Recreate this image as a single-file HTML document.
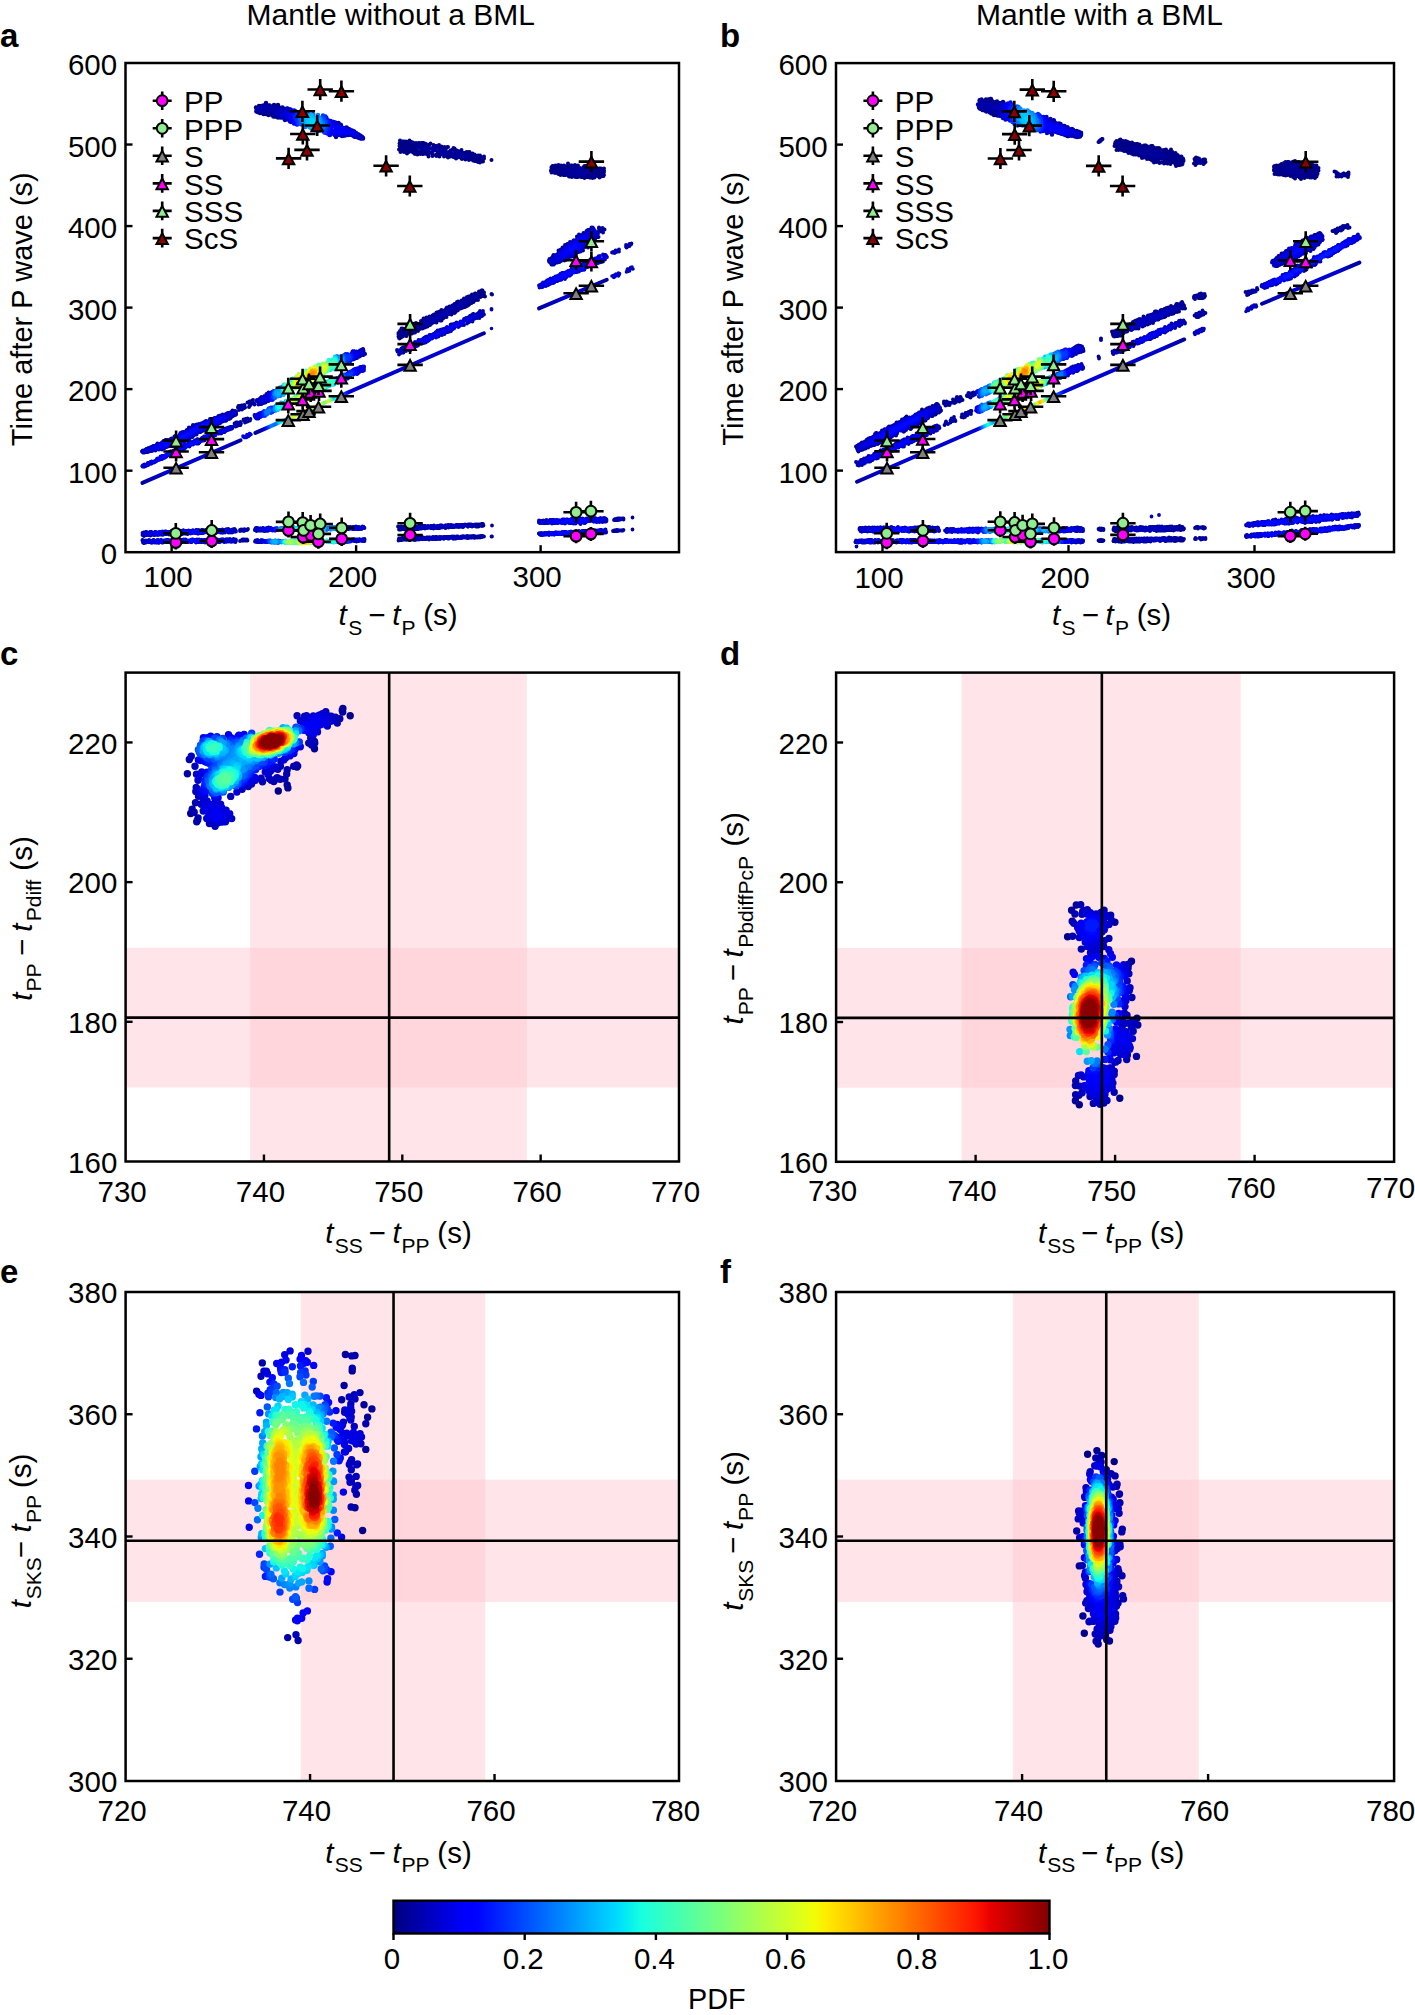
<!DOCTYPE html><html><head><meta charset="utf-8"><style>html,body{margin:0;padding:0;background:#fff;overflow:hidden;width:1415px;height:2015px;}svg{display:block;}text{font-family:"Liberation Sans",sans-serif;fill:#000;}</style></head><body>
<svg width="1415" height="2015" viewBox="0 0 1415 2015">
<rect width="1415" height="2015" fill="#fff"/>
<defs>
<clipPath id="clipa"><rect x="125.5" y="63.0" width="553.5" height="489.20000000000005"/></clipPath>
<clipPath id="clipb"><rect x="836.0" y="63.1" width="558.0" height="489.0"/></clipPath>
<clipPath id="clipc"><rect x="125.6" y="672.6" width="553.4" height="488.9"/></clipPath>
<clipPath id="clipd"><rect x="836.1" y="672.6" width="557.9999999999999" height="489.19999999999993"/></clipPath>
<clipPath id="clipe"><rect x="125.6" y="1292.0" width="553.4" height="489.0"/></clipPath>
<clipPath id="clipf"><rect x="836.1" y="1292.0" width="557.9999999999999" height="489.0"/></clipPath>
<linearGradient id="cbar" x1="0" x2="1" y1="0" y2="0"><stop offset="0.0000" stop-color="#000080"/><stop offset="0.0157" stop-color="#000092"/><stop offset="0.0314" stop-color="#0000a4"/><stop offset="0.0471" stop-color="#0000b6"/><stop offset="0.0627" stop-color="#0000c8"/><stop offset="0.0784" stop-color="#0000da"/><stop offset="0.0941" stop-color="#0000ed"/><stop offset="0.1098" stop-color="#0000ff"/><stop offset="0.1255" stop-color="#0000ff"/><stop offset="0.1412" stop-color="#0010ff"/><stop offset="0.1569" stop-color="#0020ff"/><stop offset="0.1725" stop-color="#0030ff"/><stop offset="0.1882" stop-color="#0040ff"/><stop offset="0.2039" stop-color="#0050ff"/><stop offset="0.2196" stop-color="#0060ff"/><stop offset="0.2353" stop-color="#0070ff"/><stop offset="0.2510" stop-color="#0080ff"/><stop offset="0.2667" stop-color="#0090ff"/><stop offset="0.2824" stop-color="#00a0ff"/><stop offset="0.2980" stop-color="#00b0ff"/><stop offset="0.3137" stop-color="#00c0ff"/><stop offset="0.3294" stop-color="#00d0ff"/><stop offset="0.3451" stop-color="#00e0fb"/><stop offset="0.3608" stop-color="#09f0ee"/><stop offset="0.3765" stop-color="#16ffe1"/><stop offset="0.3922" stop-color="#23ffd4"/><stop offset="0.4078" stop-color="#30ffc7"/><stop offset="0.4235" stop-color="#3cffba"/><stop offset="0.4392" stop-color="#49ffad"/><stop offset="0.4549" stop-color="#56ffa0"/><stop offset="0.4706" stop-color="#63ff94"/><stop offset="0.4863" stop-color="#70ff87"/><stop offset="0.5020" stop-color="#7dff7a"/><stop offset="0.5176" stop-color="#8aff6d"/><stop offset="0.5333" stop-color="#97ff60"/><stop offset="0.5490" stop-color="#a4ff53"/><stop offset="0.5647" stop-color="#b1ff46"/><stop offset="0.5804" stop-color="#beff39"/><stop offset="0.5961" stop-color="#caff2c"/><stop offset="0.6118" stop-color="#d7ff1f"/><stop offset="0.6275" stop-color="#e4ff13"/><stop offset="0.6431" stop-color="#f1fc06"/><stop offset="0.6588" stop-color="#feed00"/><stop offset="0.6745" stop-color="#ffde00"/><stop offset="0.6902" stop-color="#ffd000"/><stop offset="0.7059" stop-color="#ffc100"/><stop offset="0.7216" stop-color="#ffb200"/><stop offset="0.7373" stop-color="#ffa300"/><stop offset="0.7529" stop-color="#ff9400"/><stop offset="0.7686" stop-color="#ff8600"/><stop offset="0.7843" stop-color="#ff7700"/><stop offset="0.8000" stop-color="#ff6800"/><stop offset="0.8157" stop-color="#ff5900"/><stop offset="0.8314" stop-color="#ff4a00"/><stop offset="0.8471" stop-color="#ff3b00"/><stop offset="0.8627" stop-color="#ff2d00"/><stop offset="0.8784" stop-color="#ff1e00"/><stop offset="0.8941" stop-color="#fa0f00"/><stop offset="0.9098" stop-color="#e80000"/><stop offset="0.9255" stop-color="#d60000"/><stop offset="0.9412" stop-color="#c40000"/><stop offset="0.9569" stop-color="#b10000"/><stop offset="0.9725" stop-color="#9f0000"/><stop offset="0.9882" stop-color="#8d0000"/><stop offset="1" stop-color="#800000"/></linearGradient>
<filter id="blur1" x="-20%" y="-20%" width="140%" height="140%"><feGaussianBlur stdDeviation="1.2"/></filter>
<filter id="blur2" x="-30%" y="-30%" width="160%" height="160%"><feGaussianBlur stdDeviation="2.5"/></filter>
<filter id="blur3" x="-30%" y="-30%" width="160%" height="160%"><feGaussianBlur stdDeviation="4"/></filter>
</defs>
<text x="390.8" y="24.5" font-size="30" text-anchor="middle">Mantle without a BML</text>
<text x="1099.5" y="24.5" font-size="30" text-anchor="middle">Mantle with a BML</text>
<text x="0" y="47" font-size="33" font-weight="bold">a</text>
<text x="720" y="47" font-size="33" font-weight="bold">b</text>
<text x="0" y="665" font-size="33" font-weight="bold">c</text>
<text x="720" y="665" font-size="33" font-weight="bold">d</text>
<text x="0" y="1283" font-size="33" font-weight="bold">e</text>
<text x="720" y="1283" font-size="33" font-weight="bold">f</text>
<g clip-path="url(#clipc)" fill="#ffc0cb" fill-opacity="0.42">
<rect x="250.12" y="672.6" width="276.70" height="488.9"/>
<rect x="125.6" y="947.78" width="553.4" height="139.69"/>
</g>
<g clip-path="url(#clipd)" fill="#ffc0cb" fill-opacity="0.42">
<rect x="961.65" y="672.6" width="279.00" height="489.19999999999993"/>
<rect x="836.1" y="947.95" width="557.9999999999999" height="139.77"/>
</g>
<g clip-path="url(#clipe)" fill="#ffc0cb" fill-opacity="0.42">
<rect x="300.84" y="1292.0" width="184.47" height="489.0"/>
<rect x="125.6" y="1479.65" width="553.4" height="122.25"/>
</g>
<g clip-path="url(#clipf)" fill="#ffc0cb" fill-opacity="0.42">
<rect x="1012.80" y="1292.0" width="186.00" height="489.0"/>
<rect x="836.1" y="1479.65" width="557.9999999999999" height="122.25"/>
</g>
<g clip-path="url(#clipc)" fill="none" stroke-linecap="round" stroke-width="7.40">
<path stroke="#000089" d="M350.2 715.8h0M278.3 791.0h0"/>
<path stroke="#00009b" d="M287.9 787.9h0M287.2 784.9h0M342.9 708.5h0M314.5 748.7h0M190.7 813.5h0M342.2 710.4h0M297.7 766.1h0M297.0 767.1h0M342.7 712.1h0"/>
<path stroke="#0000ad" d="M192.2 809.3h0M286.7 773.9h0M187.4 773.7h0M296.6 764.9h0M285.0 778.9h0M297.1 715.8h0M196.7 821.8h0M287.2 769.8h0M293.7 766.2h0M197.4 820.2h0M194.2 812.2h0M339.8 718.7h0M197.7 820.1h0M189.3 759.5h0M195.5 802.7h0M262.5 781.8h0M280.2 779.2h0M273.8 781.6h0M311.6 745.0h0M337.3 723.0h0M314.8 743.1h0M198.1 818.0h0M271.2 780.3h0M308.7 743.1h0M276.3 778.8h0M314.5 741.5h0"/>
<path stroke="#0000bf" d="M277.2 777.6h0M311.7 742.5h0M269.2 778.4h0M231.7 818.6h0M280.4 766.2h0M261.1 778.3h0M195.8 791.5h0M335.4 717.3h0M215.1 826.2h0M325.8 711.7h0M230.7 796.4h0M196.2 787.5h0M209.4 823.6h0M277.8 769.3h0M196.6 788.1h0M198.5 796.2h0M197.1 789.8h0M195.0 766.2h0M268.2 774.8h0M242.1 789.2h0M304.6 716.3h0M333.3 720.6h0M248.3 786.5h0M306.5 715.6h0M191.3 756.2h0M331.2 716.2h0M248.1 786.3h0M332.8 720.1h0M310.7 737.9h0M255.4 780.3h0M251.6 784.0h0M201.2 804.2h0"/>
<path stroke="#0000d1" d="M196.5 774.2h0M269.5 772.1h0M229.1 818.1h0M327.4 726.1h0M236.9 792.1h0M229.7 813.8h0M203.3 800.4h0M293.9 753.5h0M225.5 821.7h0M275.4 767.0h0M255.6 778.6h0M322.4 713.6h0M329.0 716.2h0M271.1 770.4h0M331.0 720.7h0M200.8 793.5h0M220.6 804.1h0M272.9 768.8h0M268.1 771.4h0M330.7 721.3h0M300.4 720.9h0M206.7 818.5h0M253.3 780.5h0M200.5 792.4h0M313.2 734.9h0M203.2 811.0h0M289.8 755.9h0M198.0 780.2h0M317.5 731.9h0M303.9 719.3h0M207.1 801.0h0M283.8 760.0h0M222.1 822.1h0M204.6 804.3h0M328.4 721.9h0M218.2 822.8h0M325.9 716.6h0M226.1 810.2h0M323.0 715.5h0M319.0 715.1h0M265.3 771.9h0M313.3 716.0h0M198.6 779.2h0M306.9 718.4h0M227.3 815.6h0M214.5 803.3h0M252.5 779.1h0M272.8 766.9h0M280.9 761.3h0M221.6 807.5h0M226.8 813.3h0M271.2 767.9h0"/>
<path stroke="#0000e3" d="M204.9 808.8h0M290.6 754.6h0M228.5 734.7h0M205.3 807.5h0M226.4 813.2h0M285.7 757.8h0M205.2 809.8h0M325.5 722.9h0M225.3 811.6h0M319.0 716.5h0M316.3 716.8h0M313.1 732.4h0M202.6 793.3h0M206.4 807.1h0M206.3 807.5h0M210.7 804.5h0M208.9 805.0h0M324.5 719.1h0M209.4 816.7h0M324.2 723.2h0M254.5 777.1h0M220.1 808.1h0M300.3 746.8h0M324.0 723.1h0M223.2 818.8h0M225.2 815.7h0M225.2 813.8h0M308.9 732.7h0M224.9 816.0h0M211.1 805.6h0M322.8 724.0h0M213.8 819.5h0M205.0 795.1h0M214.9 819.8h0M293.0 752.2h0M223.8 812.4h0M323.0 721.7h0M216.0 819.8h0M210.8 816.5h0M215.5 807.4h0M208.7 813.3h0M309.8 731.9h0M221.9 810.8h0M321.5 719.5h0M221.9 818.2h0M210.7 807.3h0M218.1 797.7h0M320.5 724.8h0M314.8 718.9h0M214.7 797.8h0M316.9 718.8h0M220.6 810.4h0M214.0 818.3h0M317.3 727.5h0M209.2 810.0h0M209.3 811.9h0M209.5 809.5h0M303.2 725.7h0M201.8 771.9h0M321.2 721.3h0M310.6 720.5h0M320.9 721.2h0M220.1 818.3h0M220.2 810.9h0M248.9 780.3h0M217.2 818.7h0M304.8 724.4h0M203.9 793.3h0M210.8 809.3h0M251.0 778.6h0M315.9 727.9h0M211.6 815.0h0M318.4 725.5h0M213.2 808.9h0M201.8 773.7h0M211.1 809.9h0M306.6 730.1h0M211.5 814.4h0M217.3 818.2h0M311.2 721.0h0"/>
<path stroke="#0000f5" d="M304.3 726.6h0M314.3 720.7h0M310.5 729.8h0M238.9 735.3h0M317.0 720.9h0M218.4 817.3h0M305.3 728.0h0M306.4 730.3h0M202.5 790.8h0M291.2 752.8h0M307.1 724.1h0M316.5 725.6h0M306.0 728.2h0M216.7 816.8h0M216.6 816.7h0M198.4 759.9h0M218.6 816.3h0M312.6 728.2h0M316.1 721.9h0M216.2 811.7h0M216.6 811.8h0M305.6 729.1h0M315.6 725.7h0M218.0 816.0h0M307.9 724.5h0M217.2 812.6h0M310.8 728.3h0M215.4 814.1h0M315.5 723.2h0M315.3 724.5h0M308.9 727.6h0M308.7 726.7h0M313.5 724.0h0M246.4 781.6h0M312.4 724.4h0M310.4 725.3h0M312.3 725.2h0M304.2 728.0h0M203.4 737.7h0M295.1 749.3h0"/>
<path stroke="#0000ff" d="M237.9 736.7h0M200.9 760.5h0M302.8 727.5h0M270.0 764.1h0M244.1 734.4h0M231.0 737.8h0M242.0 784.4h0M210.7 736.2h0"/>
<path stroke="#0008ff" d="M266.7 764.9h0M215.9 795.8h0M203.9 787.8h0M267.7 764.2h0M303.9 730.3h0M244.0 781.6h0M205.0 761.5h0M206.3 762.2h0M205.9 790.9h0M207.1 772.1h0M272.0 761.0h0M205.6 761.2h0M263.1 765.8h0M207.3 737.7h0M250.8 774.1h0M241.5 783.3h0M288.7 751.9h0"/>
<path stroke="#0018ff" d="M208.9 763.3h0M270.0 761.5h0M205.0 780.8h0M255.7 769.6h0M241.7 782.7h0M204.8 784.2h0M230.4 739.7h0M300.8 728.5h0M206.1 778.1h0M274.2 758.9h0M217.0 736.8h0"/>
<path stroke="#0028ff" d="M248.5 774.6h0M259.0 766.4h0M292.0 749.0h0M244.2 779.3h0M301.0 729.2h0M246.2 776.9h0M212.4 793.5h0M273.1 758.9h0M289.6 750.5h0M237.0 740.4h0M243.1 780.1h0M230.5 740.7h0M258.2 766.1h0M205.9 782.9h0M264.1 762.9h0M211.8 768.8h0M208.2 775.7h0M213.4 764.9h0M251.0 770.7h0M207.2 778.7h0M204.4 740.2h0"/>
<path stroke="#0038ff" d="M299.3 742.0h0M222.8 738.5h0M202.9 741.1h0M208.1 776.8h0M212.5 768.5h0M298.2 728.0h0M238.2 784.3h0M246.7 774.7h0M264.2 762.0h0M256.2 766.0h0M208.2 777.3h0M251.7 733.2h0M232.7 742.4h0M243.2 778.5h0M296.1 727.3h0M288.3 750.4h0M209.1 759.2h0M211.3 771.9h0M284.7 752.4h0M215.6 793.1h0M250.4 769.6h0M264.5 761.2h0M235.4 786.1h0"/>
<path stroke="#0048ff" d="M252.8 767.4h0M198.4 749.7h0M200.1 753.5h0M214.5 767.8h0M214.4 792.6h0M199.2 751.9h0M216.2 765.0h0M256.0 764.7h0M235.3 743.0h0M206.4 757.6h0M222.9 739.5h0M261.7 761.8h0M214.7 738.3h0M208.3 780.3h0M247.9 770.9h0M223.2 791.9h0M253.0 765.9h0"/>
<path stroke="#0058ff" d="M244.8 774.7h0M208.3 781.0h0M216.7 792.4h0M237.8 742.7h0M235.7 785.1h0M200.5 745.3h0M296.0 728.2h0M237.8 782.9h0M214.2 759.0h0M221.6 791.9h0M200.0 751.3h0M295.9 728.2h0M203.1 754.9h0M200.1 751.4h0M215.7 759.0h0"/>
<path stroke="#0068ff" d="M298.9 730.7h0M220.8 760.2h0M221.2 761.4h0M249.5 766.4h0M227.4 743.1h0M242.6 776.1h0M200.1 749.5h0M215.7 769.9h0M221.2 762.9h0M229.9 745.1h0M212.7 790.1h0M211.3 776.5h0M246.2 738.1h0M250.8 764.7h0M209.5 785.3h0M243.2 740.3h0M212.7 789.8h0M222.1 763.0h0M230.5 746.0h0M213.2 773.8h0M207.3 740.9h0"/>
<path stroke="#0078ff" d="M219.7 740.0h0M295.8 743.0h0M247.4 766.8h0M225.0 758.9h0M210.5 786.8h0M217.1 757.3h0M223.3 790.5h0M220.7 766.0h0M222.6 764.0h0M221.7 757.1h0M226.1 757.0h0M226.5 760.3h0M230.3 748.2h0M225.1 756.2h0M230.8 748.6h0"/>
<path stroke="#0087ff" d="M225.9 755.7h0M226.9 760.6h0M231.1 749.5h0M247.5 764.7h0M244.4 768.9h0M252.3 761.8h0M229.2 755.2h0M229.2 757.9h0M235.7 748.1h0M215.8 772.1h0M255.7 760.6h0M229.1 753.8h0M205.2 754.2h0M230.0 757.2h0M244.5 768.2h0M238.8 745.5h0M217.2 756.4h0M229.7 751.6h0M231.2 753.3h0M231.3 755.6h0M278.8 753.2h0M226.5 745.0h0M220.2 755.9h0M226.6 762.5h0M228.0 761.3h0M235.4 782.8h0M232.6 755.7h0M242.0 743.0h0"/>
<path stroke="#0097ff" d="M230.8 759.8h0M225.7 764.0h0M217.1 755.8h0M203.1 751.6h0M234.3 754.0h0M225.8 764.2h0M229.7 761.6h0M223.5 743.1h0M231.1 760.7h0M285.1 749.8h0M235.5 752.1h0M242.4 769.8h0M228.6 787.4h0M235.1 754.9h0M239.0 747.0h0M209.3 741.5h0M222.8 789.5h0M237.3 749.7h0M251.5 760.3h0M220.8 741.9h0M213.7 776.9h0M222.1 753.7h0M212.4 779.9h0"/>
<path stroke="#00a7ff" d="M225.6 750.2h0M222.9 752.9h0M230.9 762.8h0M246.8 761.0h0M235.8 759.8h0M210.2 754.8h0M228.7 764.0h0M238.6 748.7h0M293.3 743.9h0M216.4 789.0h0M226.4 765.4h0M231.7 785.0h0M208.8 742.0h0M238.5 777.3h0M249.1 760.2h0M222.4 768.2h0M235.3 761.2h0M221.8 742.9h0M242.1 762.6h0M215.7 774.6h0M237.9 752.2h0M263.4 757.2h0M229.6 764.2h0M257.7 758.4h0M239.4 748.4h0M238.9 758.7h0M222.8 768.3h0M239.4 761.8h0M243.1 760.5h0M241.6 760.6h0M203.7 750.3h0M238.9 757.5h0M295.5 730.9h0M238.8 763.1h0M212.5 782.6h0"/>
<path stroke="#00b7ff" d="M224.0 750.6h0M270.6 755.1h0M223.3 751.0h0M213.1 784.7h0M233.2 764.0h0M250.0 759.0h0M216.0 788.1h0M238.5 764.9h0M203.9 747.1h0M235.6 780.4h0M216.9 774.1h0M238.7 774.9h0M250.1 737.7h0M239.6 751.1h0M222.2 751.5h0M242.2 757.9h0M258.9 757.7h0M204.9 745.5h0M251.2 737.1h0M287.2 747.9h0M283.0 727.6h0M233.3 764.8h0M258.0 757.7h0"/>
<path stroke="#00c7ff" d="M237.3 766.2h0M240.3 752.9h0M216.2 753.7h0M236.1 766.0h0M216.4 787.5h0M248.8 758.0h0M240.6 750.5h0M256.4 757.6h0M207.4 752.5h0M236.6 766.8h0M241.2 753.4h0M223.5 769.5h0M257.6 757.3h0M250.1 757.7h0M205.0 747.3h0M222.6 748.1h0M286.7 728.3h0M226.0 786.8h0M246.5 757.0h0"/>
<path stroke="#00d7ff" d="M207.6 744.2h0M236.9 768.8h0M224.9 769.1h0M241.6 749.9h0M235.9 767.9h0M209.6 752.8h0M242.9 754.2h0M220.7 787.7h0M281.6 750.3h0M221.7 787.6h0M210.1 752.7h0M245.8 755.9h0M218.3 774.6h0M237.0 772.7h0M236.3 770.0h0"/>
<path stroke="#01e7f5" d="M207.4 751.1h0M206.6 750.1h0M295.6 733.7h0M284.2 748.7h0M242.8 750.3h0M206.5 746.4h0M274.2 752.9h0M235.3 777.3h0M227.5 769.3h0M211.4 752.3h0M211.1 743.5h0M221.6 772.4h0M215.4 781.4h0M243.3 751.3h0M211.9 752.2h0M269.0 754.4h0M220.3 773.7h0M243.3 749.8h0M234.3 770.1h0M251.5 738.1h0"/>
<path stroke="#0ef7e9" d="M216.3 751.6h0M247.1 742.1h0M235.5 772.9h0M215.9 781.6h0M235.3 774.7h0M229.9 769.7h0M247.1 742.3h0M223.3 772.2h0M287.6 746.3h0M219.1 746.2h0M214.3 751.5h0M223.4 772.2h0M216.7 779.7h0"/>
<path stroke="#1bffdc" d="M234.6 775.4h0M219.0 747.7h0M214.0 744.1h0M269.6 753.8h0M249.3 754.8h0M230.7 781.8h0M216.0 750.6h0M244.5 748.4h0M225.9 784.9h0M222.1 785.8h0M218.0 784.6h0M212.3 744.5h0M221.0 785.8h0M217.1 783.3h0M231.2 781.0h0M233.0 772.1h0M212.4 750.9h0M211.2 744.9h0M232.2 779.6h0M229.4 771.0h0M272.4 752.9h0M246.2 752.4h0M225.0 772.2h0M209.1 746.6h0M212.4 750.6h0M278.5 750.7h0M209.0 746.8h0"/>
<path stroke="#28ffcf" d="M217.4 782.9h0M209.1 747.0h0M269.6 730.5h0M246.2 751.9h0M224.0 773.1h0M216.9 746.3h0M230.3 781.2h0M224.3 784.7h0M209.5 748.6h0M289.3 730.3h0M294.0 738.8h0M223.6 773.7h0M246.0 746.0h0M225.2 784.3h0M220.9 784.8h0M261.7 754.7h0M225.5 784.0h0M218.7 779.0h0"/>
<path stroke="#35ffc2" d="M210.3 748.2h0M215.6 746.5h0M232.1 777.6h0M212.8 749.3h0M213.6 749.3h0M218.5 780.1h0M222.3 784.5h0M267.5 753.7h0M215.3 748.4h0M293.1 740.0h0M213.2 749.0h0M294.1 737.5h0M218.9 779.5h0M212.6 748.3h0M214.2 747.9h0M219.7 778.4h0M249.6 753.1h0M228.6 781.6h0M225.0 783.6h0M246.9 745.5h0M265.8 753.8h0M258.8 754.6h0M246.4 748.2h0M248.0 743.6h0"/>
<path stroke="#42ffb5" d="M219.4 779.8h0M246.5 748.2h0M230.4 774.6h0M230.5 774.8h0M222.3 776.2h0M225.6 782.9h0M224.5 783.3h0M224.8 774.7h0M224.7 774.8h0M221.2 783.0h0M247.4 750.3h0M221.4 778.0h0"/>
<path stroke="#4effa8" d="M220.6 781.5h0M247.4 746.4h0M225.1 782.1h0M221.0 780.2h0M221.7 778.5h0M273.0 751.7h0M287.6 730.6h0M273.4 751.6h0M226.5 780.9h0M286.1 730.3h0"/>
<path stroke="#5bff9c" d="M224.6 776.9h0M254.7 753.4h0M277.9 749.9h0M288.9 743.5h0M278.6 749.6h0M227.5 779.0h0M225.5 779.6h0M252.2 752.4h0"/>
<path stroke="#68ff8f" d="M254.3 738.5h0M250.6 751.1h0M268.8 731.7h0M259.1 735.6h0M284.2 730.4h0M250.6 751.0h0"/>
<path stroke="#75ff82" d="M287.7 731.4h0M265.7 752.7h0M251.9 751.5h0M275.4 750.3h0M281.2 747.8h0"/>
<path stroke="#82ff75" d="M268.5 752.0h0M281.9 730.6h0M259.2 752.7h0M291.6 738.1h0M253.5 751.4h0"/>
<path stroke="#8fff68" d="M288.3 732.3h0M271.5 751.1h0M279.0 730.7h0M256.5 738.0h0M291.2 735.4h0M274.5 731.2h0M289.7 733.5h0M273.7 731.3h0"/>
<path stroke="#9cff5b" d="M263.7 734.3h0M289.4 740.9h0M252.3 749.6h0M253.3 750.3h0"/>
<path stroke="#a8ff4e" d="M267.0 751.6h0M278.2 731.1h0M259.8 751.9h0M289.2 733.7h0M287.4 742.9h0M278.4 731.1h0M254.7 740.1h0M253.8 750.3h0M253.9 740.9h0M286.8 743.2h0"/>
<path stroke="#b5ff42" d="M278.4 731.3h0M254.4 740.8h0M277.3 748.5h0M268.2 733.1h0M254.4 750.0h0M290.1 736.5h0"/>
<path stroke="#c2ff35" d="M265.3 751.4h0M252.4 748.0h0M277.3 731.5h0M289.8 738.6h0M266.7 751.1h0M269.8 750.6h0M266.5 733.8h0M284.8 732.2h0M269.0 733.0h0"/>
<path stroke="#cfff28" d="M288.3 734.1h0M254.4 741.7h0M279.2 747.2h0M275.9 748.6h0"/>
<path stroke="#dcff1b" d="M283.5 732.2h0M265.9 750.9h0M253.7 742.8h0M285.3 743.6h0M272.4 749.6h0M277.1 731.9h0M275.2 732.1h0M278.8 747.3h0M263.3 750.9h0M277.6 732.0h0M277.8 732.0h0M280.5 746.4h0"/>
<path stroke="#e9ff0e" d="M253.5 746.8h0M275.9 732.2h0M284.7 743.7h0M272.3 749.3h0M258.4 750.1h0"/>
<path stroke="#f5f701" d="M280.2 732.2h0M259.0 738.3h0M261.8 736.7h0"/>
<path stroke="#ffe800" d="M256.2 748.7h0M287.1 740.6h0M287.9 738.9h0M256.9 748.9h0M280.9 745.6h0M279.1 732.5h0"/>
<path stroke="#ffda00" d="M270.4 749.3h0M270.6 733.6h0M262.7 750.0h0M258.1 749.2h0M287.7 737.2h0"/>
<path stroke="#ffcb00" d="M255.3 746.5h0M268.6 734.3h0M287.5 737.2h0M276.7 732.9h0M257.9 748.5h0M262.2 749.6h0"/>
<path stroke="#ffbc00" d="M277.3 732.9h0M272.8 748.3h0M257.7 740.6h0M259.9 738.8h0M263.6 736.6h0M284.9 741.8h0"/>
<path stroke="#ffad00" d="M262.8 737.1h0M286.3 739.6h0"/>
<path stroke="#ff9e00" d="M263.7 749.2h0M285.9 739.7h0M277.3 746.4h0M256.9 746.3h0M285.5 735.8h0"/>
<path stroke="#ff9000" d="M281.4 733.8h0M258.2 747.4h0M256.7 745.0h0M276.2 746.6h0M266.6 748.8h0M266.6 735.8h0M260.7 739.1h0M265.7 736.2h0"/>
<path stroke="#ff8100" d="M284.5 741.1h0M262.4 738.0h0M272.4 747.7h0M260.5 748.0h0M284.4 741.0h0"/>
<path stroke="#ff7200" d="M264.0 737.3h0M271.8 734.6h0"/>
<path stroke="#ff6300" d="M267.9 735.9h0M262.1 747.8h0M258.3 744.2h0M264.2 737.6h0"/>
<path stroke="#ff5500" d="M261.1 739.7h0M263.5 747.9h0M282.0 742.6h0M269.8 747.6h0M283.8 736.4h0"/>
<path stroke="#ff4600" d="M283.1 735.9h0M259.0 745.1h0M281.5 735.2h0M258.9 744.4h0M277.7 734.6h0M263.1 738.7h0M278.3 734.7h0"/>
<path stroke="#ff3700" d="M270.1 747.3h0M260.3 741.3h0M283.3 736.8h0M275.2 745.9h0"/>
<path stroke="#ff2800" d="M276.6 745.2h0M271.6 735.5h0M274.7 745.8h0M261.9 746.6h0M259.8 744.4h0M281.9 741.4h0"/>
<path stroke="#ff1a00" d="M281.1 735.8h0M265.1 747.1h0M270.5 746.8h0M262.1 740.2h0M280.1 735.5h0M265.2 747.0h0M277.4 735.2h0M281.5 741.5h0M279.7 735.5h0M280.9 736.0h0M264.4 738.6h0M269.1 746.8h0"/>
<path stroke="#f50b00" d="M280.6 742.2h0M281.5 736.4h0M260.5 743.2h0M268.8 746.8h0M279.4 735.6h0M260.7 744.5h0M280.6 742.2h0M270.2 736.2h0M264.4 738.8h0M280.4 742.3h0M282.5 738.1h0M280.1 736.0h0"/>
<path stroke="#e30000" d="M261.7 745.2h0M280.8 736.6h0M261.7 742.0h0"/>
<path stroke="#d10000" d="M280.1 736.5h0M274.9 744.9h0M264.7 739.2h0M280.8 737.1h0"/>
<path stroke="#bf0000" d="M270.7 736.7h0M266.4 746.1h0M265.2 745.9h0M262.3 744.3h0M263.8 745.4h0M263.1 744.9h0M268.4 746.0h0M280.6 740.7h0M280.0 741.4h0M272.9 745.2h0"/>
<path stroke="#ad0000" d="M269.8 745.9h0M262.5 743.3h0M280.8 739.4h0M280.8 739.1h0M278.1 742.7h0M262.6 743.1h0M274.7 744.4h0M266.8 738.5h0M271.0 745.5h0M279.8 737.4h0"/>
<path stroke="#9b0000" d="M273.3 736.6h0M264.1 740.6h0M275.3 744.1h0M277.0 743.1h0"/>
<path stroke="#890000" d="M280.1 738.4h0M264.3 740.9h0M276.4 743.3h0M274.5 744.2h0M278.1 742.1h0M271.6 737.2h0M274.5 744.0h0M266.6 745.1h0M272.7 738.3h0M266.4 743.9h0M269.4 744.9h0M279.6 738.8h0M265.0 741.3h0M267.1 740.6h0M277.4 737.4h0M270.5 739.3h0M271.6 738.8h0M275.4 740.8h0M279.7 738.9h0M265.8 741.0h0M270.3 742.8h0M271.8 740.5h0M276.3 738.2h0M267.3 742.4h0M271.2 743.3h0M268.5 740.0h0M272.6 739.9h0M274.0 738.7h0M265.4 741.8h0M270.5 740.6h0M270.2 745.0h0M275.6 737.8h0M267.4 740.1h0M274.1 743.9h0M265.1 741.7h0M266.5 744.5h0M267.8 741.7h0M268.5 743.6h0M278.7 740.4h0M276.7 737.6h0M276.3 738.7h0M275.7 742.0h0M270.2 742.2h0M266.8 742.0h0M278.4 740.6h0M272.2 739.3h0M271.0 741.1h0M267.7 738.9h0M274.2 739.3h0M267.2 742.7h0M276.8 737.8h0M269.3 743.1h0M269.6 744.5h0M271.0 744.3h0M275.4 738.5h0M264.2 743.7h0M267.4 739.2h0M276.8 741.5h0M278.8 740.0h0M271.3 740.5h0M274.6 739.3h0M267.4 744.8h0M276.6 738.6h0M272.5 740.6h0M271.2 738.1h0M266.8 743.8h0M268.8 742.5h0M279.7 738.7h0M270.6 744.2h0M276.4 740.7h0M271.9 740.9h0M270.4 743.3h0M275.0 738.0h0M270.3 741.0h0M277.6 741.9h0M272.1 743.0h0M274.2 737.5h0M274.7 739.3h0M264.9 742.5h0M269.3 741.9h0M267.7 739.7h0M278.2 740.5h0M272.0 744.8h0"/>
</g>
<g clip-path="url(#clipd)" fill="none" stroke-linecap="round" stroke-width="7.40">
<path stroke="#000089" d="M1119.8 1098.2h0M1067.6 936.8h0M1079.3 1104.7h0"/>
<path stroke="#00009b" d="M1136.5 1056.4h0M1075.4 1100.7h0M1071.6 910.3h0M1131.5 961.2h0M1076.3 905.0h0M1137.0 1018.2h0M1114.9 922.3h0"/>
<path stroke="#0000ad" d="M1075.6 1094.8h0M1080.7 904.7h0M1137.8 1025.0h0M1072.6 936.3h0M1075.7 1081.0h0M1075.4 1085.6h0M1072.2 921.3h0M1074.9 914.0h0M1081.3 949.1h0M1078.9 1095.3h0M1127.0 1015.2h0M1108.9 938.4h0M1131.9 997.5h0M1093.3 1103.4h0M1128.6 964.3h0M1126.7 1059.5h0M1114.2 1092.3h0M1110.7 915.3h0"/>
<path stroke="#0000bf" d="M1100.1 1104.3h0M1132.5 1021.3h0M1103.9 1103.0h0M1111.3 920.0h0M1107.0 1100.5h0M1073.8 923.2h0M1100.7 1103.6h0M1104.1 910.1h0M1128.1 968.1h0M1128.9 973.8h0M1118.1 1060.5h0M1096.2 1102.0h0M1131.4 1023.7h0M1115.9 1062.1h0M1104.4 940.6h0M1078.5 1075.5h0M1131.6 1025.3h0M1114.8 1062.3h0M1109.0 924.4h0M1133.2 1031.3h0M1082.1 1092.7h0M1127.9 1023.0h0M1083.8 910.4h0M1133.0 1031.0h0M1130.0 987.7h0M1122.3 1019.7h0M1079.7 1086.1h0M1087.3 909.8h0M1082.6 911.8h0M1103.0 945.2h0M1131.5 1026.9h0M1124.3 1012.9h0M1121.2 1023.5h0M1126.6 968.0h0M1103.7 946.5h0M1127.4 1054.9h0M1081.9 914.2h0M1114.3 1071.1h0M1129.3 990.4h0M1114.2 1074.5h0M1090.0 1096.5h0M1102.3 911.9h0M1090.5 952.8h0M1103.4 912.6h0M1122.9 1025.1h0"/>
<path stroke="#0000d1" d="M1132.5 1038.6h0M1107.0 925.1h0M1091.2 951.4h0M1105.6 915.0h0M1112.2 1087.6h0M1097.5 946.9h0M1095.9 948.1h0M1101.1 912.5h0M1085.0 913.2h0M1114.2 1052.7h0M1112.9 1083.1h0M1079.3 937.5h0M1093.1 952.3h0M1101.2 1098.1h0M1112.5 1083.6h0M1123.8 1054.3h0M1125.0 966.8h0M1095.7 1097.4h0M1081.1 1075.0h0M1108.8 949.7h0M1120.6 1054.4h0M1129.7 1049.2h0M1125.0 1006.6h0M1105.1 917.2h0M1099.8 941.3h0M1087.3 946.4h0M1111.4 1068.0h0M1130.2 1047.8h0M1123.8 1053.8h0M1083.8 1076.9h0M1090.4 912.8h0M1123.2 1053.7h0M1114.9 1050.9h0M1086.7 914.1h0M1110.6 1087.5h0M1087.4 945.9h0M1088.7 913.4h0M1127.1 1051.6h0M1092.4 947.0h0M1077.6 927.4h0M1126.8 997.6h0M1104.9 1094.7h0M1110.7 1068.1h0M1123.7 964.8h0M1097.6 951.3h0M1111.9 1080.0h0M1088.4 945.8h0M1125.9 1000.7h0M1111.1 1071.0h0M1116.0 1049.8h0M1104.3 929.8h0M1109.2 1088.0h0M1096.1 913.9h0M1102.2 916.1h0M1127.2 980.9h0M1078.4 928.6h0M1129.5 1045.9h0M1109.5 1068.1h0M1103.7 1094.1h0M1109.4 1068.1h0M1088.0 944.5h0M1079.6 925.1h0M1073.1 972.3h0M1103.9 921.9h0M1121.2 1029.7h0M1120.5 1051.1h0M1085.3 942.3h0M1126.1 1031.6h0M1129.3 1036.7h0M1084.3 1085.6h0M1097.2 1094.8h0M1094.9 914.7h0"/>
<path stroke="#0000e3" d="M1094.6 1094.1h0M1119.6 1050.3h0M1128.6 1046.3h0M1089.6 1091.8h0M1099.5 937.9h0M1079.2 931.1h0M1101.8 1094.1h0M1126.1 997.1h0M1126.8 990.0h0M1106.6 1089.6h0M1105.4 1091.0h0M1086.5 958.6h0M1081.2 923.2h0M1103.3 1092.5h0M1126.3 1048.4h0M1116.0 1046.3h0M1095.4 941.7h0M1110.3 1059.7h0M1088.3 942.9h0M1086.7 1088.3h0M1088.7 1090.2h0M1101.9 920.5h0M1128.5 1038.1h0M1099.9 1093.1h0M1080.5 926.6h0M1091.0 1091.3h0M1123.7 1032.1h0M1091.1 915.2h0M1126.6 1034.8h0M1086.4 1086.9h0M1086.0 1085.8h0M1094.0 1091.8h0M1128.1 1042.6h0M1108.6 1082.3h0M1109.0 1079.9h0M1086.4 1085.9h0M1080.8 930.3h0M1126.2 989.2h0M1108.7 1075.3h0M1110.5 953.6h0M1101.9 932.1h0M1116.3 1031.2h0M1102.5 1089.4h0M1082.0 933.8h0M1115.4 1041.2h0M1091.3 1089.5h0M1102.0 1089.5h0M1122.0 1033.8h0M1092.4 956.4h0M1115.6 1040.9h0M1126.5 1042.5h0M1098.8 918.3h0M1116.1 1041.3h0M1104.4 1068.1h0M1125.0 1044.6h0M1098.5 1090.0h0M1104.0 1087.1h0M1082.1 928.9h0M1126.2 1041.3h0M1119.8 1044.2h0M1107.7 1077.5h0M1120.4 1034.3h0M1112.4 1050.7h0M1124.8 1036.6h0M1124.3 1044.4h0M1107.3 1080.1h0M1090.2 1087.8h0M1083.6 935.5h0M1088.5 1085.9h0M1101.5 922.4h0M1082.2 924.7h0M1125.1 1042.2h0M1097.0 917.5h0M1124.3 999.9h0M1121.4 1043.7h0M1115.7 1032.6h0"/>
<path stroke="#0000f5" d="M1117.2 1037.1h0M1106.6 1073.9h0M1086.3 938.1h0M1104.5 1069.7h0M1122.7 1036.4h0M1124.4 1042.0h0M1087.5 938.9h0M1082.9 929.9h0M1097.3 1088.4h0M1083.9 934.5h0M1106.3 1080.6h0M1115.3 1034.2h0M1120.4 1036.2h0M1122.7 1036.9h0M1124.6 976.1h0M1124.0 1041.6h0M1119.3 1036.9h0M1082.5 924.6h0M1089.0 1077.1h0M1090.2 916.7h0M1120.7 1037.7h0M1096.2 936.0h0M1122.9 1040.4h0M1084.8 935.2h0M1087.4 937.7h0M1123.7 973.3h0M1099.5 1086.3h0M1090.5 1074.9h0M1089.4 1082.3h0M1103.2 1068.2h0M1089.7 1082.9h0M1124.7 994.0h0M1104.8 1079.9h0M1102.5 1070.1h0M1089.9 1077.4h0M1101.2 929.4h0M1093.9 936.3h0M1101.4 928.1h0M1091.3 937.5h0M1102.4 1068.7h0M1090.4 1082.4h0M1090.1 1079.7h0M1101.9 1082.9h0M1097.2 1085.2h0M1091.8 1083.9h0M1090.6 1077.8h0M1092.4 936.5h0M1096.8 918.6h0M1097.6 934.1h0M1092.2 1083.6h0M1086.3 933.5h0M1114.2 1037.0h0M1092.8 935.7h0M1092.7 1073.9h0M1115.6 1028.9h0M1102.8 1079.8h0M1089.7 936.1h0M1112.3 957.2h0M1102.5 1080.1h0M1088.7 1073.6h0M1102.7 1079.3h0M1092.0 1076.1h0M1102.7 1074.1h0M1092.3 1081.7h0M1092.1 1081.4h0M1089.4 935.1h0M1102.4 1074.9h0M1088.6 934.5h0M1099.7 1081.8h0M1110.1 1054.5h0M1093.7 1074.2h0M1098.4 1082.1h0M1074.5 974.4h0M1112.6 1044.4h0M1099.3 1072.1h0M1098.2 1072.1h0M1101.0 1073.9h0"/>
<path stroke="#0000ff" d="M1089.4 960.3h0M1099.6 1080.3h0M1088.3 933.7h0M1099.9 1080.0h0M1095.1 1081.2h0M1089.9 960.1h0M1096.8 1072.9h0M1100.9 1069.1h0M1096.0 934.0h0M1091.5 1073.1h0M1098.4 1073.1h0M1100.1 1078.1h0M1096.1 1074.2h0M1096.1 1074.2h0M1094.5 1078.6h0M1096.6 1079.4h0M1099.9 928.7h0M1095.4 1076.5h0M1097.2 1078.9h0M1097.3 920.4h0M1100.0 925.6h0M1116.6 1022.1h0M1094.3 934.2h0M1099.5 924.0h0M1091.7 934.3h0M1092.9 934.3h0M1098.8 957.3h0M1094.7 919.3h0M1121.5 972.3h0M1097.2 932.2h0M1098.8 929.8h0M1118.6 1013.4h0M1086.8 930.9h0M1097.6 1070.4h0M1119.4 967.8h0M1092.6 933.3h0M1087.2 921.7h0M1123.3 987.6h0M1090.0 961.4h0"/>
<path stroke="#0008ff" d="M1094.6 1071.0h0M1122.8 989.7h0M1112.5 1038.7h0M1104.3 958.4h0M1120.6 1003.4h0M1116.5 964.9h0M1096.2 1070.1h0M1113.4 1033.1h0M1090.3 931.7h0M1088.8 921.7h0M1087.5 929.2h0M1092.8 931.7h0M1090.9 931.4h0M1087.8 923.5h0M1122.3 988.3h0M1099.8 1067.5h0M1122.3 986.1h0M1088.9 1070.7h0M1092.2 921.6h0M1120.5 975.1h0"/>
<path stroke="#0018ff" d="M1086.4 965.2h0M1088.9 924.3h0M1088.7 927.6h0M1090.1 923.2h0M1094.0 923.1h0M1095.4 924.8h0M1094.3 923.9h0M1120.3 976.4h0M1089.4 925.4h0M1111.3 1040.5h0M1121.5 987.7h0M1097.4 1067.9h0M1092.6 928.6h0M1099.9 1066.0h0M1090.7 924.9h0M1093.7 925.1h0M1121.0 991.8h0M1105.0 1059.4h0M1106.9 961.2h0M1092.3 926.1h0"/>
<path stroke="#0028ff" d="M1118.7 1003.9h0M1107.9 1052.1h0M1120.5 991.8h0M1117.9 972.9h0M1119.6 980.2h0M1110.6 1039.3h0M1117.6 973.3h0M1115.4 1015.1h0M1118.2 975.3h0M1119.9 983.7h0"/>
<path stroke="#0038ff" d="M1093.1 1067.8h0M1110.7 1036.7h0M1116.9 973.3h0M1101.8 962.8h0M1072.9 984.8h0M1115.1 970.9h0M1118.9 983.0h0M1094.9 964.5h0M1118.6 981.6h0M1118.9 989.6h0"/>
<path stroke="#0048ff" d="M1109.5 966.2h0M1118.7 987.7h0M1084.1 970.6h0M1118.4 992.8h0M1097.6 1064.0h0M1118.3 989.6h0M1114.5 972.8h0M1117.4 998.5h0M1115.2 974.2h0M1108.0 1044.8h0M1109.8 1035.6h0M1115.0 974.2h0"/>
<path stroke="#0058ff" d="M1106.4 966.2h0M1109.5 967.8h0M1090.6 967.5h0M1112.6 1019.5h0M1108.9 967.7h0M1115.8 977.5h0M1110.0 1032.4h0M1115.4 976.8h0M1093.9 967.0h0M1092.0 967.8h0M1096.6 1063.1h0"/>
<path stroke="#0068ff" d="M1116.8 990.6h0M1112.8 974.2h0M1070.6 996.8h0M1115.4 980.5h0M1108.5 969.9h0M1088.8 970.1h0"/>
<path stroke="#0078ff" d="M1094.7 1063.0h0M1111.1 972.7h0M1094.1 1063.2h0M1111.8 973.8h0M1115.8 994.0h0M1114.5 980.6h0M1115.8 990.8h0M1104.9 1049.2h0M1111.1 1019.9h0M1097.1 1060.9h0M1092.6 969.6h0M1112.1 975.9h0"/>
<path stroke="#0087ff" d="M1075.4 986.2h0M1081.3 977.3h0M1113.9 1004.3h0M1070.3 1035.6h0M1109.1 1028.5h0M1112.2 1012.2h0M1115.0 990.7h0M1111.6 976.7h0M1111.7 1013.9h0"/>
<path stroke="#0097ff" d="M1113.5 981.7h0M1107.5 972.4h0M1074.4 989.6h0M1107.5 1034.9h0M1087.3 1061.2h0M1114.1 994.5h0M1114.0 988.5h0M1083.9 976.1h0M1070.0 1029.5h0"/>
<path stroke="#00a7ff" d="M1104.0 972.1h0M1105.2 972.9h0M1072.5 996.4h0M1091.3 1060.6h0M1108.0 975.5h0"/>
<path stroke="#00b7ff" d="M1113.1 989.0h0M1082.6 978.4h0M1112.1 983.8h0M1104.6 973.7h0M1112.8 997.1h0M1109.6 979.0h0M1111.7 984.1h0M1109.2 978.8h0"/>
<path stroke="#00c7ff" d="M1086.0 976.3h0M1111.5 985.0h0M1097.9 972.7h0M1108.2 1023.5h0M1080.6 981.8h0"/>
<path stroke="#00d7ff" d="M1111.5 991.2h0M1110.2 984.8h0"/>
<path stroke="#01e7f5" d="M1079.7 1051.6h0M1106.4 978.5h0M1080.8 982.9h0M1100.3 974.8h0M1091.8 975.1h0M1104.8 977.6h0M1097.8 974.9h0"/>
<path stroke="#0ef7e9" d="M1102.7 976.6h0M1110.5 993.5h0M1105.4 1030.9h0"/>
<path stroke="#1bffdc" d="M1098.0 975.9h0M1071.7 1021.1h0M1074.3 1036.8h0"/>
<path stroke="#28ffcf" d="M1086.4 979.8h0M1103.7 980.1h0M1072.6 1008.8h0M1106.8 1019.1h0M1082.7 983.4h0"/>
<path stroke="#35ffc2" d="M1109.0 999.8h0M1073.1 1007.0h0M1072.4 1014.4h0M1072.6 1013.9h0"/>
<path stroke="#42ffb5" d="M1103.9 982.1h0M1108.3 999.5h0M1072.9 1020.5h0M1105.2 984.7h0"/>
<path stroke="#4effa8" d="M1108.0 996.3h0M1093.8 978.7h0M1073.4 1010.1h0M1107.9 1000.2h0M1091.3 979.5h0"/>
<path stroke="#5bff9c" d="M1076.3 1037.4h0M1086.3 1051.6h0M1105.2 987.2h0"/>
<path stroke="#68ff8f" d="M1073.6 1019.5h0M1097.0 1047.1h0M1097.3 981.0h0M1093.9 980.6h0M1075.8 1033.4h0M1076.9 997.8h0"/>
<path stroke="#75ff82" d="M1077.1 997.6h0M1096.3 981.1h0M1074.0 1016.6h0M1106.3 1007.5h0M1081.7 988.8h0M1105.3 991.4h0M1075.1 1028.5h0M1103.5 987.1h0M1104.1 1021.9h0"/>
<path stroke="#82ff75" d="M1088.4 982.9h0M1075.2 1005.7h0M1092.3 981.6h0M1079.9 992.2h0M1074.3 1015.5h0M1103.6 1023.8h0M1084.5 986.1h0M1074.4 1018.4h0M1080.6 991.3h0"/>
<path stroke="#8fff68" d="M1074.7 1011.3h0M1104.4 991.0h0M1085.1 985.9h0M1105.8 1002.6h0M1089.7 983.2h0"/>
<path stroke="#9cff5b" d="M1075.7 1006.5h0M1104.6 1013.5h0M1076.1 1004.6h0M1102.2 1027.4h0M1098.1 984.1h0M1078.2 998.0h0M1078.8 996.5h0M1105.1 999.4h0"/>
<path stroke="#a8ff4e" d="M1103.5 1019.3h0M1085.0 1046.5h0M1093.1 1046.9h0M1084.2 988.1h0M1104.6 997.0h0M1099.9 986.3h0M1086.7 986.1h0M1089.5 984.6h0M1083.5 989.3h0"/>
<path stroke="#b5ff42" d="M1100.7 1031.7h0M1081.9 991.8h0M1103.2 1018.5h0M1086.2 987.0h0M1093.8 1045.5h0M1100.8 1030.0h0M1097.9 985.7h0M1085.7 987.6h0"/>
<path stroke="#c2ff35" d="M1099.8 1033.3h0M1086.4 987.3h0M1079.6 997.0h0M1086.7 987.4h0M1104.0 1001.9h0M1076.0 1020.1h0M1098.4 987.0h0"/>
<path stroke="#cfff28" d="M1081.8 993.1h0M1083.3 990.9h0M1100.1 989.0h0M1078.2 1001.4h0M1082.4 992.3h0M1080.6 995.5h0M1078.1 1031.8h0M1078.5 1000.9h0M1090.6 985.8h0M1099.7 988.8h0M1103.6 1008.9h0M1100.0 1030.1h0"/>
<path stroke="#dcff1b" d="M1076.3 1019.5h0M1103.6 1006.8h0M1077.9 1003.4h0M1076.6 1022.2h0M1076.4 1017.5h0M1081.4 994.9h0M1098.7 988.6h0M1091.5 986.4h0M1078.5 1002.2h0"/>
<path stroke="#e9ff0e" d="M1087.6 988.1h0M1097.3 1036.9h0M1101.4 1022.3h0M1091.7 986.6h0M1082.5 993.5h0M1091.1 986.7h0M1103.0 1010.1h0M1103.1 1006.1h0M1098.4 989.1h0M1076.7 1015.3h0M1096.6 987.8h0M1099.8 1028.6h0M1102.5 1013.1h0M1090.8 1043.9h0M1097.0 988.3h0M1090.4 987.3h0"/>
<path stroke="#f5f701" d="M1088.6 988.1h0M1100.1 992.1h0M1084.4 1041.3h0"/>
<path stroke="#ffe800" d="M1090.6 987.9h0M1096.1 988.6h0M1077.4 1011.5h0M1083.1 1039.2h0M1098.2 1032.1h0M1090.8 1042.5h0M1098.9 991.7h0M1098.0 1032.0h0M1099.9 993.5h0"/>
<path stroke="#ffda00" d="M1078.3 1007.3h0M1102.1 1003.6h0M1078.5 1006.5h0M1078.8 1005.3h0M1077.8 1022.0h0M1077.6 1014.1h0M1094.1 988.7h0M1098.0 991.2h0M1077.8 1012.6h0M1077.6 1017.6h0M1087.7 990.1h0M1095.5 989.4h0M1077.8 1012.5h0M1078.0 1022.5h0M1098.2 991.7h0"/>
<path stroke="#ffcb00" d="M1079.8 1030.3h0M1079.2 1004.9h0M1097.7 991.7h0M1084.4 993.8h0"/>
<path stroke="#ffbc00" d="M1101.4 1003.6h0M1088.2 990.7h0M1089.6 990.2h0M1101.2 1003.8h0M1078.2 1016.7h0M1099.8 996.6h0M1084.2 1037.7h0M1081.4 999.8h0M1101.0 1002.5h0M1082.4 997.9h0"/>
<path stroke="#ffad00" d="M1084.5 1037.7h0M1089.6 1040.1h0M1079.4 1007.0h0M1099.6 997.2h0M1078.8 1021.9h0M1082.5 998.2h0M1079.9 1027.5h0M1091.5 1038.9h0M1078.8 1020.2h0"/>
<path stroke="#ff9e00" d="M1099.9 999.5h0M1097.4 993.8h0M1099.0 1022.3h0M1100.3 1014.9h0M1079.5 1007.5h0M1093.9 991.4h0M1098.6 996.3h0M1080.5 1004.3h0"/>
<path stroke="#ff9000" d="M1100.4 1011.0h0M1088.3 992.5h0M1089.9 991.8h0M1081.6 1001.3h0M1082.4 999.8h0M1079.2 1014.0h0M1087.7 993.2h0M1095.2 992.9h0M1082.5 1032.4h0M1083.0 998.9h0M1088.7 992.7h0M1100.1 1010.4h0M1100.0 1004.4h0"/>
<path stroke="#ff8100" d="M1098.8 1020.6h0M1086.8 1037.2h0M1094.5 1033.4h0M1084.1 1034.5h0M1097.7 996.8h0M1081.4 1028.6h0M1080.5 1025.5h0"/>
<path stroke="#ff7200" d="M1099.8 1008.3h0M1092.7 1035.4h0M1099.6 1013.2h0M1098.7 999.6h0M1094.2 993.2h0M1097.5 996.7h0M1081.0 1027.0h0M1085.0 996.6h0M1083.8 998.5h0M1093.8 993.1h0M1079.7 1019.1h0M1082.6 1000.9h0M1097.1 1025.7h0M1081.1 1027.2h0M1079.8 1013.6h0M1080.2 1021.9h0"/>
<path stroke="#ff6300" d="M1092.9 1034.3h0M1092.1 993.3h0M1098.6 1000.9h0M1096.1 995.6h0M1095.7 995.2h0M1085.5 1034.6h0M1081.8 1028.0h0M1082.8 1030.5h0M1097.4 1023.2h0M1097.4 998.4h0M1094.7 1030.6h0M1096.5 996.9h0"/>
<path stroke="#ff5500" d="M1095.7 1027.9h0M1096.8 1024.4h0M1090.0 994.2h0M1084.1 999.5h0M1092.9 994.2h0M1099.0 1007.5h0M1089.0 994.7h0M1096.2 997.0h0M1092.8 994.4h0M1093.9 1031.2h0M1085.1 998.3h0M1080.4 1015.6h0M1086.3 997.0h0M1098.1 1017.8h0M1097.3 999.6h0"/>
<path stroke="#ff4600" d="M1081.8 1006.0h0M1082.5 1003.8h0M1098.2 1015.8h0M1095.9 997.5h0M1088.5 995.6h0M1083.4 1002.0h0M1092.2 1032.6h0M1083.8 1030.3h0M1098.3 1013.4h0M1092.7 995.4h0"/>
<path stroke="#ff3700" d="M1082.1 1025.5h0M1080.9 1018.4h0M1097.3 1019.3h0M1082.4 1026.0h0M1090.4 995.5h0M1095.4 997.7h0M1098.3 1010.2h0M1098.3 1009.2h0M1098.0 1013.5h0M1093.2 996.2h0M1094.9 1027.0h0"/>
<path stroke="#ff2800" d="M1088.3 1033.1h0M1087.6 1032.7h0M1082.9 1005.6h0M1088.6 997.1h0M1082.5 1024.0h0M1097.6 1013.0h0"/>
<path stroke="#ff1a00" d="M1082.0 1010.2h0M1092.5 1029.8h0M1085.1 1001.3h0M1094.2 998.4h0M1097.0 1004.5h0M1083.8 1026.9h0M1082.3 1021.8h0M1094.9 999.3h0M1097.4 1010.8h0M1097.2 1014.0h0M1097.3 1011.4h0M1084.8 1002.1h0M1084.1 1003.6h0"/>
<path stroke="#f50b00" d="M1096.1 1002.0h0M1091.0 1030.7h0M1095.9 1020.7h0M1094.6 1024.9h0M1086.0 1029.9h0M1084.4 1027.5h0M1083.9 1004.4h0M1095.2 1000.5h0M1090.4 1030.6h0M1091.9 1029.4h0M1095.0 1023.3h0M1092.2 1028.9h0M1094.1 1025.5h0M1084.6 1003.3h0M1092.0 998.1h0M1096.2 1018.1h0M1086.9 999.9h0M1090.0 1030.4h0"/>
<path stroke="#e30000" d="M1091.0 1029.7h0M1082.8 1021.5h0M1090.1 998.3h0M1084.5 1004.2h0M1091.7 998.6h0M1090.4 998.5h0M1087.6 1029.7h0M1087.4 1000.2h0M1095.0 1001.9h0M1089.3 999.1h0"/>
<path stroke="#d10000" d="M1093.5 1000.1h0M1094.5 1001.4h0M1096.3 1007.3h0M1089.1 999.5h0M1094.0 1023.5h0M1084.6 1005.4h0M1088.3 1000.2h0M1086.7 1001.7h0M1096.2 1010.2h0M1094.6 1002.4h0M1084.5 1024.7h0M1095.8 1006.4h0"/>
<path stroke="#bf0000" d="M1086.5 1027.6h0M1082.9 1015.0h0M1090.1 1028.3h0M1084.1 1007.4h0M1093.9 1001.6h0M1095.5 1005.7h0M1094.6 1002.9h0M1083.8 1021.3h0M1095.3 1005.8h0M1083.4 1012.2h0M1088.9 1000.8h0"/>
<path stroke="#ad0000" d="M1095.5 1007.8h0M1084.1 1021.7h0M1092.8 1024.3h0M1090.7 1000.6h0M1095.2 1006.8h0M1085.7 1025.2h0M1085.9 1004.4h0M1089.1 1001.2h0M1093.7 1021.4h0M1083.9 1011.3h0M1087.2 1003.1h0M1094.8 1016.7h0"/>
<path stroke="#9b0000" d="M1086.1 1004.9h0M1086.8 1003.8h0M1094.9 1015.1h0M1089.0 1001.8h0M1084.8 1008.1h0M1084.7 1021.3h0M1084.4 1010.0h0M1094.9 1014.5h0M1087.9 1003.0h0M1086.3 1024.4h0M1088.1 1002.9h0M1092.4 1002.8h0M1094.8 1013.8h0M1084.4 1018.7h0"/>
<path stroke="#890000" d="M1084.7 1019.6h0M1093.7 1019.0h0M1087.5 1004.0h0M1094.6 1014.2h0M1086.6 1023.8h0M1092.7 1021.2h0M1093.7 1005.9h0M1084.6 1017.7h0M1084.5 1013.0h0M1094.2 1015.1h0M1094.1 1014.5h0M1094.1 1014.6h0M1085.8 1015.2h0M1089.2 1016.8h0M1088.9 1016.3h0M1092.0 1021.0h0M1090.6 1021.2h0M1087.6 1014.5h0M1085.8 1017.2h0M1093.2 1018.6h0M1086.2 1011.3h0M1087.9 1012.1h0M1090.1 1022.2h0M1090.2 1006.1h0M1085.9 1018.7h0M1092.0 1008.2h0M1087.5 1012.4h0M1090.5 1011.2h0M1085.8 1016.2h0M1089.9 1010.0h0M1091.6 1019.7h0M1086.6 1015.3h0M1088.2 1010.6h0M1092.9 1011.3h0M1092.7 1015.4h0M1090.1 1012.0h0M1085.1 1017.8h0M1086.1 1013.5h0M1091.0 1018.4h0M1089.4 1022.1h0M1089.8 1010.1h0M1090.3 1010.5h0M1087.3 1011.3h0M1086.0 1021.1h0M1089.4 1009.7h0M1089.3 1010.2h0M1089.7 1016.2h0M1089.7 1013.0h0M1090.2 1003.9h0M1093.8 1009.8h0M1089.2 1006.7h0M1093.4 1006.2h0M1089.0 1008.8h0M1089.8 1007.2h0M1086.8 1019.3h0M1092.6 1006.5h0M1093.2 1013.6h0M1086.8 1022.7h0M1088.4 1015.4h0M1090.2 1008.5h0M1092.8 1011.1h0M1088.6 1009.5h0M1089.2 1012.1h0M1088.1 1007.4h0M1087.4 1014.7h0M1085.1 1010.6h0M1087.9 1020.0h0M1088.6 1017.0h0M1089.3 1022.6h0M1092.9 1017.7h0M1089.4 1004.0h0M1090.6 1008.3h0M1086.4 1016.7h0M1089.7 1010.5h0M1089.2 1023.9h0M1092.2 1004.9h0M1091.0 1005.3h0M1092.8 1008.3h0M1091.7 1005.4h0M1085.9 1018.1h0M1091.5 1009.9h0M1089.7 1012.1h0M1085.8 1014.8h0M1089.1 1018.4h0M1093.1 1013.9h0M1087.5 1004.9h0M1092.7 1012.5h0M1091.4 1005.5h0M1091.0 1010.4h0M1089.5 1023.9h0M1089.8 1023.6h0M1086.6 1013.1h0M1091.1 1018.9h0M1089.5 1011.9h0M1091.5 1019.3h0M1092.3 1014.5h0M1090.7 1003.7h0M1088.6 1006.5h0M1089.3 1017.2h0M1088.0 1008.1h0M1084.8 1013.8h0M1092.5 1016.6h0M1092.0 1015.1h0M1088.4 1010.2h0"/>
</g>
<g clip-path="url(#clipe)" fill="none" stroke-linecap="round" stroke-width="7.40">
<path stroke="#000089" d="M362.6 1530.5h0"/>
<path stroke="#00009b" d="M344.1 1385.5h0M371.9 1408.9h0M345.4 1354.5h0M355.0 1507.7h0M352.2 1370.9h0M367.6 1417.2h0M365.8 1449.4h0M364.0 1404.8h0"/>
<path stroke="#0000ad" d="M352.3 1368.3h0M365.8 1423.7h0M355.0 1355.5h0M360.0 1392.6h0M262.3 1362.9h0M351.7 1355.9h0M298.1 1640.5h0M341.7 1399.7h0M351.1 1507.0h0M287.7 1637.6h0M356.4 1494.2h0"/>
<path stroke="#0000bf" d="M354.3 1394.7h0M356.2 1476.4h0M349.2 1397.0h0M357.6 1463.9h0M296.0 1634.8h0M355.0 1398.9h0M356.8 1464.7h0M354.8 1490.2h0M357.7 1485.4h0M351.3 1469.8h0M261.0 1376.2h0M349.0 1477.1h0M350.0 1482.3h0M355.8 1487.1h0M263.9 1371.2h0M351.4 1481.6h0M351.6 1459.6h0M349.3 1464.4h0M350.8 1404.0h0M256.6 1391.1h0M350.3 1462.1h0M354.3 1426.5h0M360.9 1443.7h0"/>
<path stroke="#0000d1" d="M350.7 1407.4h0M344.8 1410.0h0M351.6 1411.3h0M344.6 1412.2h0M350.8 1420.1h0M348.6 1448.5h0M361.5 1436.9h0M360.1 1433.6h0M351.2 1416.9h0M266.4 1371.1h0M345.6 1451.7h0M349.9 1418.2h0M356.1 1444.1h0M348.0 1414.3h0M343.4 1422.1h0M308.0 1351.3h0M359.1 1439.1h0M342.5 1425.0h0"/>
<path stroke="#0000e3" d="M353.4 1432.5h0M357.6 1435.6h0M344.4 1444.4h0M354.6 1441.5h0M258.9 1394.2h0M344.4 1451.9h0M267.5 1373.8h0M344.8 1442.8h0M341.0 1427.3h0M290.1 1350.9h0M351.7 1440.7h0M353.6 1435.4h0M346.7 1433.1h0M349.5 1435.2h0M284.7 1354.8h0M344.2 1438.7h0M343.0 1433.4h0M343.6 1436.0h0M341.6 1537.2h0M249.2 1527.2h0"/>
<path stroke="#0000f5" d="M276.7 1363.5h0M336.0 1410.6h0M297.3 1620.7h0M339.8 1429.3h0M295.6 1620.0h0M260.9 1395.4h0M301.5 1355.5h0M301.7 1618.3h0M278.5 1364.1h0M297.4 1618.3h0M248.6 1500.9h0M313.7 1365.4h0M248.5 1485.5h0M281.5 1362.3h0M343.4 1492.1h0M339.8 1437.3h0"/>
<path stroke="#0000ff" d="M286.0 1360.1h0M337.1 1424.4h0M305.7 1360.8h0M307.3 1362.2h0M331.1 1571.7h0M300.1 1359.3h0M307.4 1610.9h0M327.1 1582.0h0M303.1 1612.9h0M302.6 1361.3h0"/>
<path stroke="#0008ff" d="M327.6 1578.7h0M272.3 1377.8h0M269.9 1382.1h0M280.6 1367.9h0M303.9 1363.3h0M336.2 1427.3h0M340.3 1457.9h0M338.2 1441.2h0M280.7 1369.7h0M328.6 1402.4h0"/>
<path stroke="#0018ff" d="M259.9 1412.7h0M256.5 1428.9h0M326.4 1397.7h0M337.3 1532.9h0M300.5 1365.9h0M337.0 1439.5h0M265.4 1576.4h0M284.8 1369.7h0M281.3 1372.5h0M292.3 1366.7h0M339.1 1460.7h0M333.1 1423.1h0"/>
<path stroke="#0028ff" d="M267.9 1393.3h0M329.7 1412.1h0M305.1 1370.9h0M270.2 1389.8h0M285.1 1372.3h0M273.9 1383.9h0M259.5 1554.3h0M326.4 1569.5h0M334.7 1435.7h0"/>
<path stroke="#0038ff" d="M264.0 1567.2h0M337.0 1454.5h0M313.3 1381.4h0M327.2 1408.8h0M297.5 1602.6h0M268.5 1396.7h0M300.7 1372.5h0M305.9 1375.0h0M325.2 1404.8h0M314.6 1589.4h0M269.5 1577.0h0M271.6 1391.9h0M254.8 1471.2h0M273.5 1388.9h0M280.0 1592.1h0"/>
<path stroke="#0048ff" d="M254.8 1502.6h0M325.0 1406.4h0M332.9 1434.4h0M264.2 1563.9h0M266.5 1569.6h0M292.7 1599.3h0M324.5 1568.4h0M320.1 1396.1h0M269.8 1575.5h0M323.0 1570.7h0M296.5 1598.3h0M277.2 1386.2h0M324.6 1566.0h0M300.0 1376.7h0"/>
<path stroke="#0058ff" d="M324.7 1408.7h0M334.4 1448.0h0M288.3 1378.3h0M330.3 1546.3h0M295.5 1596.7h0M272.2 1577.9h0M312.2 1387.1h0M331.1 1432.2h0M334.8 1519.5h0M273.4 1578.7h0M267.3 1406.9h0"/>
<path stroke="#0068ff" d="M270.9 1574.1h0M257.4 1519.7h0M309.0 1588.3h0M316.6 1395.9h0M321.3 1569.0h0M303.5 1382.4h0M330.9 1538.2h0M322.3 1408.8h0M331.0 1436.9h0M276.4 1392.7h0"/>
<path stroke="#0078ff" d="M326.6 1421.3h0M289.5 1383.6h0M279.9 1582.8h0M257.9 1508.2h0M320.5 1407.1h0M323.2 1413.7h0M314.1 1396.2h0M333.6 1461.2h0"/>
<path stroke="#0087ff" d="M289.8 1588.1h0M331.6 1528.8h0M284.5 1584.6h0M275.7 1397.5h0M262.4 1436.1h0M331.5 1527.0h0M308.9 1580.9h0M295.8 1586.9h0M333.4 1510.3h0"/>
<path stroke="#0097ff" d="M326.2 1547.2h0M261.3 1537.3h0M321.3 1414.1h0M259.1 1486.1h0M333.6 1481.5h0M283.2 1392.5h0M268.6 1413.9h0M319.9 1561.7h0M317.7 1408.0h0M333.4 1480.9h0M322.3 1555.9h0M289.8 1583.4h0M332.9 1471.2h0M330.4 1528.7h0M270.0 1564.1h0"/>
<path stroke="#00a7ff" d="M266.4 1422.3h0M281.8 1578.1h0M333.3 1499.2h0M260.2 1466.4h0M298.8 1583.1h0M301.6 1581.9h0M333.2 1495.2h0M261.8 1448.7h0M320.4 1415.2h0M261.0 1456.8h0M287.3 1392.8h0M262.7 1442.9h0M322.3 1553.4h0M304.9 1395.1h0M264.7 1431.6h0"/>
<path stroke="#00b7ff" d="M261.8 1533.8h0M320.9 1417.7h0M313.1 1405.0h0M282.8 1396.5h0M279.5 1399.0h0M266.4 1425.6h0M307.7 1399.2h0M292.2 1394.1h0M260.7 1484.4h0M291.1 1579.0h0M262.4 1451.0h0M324.2 1545.6h0M328.1 1441.3h0M316.7 1412.1h0"/>
<path stroke="#00c7ff" d="M320.0 1554.9h0M314.0 1565.2h0M265.4 1548.6h0M261.7 1463.7h0M317.9 1415.2h0M261.2 1498.5h0M317.1 1558.9h0M292.3 1397.0h0M295.2 1576.6h0M317.7 1557.1h0M276.3 1567.9h0"/>
<path stroke="#00d7ff" d="M285.8 1573.8h0M261.6 1495.1h0M312.3 1564.5h0M320.4 1421.7h0M306.9 1570.3h0M261.8 1494.0h0M295.6 1575.2h0M311.9 1409.2h0M311.7 1564.5h0M288.4 1399.4h0M274.3 1410.3h0M312.2 1563.5h0M323.0 1544.5h0M302.2 1572.4h0M298.4 1573.5h0M327.8 1446.0h0M318.5 1419.7h0M328.3 1526.4h0M278.0 1406.1h0M301.3 1401.7h0"/>
<path stroke="#01e7f5" d="M317.1 1417.8h0M262.3 1488.1h0M324.8 1434.4h0M284.5 1571.1h0M317.1 1555.3h0M308.1 1566.7h0M306.8 1405.9h0M272.0 1416.0h0M304.7 1404.4h0M274.3 1411.6h0M262.5 1480.8h0M328.4 1524.4h0M322.2 1428.1h0M297.4 1572.0h0M262.8 1469.9h0M263.7 1454.5h0M314.7 1557.6h0M276.2 1409.6h0M302.8 1568.8h0"/>
<path stroke="#0ef7e9" d="M326.1 1441.5h0M321.6 1544.9h0M301.3 1404.7h0M273.6 1561.7h0M302.7 1568.2h0M301.7 1405.5h0M262.7 1515.4h0M309.5 1411.3h0M316.5 1419.9h0M295.4 1404.7h0M263.7 1464.6h0M303.7 1407.9h0M293.2 1568.9h0M263.4 1480.4h0M321.8 1542.9h0M300.2 1567.3h0M263.4 1486.3h0"/>
<path stroke="#1bffdc" d="M328.1 1521.5h0M330.3 1498.1h0M268.3 1431.5h0M310.0 1413.7h0M323.5 1435.1h0M314.4 1418.8h0M326.9 1526.7h0M315.9 1420.8h0M263.6 1498.1h0M311.0 1415.6h0M318.9 1425.5h0M312.6 1417.4h0M310.3 1415.5h0M329.9 1487.8h0M269.9 1553.0h0M281.8 1565.1h0"/>
<path stroke="#28ffcf" d="M312.0 1417.6h0M307.2 1559.7h0M325.7 1444.5h0M322.5 1539.1h0M325.6 1530.0h0M316.9 1549.2h0M290.1 1565.4h0M319.4 1545.1h0M274.0 1559.2h0M290.8 1564.9h0M265.0 1534.6h0M265.7 1538.6h0M275.9 1415.3h0M329.1 1476.9h0M328.9 1474.6h0M321.7 1539.8h0M288.7 1409.3h0M284.9 1409.4h0M309.7 1555.8h0M265.0 1532.8h0"/>
<path stroke="#35ffc2" d="M284.8 1563.9h0M319.0 1428.1h0M279.4 1562.5h0M265.4 1457.7h0M296.5 1411.8h0M264.5 1495.3h0M329.4 1491.9h0M290.1 1411.0h0M310.1 1418.9h0M272.9 1422.2h0M264.8 1480.5h0M286.4 1563.1h0M325.3 1446.2h0M316.3 1424.9h0M265.3 1462.8h0M324.8 1530.0h0M269.4 1549.8h0M306.5 1416.8h0M325.0 1444.8h0M302.4 1558.7h0M293.3 1561.7h0M303.4 1558.1h0M273.6 1421.1h0M317.7 1427.2h0M326.1 1524.9h0M283.3 1562.3h0M279.0 1561.3h0M328.6 1507.6h0"/>
<path stroke="#42ffb5" d="M267.1 1446.0h0M319.3 1430.4h0M328.4 1478.2h0M303.7 1417.6h0M279.2 1415.2h0M328.6 1505.0h0M318.4 1542.6h0M288.6 1413.9h0M272.7 1554.6h0M293.4 1415.5h0M300.1 1417.4h0M310.5 1550.4h0M307.7 1420.5h0M311.0 1550.0h0M296.9 1556.8h0M292.1 1558.5h0M311.8 1549.2h0M277.1 1558.9h0"/>
<path stroke="#4effa8" d="M305.9 1420.2h0M291.4 1415.8h0M265.7 1487.0h0M289.3 1559.0h0M289.6 1415.5h0M326.2 1456.6h0M283.2 1414.7h0M266.0 1466.0h0M306.2 1421.0h0M265.8 1489.7h0M284.0 1560.0h0M266.0 1471.8h0M318.7 1540.7h0M270.5 1433.5h0M270.3 1434.4h0M314.2 1546.0h0M270.0 1435.4h0M298.5 1553.5h0M307.9 1422.5h0M275.6 1421.4h0M297.2 1553.9h0M301.7 1420.9h0M297.3 1419.9h0M321.2 1535.7h0M324.8 1525.9h0M266.1 1477.8h0M300.5 1420.9h0M313.0 1546.6h0M293.8 1555.1h0"/>
<path stroke="#5bff9c" d="M315.8 1428.3h0M269.4 1546.1h0M321.4 1437.9h0M271.6 1431.2h0M283.7 1416.7h0M293.8 1420.3h0M266.3 1475.3h0M280.2 1558.7h0M307.2 1548.4h0M319.7 1434.9h0M266.2 1496.9h0M314.0 1544.5h0M327.4 1509.4h0M327.8 1504.0h0M318.5 1539.2h0M315.2 1428.7h0"/>
<path stroke="#68ff8f" d="M273.0 1552.4h0M293.1 1552.2h0M265.9 1509.6h0M314.2 1428.7h0M327.8 1498.6h0M293.4 1551.2h0M268.0 1451.9h0M268.7 1447.4h0M305.9 1546.2h0M267.2 1465.2h0M266.7 1498.8h0M292.6 1551.0h0M305.6 1426.0h0M295.6 1425.6h0M277.4 1422.3h0M282.6 1419.5h0M266.3 1527.2h0M292.3 1424.3h0M296.4 1547.5h0M277.1 1422.8h0M323.8 1525.9h0M266.9 1496.6h0M310.2 1544.5h0M267.1 1479.5h0"/>
<path stroke="#75ff82" d="M303.5 1426.8h0M320.0 1535.0h0M266.8 1500.2h0M306.3 1545.0h0M281.9 1556.5h0M304.5 1544.8h0M301.8 1427.5h0M275.7 1425.2h0M321.5 1531.7h0M317.7 1538.3h0M309.3 1427.5h0M312.2 1542.8h0M327.1 1484.2h0M281.5 1556.2h0M298.1 1544.2h0M310.2 1428.3h0M317.3 1433.8h0M283.4 1555.5h0M296.7 1429.6h0M283.6 1555.3h0M319.8 1534.1h0"/>
<path stroke="#82ff75" d="M304.6 1542.6h0M283.3 1555.0h0M267.7 1492.3h0M266.8 1526.0h0M307.7 1542.6h0M303.7 1542.0h0M322.4 1446.0h0M326.8 1484.7h0M269.7 1446.6h0M301.4 1540.7h0M291.5 1428.8h0M267.8 1494.0h0M297.6 1432.9h0M320.6 1441.4h0M324.7 1460.1h0M326.0 1475.3h0M282.9 1554.2h0M286.0 1424.7h0M268.6 1458.1h0M325.8 1472.1h0"/>
<path stroke="#8fff68" d="M268.2 1468.7h0M305.3 1430.7h0M281.6 1554.2h0M292.0 1545.2h0M277.6 1553.5h0M315.5 1538.1h0M268.4 1536.1h0M267.4 1529.5h0M325.4 1468.5h0M318.1 1535.1h0M293.8 1541.8h0M312.0 1540.0h0M270.8 1443.6h0M312.1 1539.8h0M267.8 1502.1h0M316.4 1435.0h0M302.3 1538.0h0M310.0 1431.1h0M267.3 1511.4h0M300.2 1536.5h0M280.7 1553.6h0M323.8 1455.9h0M300.3 1536.0h0M270.8 1444.8h0"/>
<path stroke="#9cff5b" d="M320.8 1529.6h0M307.1 1538.9h0M304.4 1537.5h0M270.6 1446.5h0M268.1 1501.5h0M326.2 1485.8h0M323.5 1455.2h0M286.7 1549.6h0M267.3 1522.3h0M315.0 1434.5h0M296.9 1533.6h0M322.1 1525.7h0M287.3 1429.6h0M297.1 1440.2h0M323.7 1520.2h0M304.3 1434.6h0M323.5 1520.9h0M301.2 1437.6h0M309.1 1432.9h0M313.0 1537.5h0"/>
<path stroke="#a8ff4e" d="M307.6 1433.4h0M282.1 1551.9h0M269.0 1471.8h0M295.1 1533.2h0M274.7 1434.1h0M318.7 1532.0h0M309.9 1537.6h0M294.1 1534.3h0M293.7 1441.1h0M285.3 1549.6h0M306.5 1434.5h0M298.2 1442.3h0M269.3 1485.8h0M303.3 1533.9h0M289.7 1435.1h0M321.1 1527.1h0M307.4 1536.6h0M281.4 1551.6h0M269.2 1472.7h0M304.9 1534.9h0M293.3 1442.1h0M299.6 1441.8h0M268.0 1513.6h0M298.8 1443.1h0M290.5 1437.8h0M269.5 1485.8h0M307.0 1535.7h0M269.5 1484.1h0M274.1 1547.6h0M267.9 1518.6h0"/>
<path stroke="#b5ff42" d="M299.3 1443.4h0M325.0 1476.3h0M308.9 1434.6h0M276.7 1432.0h0M306.9 1435.5h0M268.8 1504.2h0M270.1 1458.4h0M269.5 1495.1h0M298.1 1525.8h0M283.4 1429.7h0M307.1 1535.1h0M272.1 1543.8h0M311.0 1435.0h0M285.3 1431.5h0M293.4 1530.9h0M273.8 1438.8h0M307.1 1534.8h0M323.5 1461.8h0M268.1 1516.8h0M322.9 1457.7h0M297.3 1523.2h0M297.6 1448.9h0M269.9 1480.1h0M294.4 1526.1h0M298.3 1523.3h0M297.7 1449.2h0M292.8 1447.0h0M296.4 1450.9h0M289.9 1539.4h0M283.0 1430.7h0M269.9 1477.6h0M322.3 1521.8h0M295.2 1522.2h0"/>
<path stroke="#c2ff35" d="M294.8 1523.3h0M283.4 1431.3h0M281.2 1549.8h0M295.9 1453.3h0M313.7 1436.9h0M324.1 1470.2h0M297.0 1452.5h0M294.1 1452.1h0M295.5 1519.8h0M268.4 1522.4h0M271.9 1448.3h0M310.2 1534.7h0M282.9 1548.8h0M294.8 1454.8h0M289.3 1539.5h0M294.8 1519.0h0M295.4 1456.7h0M305.7 1438.8h0M296.4 1457.3h0M294.7 1517.2h0M296.7 1458.0h0M294.8 1458.9h0M296.2 1513.0h0M270.8 1458.8h0M294.9 1513.9h0M292.8 1453.6h0M325.3 1490.2h0M315.2 1438.9h0M321.0 1450.4h0M270.4 1473.7h0M292.5 1453.7h0M295.7 1462.4h0M302.9 1443.5h0"/>
<path stroke="#cfff28" d="M295.9 1509.8h0M295.5 1508.9h0M314.5 1533.1h0M270.7 1462.4h0M268.7 1516.8h0M324.4 1477.3h0M295.9 1508.0h0M294.4 1463.9h0M284.3 1546.6h0M268.9 1513.7h0M296.9 1462.7h0M296.2 1507.0h0M289.2 1443.5h0M294.4 1496.7h0M319.3 1445.8h0M294.4 1483.3h0M293.1 1518.3h0M291.8 1453.1h0M295.8 1491.0h0M296.1 1470.6h0M304.3 1528.4h0M323.4 1467.3h0M299.0 1455.3h0M296.5 1472.7h0M296.3 1485.7h0M291.6 1453.2h0M293.7 1479.8h0M293.8 1471.1h0M296.5 1487.7h0M293.7 1474.0h0M306.1 1440.1h0M271.2 1458.1h0M293.1 1512.6h0M304.5 1528.2h0M279.8 1548.6h0M293.1 1503.0h0M290.6 1449.4h0M315.0 1439.5h0M293.1 1479.7h0M292.6 1495.7h0M296.9 1494.3h0M290.6 1450.3h0M280.3 1433.6h0M278.1 1434.8h0M297.8 1466.5h0M301.6 1522.2h0M292.4 1460.9h0M307.8 1439.0h0M297.1 1492.8h0M297.4 1502.2h0M281.5 1547.9h0M292.3 1483.6h0M279.3 1434.3h0M292.1 1497.4h0M292.0 1490.1h0M305.8 1529.2h0M270.0 1532.9h0"/>
<path stroke="#dcff1b" d="M292.2 1462.6h0M271.1 1537.5h0M276.7 1547.1h0M301.0 1519.5h0M291.8 1498.1h0M291.7 1490.7h0M288.8 1445.7h0M291.9 1504.7h0M291.7 1460.8h0M291.4 1458.0h0M318.4 1445.0h0M292.1 1468.5h0M299.3 1461.4h0M308.7 1531.4h0M270.0 1505.8h0M312.8 1439.0h0M272.3 1452.5h0M299.6 1460.5h0M319.2 1526.4h0M324.8 1502.1h0M298.2 1498.2h0M291.2 1497.9h0M315.8 1441.3h0M308.6 1439.6h0M291.0 1458.6h0M271.1 1494.5h0M275.9 1546.0h0M301.9 1450.3h0M302.3 1521.6h0M290.9 1495.8h0M291.3 1477.1h0M298.6 1483.2h0M305.3 1443.2h0M269.5 1527.3h0M291.3 1469.2h0M290.6 1491.9h0M290.9 1523.2h0M276.2 1545.9h0M299.1 1504.8h0"/>
<path stroke="#e9ff0e" d="M284.3 1544.2h0M323.0 1469.6h0M271.4 1470.3h0M306.3 1442.5h0M290.8 1468.1h0M280.7 1436.0h0M290.6 1523.2h0M305.0 1525.9h0M300.3 1461.9h0M290.7 1467.3h0M271.7 1483.8h0M313.1 1440.1h0M290.3 1482.1h0M290.4 1502.5h0M299.6 1474.1h0M290.9 1516.5h0M290.0 1494.9h0M277.3 1438.4h0M271.6 1463.8h0M290.1 1498.8h0M300.0 1508.8h0M279.6 1546.8h0M288.6 1450.0h0M305.7 1443.8h0M307.9 1441.4h0M289.1 1453.0h0M315.9 1529.6h0M289.8 1492.6h0M303.0 1449.9h0M276.8 1439.5h0M320.2 1523.2h0M300.6 1461.7h0M306.0 1526.9h0M290.1 1478.2h0M324.4 1489.3h0M313.6 1440.8h0M300.0 1472.8h0M271.9 1482.5h0M322.9 1471.3h0M280.0 1437.2h0M310.8 1530.5h0M300.5 1509.5h0M289.3 1492.4h0M289.8 1462.7h0M290.2 1519.0h0M301.1 1460.7h0M289.8 1464.0h0M307.1 1443.0h0"/>
<path stroke="#f5f701" d="M271.6 1497.5h0M272.1 1480.9h0M300.2 1504.3h0M320.2 1453.1h0M301.6 1458.8h0M289.7 1466.8h0M285.5 1443.0h0M289.9 1513.1h0M302.1 1456.5h0M287.5 1450.2h0M302.5 1455.0h0M288.6 1488.7h0M284.8 1442.6h0M317.4 1446.1h0M270.4 1510.9h0M272.4 1482.9h0M287.9 1532.9h0M288.7 1499.9h0M300.7 1504.7h0M315.6 1443.6h0M300.8 1505.5h0M302.4 1515.2h0M270.2 1514.1h0M323.0 1511.5h0M309.8 1442.1h0M286.7 1448.8h0M319.0 1524.1h0M321.1 1519.1h0M310.1 1442.0h0M273.3 1454.6h0M289.4 1518.2h0M284.4 1443.0h0"/>
<path stroke="#ffe800" d="M322.8 1474.7h0M301.4 1507.8h0M273.5 1454.4h0M300.7 1497.4h0M288.0 1483.6h0M284.1 1443.1h0M271.5 1503.7h0M288.5 1468.2h0M277.2 1442.6h0M287.9 1498.6h0M279.2 1544.7h0M305.2 1522.0h0M316.3 1527.2h0M301.1 1501.8h0M272.6 1495.1h0M288.6 1524.9h0M301.0 1491.2h0M288.0 1478.3h0M278.1 1441.8h0M287.8 1480.4h0M301.8 1473.3h0M287.4 1494.3h0M320.1 1455.6h0M287.7 1480.5h0M305.8 1448.2h0M286.5 1451.4h0M287.3 1494.0h0M273.1 1488.4h0M301.2 1492.3h0M301.4 1504.0h0M301.5 1504.6h0M283.2 1541.8h0M287.2 1487.9h0M305.8 1522.4h0M288.0 1528.1h0M285.0 1447.2h0"/>
<path stroke="#ffda00" d="M303.6 1456.3h0M302.2 1469.7h0M273.3 1460.1h0M270.4 1520.6h0M321.9 1469.0h0M287.5 1502.6h0M303.4 1457.8h0M270.5 1522.5h0M272.3 1535.3h0M286.2 1452.7h0M286.8 1492.6h0M288.3 1515.7h0M286.9 1498.7h0M301.6 1495.6h0M272.4 1501.8h0M285.1 1449.3h0M283.0 1541.2h0M273.4 1478.6h0M286.9 1480.4h0M302.8 1466.3h0M286.4 1490.5h0M307.5 1446.8h0M273.4 1493.8h0M301.9 1488.1h0M316.0 1526.2h0M287.0 1477.3h0M274.9 1451.7h0M273.7 1483.7h0M305.7 1450.6h0M301.8 1493.0h0M274.1 1456.8h0M279.2 1443.4h0M287.0 1474.0h0M286.1 1455.1h0M286.8 1478.4h0M302.6 1474.0h0M284.6 1449.1h0M286.6 1499.6h0M286.1 1491.9h0M286.1 1492.5h0"/>
<path stroke="#ffcb00" d="M302.2 1501.7h0M273.5 1465.9h0M286.1 1496.5h0M302.7 1476.1h0M271.8 1508.9h0M285.8 1491.3h0M303.2 1510.3h0M309.4 1525.4h0M278.2 1445.5h0M302.2 1498.4h0M307.2 1448.8h0M275.9 1540.9h0M285.9 1480.7h0M321.2 1468.3h0M286.1 1477.9h0M316.6 1448.7h0M285.9 1500.0h0M305.8 1452.4h0M280.3 1445.1h0M274.0 1462.3h0M273.9 1464.7h0M274.4 1485.0h0M303.6 1466.3h0M273.9 1472.2h0M302.8 1482.6h0M283.8 1538.1h0M275.3 1454.2h0M285.0 1535.1h0M320.1 1518.2h0M286.1 1465.5h0M272.1 1531.6h0"/>
<path stroke="#ffbc00" d="M303.9 1512.0h0M303.4 1509.2h0M276.7 1449.7h0M274.3 1494.6h0M285.1 1493.0h0M275.2 1454.9h0M274.1 1471.6h0M285.4 1498.8h0M272.2 1508.5h0M285.6 1477.7h0M287.1 1522.2h0M274.4 1462.2h0M279.3 1541.8h0M274.3 1475.3h0M281.0 1446.7h0M279.7 1446.4h0M274.2 1468.2h0M322.5 1507.4h0M322.6 1483.8h0M279.9 1446.5h0M274.8 1487.8h0M302.7 1490.6h0M285.1 1497.0h0M319.3 1457.4h0M304.6 1460.3h0M285.6 1474.2h0M277.7 1448.4h0M311.5 1525.6h0M285.6 1474.5h0M321.5 1512.9h0M315.1 1525.2h0M285.7 1465.3h0M285.9 1505.1h0M303.3 1480.3h0M278.9 1541.5h0M285.5 1472.5h0M286.6 1512.9h0M274.7 1494.0h0M273.2 1503.9h0M274.6 1462.7h0M280.9 1447.7h0M321.6 1512.2h0M313.3 1446.6h0M275.1 1490.5h0M316.0 1524.3h0M282.1 1539.3h0M285.4 1467.9h0M284.9 1478.0h0M286.2 1527.6h0M278.6 1541.0h0M306.6 1453.2h0M273.3 1504.5h0"/>
<path stroke="#ffad00" d="M283.6 1453.7h0M322.9 1498.3h0M305.1 1460.0h0M303.6 1480.1h0M283.7 1454.1h0M275.2 1481.9h0M285.0 1473.8h0M322.9 1495.8h0M283.5 1453.6h0M309.5 1448.3h0M310.3 1524.1h0M321.6 1511.3h0M279.7 1448.7h0M313.8 1525.0h0M284.0 1484.6h0M279.1 1540.7h0M303.8 1480.4h0M305.8 1457.5h0M281.8 1539.0h0M281.4 1539.1h0M307.6 1452.0h0M285.0 1505.3h0M303.7 1485.0h0M283.6 1484.3h0M285.9 1526.5h0M275.2 1496.9h0M316.9 1522.2h0M311.0 1448.1h0M275.9 1459.1h0M286.1 1520.0h0M283.4 1483.4h0M318.5 1457.1h0M278.3 1451.6h0M276.1 1492.0h0M281.7 1452.4h0"/>
<path stroke="#ff9e00" d="M304.6 1472.5h0M276.8 1455.6h0M275.4 1466.7h0M286.0 1518.9h0M306.3 1515.8h0M275.6 1466.9h0M276.3 1481.3h0M276.6 1487.7h0M283.1 1497.3h0M282.4 1490.9h0M311.0 1448.8h0M283.3 1458.7h0M307.3 1518.4h0M274.1 1504.8h0M273.6 1532.8h0M282.8 1481.9h0M303.8 1493.0h0M282.6 1495.7h0M303.9 1491.8h0M280.8 1453.0h0M283.8 1533.5h0M283.7 1502.3h0M308.1 1519.6h0M318.7 1459.5h0M283.5 1462.7h0M276.9 1490.5h0M285.7 1520.7h0M305.9 1462.0h0M282.8 1498.0h0M282.1 1484.6h0M303.9 1498.5h0M282.8 1478.3h0M277.4 1487.0h0M278.3 1454.7h0M282.5 1479.5h0M318.7 1460.2h0M281.9 1494.9h0M272.3 1520.3h0M276.3 1463.4h0M276.4 1463.3h0M308.3 1453.2h0M281.5 1486.0h0M278.7 1454.7h0M277.5 1491.6h0M276.7 1477.6h0"/>
<path stroke="#ff9000" d="M277.8 1487.7h0M284.8 1511.5h0M273.4 1510.0h0M277.4 1482.8h0M277.3 1482.0h0M281.7 1495.0h0M278.3 1455.6h0M317.6 1519.9h0M282.8 1474.6h0M283.1 1467.4h0M282.9 1472.0h0M278.0 1538.4h0M278.2 1487.0h0M282.9 1463.6h0M280.7 1490.2h0M272.5 1521.3h0M278.3 1490.7h0M304.3 1490.2h0M281.4 1457.0h0M281.9 1479.4h0M280.5 1491.6h0M307.6 1517.3h0M279.5 1488.9h0M304.8 1482.3h0M280.2 1492.8h0M315.9 1521.6h0M280.0 1484.8h0M309.2 1452.5h0M282.3 1472.9h0M285.0 1518.6h0M285.0 1523.2h0M281.4 1478.4h0M280.4 1482.0h0M277.0 1470.5h0M279.0 1457.3h0M308.8 1519.3h0M276.1 1501.1h0M317.2 1456.4h0M319.4 1466.8h0M281.6 1475.6h0M309.9 1520.6h0M307.4 1516.3h0M282.1 1465.6h0M284.9 1523.2h0M280.5 1479.6h0M281.1 1459.7h0M278.0 1476.7h0M281.2 1498.8h0M282.0 1469.0h0M274.5 1533.1h0M279.3 1458.4h0M282.0 1467.9h0M283.9 1529.9h0"/>
<path stroke="#ff8100" d="M284.6 1514.9h0M278.9 1478.7h0M305.0 1504.9h0M308.1 1517.5h0M279.2 1496.5h0M279.7 1496.9h0M322.0 1500.1h0M315.4 1453.0h0M319.3 1467.3h0M281.4 1463.6h0M279.1 1477.3h0M279.7 1477.5h0M281.4 1471.7h0M284.2 1527.1h0M281.9 1502.3h0M277.8 1465.2h0M304.8 1490.4h0M281.3 1471.0h0M306.2 1468.2h0M280.1 1498.5h0M283.2 1507.6h0M305.0 1485.6h0M279.8 1461.1h0M279.6 1475.4h0M319.6 1470.7h0M274.3 1531.7h0M280.7 1500.2h0M321.3 1485.4h0M320.3 1476.6h0M279.8 1462.5h0M281.9 1503.7h0M273.1 1518.9h0M311.6 1451.9h0M279.2 1472.6h0M305.0 1502.0h0M284.4 1520.4h0M279.4 1471.7h0M277.8 1500.6h0M280.0 1465.2h0M280.0 1470.3h0M278.7 1499.8h0M277.4 1501.4h0M279.8 1466.8h0M279.5 1468.7h0M319.7 1472.3h0M310.9 1452.7h0M315.5 1520.6h0M277.6 1501.5h0M276.1 1504.6h0M275.5 1533.7h0M273.2 1522.5h0"/>
<path stroke="#ff7200" d="M281.0 1502.9h0M318.1 1462.6h0M305.2 1489.0h0M282.0 1533.2h0M309.4 1518.5h0M311.4 1452.8h0M318.1 1463.0h0M277.3 1503.0h0M305.5 1484.6h0M280.8 1534.7h0M283.6 1514.4h0M321.7 1497.6h0M277.3 1503.3h0M277.2 1503.5h0M306.7 1469.8h0M282.8 1510.3h0M305.2 1497.6h0M283.9 1521.5h0M308.5 1516.1h0M315.9 1456.5h0M305.5 1489.6h0M279.9 1534.7h0M310.7 1454.8h0M282.2 1509.5h0M277.6 1504.8h0"/>
<path stroke="#ff6300" d="M283.0 1527.7h0M276.1 1507.8h0M283.2 1515.8h0M273.9 1525.1h0M282.1 1509.7h0M307.1 1470.1h0M318.5 1468.1h0M281.9 1510.0h0M320.0 1479.5h0M307.9 1464.5h0M283.3 1523.8h0M306.9 1474.6h0M279.6 1505.5h0M307.8 1466.0h0M317.5 1463.0h0M312.6 1454.6h0M311.0 1455.6h0M321.0 1503.0h0M309.1 1459.5h0M310.6 1456.1h0M321.0 1489.4h0M274.7 1528.4h0M310.4 1456.6h0M307.6 1468.7h0M309.2 1459.6h0M282.8 1516.2h0M274.4 1516.9h0M278.4 1533.9h0M282.7 1526.3h0M310.1 1457.8h0M280.1 1507.6h0M313.8 1455.9h0M320.4 1506.7h0M279.6 1533.1h0"/>
<path stroke="#ff5500" d="M320.3 1507.3h0M278.9 1507.2h0M308.1 1467.3h0M312.7 1456.1h0M281.8 1528.6h0M306.5 1484.8h0M318.2 1469.9h0M320.4 1505.2h0M319.5 1479.3h0M315.9 1460.4h0M275.4 1515.0h0M276.6 1511.4h0M307.2 1479.6h0M279.8 1509.8h0M281.3 1513.2h0M315.1 1517.8h0M308.7 1466.8h0"/>
<path stroke="#ff4600" d="M318.3 1472.9h0M275.0 1522.8h0M309.3 1464.2h0M307.3 1507.3h0M316.6 1516.0h0M306.8 1504.0h0M316.2 1516.4h0M307.4 1480.7h0M307.3 1481.3h0M281.5 1525.6h0M281.8 1520.3h0M280.0 1512.3h0M279.2 1530.5h0M309.2 1466.1h0M309.1 1466.5h0M313.9 1459.1h0M278.8 1530.5h0M315.4 1516.9h0M319.7 1483.6h0M309.0 1469.1h0M312.3 1459.4h0M320.2 1489.7h0"/>
<path stroke="#ff3700" d="M278.1 1529.5h0M275.8 1519.9h0M313.9 1516.9h0M320.4 1498.5h0M280.2 1527.0h0M276.9 1527.5h0M311.8 1461.1h0M276.1 1520.1h0M311.9 1461.4h0M280.2 1517.0h0M277.3 1516.1h0M308.1 1507.4h0M314.6 1516.2h0M278.0 1515.5h0M277.5 1516.2h0M277.6 1527.0h0M277.7 1527.0h0M277.8 1516.3h0"/>
<path stroke="#ff2800" d="M277.4 1517.2h0M319.9 1502.0h0M318.8 1481.3h0M315.2 1464.5h0M315.5 1515.2h0M277.6 1517.7h0M320.1 1495.5h0M279.7 1518.9h0M312.3 1515.4h0M307.4 1494.3h0M312.8 1515.5h0M279.4 1522.5h0M279.3 1523.4h0M279.3 1520.0h0M278.9 1522.5h0M278.5 1520.5h0M319.9 1497.7h0M317.0 1474.3h0"/>
<path stroke="#ff1a00" d="M316.5 1512.9h0M317.5 1477.4h0M307.9 1490.1h0M307.9 1500.1h0M314.0 1466.4h0M319.7 1497.9h0M318.2 1508.6h0M313.6 1514.5h0M308.1 1502.0h0M314.7 1514.2h0M312.6 1514.2h0M309.1 1507.8h0M311.7 1468.3h0M309.5 1508.8h0M311.5 1469.1h0M316.2 1473.1h0M317.1 1476.9h0M314.9 1513.7h0M317.1 1510.9h0M315.7 1471.8h0"/>
<path stroke="#f50b00" d="M309.0 1506.3h0M308.6 1503.8h0M316.9 1476.9h0M308.6 1487.5h0M316.5 1475.5h0M315.9 1474.1h0M310.3 1476.7h0M313.0 1469.7h0M312.7 1470.5h0M318.9 1490.4h0M309.3 1484.4h0M309.8 1507.6h0M308.5 1493.1h0M318.8 1490.3h0"/>
<path stroke="#e30000" d="M313.8 1471.5h0M318.8 1501.6h0M308.8 1500.8h0M318.4 1488.2h0M314.6 1473.2h0M312.7 1512.0h0M317.8 1484.5h0M318.4 1489.0h0M310.3 1481.4h0M317.8 1485.8h0M311.1 1478.9h0"/>
<path stroke="#d10000" d="M318.5 1492.4h0M310.3 1506.7h0M310.8 1508.0h0M315.8 1509.9h0M309.1 1498.0h0M310.7 1481.7h0M317.8 1487.1h0M313.7 1475.9h0M318.4 1495.6h0M312.0 1478.8h0M318.3 1499.0h0M313.9 1477.3h0"/>
<path stroke="#bf0000" d="M311.5 1507.9h0M313.1 1478.4h0M310.5 1505.1h0M309.7 1496.3h0M314.1 1479.2h0M311.1 1506.2h0M309.8 1493.8h0M317.8 1499.0h0M310.2 1491.6h0M311.5 1484.3h0"/>
<path stroke="#ad0000" d="M314.3 1480.9h0M313.4 1481.0h0M314.2 1481.0h0M315.3 1483.2h0M314.3 1481.8h0M313.4 1481.9h0M312.4 1483.3h0M317.4 1495.8h0M312.1 1485.3h0M317.3 1497.7h0"/>
<path stroke="#9b0000" d="M315.7 1505.5h0M316.3 1503.4h0M314.2 1485.0h0M312.5 1504.5h0M314.4 1505.3h0M311.2 1494.5h0"/>
<path stroke="#890000" d="M311.4 1498.6h0M312.7 1487.9h0M311.5 1497.0h0M312.7 1502.9h0M311.8 1494.1h0M316.3 1496.0h0M315.9 1492.5h0M311.8 1496.2h0M314.7 1489.5h0M311.9 1495.2h0M315.7 1499.9h0M313.4 1502.5h0M312.5 1496.3h0M312.6 1499.2h0M313.1 1500.0h0M315.2 1491.9h0"/>
</g>
<g clip-path="url(#clipf)" fill="none" stroke-linecap="round" stroke-width="7.40">
<path stroke="#000089" d="M1114.2 1461.6h0M1084.3 1633.2h0M1087.6 1454.2h0"/>
<path stroke="#00009b" d="M1096.9 1450.6h0M1082.9 1616.0h0M1109.5 1641.0h0M1079.3 1565.9h0M1098.2 1644.0h0M1101.7 1455.4h0"/>
<path stroke="#0000ad" d="M1122.3 1529.3h0M1123.5 1598.9h0M1115.1 1475.9h0M1076.7 1531.0h0M1122.0 1575.8h0M1096.1 1641.3h0M1121.8 1531.9h0M1122.7 1595.7h0M1117.1 1484.2h0M1106.7 1639.8h0M1119.5 1494.0h0M1119.3 1494.2h0M1095.8 1457.9h0M1082.3 1565.6h0M1111.1 1473.8h0M1116.5 1486.4h0M1097.7 1639.2h0M1097.4 1458.1h0M1118.8 1572.0h0M1105.6 1637.1h0M1119.9 1502.8h0"/>
<path stroke="#0000bf" d="M1089.0 1621.8h0M1095.2 1633.9h0M1120.2 1546.8h0M1078.2 1518.9h0M1118.0 1568.7h0M1120.0 1544.5h0M1119.1 1513.2h0M1089.6 1621.1h0M1110.0 1630.2h0M1105.5 1634.7h0M1119.7 1544.4h0M1078.6 1511.0h0M1085.7 1603.1h0M1098.4 1634.8h0M1100.2 1635.7h0M1118.1 1603.0h0M1116.6 1573.7h0M1114.9 1621.3h0M1106.3 1469.6h0M1099.7 1634.3h0M1079.6 1537.7h0M1118.6 1586.8h0M1086.0 1487.7h0M1079.2 1512.9h0M1112.9 1487.0h0M1101.1 1461.9h0M1116.9 1581.2h0M1110.9 1626.4h0M1090.2 1471.6h0M1118.3 1508.4h0M1115.7 1618.1h0M1097.1 1629.5h0M1097.2 1629.0h0M1086.9 1600.6h0M1087.0 1591.8h0M1116.6 1559.5h0M1092.8 1621.4h0M1117.3 1548.5h0M1116.5 1606.1h0M1084.6 1575.5h0"/>
<path stroke="#0000d1" d="M1088.4 1608.6h0M1092.9 1621.2h0M1089.7 1474.1h0M1116.2 1559.6h0M1117.4 1508.8h0M1114.0 1577.3h0M1115.9 1597.2h0M1115.6 1614.0h0M1086.0 1584.4h0M1105.0 1628.6h0M1099.1 1627.5h0M1115.2 1583.0h0M1108.0 1626.0h0M1084.6 1496.7h0M1115.9 1585.5h0M1106.0 1471.4h0M1102.4 1628.2h0M1116.5 1505.2h0M1107.1 1625.9h0M1105.1 1626.9h0M1085.4 1578.3h0M1084.9 1497.4h0M1081.3 1511.2h0M1115.3 1593.6h0M1111.4 1620.3h0M1113.8 1615.9h0M1102.3 1626.5h0M1113.8 1601.5h0M1094.7 1465.8h0M1094.3 1619.3h0M1089.4 1598.8h0M1081.5 1516.7h0M1115.0 1590.6h0M1114.9 1590.5h0M1114.9 1550.7h0M1099.0 1623.4h0M1113.0 1615.8h0M1113.8 1613.0h0M1114.1 1609.4h0M1088.1 1591.4h0M1114.4 1588.5h0M1082.0 1512.0h0M1088.0 1590.5h0M1113.3 1605.8h0M1106.3 1623.2h0M1082.1 1519.0h0M1097.2 1464.6h0M1100.3 1623.2h0M1086.4 1491.2h0M1090.6 1603.6h0M1095.5 1465.8h0M1113.2 1499.2h0M1113.5 1587.2h0M1096.2 1619.1h0M1108.5 1620.7h0M1112.6 1614.0h0"/>
<path stroke="#0000e3" d="M1115.1 1520.6h0M1112.0 1603.6h0M1093.4 1613.7h0M1106.4 1621.3h0M1111.5 1497.3h0M1087.7 1587.6h0M1082.8 1536.6h0M1101.5 1621.5h0M1112.5 1499.7h0M1111.6 1585.8h0M1107.6 1479.1h0M1091.5 1599.6h0M1085.4 1572.3h0M1105.9 1620.0h0M1111.5 1608.5h0M1111.4 1593.0h0M1111.2 1497.2h0M1109.9 1598.6h0M1089.7 1594.4h0M1083.2 1523.1h0M1110.3 1596.1h0M1111.6 1589.1h0M1093.5 1609.7h0M1093.9 1611.5h0M1110.4 1605.3h0M1097.4 1466.1h0M1093.0 1604.5h0M1108.6 1483.9h0M1093.3 1603.9h0M1100.7 1466.9h0M1098.4 1617.4h0M1084.4 1557.7h0M1095.8 1614.2h0M1109.8 1606.3h0M1109.8 1592.4h0M1095.1 1611.1h0M1107.8 1615.8h0M1094.3 1604.9h0M1094.3 1605.2h0M1095.4 1612.0h0M1109.3 1607.0h0M1094.5 1604.8h0M1107.3 1600.9h0M1109.3 1611.0h0M1108.9 1612.6h0M1095.2 1609.4h0M1096.9 1613.6h0M1102.9 1617.4h0M1108.6 1608.1h0M1095.3 1606.0h0M1104.8 1616.5h0M1106.6 1603.5h0M1113.3 1559.8h0"/>
<path stroke="#0000f5" d="M1105.1 1615.9h0M1092.1 1598.7h0M1113.7 1524.9h0M1100.3 1615.5h0M1113.1 1562.9h0M1106.7 1613.7h0M1112.2 1504.9h0M1107.6 1609.0h0M1097.3 1611.4h0M1104.8 1615.0h0M1112.4 1571.9h0M1107.2 1597.2h0M1105.9 1605.6h0M1113.1 1561.1h0M1104.6 1604.2h0M1113.7 1542.2h0M1113.4 1523.9h0M1106.6 1610.8h0M1106.4 1611.4h0M1109.4 1589.9h0M1099.6 1612.9h0M1104.5 1613.0h0M1098.3 1609.5h0M1100.4 1612.8h0M1103.5 1606.0h0M1100.9 1612.8h0M1102.2 1613.1h0M1103.3 1471.4h0M1100.4 1612.1h0M1102.2 1613.0h0M1099.1 1608.1h0M1085.5 1505.6h0M1112.3 1509.1h0M1103.1 1611.7h0M1102.4 1610.2h0M1101.1 1604.4h0M1111.3 1503.2h0M1098.7 1604.6h0M1090.4 1479.6h0M1084.4 1544.8h0M1113.4 1536.3h0M1100.7 1603.8h0M1108.2 1592.0h0M1111.9 1570.5h0M1084.5 1542.6h0M1109.0 1588.5h0M1099.0 1603.5h0"/>
<path stroke="#0000ff" d="M1106.5 1480.7h0M1107.3 1593.0h0M1101.4 1601.7h0M1093.2 1596.5h0M1101.3 1601.7h0M1104.6 1598.1h0M1103.0 1600.0h0M1100.9 1601.4h0M1111.8 1515.3h0M1096.7 1600.4h0M1105.9 1594.8h0"/>
<path stroke="#0008ff" d="M1109.6 1581.8h0M1103.9 1476.0h0M1107.3 1485.4h0M1106.6 1592.4h0M1089.5 1583.6h0M1108.2 1586.3h0M1102.2 1598.8h0M1094.8 1596.8h0M1093.5 1594.7h0M1105.6 1480.7h0M1108.6 1584.2h0M1097.4 1598.9h0M1104.6 1594.8h0M1091.5 1481.3h0M1088.0 1495.6h0"/>
<path stroke="#0018ff" d="M1107.1 1588.4h0M1092.1 1590.0h0M1105.2 1480.8h0M1110.7 1568.2h0M1109.6 1576.6h0M1111.6 1553.5h0M1105.0 1481.3h0M1085.6 1540.8h0M1098.2 1597.1h0M1108.8 1496.3h0M1106.0 1484.3h0M1111.1 1560.3h0"/>
<path stroke="#0028ff" d="M1109.4 1500.7h0M1085.7 1540.8h0M1094.8 1593.2h0M1102.8 1594.4h0M1100.6 1596.0h0M1085.8 1539.8h0M1097.0 1594.7h0M1110.8 1560.0h0M1086.9 1509.8h0M1107.1 1490.2h0M1087.1 1559.5h0M1090.0 1490.1h0M1105.7 1587.5h0"/>
<path stroke="#0038ff" d="M1110.3 1512.0h0M1088.7 1496.5h0M1111.0 1552.4h0M1091.8 1584.5h0M1107.7 1493.5h0M1104.7 1589.2h0M1111.0 1550.6h0M1095.9 1477.0h0M1106.3 1488.1h0M1110.9 1522.6h0M1103.5 1590.8h0M1103.1 1591.1h0M1111.0 1547.0h0M1093.9 1588.7h0M1107.8 1578.2h0M1095.5 1591.2h0M1089.0 1571.5h0M1107.8 1578.0h0M1109.6 1507.9h0"/>
<path stroke="#0048ff" d="M1086.8 1550.6h0M1096.6 1591.7h0M1086.9 1551.3h0M1100.4 1477.9h0M1098.6 1592.3h0M1099.3 1592.1h0M1109.0 1504.3h0M1093.8 1481.9h0M1110.7 1545.6h0M1089.1 1498.2h0"/>
<path stroke="#0058ff" d="M1110.7 1539.1h0M1099.0 1478.1h0M1087.8 1507.5h0M1110.6 1542.3h0M1110.6 1541.4h0M1110.6 1531.4h0M1108.8 1568.1h0M1089.8 1495.5h0M1089.6 1571.0h0M1094.8 1587.2h0M1103.2 1587.7h0M1097.2 1589.9h0M1103.5 1586.9h0M1105.3 1488.3h0M1087.3 1515.8h0M1110.0 1553.8h0M1109.9 1516.3h0M1099.1 1590.2h0M1087.3 1550.4h0M1110.5 1539.5h0M1087.9 1508.7h0M1110.3 1525.2h0M1109.0 1507.3h0M1105.0 1582.9h0"/>
<path stroke="#0068ff" d="M1103.2 1586.6h0M1110.2 1547.9h0M1106.1 1491.8h0M1109.6 1514.8h0M1108.0 1501.4h0M1108.7 1565.2h0M1110.3 1531.6h0M1099.9 1588.6h0M1087.0 1530.3h0M1109.4 1557.6h0M1103.2 1484.5h0M1110.2 1534.2h0M1110.2 1539.1h0M1087.1 1527.2h0"/>
<path stroke="#0078ff" d="M1108.0 1568.8h0M1089.7 1498.9h0M1107.8 1569.6h0M1108.5 1506.6h0M1088.6 1507.7h0M1108.3 1564.2h0M1101.4 1482.8h0M1109.9 1538.8h0M1087.3 1535.9h0"/>
<path stroke="#0087ff" d="M1108.5 1508.5h0M1109.2 1515.8h0M1102.7 1583.9h0M1090.6 1570.0h0M1104.2 1580.9h0M1096.4 1482.6h0M1088.9 1506.7h0M1099.2 1585.8h0M1094.8 1485.1h0M1109.7 1537.6h0M1109.7 1536.9h0"/>
<path stroke="#0097ff" d="M1089.4 1560.5h0M1109.1 1518.7h0M1090.4 1566.7h0M1087.8 1539.4h0M1109.4 1526.9h0"/>
<path stroke="#00a7ff" d="M1089.0 1509.2h0M1097.8 1483.6h0M1097.7 1583.6h0M1092.6 1491.4h0M1088.9 1510.8h0M1089.1 1555.2h0M1107.9 1508.8h0M1104.9 1575.6h0M1108.1 1558.1h0M1103.3 1579.4h0M1107.1 1503.5h0M1089.4 1507.4h0M1103.3 1489.1h0"/>
<path stroke="#00b7ff" d="M1090.5 1501.2h0M1105.1 1495.2h0M1109.1 1529.9h0M1095.8 1486.3h0M1104.3 1492.6h0M1109.0 1532.9h0M1089.7 1506.9h0M1096.1 1486.3h0M1097.7 1581.6h0M1094.3 1577.0h0M1102.4 1579.2h0"/>
<path stroke="#00c7ff" d="M1107.7 1558.0h0M1108.9 1538.0h0M1106.2 1501.5h0M1090.0 1506.4h0M1108.8 1537.2h0M1095.6 1578.3h0M1108.8 1533.4h0M1088.4 1532.1h0M1106.8 1563.0h0M1108.6 1543.3h0"/>
<path stroke="#00d7ff" d="M1089.7 1509.3h0M1100.9 1579.7h0M1095.1 1488.9h0M1105.2 1570.3h0M1099.8 1486.8h0M1097.0 1487.0h0M1093.4 1492.8h0M1096.0 1488.2h0M1105.1 1498.2h0M1102.7 1576.2h0"/>
<path stroke="#01e7f5" d="M1091.4 1564.3h0M1098.1 1487.1h0M1107.1 1509.2h0M1092.3 1497.0h0M1095.3 1489.6h0M1088.8 1525.4h0M1089.0 1521.6h0M1107.0 1509.5h0M1099.2 1578.8h0M1096.0 1489.2h0M1092.9 1569.1h0"/>
<path stroke="#0ef7e9" d="M1089.4 1547.5h0M1108.2 1525.7h0M1098.0 1578.0h0M1102.4 1491.7h0M1108.1 1525.0h0M1100.1 1577.6h0M1105.8 1503.0h0M1089.2 1541.1h0M1106.3 1506.1h0M1089.4 1545.7h0M1106.4 1507.0h0M1094.2 1572.0h0M1108.1 1540.9h0M1100.2 1489.3h0M1108.1 1531.4h0"/>
<path stroke="#1bffdc" d="M1104.0 1570.5h0M1106.0 1562.1h0M1089.1 1529.6h0M1108.0 1528.8h0M1090.4 1509.5h0M1090.5 1509.0h0M1089.7 1547.1h0M1094.7 1492.9h0M1097.2 1575.8h0M1103.2 1571.7h0M1093.0 1497.4h0M1105.0 1501.1h0M1106.2 1559.3h0M1107.7 1544.5h0M1089.9 1515.6h0"/>
<path stroke="#28ffcf" d="M1099.2 1576.1h0M1098.9 1576.1h0M1089.4 1524.4h0M1099.7 1575.8h0M1090.7 1508.6h0M1107.8 1540.2h0M1090.4 1551.8h0M1096.9 1574.6h0M1095.8 1491.9h0"/>
<path stroke="#35ffc2" d="M1092.2 1501.8h0M1089.6 1540.7h0M1093.8 1568.2h0M1107.7 1529.8h0M1094.2 1495.4h0M1098.4 1574.6h0M1096.5 1491.7h0M1105.4 1504.9h0M1089.5 1532.3h0M1090.5 1550.0h0M1096.4 1572.7h0M1089.6 1535.9h0"/>
<path stroke="#42ffb5" d="M1093.6 1497.6h0M1096.3 1492.5h0M1096.9 1491.9h0M1093.6 1498.0h0M1091.5 1507.3h0M1106.4 1513.2h0M1090.0 1520.9h0M1089.9 1523.1h0M1089.8 1534.7h0"/>
<path stroke="#4effa8" d="M1090.5 1515.8h0M1105.6 1507.8h0M1093.2 1500.1h0M1103.5 1566.6h0M1106.3 1513.2h0M1106.7 1517.9h0M1106.7 1519.0h0M1090.1 1539.1h0M1105.0 1505.5h0"/>
<path stroke="#5bff9c" d="M1106.5 1516.4h0M1102.1 1569.1h0M1090.0 1528.6h0M1097.4 1571.3h0M1101.5 1495.3h0M1101.7 1569.6h0M1103.1 1566.4h0M1090.9 1548.2h0M1106.4 1517.8h0M1090.1 1532.1h0"/>
<path stroke="#68ff8f" d="M1106.9 1538.8h0M1099.9 1493.9h0M1092.1 1556.2h0M1103.5 1564.4h0M1101.9 1496.7h0M1090.2 1527.1h0M1091.5 1510.9h0M1106.4 1518.9h0M1106.2 1516.5h0M1101.1 1569.3h0M1095.1 1497.1h0M1095.6 1567.8h0"/>
<path stroke="#75ff82" d="M1100.5 1495.2h0M1106.8 1533.1h0M1090.8 1519.2h0M1106.3 1519.6h0M1105.4 1510.9h0M1105.3 1510.7h0M1104.1 1504.4h0M1098.2 1569.9h0M1090.6 1522.7h0M1106.4 1543.8h0M1103.0 1500.6h0M1096.0 1496.4h0M1106.5 1525.2h0M1106.5 1541.4h0"/>
<path stroke="#82ff75" d="M1104.9 1556.2h0M1091.1 1545.5h0M1098.0 1495.0h0M1090.7 1522.3h0M1106.6 1530.7h0M1094.2 1500.8h0M1106.6 1535.6h0M1106.5 1527.6h0M1105.1 1511.0h0M1099.1 1569.0h0M1103.6 1561.4h0M1091.1 1519.0h0M1101.4 1566.8h0M1092.1 1552.8h0M1098.1 1495.6h0M1101.6 1566.3h0"/>
<path stroke="#8fff68" d="M1106.1 1520.5h0M1091.5 1515.2h0M1102.2 1564.8h0M1106.3 1539.7h0M1100.2 1496.7h0M1106.4 1530.0h0M1097.0 1567.3h0M1092.9 1556.3h0M1105.3 1513.5h0M1090.8 1526.7h0M1105.2 1551.5h0M1091.4 1517.7h0"/>
<path stroke="#9cff5b" d="M1103.1 1561.6h0M1103.8 1559.0h0M1093.6 1558.4h0M1090.9 1527.7h0M1091.1 1540.5h0M1093.0 1506.9h0M1098.9 1496.7h0M1091.9 1548.3h0M1104.8 1553.0h0M1093.1 1556.1h0M1097.3 1566.5h0M1102.2 1563.2h0M1096.3 1498.5h0"/>
<path stroke="#a8ff4e" d="M1098.8 1497.1h0M1103.2 1559.9h0M1097.5 1566.3h0M1091.9 1547.7h0M1105.6 1544.8h0M1105.3 1548.1h0M1098.9 1497.2h0M1100.8 1498.8h0M1103.2 1559.8h0M1106.0 1538.4h0M1091.2 1524.7h0M1091.4 1541.9h0M1093.6 1505.5h0M1091.2 1536.2h0M1091.5 1541.5h0M1104.1 1555.6h0"/>
<path stroke="#b5ff42" d="M1091.8 1516.5h0M1105.6 1542.6h0M1091.4 1522.7h0M1105.7 1522.6h0M1102.6 1560.7h0M1105.6 1522.3h0M1103.9 1508.5h0M1102.4 1561.0h0M1104.6 1551.5h0M1103.6 1556.5h0M1093.9 1556.8h0M1092.5 1512.6h0"/>
<path stroke="#c2ff35" d="M1095.3 1501.7h0M1094.1 1557.5h0M1102.3 1503.5h0M1104.2 1511.6h0M1096.9 1563.5h0M1105.6 1527.5h0M1105.7 1534.2h0"/>
<path stroke="#cfff28" d="M1105.7 1533.0h0M1100.4 1500.3h0M1099.4 1564.1h0M1091.5 1533.7h0M1105.4 1538.4h0M1092.6 1514.6h0M1101.9 1503.7h0"/>
<path stroke="#dcff1b" d="M1102.3 1504.7h0M1104.1 1512.3h0M1103.9 1511.1h0M1101.0 1502.0h0M1093.8 1508.4h0M1094.6 1557.1h0M1105.3 1525.5h0M1098.8 1500.1h0M1091.8 1535.2h0M1093.7 1509.4h0M1105.3 1526.1h0"/>
<path stroke="#e9ff0e" d="M1104.4 1516.2h0M1104.1 1514.1h0M1092.1 1522.4h0M1095.6 1558.9h0M1105.0 1522.3h0M1103.2 1509.3h0M1093.1 1513.1h0M1094.6 1555.8h0M1105.0 1540.0h0M1105.2 1531.9h0M1091.9 1532.5h0M1092.6 1517.2h0M1096.0 1559.4h0M1097.9 1501.2h0M1104.9 1540.5h0M1102.1 1557.9h0M1092.2 1521.7h0M1105.2 1533.1h0"/>
<path stroke="#f5f701" d="M1103.0 1554.1h0M1093.3 1549.0h0M1092.1 1527.4h0M1092.1 1529.3h0M1096.7 1559.6h0"/>
<path stroke="#ffe800" d="M1098.7 1501.9h0M1093.3 1547.8h0M1097.5 1560.4h0M1100.6 1559.5h0M1104.7 1523.8h0M1103.8 1514.7h0M1094.3 1552.9h0M1104.7 1540.1h0M1093.2 1514.9h0M1093.1 1516.4h0M1100.9 1558.9h0M1104.8 1525.3h0M1092.9 1518.2h0M1094.0 1511.0h0M1092.4 1536.2h0"/>
<path stroke="#ffda00" d="M1102.0 1555.9h0M1093.2 1515.9h0M1101.4 1557.3h0M1104.2 1543.6h0M1095.9 1556.8h0M1104.7 1529.2h0M1104.6 1537.3h0M1092.6 1537.6h0M1104.7 1534.7h0M1092.5 1534.6h0"/>
<path stroke="#ffcb00" d="M1104.1 1519.9h0M1102.8 1551.8h0M1102.9 1551.1h0M1092.5 1527.8h0M1094.6 1551.7h0M1096.9 1504.7h0M1096.4 1556.7h0M1104.1 1521.1h0M1094.8 1552.2h0M1101.3 1556.1h0M1098.7 1504.0h0"/>
<path stroke="#ffbc00" d="M1094.2 1549.6h0M1092.6 1533.2h0M1101.7 1554.8h0M1104.5 1529.8h0M1104.0 1542.0h0M1100.7 1556.6h0M1092.7 1526.6h0M1100.6 1556.7h0M1102.8 1512.7h0M1092.8 1535.9h0M1094.2 1548.7h0M1103.7 1518.9h0M1103.4 1516.2h0M1094.5 1549.7h0M1097.8 1557.6h0"/>
<path stroke="#ffad00" d="M1098.3 1504.8h0M1092.8 1534.8h0M1099.8 1557.2h0M1104.2 1535.8h0M1099.0 1505.0h0M1095.0 1510.3h0M1103.9 1541.4h0M1103.9 1540.8h0M1103.4 1517.1h0M1102.8 1513.9h0M1093.6 1517.6h0M1092.9 1528.6h0M1102.0 1510.6h0M1100.5 1506.9h0"/>
<path stroke="#ff9e00" d="M1093.7 1543.4h0M1101.8 1552.5h0M1102.9 1514.9h0M1103.3 1517.2h0M1102.7 1548.9h0M1097.5 1506.1h0M1093.8 1517.4h0M1103.5 1542.9h0M1096.3 1554.3h0M1099.4 1506.2h0M1100.0 1506.8h0M1098.0 1506.0h0"/>
<path stroke="#ff9000" d="M1093.3 1537.5h0M1102.1 1550.3h0M1095.7 1552.1h0M1097.2 1507.1h0M1104.0 1533.1h0M1093.3 1525.7h0M1093.5 1539.4h0M1099.6 1507.1h0M1097.1 1507.6h0M1093.9 1543.0h0M1097.6 1507.1h0M1103.5 1540.1h0M1102.8 1516.3h0M1094.5 1515.3h0"/>
<path stroke="#ff8100" d="M1103.5 1539.9h0M1097.7 1554.9h0M1103.3 1541.6h0M1103.3 1520.8h0M1101.4 1510.9h0M1103.2 1520.2h0M1103.5 1538.8h0M1095.1 1548.6h0M1099.9 1508.1h0M1100.4 1553.5h0M1101.1 1552.2h0M1093.5 1535.5h0M1103.3 1540.9h0M1103.7 1530.6h0M1103.7 1534.0h0M1103.7 1533.6h0M1101.1 1551.8h0M1093.7 1523.2h0"/>
<path stroke="#ff7200" d="M1101.9 1513.2h0M1093.6 1536.1h0M1093.6 1536.5h0M1097.5 1553.6h0M1097.2 1508.7h0M1100.3 1509.4h0M1093.7 1524.1h0M1103.6 1531.1h0M1093.9 1539.2h0"/>
<path stroke="#ff6300" d="M1103.4 1535.1h0M1100.5 1551.9h0M1097.8 1508.8h0M1103.1 1540.1h0M1102.3 1516.5h0M1103.3 1525.4h0M1094.0 1522.6h0M1102.6 1543.7h0M1098.6 1508.8h0M1101.1 1550.0h0M1103.3 1526.3h0M1093.8 1527.4h0"/>
<path stroke="#ff5500" d="M1095.2 1515.3h0M1099.7 1509.9h0M1094.0 1523.5h0M1099.4 1552.4h0M1095.6 1514.0h0M1095.1 1516.0h0M1094.6 1519.3h0M1093.9 1534.7h0M1098.2 1552.3h0M1099.6 1510.4h0M1095.2 1516.3h0M1099.8 1551.4h0"/>
<path stroke="#ff4600" d="M1101.8 1516.1h0M1098.9 1510.0h0M1103.2 1529.4h0M1102.4 1519.3h0M1096.6 1549.7h0M1097.3 1551.0h0M1096.6 1549.7h0M1099.3 1551.6h0M1102.5 1541.7h0M1102.8 1523.8h0M1099.2 1510.4h0M1097.3 1550.8h0M1094.4 1538.7h0M1097.3 1550.7h0M1102.7 1539.0h0M1095.9 1547.2h0M1097.8 1551.2h0M1094.2 1535.4h0M1094.6 1540.2h0M1096.1 1513.6h0M1100.6 1513.1h0M1095.4 1516.4h0"/>
<path stroke="#ff3700" d="M1094.1 1528.7h0M1099.8 1550.3h0M1096.3 1513.6h0M1096.3 1547.6h0M1098.3 1511.0h0M1101.4 1546.0h0M1101.8 1517.9h0M1101.1 1515.0h0M1101.5 1516.5h0M1102.4 1522.4h0M1102.8 1531.6h0M1096.5 1513.5h0M1102.0 1542.9h0M1094.5 1524.4h0M1095.1 1541.9h0"/>
<path stroke="#ff2800" d="M1102.2 1521.0h0M1102.0 1520.1h0M1096.9 1513.3h0M1102.5 1537.6h0M1096.4 1514.5h0M1095.8 1516.5h0M1102.6 1527.3h0M1097.5 1512.6h0M1094.5 1533.7h0M1095.2 1541.0h0M1096.7 1547.2h0"/>
<path stroke="#ff1a00" d="M1100.5 1514.6h0M1097.1 1513.5h0M1096.1 1515.9h0M1098.4 1512.5h0M1102.4 1525.1h0M1097.2 1547.9h0M1102.0 1521.7h0M1094.8 1536.9h0M1102.2 1524.2h0M1097.8 1548.5h0M1102.4 1528.2h0M1100.6 1515.6h0M1099.2 1548.5h0M1095.8 1518.0h0M1094.7 1526.3h0M1102.4 1535.3h0M1101.0 1544.7h0M1095.0 1522.7h0M1094.9 1524.2h0M1102.4 1533.9h0"/>
<path stroke="#f50b00" d="M1096.3 1516.6h0M1097.0 1514.7h0M1096.5 1545.4h0M1101.1 1543.9h0M1100.6 1516.2h0M1095.2 1538.6h0M1100.9 1517.1h0M1101.7 1521.3h0M1095.1 1524.2h0M1095.4 1521.8h0M1094.8 1529.5h0"/>
<path stroke="#e30000" d="M1098.6 1547.5h0M1097.9 1547.1h0M1096.1 1518.5h0M1101.6 1521.9h0M1099.5 1546.5h0M1100.2 1545.1h0M1102.0 1528.2h0M1095.5 1538.0h0"/>
<path stroke="#d10000" d="M1097.0 1544.7h0M1095.8 1540.0h0M1095.8 1521.2h0M1099.6 1545.6h0M1097.2 1544.7h0M1096.0 1540.4h0M1098.4 1515.4h0M1095.9 1540.0h0M1097.1 1544.1h0M1101.9 1530.8h0M1101.5 1537.4h0M1101.7 1535.0h0M1100.5 1518.9h0M1095.4 1534.9h0M1100.9 1541.0h0M1095.4 1533.1h0"/>
<path stroke="#bf0000" d="M1097.3 1544.2h0M1101.4 1524.2h0M1101.2 1522.1h0M1101.4 1537.3h0M1101.5 1535.9h0M1097.3 1517.6h0M1098.3 1516.6h0M1101.5 1527.5h0"/>
<path stroke="#ad0000" d="M1096.9 1519.2h0M1099.4 1543.6h0M1097.5 1518.0h0M1096.7 1520.0h0M1100.6 1521.2h0M1100.6 1521.3h0M1095.7 1533.1h0M1095.7 1532.5h0M1098.2 1517.7h0M1095.7 1531.2h0M1096.1 1524.0h0M1097.6 1542.9h0M1100.9 1523.1h0M1101.4 1530.1h0M1101.3 1528.0h0M1095.7 1531.0h0M1095.9 1525.4h0M1097.4 1518.9h0M1095.9 1526.6h0M1095.8 1527.3h0"/>
<path stroke="#9b0000" d="M1098.2 1543.0h0M1099.6 1542.2h0M1099.1 1542.7h0M1096.8 1539.8h0M1100.3 1539.9h0M1101.2 1528.8h0M1099.2 1519.0h0M1100.9 1525.0h0M1101.2 1531.8h0M1099.4 1519.4h0M1096.8 1539.3h0M1096.0 1528.6h0M1096.0 1530.4h0M1099.6 1541.3h0M1101.0 1533.8h0M1096.0 1530.8h0M1099.1 1541.8h0M1096.0 1531.6h0M1100.0 1540.2h0M1101.0 1528.0h0"/>
<path stroke="#890000" d="M1096.5 1524.1h0M1098.4 1519.4h0M1099.8 1539.8h0M1096.5 1524.8h0M1100.4 1537.4h0M1096.2 1530.6h0M1100.8 1528.7h0M1096.3 1527.5h0M1096.6 1535.4h0M1096.6 1535.6h0M1096.3 1531.6h0M1098.0 1531.4h0M1098.6 1535.2h0M1099.9 1527.6h0M1098.1 1536.4h0M1098.0 1536.8h0M1098.7 1527.6h0M1097.5 1523.9h0M1099.2 1522.5h0M1097.8 1529.1h0M1100.6 1533.9h0M1096.5 1529.1h0M1099.5 1526.5h0M1099.7 1536.8h0M1098.5 1530.4h0M1098.9 1539.6h0M1098.7 1527.0h0M1100.1 1536.6h0M1098.7 1535.7h0M1097.1 1529.3h0M1097.4 1523.5h0M1097.7 1539.7h0M1099.1 1536.2h0M1098.1 1523.8h0M1098.0 1525.7h0M1099.9 1531.3h0M1099.6 1530.0h0M1099.8 1533.8h0M1097.0 1525.4h0M1100.3 1533.8h0M1099.8 1526.7h0M1098.7 1533.4h0M1097.3 1532.2h0M1099.6 1526.5h0M1099.1 1531.2h0M1099.3 1537.0h0M1100.3 1527.6h0M1099.7 1522.7h0M1099.8 1533.6h0M1098.0 1531.9h0M1099.0 1537.9h0M1099.1 1522.0h0M1097.3 1527.4h0M1100.3 1526.7h0M1098.7 1525.9h0M1100.4 1535.1h0M1099.0 1537.9h0M1098.9 1531.4h0M1097.9 1525.4h0M1099.4 1523.0h0M1099.9 1530.2h0"/>
</g>
<line x1="389.16" y1="672.6" x2="389.16" y2="1161.5" stroke="#000" stroke-width="2.6"/>
<line x1="125.6" y1="1017.62" x2="679.0" y2="1017.62" stroke="#000" stroke-width="2.6"/>
<line x1="1101.85" y1="672.6" x2="1101.85" y2="1161.8" stroke="#000" stroke-width="2.6"/>
<line x1="836.1" y1="1017.84" x2="1394.1" y2="1017.84" stroke="#000" stroke-width="2.6"/>
<line x1="393.54" y1="1292.0" x2="393.54" y2="1781.0" stroke="#000" stroke-width="2.6"/>
<line x1="125.6" y1="1540.78" x2="679.0" y2="1540.78" stroke="#000" stroke-width="2.6"/>
<line x1="1106.26" y1="1292.0" x2="1106.26" y2="1781.0" stroke="#000" stroke-width="2.6"/>
<line x1="836.1" y1="1540.78" x2="1394.1" y2="1540.78" stroke="#000" stroke-width="2.6"/>
<linearGradient id="ga1" gradientUnits="userSpaceOnUse" x1="142.4" y1="482.9" x2="240.6" y2="440.3"><stop offset="0.000" stop-color="#00009b"/><stop offset="0.008" stop-color="#0000ad"/><stop offset="0.100" stop-color="#0000ad"/><stop offset="0.108" stop-color="#0000bf"/><stop offset="0.200" stop-color="#0000bf"/><stop offset="0.208" stop-color="#0000d1"/><stop offset="0.792" stop-color="#0000d1"/><stop offset="0.800" stop-color="#0000bf"/><stop offset="0.892" stop-color="#0000bf"/><stop offset="0.900" stop-color="#0000ad"/><stop offset="0.992" stop-color="#0000ad"/><stop offset="1.000" stop-color="#00009b"/></linearGradient>
<path d="M142.4 482.9L240.6 440.3" fill="none" stroke="url(#ga1)" stroke-width="3.9" stroke-linecap="round" clip-path="url(#clipa)"/>
<linearGradient id="ga2" gradientUnits="userSpaceOnUse" x1="255.4" y1="432.9" x2="483.9" y2="333.3"><stop offset="0.000" stop-color="#00009b"/><stop offset="0.008" stop-color="#0000ad"/><stop offset="0.025" stop-color="#0000ad"/><stop offset="0.033" stop-color="#0000bf"/><stop offset="0.042" stop-color="#0000e3"/><stop offset="0.050" stop-color="#0018ff"/><stop offset="0.058" stop-color="#0048ff"/><stop offset="0.067" stop-color="#0078ff"/><stop offset="0.075" stop-color="#0078ff"/><stop offset="0.083" stop-color="#0068ff"/><stop offset="0.092" stop-color="#0078ff"/><stop offset="0.100" stop-color="#00c7ff"/><stop offset="0.108" stop-color="#0ef7e9"/><stop offset="0.117" stop-color="#0ef7e9"/><stop offset="0.125" stop-color="#00c7ff"/><stop offset="0.133" stop-color="#00b7ff"/><stop offset="0.142" stop-color="#42ffb5"/><stop offset="0.150" stop-color="#9cff5b"/><stop offset="0.158" stop-color="#cfff28"/><stop offset="0.167" stop-color="#dcff1b"/><stop offset="0.175" stop-color="#b5ff42"/><stop offset="0.183" stop-color="#68ff8f"/><stop offset="0.192" stop-color="#82ff75"/><stop offset="0.200" stop-color="#dcff1b"/><stop offset="0.208" stop-color="#ffcb00"/><stop offset="0.217" stop-color="#ffad00"/><stop offset="0.225" stop-color="#ffcb00"/><stop offset="0.233" stop-color="#e9ff0e"/><stop offset="0.242" stop-color="#8fff68"/><stop offset="0.250" stop-color="#68ff8f"/><stop offset="0.258" stop-color="#cfff28"/><stop offset="0.267" stop-color="#ffcb00"/><stop offset="0.275" stop-color="#ffad00"/><stop offset="0.283" stop-color="#ffda00"/><stop offset="0.292" stop-color="#b5ff42"/><stop offset="0.300" stop-color="#4effa8"/><stop offset="0.308" stop-color="#a8ff4e"/><stop offset="0.317" stop-color="#cfff28"/><stop offset="0.325" stop-color="#b5ff42"/><stop offset="0.333" stop-color="#5bff9c"/><stop offset="0.342" stop-color="#00d7ff"/><stop offset="0.350" stop-color="#1bffdc"/><stop offset="0.358" stop-color="#0ef7e9"/><stop offset="0.367" stop-color="#00b7ff"/><stop offset="0.375" stop-color="#0068ff"/><stop offset="0.383" stop-color="#0048ff"/><stop offset="0.392" stop-color="#0038ff"/><stop offset="0.400" stop-color="#0018ff"/><stop offset="0.408" stop-color="#0000f5"/><stop offset="0.417" stop-color="#0000d1"/><stop offset="0.908" stop-color="#0000d1"/><stop offset="0.917" stop-color="#0000bf"/><stop offset="0.950" stop-color="#0000bf"/><stop offset="0.958" stop-color="#0000ad"/><stop offset="0.992" stop-color="#0000ad"/><stop offset="1.000" stop-color="#00009b"/></linearGradient>
<path d="M255.4 432.9L483.9 333.3" fill="none" stroke="url(#ga2)" stroke-width="3.9" stroke-linecap="round" clip-path="url(#clipa)"/>
<linearGradient id="ga3" gradientUnits="userSpaceOnUse" x1="539.0" y1="308.4" x2="606.8" y2="279.8"><stop offset="0.000" stop-color="#00009b"/><stop offset="0.008" stop-color="#00009b"/><stop offset="0.017" stop-color="#0000ad"/><stop offset="0.150" stop-color="#0000ad"/><stop offset="0.158" stop-color="#0000bf"/><stop offset="0.292" stop-color="#0000bf"/><stop offset="0.300" stop-color="#0000d1"/><stop offset="0.700" stop-color="#0000d1"/><stop offset="0.708" stop-color="#0000bf"/><stop offset="0.842" stop-color="#0000bf"/><stop offset="0.850" stop-color="#0000ad"/><stop offset="0.983" stop-color="#0000ad"/><stop offset="0.992" stop-color="#00009b"/><stop offset="1.000" stop-color="#00009b"/></linearGradient>
<path d="M539.0 308.4L606.8 279.8" fill="none" stroke="url(#ga3)" stroke-width="3.9" stroke-linecap="round" clip-path="url(#clipa)"/>
<g clip-path="url(#clipa)"><g transform="scale(0.5)" fill="none" stroke-linecap="round">
<path stroke="#000089" stroke-width="7.6" d="M796 1053h0M798 1059h0M798 1059h0M798 1054h0M798 1059h0M798 1054h0M799 1054h0M800 1054h0M800 1054h0M801 1059h0M801 1054h0M802 1059h0M802 1053h0M807 1054h0M810 1059h0M811 1059h0M812 1059h0M818 1053h0M821 1058h0M821 1058h0M825 1053h0M826 1053h0M829 1058h0M832 1058h0M836 1057h0M837 1058h0M837 1052h0M839 1057h0M840 1051h0M842 1052h0M843 1057h0M844 1052h0M845 1052h0M856 1052h0M862 1056h0M862 1052h0M867 1057h0M868 1051h0M874 1056h0M878 1056h0M880 1051h0M884 1051h0M891 1051h0M891 1056h0M897 1055h0M897 1050h0M908 1054h0M914 1050h0M914 1050h0M918 1054h0M922 1053h0M924 1053h0M926 1054h0M926 1050h0M930 1049h0M936 1053h0M936 1049h0M938 1049h0M943 1049h0M952 1053h0M953 1049h0M955 1049h0M955 1052h0M957 1053h0M957 1052h0M957 1052h0M957 1049h0M957 1049h0M959 1049h0M959 1049h0M961 1049h0M963 1048h0M964 1052h0M966 1048h0M797 1081h0M798 1077h0M800 1080h0M800 1077h0M804 1077h0M804 1080h0M804 1076h0M805 1076h0M809 1079h0M813 1076h0M813 1079h0M817 1075h0M819 1080h0M819 1080h0M826 1075h0M827 1079h0M829 1076h0M830 1080h0M834 1079h0M835 1075h0M836 1075h0M845 1075h0M847 1075h0M851 1078h0M853 1075h0M854 1075h0M858 1079h0M860 1075h0M864 1078h0M864 1078h0M865 1075h0M866 1074h0M870 1078h0M872 1074h0M875 1078h0M876 1075h0M893 1074h0M896 1077h0M898 1077h0M899 1074h0M900 1074h0M904 1073h0M907 1077h0M908 1073h0M909 1076h0M912 1077h0M913 1073h0M915 1076h0M916 1073h0M920 1076h0M926 1073h0M927 1073h0M931 1075h0M935 1072h0M935 1076h0M935 1072h0M936 1073h0M937 1075h0M939 1073h0M944 1075h0M947 1072h0M948 1075h0M948 1075h0M949 1073h0M950 1075h0M951 1075h0M951 1073h0M951 1075h0M954 1075h0M955 1075h0M959 1073h0M960 1075h0M961 1074h0M962 1074h0M962 1072h0M964 1074h0M965 1072h0"/>
<path stroke="#000089" stroke-width="8.0" d="M798 299h0M799 287h0M800 281h0M800 282h0M799 292h0M800 287h0M800 292h0M800 296h0M801 288h0M802 285h0M801 304h0M804 285h0M804 288h0M805 283h0M804 295h0M805 288h0M804 298h0M805 291h0M805 300h0M806 289h0M805 299h0M808 283h0M808 290h0M808 289h0M808 291h0M808 286h0M808 289h0M808 304h0M811 284h0M810 293h0M809 302h0M811 292h0M811 292h0M811 294h0M812 283h0M813 287h0M812 299h0M812 295h0M814 286h0M815 293h0M814 304h0M816 287h0M815 302h0M814 307h0M815 295h0M816 286h0M816 293h0M816 301h0M816 298h0M816 302h0M817 294h0M819 281h0M819 283h0M818 301h0M819 295h0M818 303h0M818 304h0M819 297h0M820 297h0M819 301h0M821 287h0M821 291h0M821 298h0M821 295h0M822 286h0M822 290h0M823 284h0M822 302h0M823 287h0M823 297h0M824 288h0M825 286h0M826 285h0M826 292h0M826 303h0M826 305h0M829 296h0M828 303h0M829 299h0M829 305h0M831 289h0M831 290h0M831 289h0M830 303h0M829 307h0M830 301h0M830 308h0M832 286h0M832 288h0M833 287h0M833 290h0M833 292h0M834 293h0M835 288h0M834 300h0M835 304h0M837 286h0M835 309h0M837 290h0M837 306h0M839 286h0M839 293h0M840 288h0M841 287h0M841 289h0M843 286h0M843 288h0M841 305h0M843 292h0M841 308h0M842 301h0M843 293h0M842 305h0M846 286h0M845 293h0M843 307h0M847 289h0M847 286h0M845 308h0M846 306h0M848 291h0M849 291h0M847 306h0M847 304h0M847 308h0M848 304h0M850 287h0M849 304h0M849 303h0M851 293h0M852 288h0M850 304h0M854 293h0M855 291h0M853 308h0M856 303h0M856 309h0M857 307h0M859 289h0M861 287h0M857 313h0M860 305h0M863 306h0M864 304h0M866 295h0M864 305h0M867 290h0M867 290h0M865 310h0M865 312h0M868 294h0M869 292h0M866 310h0M869 296h0M871 292h0M871 292h0M871 296h0M873 292h0M871 310h0M874 293h0M871 310h0M873 296h0M873 312h0M877 294h0M875 306h0M878 290h0M877 311h0M881 293h0M879 306h0M878 312h0M879 308h0M880 308h0M880 308h0M882 295h0M879 313h0M883 293h0M881 309h0M882 307h0M884 298h0M884 299h0M887 295h0M887 299h0M886 307h0M889 294h0M891 295h0M888 313h0M889 311h0M893 296h0M895 294h0M893 308h0M893 312h0M896 294h0M894 310h0M896 294h0M895 309h0M896 315h0M897 310h0M898 311h0M901 301h0M899 312h0M900 311h0M902 301h0M900 313h0M901 313h0M905 299h0M907 296h0M909 297h0M907 314h0M910 303h0M910 311h0M912 300h0M913 302h0M911 312h0M912 317h0M912 316h0M914 315h0M916 302h0M914 315h0M917 305h0M918 303h0M917 305h0M916 313h0M915 315h0M922 306h0M923 300h0M923 306h0M921 315h0M923 317h0M925 308h0M924 318h0M925 314h0M925 314h0M927 306h0M925 317h0M929 306h0M927 314h0M927 316h0M928 315h0M929 314h0M930 308h0M929 314h0M931 306h0M930 314h0M930 315h0M933 304h0M933 307h0M932 313h0M931 319h0M934 306h0M932 316h0M933 314h0M935 306h0M934 310h0M933 317h0M935 307h0M935 308h0M935 311h0M937 306h0M937 304h0M937 314h0M939 304h0M939 309h0M939 310h0M940 309h0M938 320h0M940 309h0M940 315h0M941 309h0M940 318h0M941 317h0M944 309h0M943 315h0M943 315h0M945 307h0M943 318h0M945 311h0M944 317h0M946 308h0M946 314h0M947 312h0M946 318h0M947 312h0M947 310h0M948 311h0M949 309h0M946 321h0M948 313h0M947 320h0M949 315h0M947 321h0M949 315h0M950 311h0M950 311h0M950 314h0M951 311h0M949 317h0M951 311h0M951 315h0M951 316h0M949 322h0M951 315h0M950 320h0M952 316h0M951 317h0M951 320h0M952 316h0M951 322h0M953 321h0M954 314h0M953 320h0M956 311h0M956 313h0M954 321h0M956 313h0M955 322h0M957 312h0M957 316h0M957 313h0M956 320h0M956 319h0M958 314h0M958 314h0M956 324h0M958 319h0M958 318h0M958 319h0M960 311h0M960 313h0M958 322h0M959 315h0M959 321h0M959 323h0M960 325h0M961 324h0M961 323h0M963 315h0M962 321h0M963 321h0M965 317h0M964 323h0M965 318h0M967 315h0M966 320h0M967 314h0M966 323h0M968 313h0M968 316h0M968 317h0M983 320h0M983 320h0M1102 342h0M1102 341h0M1103 334h0M1103 335h0M1103 338h0M1104 336h0M1104 337h0M1104 336h0M1103 345h0M1104 335h0M1104 339h0M1105 337h0M1105 333h0M1104 340h0M1105 332h0M1104 343h0M1105 336h0M1105 341h0M1106 332h0M1107 336h0M1107 343h0M1108 333h0M1107 342h0M1107 338h0M1107 343h0M1109 334h0M1108 345h0M1109 337h0M1110 335h0M1109 345h0M1110 341h0M1110 337h0M1109 345h0M1111 331h0M1110 339h0M1110 342h0M1110 341h0M1110 346h0M1112 334h0M1111 342h0M1112 333h0M1113 335h0M1112 345h0M1114 335h0M1114 334h0M1115 331h0M1114 339h0M1114 346h0M1115 333h0M1116 331h0M1116 336h0M1117 334h0M1117 330h0M1117 330h0M1117 339h0M1117 338h0M1118 334h0M1117 344h0M1117 346h0M1118 341h0M1119 332h0M1117 348h0M1118 344h0M1119 337h0M1118 344h0M1119 335h0M1120 333h0M1118 347h0M1119 346h0M1120 336h0M1119 343h0M1121 332h0M1121 337h0M1121 345h0M1122 334h0M1122 331h0M1121 342h0M1121 347h0M1122 343h0M1121 350h0M1123 333h0M1123 336h0M1122 344h0M1124 338h0M1123 346h0M1124 336h0M1123 348h0M1125 336h0M1125 339h0M1125 347h0M1126 345h0M1126 338h0M1126 345h0M1128 331h0M1126 344h0M1126 349h0M1126 346h0M1127 346h0M1128 333h0M1128 337h0M1127 350h0M1129 332h0M1128 335h0M1128 346h0M1128 349h0M1128 347h0M1128 347h0M1129 347h0M1129 350h0M1129 347h0M1130 348h0M1131 350h0M1132 347h0M1135 332h0M1134 334h0M1133 348h0M1136 327h0M1134 350h0M1135 347h0M1135 350h0M1135 350h0M1138 331h0M1137 347h0M1137 346h0M1139 335h0M1138 350h0M1139 338h0M1138 353h0M1141 331h0M1141 331h0M1141 332h0M1140 353h0M1141 347h0M1141 335h0M1142 353h0M1144 331h0M1144 331h0M1144 333h0M1144 353h0M1145 334h0M1144 354h0M1145 350h0M1145 349h0M1146 335h0M1147 351h0M1149 334h0M1148 352h0M1150 330h0M1150 335h0M1150 348h0M1150 351h0M1150 352h0M1151 335h0M1151 354h0M1152 336h0M1153 348h0M1154 334h0M1153 352h0M1155 333h0M1154 352h0M1155 334h0M1156 331h0M1156 336h0M1156 354h0M1156 349h0M1157 352h0M1157 352h0M1157 352h0M1158 337h0M1160 353h0M1160 351h0M1161 352h0M1161 349h0M1162 349h0M1162 352h0M1162 350h0M1162 354h0M1162 352h0M1163 351h0M1163 352h0M1163 354h0M1166 336h0M1167 334h0M1167 334h0M1166 352h0M1167 353h0M1169 332h0M1168 354h0M1169 338h0M1169 349h0M1169 356h0M1169 356h0M1170 349h0M1170 334h0M1170 351h0M1171 332h0M1171 351h0M1171 352h0M1171 354h0M1172 351h0M1172 354h0M1173 349h0M1173 354h0M1174 354h0M1174 349h0M1174 351h0M1175 338h0M1175 334h0M1175 352h0M1176 331h0M1178 335h0M1178 333h0M1177 349h0M1177 354h0M1178 350h0M1179 339h0M1178 354h0M1178 347h0M1179 340h0M1180 337h0M1179 355h0M1179 352h0M1180 338h0M1180 339h0M1180 353h0M1181 331h0M1180 348h0M1181 348h0M1182 348h0M1182 342h0M1182 355h0M1183 335h0M1182 355h0M1182 348h0M1183 338h0M1183 336h0M1183 341h0M1182 354h0M1183 335h0M1183 352h0M1183 353h0M1183 352h0M1184 340h0M1184 337h0M1185 341h0M1185 353h0M1185 354h0M1185 340h0M1185 356h0M1185 340h0M1185 341h0M1186 333h0M1185 346h0M1185 347h0M1186 337h0M1186 338h0M1186 334h0M1187 333h0M1187 348h0M1187 346h0M1187 352h0M1188 337h0M1188 336h0M1188 352h0M1189 340h0M1189 347h0M1189 343h0M1189 352h0M1189 355h0M1190 335h0M1190 338h0M1190 348h0M1190 340h0M1191 341h0M1191 339h0M1191 342h0M1192 337h0M1192 337h0M1192 343h0M1192 351h0M1193 338h0M1193 347h0M1193 348h0M1194 349h0M1194 339h0M1194 338h0M1194 350h0M1195 340h0M1195 337h0M1195 350h0M1195 344h0M1195 352h0M1197 338h0M1197 341h0M1197 352h0M1197 347h0M1198 341h0M1198 351h0M1199 337h0M1199 342h0M1199 348h0M1199 342h0M1199 342h0M1199 349h0M1199 355h0M1200 348h0M1200 345h0M1200 341h0M1200 339h0M1200 345h0M1201 342h0M1201 340h0M1201 347h0M1202 337h0M1202 339h0M1202 347h0M1203 338h0M1202 353h0M1203 342h0M1205 344h0M1205 338h0M1205 349h0M1205 349h0M1206 344h0M1205 350h0M1206 352h0M1207 343h0M1207 347h0M1208 337h0M1207 352h0M1208 350h0M1208 341h0M1208 344h0M285 902h0M293 898h0M315 887h0M334 880h0M348 892h0M352 890h0M356 892h0M351 872h0M370 882h0M377 879h0M379 878h0M385 874h0M378 855h0M386 853h0M401 864h0M402 863h0M409 861h0M416 857h0M425 856h0M424 838h0M433 851h0M434 849h0M452 841h0M450 829h0M454 827h0M459 837h0M455 827h0M462 835h0M461 825h0M465 832h0M465 821h0M467 823h0M472 829h0M477 812h0M484 819h0M498 814h0M495 805h0M495 805h0M498 805h0M499 803h0M505 801h0M505 801h0M506 800h0M798 676h0M799 677h0M797 673h0M798 675h0M798 671h0M797 669h0M799 673h0M797 666h0M800 674h0M801 675h0M802 675h0M799 669h0M798 667h0M802 674h0M800 667h0M799 664h0M803 670h0M802 669h0M803 669h0M805 673h0M800 662h0M804 669h0M805 670h0M806 671h0M802 660h0M802 660h0M808 671h0M805 665h0M805 662h0M803 657h0M805 660h0M807 662h0M812 672h0M811 669h0M805 657h0M811 668h0M808 662h0M808 661h0M813 672h0M810 661h0M810 661h0M810 659h0M810 658h0M815 668h0M812 657h0M814 657h0M813 656h0M814 658h0M819 667h0M815 659h0M815 657h0M814 656h0M814 656h0M815 658h0M814 654h0M815 655h0M815 656h0M816 656h0M815 652h0M822 667h0M824 667h0M819 656h0M824 665h0M823 664h0M824 663h0M824 663h0M819 653h0M825 662h0M822 653h0M828 665h0M828 664h0M830 665h0M829 661h0M826 648h0M832 661h0M833 660h0M834 661h0M829 650h0M828 648h0M828 648h0M834 660h0M835 661h0M834 658h0M836 662h0M830 647h0M832 648h0M832 646h0M833 648h0M838 659h0M838 657h0M842 657h0M843 656h0M845 657h0M848 655h0M842 642h0M849 653h0M850 655h0M850 653h0M850 653h0M847 637h0M855 653h0M848 637h0M850 639h0M853 636h0M853 635h0M860 650h0M862 648h0M859 633h0M870 644h0M873 645h0M868 629h0M870 629h0M880 641h0M873 625h0M882 641h0M881 639h0M876 627h0M883 641h0M878 628h0M883 637h0M884 637h0M878 625h0M877 624h0M879 626h0M886 637h0M886 637h0M881 623h0M881 622h0M881 622h0M888 635h0M883 624h0M883 620h0M884 621h0M893 634h0M890 620h0M892 618h0M899 628h0M893 616h0M894 615h0M903 629h0M902 628h0M896 616h0M897 615h0M898 615h0M899 615h0M899 613h0M905 626h0M906 626h0M899 613h0M900 615h0M901 614h0M907 624h0M903 614h0M909 626h0M902 613h0M908 623h0M911 624h0M911 624h0M905 611h0M912 622h0M913 621h0M908 610h0M908 609h0M915 621h0M909 608h0M916 620h0M912 608h0M914 607h0M914 606h0M914 606h0M915 606h0M914 604h0M921 617h0M914 605h0M915 606h0M916 603h0M916 604h0M917 604h0M924 616h0M929 614h0M928 613h0M923 601h0M930 614h0M931 613h0M931 613h0M926 601h0M932 610h0M932 611h0M927 601h0M934 612h0M934 611h0M928 597h0M935 611h0M929 599h0M937 610h0M937 608h0M939 608h0M933 598h0M933 596h0M938 606h0M934 597h0M940 606h0M934 594h0M940 605h0M943 606h0M937 593h0M944 605h0M940 594h0M940 593h0M947 604h0M941 592h0M942 592h0M947 601h0M943 592h0M944 592h0M945 591h0M945 593h0M944 589h0M946 592h0M949 599h0M950 599h0M946 591h0M947 592h0M952 600h0M948 590h0M953 598h0M954 596h0M956 600h0M955 596h0M950 587h0M952 588h0M952 588h0M951 587h0M954 590h0M954 588h0M956 589h0M957 589h0M957 588h0M961 594h0M960 593h0M959 585h0M958 583h0M963 591h0M960 584h0M962 586h0M965 592h0M961 584h0M966 592h0M965 588h0M962 582h0M964 586h0M963 581h0M966 588h0M968 589h0M970 593h0M966 586h0M968 589h0M967 585h0M966 584h0M965 581h0M968 585h0"/>
<path stroke="#000089" stroke-width="8.8" d="M512 215h0M513 223h0M513 217h0M515 224h0M518 225h0M518 224h0M518 212h0M518 214h0M520 225h0M520 226h0M521 213h0M522 214h0M524 226h0M523 212h0M523 212h0M527 228h0M527 211h0M530 225h0M530 211h0M530 211h0M530 210h0M531 209h0M534 225h0M532 206h0M534 224h0M535 226h0M533 210h0M536 226h0M533 209h0M532 228h0M539 211h0M535 223h0M540 213h0M537 226h0M537 230h0M539 229h0M548 210h0M548 213h0M551 211h0M550 214h0M545 231h0M552 213h0M552 215h0M547 233h0M554 213h0M550 228h0M556 210h0M549 232h0M556 216h0M552 233h0M561 216h0M562 216h0M698 269h0M708 263h0M709 273h0M713 274h0M720 271h0"/>
<path stroke="#00009b" stroke-width="7.6" d="M311 923h0M379 893h0M442 867h0M449 864h0M449 858h0M469 852h0M471 853h0M469 847h0M473 851h0M474 852h0M472 846h0M472 845h0M473 846h0M474 847h0M475 845h0M478 850h0M478 848h0M481 850h0M481 845h0M481 844h0M482 847h0M488 841h0M487 839h0M490 845h0M489 840h0M492 844h0M491 840h0M491 838h0M492 838h0M492 839h0M495 842h0M495 843h0M496 842h0M495 837h0M495 838h0M497 841h0M499 840h0M500 841h0M500 840h0M501 838h0M794 700h0M807 705h0M806 695h0M818 700h0M821 700h0M820 689h0M820 688h0M826 696h0M827 696h0M827 696h0M837 680h0M851 685h0M848 676h0M854 673h0M872 675h0M871 665h0M875 661h0M880 660h0M889 668h0M895 664h0M902 662h0M902 650h0M902 649h0M905 649h0M910 647h0M913 645h0M928 650h0M932 636h0M937 644h0M942 642h0M944 642h0M945 643h0M940 632h0M940 632h0M945 640h0M945 640h0M942 631h0M944 630h0M946 628h0M947 628h0M955 636h0M955 636h0M959 636h0M964 632h0M960 622h0M1253 495h0M288 1072h0M291 1070h0M292 1064h0M293 1064h0M293 1065h0M297 1070h0M301 1070h0M301 1071h0M301 1071h0M308 1070h0M310 1064h0M330 1063h0M343 1062h0M343 1069h0M347 1068h0M350 1069h0M353 1068h0M356 1068h0M357 1062h0M364 1068h0M364 1067h0M367 1061h0M375 1068h0M385 1061h0M386 1061h0M392 1061h0M395 1067h0M404 1060h0M421 1066h0M420 1060h0M423 1059h0M441 1065h0M443 1065h0M445 1059h0M445 1065h0M450 1065h0M453 1059h0M454 1059h0M456 1058h0M457 1065h0M460 1065h0M464 1065h0M480 1060h0M480 1062h0M481 1060h0M481 1061h0M481 1060h0M482 1059h0M484 1061h0M486 1059h0M488 1059h0M488 1062h0M488 1059h0M489 1059h0M492 1060h0M494 1060h0M495 1059h0M495 1059h0M496 1058h0M511 1057h0M512 1056h0M513 1062h0M514 1057h0M515 1056h0M515 1056h0M515 1061h0M519 1061h0M521 1061h0M525 1057h0M525 1057h0M526 1056h0M529 1062h0M532 1061h0M535 1061h0M537 1055h0M538 1056h0M541 1056h0M707 1058h0M708 1054h0M709 1054h0M712 1054h0M712 1053h0M716 1058h0M723 1058h0M725 1053h0M727 1054h0M799 1056h0M803 1058h0M803 1055h0M804 1056h0M804 1056h0M805 1057h0M806 1058h0M806 1057h0M806 1054h0M807 1057h0M807 1056h0M809 1058h0M810 1054h0M810 1057h0M810 1057h0M811 1055h0M812 1057h0M813 1054h0M814 1054h0M814 1058h0M817 1057h0M818 1054h0M818 1054h0M819 1057h0M821 1057h0M821 1057h0M822 1053h0M826 1057h0M827 1058h0M827 1057h0M830 1057h0M831 1053h0M833 1057h0M849 1053h0M849 1052h0M850 1057h0M863 1056h0M864 1056h0M867 1055h0M873 1056h0M875 1055h0M876 1052h0M878 1056h0M880 1055h0M884 1055h0M888 1054h0M890 1055h0M891 1051h0M894 1051h0M895 1054h0M897 1051h0M902 1050h0M903 1054h0M905 1054h0M906 1054h0M913 1050h0M915 1053h0M916 1051h0M920 1050h0M923 1050h0M923 1053h0M926 1053h0M927 1050h0M927 1050h0M928 1050h0M933 1050h0M933 1050h0M934 1050h0M935 1050h0M936 1053h0M937 1050h0M938 1050h0M940 1050h0M940 1049h0M944 1052h0M944 1053h0M947 1052h0M948 1050h0M949 1051h0M950 1049h0M953 1052h0M954 1051h0M955 1050h0M956 1051h0M956 1050h0M956 1050h0M957 1050h0M958 1050h0M958 1050h0M959 1051h0M960 1050h0M961 1051h0M961 1050h0M961 1050h0M962 1050h0M962 1050h0M964 1049h0M965 1049h0M966 1050h0M967 1051h0M984 1051h0M984 1051h0M1158 1037h0M1161 1048h0M1169 1046h0M1169 1046h0M1211 1037h0M1228 1040h0M1229 1039h0M1232 1039h0M1232 1038h0M1233 1040h0M1234 1039h0M1234 1039h0M1235 1037h0M1235 1039h0M1236 1040h0M1237 1037h0M1240 1037h0M1241 1039h0M1244 1038h0M1244 1037h0M1247 1039h0M1247 1037h0M1265 1035h0M1265 1035h0M285 1080h0M285 1080h0M286 1085h0M287 1086h0M287 1081h0M288 1086h0M289 1085h0M292 1081h0M292 1085h0M298 1080h0M299 1081h0M300 1081h0M300 1081h0M303 1085h0M307 1080h0M312 1085h0M316 1080h0M318 1085h0M322 1080h0M324 1085h0M345 1079h0M367 1079h0M371 1079h0M387 1080h0M392 1085h0M394 1079h0M398 1084h0M403 1084h0M438 1084h0M439 1084h0M446 1079h0M455 1079h0M460 1078h0M463 1083h0M467 1078h0M469 1083h0M471 1084h0M471 1079h0M480 1082h0M482 1081h0M483 1081h0M484 1080h0M485 1081h0M485 1079h0M487 1079h0M490 1079h0M491 1081h0M492 1081h0M493 1081h0M493 1081h0M493 1080h0M494 1079h0M495 1081h0M514 1083h0M515 1084h0M515 1080h0M515 1084h0M518 1084h0M521 1084h0M522 1081h0M523 1081h0M713 1083h0M719 1079h0M725 1079h0M726 1082h0M729 1078h0M798 1079h0M799 1079h0M799 1079h0M800 1078h0M801 1079h0M801 1078h0M802 1079h0M802 1079h0M805 1078h0M805 1077h0M806 1077h0M807 1078h0M807 1077h0M808 1077h0M809 1078h0M810 1078h0M811 1078h0M811 1077h0M813 1079h0M815 1076h0M817 1079h0M822 1077h0M823 1077h0M826 1079h0M827 1079h0M827 1079h0M829 1076h0M836 1076h0M837 1076h0M837 1078h0M838 1079h0M843 1078h0M844 1075h0M848 1078h0M853 1078h0M856 1075h0M866 1078h0M872 1078h0M872 1074h0M879 1074h0M880 1075h0M880 1078h0M882 1075h0M883 1075h0M888 1077h0M888 1074h0M889 1074h0M889 1074h0M894 1074h0M897 1074h0M900 1074h0M903 1074h0M906 1077h0M910 1076h0M910 1077h0M911 1076h0M913 1074h0M913 1074h0M914 1076h0M922 1076h0M922 1075h0M923 1073h0M926 1073h0M926 1073h0M930 1073h0M931 1073h0M933 1073h0M937 1074h0M938 1075h0M940 1073h0M942 1075h0M942 1073h0M943 1073h0M944 1073h0M946 1073h0M947 1073h0M948 1075h0M949 1073h0M949 1073h0M949 1075h0M952 1074h0M955 1073h0M955 1073h0M957 1074h0M958 1073h0M959 1074h0M960 1073h0M960 1074h0M960 1073h0M962 1073h0M963 1073h0M963 1073h0M968 1073h0M983 1073h0M984 1073h0M1082 1070h0M1114 1068h0M1158 1062h0M1168 1062h0M1179 1066h0M1201 1060h0M1226 1062h0M1228 1061h0M1229 1061h0M1231 1062h0M1231 1061h0M1233 1062h0M1233 1060h0M1233 1061h0M1234 1061h0M1235 1062h0M1235 1060h0M1237 1061h0M1244 1061h0M1245 1061h0M1246 1061h0M1247 1060h0M1265 1059h0M1265 1059h0"/>
<path stroke="#00009b" stroke-width="8.0" d="M835 296h0M837 293h0M839 294h0M841 296h0M842 296h0M845 297h0M847 295h0M847 299h0M848 297h0M849 301h0M851 300h0M852 298h0M854 296h0M856 303h0M857 301h0M860 296h0M864 297h0M867 300h0M868 297h0M868 298h0M869 299h0M870 298h0M869 301h0M876 303h0M877 303h0M878 302h0M879 299h0M878 302h0M882 302h0M883 303h0M885 300h0M887 302h0M887 303h0M891 303h0M890 307h0M890 308h0M891 302h0M896 305h0M897 304h0M898 305h0M899 304h0M901 307h0M903 308h0M904 307h0M906 310h0M908 309h0M908 310h0M910 309h0M912 309h0M914 307h0M915 306h0M915 304h0M914 311h0M915 311h0M916 308h0M917 306h0M917 306h0M916 311h0M919 307h0M920 307h0M920 310h0M920 312h0M922 311h0M926 307h0M926 312h0M928 310h0M929 309h0M930 311h0M931 312h0M931 313h0M933 312h0M935 312h0M1125 340h0M1128 339h0M1129 339h0M1132 338h0M1133 343h0M1134 345h0M1135 339h0M1136 339h0M1136 342h0M1137 342h0M1138 339h0M1138 338h0M1139 344h0M1139 346h0M1139 344h0M1140 340h0M1141 338h0M1142 342h0M1141 344h0M1143 347h0M1144 341h0M1144 337h0M1144 343h0M1145 347h0M1146 343h0M1146 339h0M1146 344h0M1147 344h0M1148 339h0M1148 341h0M1148 348h0M1149 337h0M1150 343h0M1151 339h0M1150 349h0M1151 337h0M1151 339h0M1152 336h0M1151 341h0M1151 348h0M1153 339h0M1153 348h0M1154 337h0M1156 346h0M1156 340h0M1156 345h0M1157 339h0M1157 347h0M1158 342h0M1157 349h0M1158 344h0M1159 343h0M1160 336h0M1160 347h0M1161 344h0M1161 347h0M1161 343h0M1161 347h0M1161 343h0M1162 346h0M1162 347h0M1163 340h0M1163 343h0M1164 348h0M1165 347h0M1166 338h0M1167 339h0M1167 341h0M1168 341h0M1168 345h0M1169 340h0M1168 347h0M1169 342h0M1169 342h0M1170 347h0M1171 346h0M1172 344h0M1172 343h0M1173 342h0M1173 342h0M1174 342h0M1174 340h0M1176 342h0M1177 341h0M1182 343h0M1183 345h0M1183 344h0M291 904h0M292 899h0M294 904h0M295 903h0M296 904h0M294 898h0M295 898h0M295 898h0M296 898h0M297 896h0M299 896h0M301 902h0M302 894h0M305 893h0M311 901h0M313 899h0M314 890h0M314 889h0M317 889h0M324 899h0M324 887h0M325 884h0M328 885h0M327 882h0M331 880h0M335 881h0M343 892h0M343 877h0M352 891h0M358 890h0M349 873h0M361 887h0M359 871h0M360 869h0M361 866h0M363 865h0M373 880h0M376 878h0M380 874h0M374 860h0M376 859h0M378 856h0M388 870h0M393 869h0M385 853h0M386 850h0M388 851h0M390 851h0M397 863h0M391 850h0M400 864h0M400 864h0M394 849h0M410 861h0M413 858h0M412 843h0M417 856h0M426 851h0M420 838h0M421 838h0M421 839h0M425 838h0M434 850h0M435 848h0M438 847h0M437 832h0M437 833h0M441 831h0M445 829h0M445 829h0M452 841h0M455 837h0M460 837h0M456 826h0M458 826h0M465 832h0M466 832h0M468 830h0M465 824h0M470 830h0M470 829h0M471 828h0M478 820h0M476 815h0M478 817h0M479 812h0M482 817h0M483 817h0M482 814h0M483 813h0M485 814h0M483 811h0M484 811h0M486 813h0M486 811h0M488 815h0M487 812h0M489 816h0M488 815h0M487 811h0M490 815h0M490 815h0M489 811h0M489 810h0M500 811h0M499 806h0M499 806h0M500 808h0M501 807h0M502 808h0M501 803h0M502 805h0M503 807h0M503 805h0M504 806h0M505 805h0M506 807h0M508 806h0M508 806h0M509 809h0M517 809h0M514 800h0M520 808h0M523 808h0M519 798h0M522 795h0M522 796h0M522 795h0M523 794h0M531 805h0M529 792h0M532 791h0M533 789h0M533 788h0M535 789h0M714 716h0M719 713h0M720 701h0M722 700h0M727 710h0M724 701h0M726 698h0M730 708h0M726 698h0M805 666h0M805 666h0M808 665h0M814 660h0M815 662h0M816 663h0M816 660h0M817 661h0M818 660h0M821 662h0M822 662h0M821 658h0M822 658h0M824 661h0M825 662h0M825 661h0M826 662h0M827 660h0M825 655h0M828 658h0M830 660h0M829 651h0M831 655h0M831 651h0M832 652h0M831 651h0M833 654h0M833 654h0M833 652h0M837 655h0M838 655h0M836 650h0M838 653h0M839 656h0M836 649h0M838 650h0M837 648h0M843 655h0M841 647h0M845 653h0M844 644h0M849 650h0M846 641h0M848 644h0M851 649h0M852 649h0M852 648h0M849 643h0M851 640h0M856 649h0M854 641h0M853 639h0M859 647h0M860 647h0M860 646h0M858 638h0M859 638h0M863 646h0M863 646h0M863 645h0M861 636h0M862 636h0M867 645h0M867 643h0M868 642h0M864 634h0M865 636h0M866 636h0M869 640h0M865 631h0M871 642h0M871 642h0M868 633h0M869 632h0M874 640h0M871 633h0M874 638h0M872 631h0M875 636h0M875 637h0M875 637h0M877 640h0M874 631h0M877 631h0M877 628h0M878 629h0M881 634h0M879 626h0M880 627h0M885 634h0M882 625h0M887 632h0M888 632h0M885 625h0M889 632h0M886 626h0M890 631h0M887 623h0M892 630h0M892 629h0M890 623h0M890 622h0M896 627h0M896 626h0M894 621h0M898 628h0M896 619h0M900 625h0M901 626h0M897 618h0M900 618h0M904 625h0M904 622h0M901 616h0M903 618h0M904 617h0M907 623h0M907 621h0M907 621h0M904 613h0M907 615h0M908 615h0M907 613h0M906 612h0M908 612h0M909 612h0M911 610h0M912 609h0M917 616h0M917 615h0M916 611h0M916 610h0M919 614h0M917 610h0M917 608h0M921 613h0M922 613h0M920 608h0M922 607h0M924 612h0M921 605h0M921 605h0M922 607h0M926 612h0M926 613h0M926 611h0M925 605h0M927 608h0M925 603h0M928 605h0M928 605h0M928 603h0M931 607h0M929 602h0M930 605h0M932 606h0M930 601h0M931 603h0M933 605h0M932 603h0M933 603h0M935 606h0M932 600h0M932 599h0M935 605h0M936 605h0M933 599h0M936 606h0M937 605h0M936 601h0M937 601h0M936 599h0M937 598h0M940 601h0M938 597h0M942 604h0M940 600h0M943 600h0M944 596h0M946 599h0M944 595h0M945 594h0M947 594h0M948 594h0M949 596h0M949 595h0M949 595h0M949 595h0M950 594h0M950 594h0M953 593h0M952 592h0M953 593h0M953 591h0M955 594h0M955 593h0M954 591h0M956 592h0M956 590h0M956 590h0M983 588h0M984 589h0M1103 529h0M1099 518h0M1100 519h0M1101 519h0M1108 529h0M1108 528h0M1102 517h0M1109 527h0M1105 515h0M1106 512h0M1107 514h0M1115 525h0M1107 510h0M1121 522h0M1122 522h0M1117 501h0M1129 521h0M1131 520h0M1131 517h0M1122 499h0M1125 495h0M1127 495h0M1143 513h0M1144 510h0M1148 513h0M1147 510h0M1134 489h0M1151 511h0M1135 489h0M1135 489h0M1135 488h0M1150 508h0M1166 501h0M1166 495h0M1170 494h0M1154 473h0M1158 469h0M1176 487h0M1167 466h0M1173 466h0M1185 480h0M1173 462h0M1188 479h0M1175 462h0M1175 461h0M1176 460h0M1190 479h0M1182 459h0M1193 473h0M1182 459h0M1194 473h0M1182 458h0M1183 458h0M1195 474h0M1194 471h0M1183 455h0M1197 474h0M1185 455h0M1186 456h0M1198 455h0M1198 457h0M1198 461h0M1200 462h0M1201 462h0M1203 458h0M1205 456h0M1202 463h0M1204 462h0M1204 461h0M1206 460h0M1205 464h0M1206 465h0M1209 459h0"/>
<path stroke="#00009b" stroke-width="8.8" d="M513 222h0M515 218h0M516 216h0M519 222h0M519 217h0M519 216h0M521 216h0M521 222h0M521 216h0M521 222h0M521 217h0M523 216h0M524 216h0M524 216h0M524 213h0M525 223h0M526 222h0M525 215h0M526 223h0M526 222h0M526 216h0M528 213h0M528 216h0M528 212h0M529 212h0M530 224h0M530 212h0M531 220h0M532 222h0M532 213h0M533 214h0M534 213h0M534 215h0M535 223h0M535 222h0M534 211h0M538 214h0M536 223h0M540 212h0M538 222h0M541 216h0M540 222h0M540 225h0M542 222h0M544 223h0M545 223h0M549 216h0M552 214h0M548 228h0M550 226h0M550 228h0M551 227h0M551 226h0M551 226h0M552 227h0M553 226h0M556 218h0M552 231h0M554 226h0M559 219h0M557 229h0M556 230h0M561 218h0M560 222h0M554 231h0M556 235h0M556 235h0M558 234h0M563 218h0M565 215h0M565 218h0M560 235h0M567 217h0M567 218h0M567 218h0M569 218h0M569 221h0M570 220h0M570 239h0M570 240h0M682 250h0M683 271h0M684 272h0M685 270h0M693 255h0M690 271h0M694 269h0M697 258h0M696 270h0M704 261h0M704 262h0M703 270h0M705 269h0M708 264h0M706 271h0M710 265h0M708 272h0M712 266h0M709 273h0M716 270h0M717 269h0M716 274h0M716 274h0M718 275h0M718 276h0M718 275h0M720 276h0M723 273h0M723 273h0M723 274h0M722 277h0M722 277h0M722 277h0M726 276h0"/>
<path stroke="#0000ad" stroke-width="7.6" d="M285 932h0M285 932h0M286 931h0M287 931h0M287 930h0M289 933h0M289 929h0M292 932h0M292 931h0M293 931h0M293 931h0M296 930h0M296 926h0M297 926h0M303 927h0M307 925h0M308 925h0M309 924h0M311 923h0M311 923h0M326 917h0M325 912h0M329 915h0M339 911h0M339 904h0M341 903h0M352 898h0M362 893h0M368 898h0M377 886h0M382 884h0M393 887h0M397 887h0M394 879h0M397 885h0M399 885h0M409 880h0M408 873h0M411 873h0M412 873h0M414 872h0M421 875h0M423 874h0M426 873h0M431 870h0M443 866h0M442 861h0M448 864h0M449 863h0M449 858h0M453 861h0M455 856h0M457 855h0M459 859h0M461 857h0M462 854h0M461 854h0M463 857h0M464 857h0M464 857h0M471 849h0M475 847h0M476 848h0M478 847h0M496 839h0M798 709h0M795 703h0M797 703h0M800 707h0M799 706h0M798 701h0M805 705h0M802 699h0M803 699h0M803 697h0M807 703h0M806 696h0M807 697h0M811 701h0M808 695h0M812 702h0M812 701h0M810 694h0M812 693h0M813 693h0M813 694h0M815 692h0M820 698h0M818 691h0M822 697h0M820 691h0M820 691h0M825 696h0M822 688h0M830 684h0M836 691h0M847 685h0M847 678h0M854 683h0M850 675h0M851 674h0M855 682h0M851 674h0M856 681h0M854 674h0M859 670h0M874 673h0M876 672h0M878 662h0M884 670h0M883 659h0M887 658h0M891 665h0M897 663h0M894 654h0M899 663h0M901 650h0M906 649h0M917 654h0M918 653h0M924 650h0M928 639h0M928 638h0M934 647h0M938 644h0M940 633h0M945 641h0M941 632h0M945 631h0M947 631h0M950 637h0M959 634h0M957 626h0M962 631h0M960 626h0M959 625h0M960 624h0M964 631h0M966 629h0M964 624h0M968 629h0M965 623h0M966 622h0M983 619h0M983 618h0M1224 505h0M1225 505h0M1226 504h0M1229 506h0M1231 504h0M1232 504h0M1231 501h0M1231 501h0M1234 502h0M1235 503h0M1235 501h0M1235 501h0M1238 503h0M1238 499h0M1252 493h0M1254 494h0M1252 490h0M1254 494h0M1253 491h0M1254 491h0M1257 490h0M1258 492h0M1259 492h0M1259 491h0M1260 489h0M1259 488h0M1261 488h0M1262 489h0M1263 487h0M285 1070h0M286 1070h0M287 1069h0M287 1065h0M289 1070h0M289 1065h0M291 1065h0M293 1070h0M298 1069h0M300 1070h0M300 1064h0M302 1064h0M303 1069h0M303 1064h0M306 1069h0M311 1069h0M311 1069h0M316 1070h0M321 1069h0M322 1064h0M325 1069h0M327 1069h0M332 1063h0M338 1069h0M349 1068h0M351 1068h0M352 1068h0M353 1068h0M354 1062h0M363 1067h0M363 1062h0M364 1068h0M364 1068h0M366 1061h0M367 1061h0M370 1067h0M376 1067h0M377 1061h0M381 1062h0M384 1066h0M393 1060h0M394 1061h0M397 1067h0M397 1060h0M405 1060h0M411 1060h0M414 1060h0M419 1066h0M424 1060h0M426 1065h0M427 1065h0M432 1065h0M434 1059h0M446 1065h0M461 1064h0M461 1063h0M464 1064h0M465 1059h0M466 1059h0M467 1059h0M467 1059h0M469 1058h0M470 1059h0M470 1063h0M487 1060h0M489 1060h0M490 1059h0M510 1060h0M512 1060h0M512 1057h0M512 1057h0M512 1057h0M513 1060h0M513 1057h0M521 1057h0M523 1061h0M525 1061h0M525 1057h0M529 1061h0M530 1061h0M533 1061h0M534 1056h0M534 1061h0M537 1061h0M539 1060h0M541 1057h0M694 1054h0M701 1054h0M707 1054h0M707 1058h0M709 1058h0M709 1057h0M710 1054h0M718 1054h0M719 1057h0M719 1058h0M727 1054h0M811 1056h0M814 1056h0M815 1056h0M815 1055h0M817 1056h0M818 1055h0M818 1056h0M822 1056h0M824 1055h0M825 1056h0M825 1056h0M826 1054h0M827 1056h0M827 1055h0M827 1055h0M828 1056h0M828 1056h0M831 1057h0M832 1054h0M832 1054h0M832 1054h0M834 1054h0M837 1056h0M840 1056h0M840 1056h0M841 1056h0M843 1056h0M843 1056h0M845 1056h0M845 1053h0M846 1053h0M846 1056h0M848 1052h0M848 1056h0M849 1056h0M849 1053h0M850 1052h0M853 1053h0M854 1056h0M857 1055h0M861 1053h0M862 1052h0M868 1052h0M871 1055h0M875 1052h0M876 1055h0M877 1052h0M879 1052h0M881 1055h0M881 1052h0M882 1051h0M884 1054h0M884 1052h0M887 1054h0M895 1054h0M897 1054h0M899 1054h0M902 1051h0M902 1052h0M904 1051h0M907 1051h0M911 1051h0M911 1053h0M913 1053h0M916 1053h0M917 1051h0M918 1051h0M923 1051h0M925 1052h0M926 1052h0M927 1052h0M927 1052h0M928 1051h0M929 1051h0M930 1051h0M934 1051h0M936 1051h0M939 1051h0M941 1050h0M941 1052h0M944 1051h0M944 1051h0M945 1050h0M945 1051h0M946 1050h0M946 1050h0M949 1050h0M952 1051h0M1078 1041h0M1079 1042h0M1080 1046h0M1080 1042h0M1080 1042h0M1080 1045h0M1084 1042h0M1086 1045h0M1086 1046h0M1087 1041h0M1091 1046h0M1091 1046h0M1093 1040h0M1096 1046h0M1100 1040h0M1104 1047h0M1105 1040h0M1106 1040h0M1107 1046h0M1107 1041h0M1109 1046h0M1109 1040h0M1110 1046h0M1114 1040h0M1116 1046h0M1119 1045h0M1130 1047h0M1147 1047h0M1165 1037h0M1165 1045h0M1171 1045h0M1173 1037h0M1180 1037h0M1190 1037h0M1191 1037h0M1192 1037h0M1193 1044h0M1199 1044h0M1205 1042h0M1205 1044h0M1206 1043h0M1208 1036h0M1209 1043h0M1209 1042h0M1211 1043h0M1212 1042h0M1212 1043h0M1213 1042h0M1230 1039h0M1237 1038h0M1238 1039h0M1238 1039h0M1242 1038h0M285 1081h0M288 1082h0M289 1085h0M298 1081h0M308 1081h0M309 1085h0M313 1084h0M318 1085h0M326 1085h0M333 1080h0M336 1080h0M347 1080h0M353 1085h0M358 1084h0M361 1085h0M362 1085h0M363 1080h0M370 1080h0M383 1080h0M384 1079h0M395 1080h0M398 1079h0M398 1080h0M406 1084h0M410 1085h0M415 1084h0M420 1084h0M420 1084h0M424 1084h0M425 1084h0M425 1083h0M427 1084h0M429 1079h0M431 1084h0M437 1084h0M439 1080h0M440 1083h0M442 1083h0M446 1079h0M449 1084h0M451 1079h0M453 1083h0M458 1080h0M462 1083h0M463 1083h0M466 1083h0M467 1080h0M470 1083h0M487 1081h0M488 1081h0M490 1080h0M510 1083h0M511 1081h0M512 1083h0M516 1084h0M518 1083h0M522 1081h0M524 1084h0M525 1081h0M708 1079h0M708 1082h0M709 1079h0M710 1079h0M712 1082h0M713 1079h0M715 1079h0M717 1082h0M719 1079h0M725 1079h0M725 1081h0M726 1079h0M726 1079h0M726 1079h0M727 1079h0M727 1081h0M728 1079h0M729 1082h0M729 1079h0M813 1078h0M817 1078h0M818 1078h0M818 1078h0M819 1077h0M827 1078h0M831 1076h0M835 1078h0M839 1076h0M841 1076h0M842 1076h0M843 1078h0M843 1078h0M844 1078h0M849 1076h0M853 1076h0M857 1077h0M858 1077h0M859 1075h0M868 1075h0M873 1075h0M874 1075h0M880 1077h0M882 1075h0M883 1075h0M886 1077h0M888 1075h0M888 1077h0M891 1076h0M891 1076h0M895 1076h0M907 1074h0M907 1076h0M908 1074h0M908 1074h0M909 1076h0M909 1074h0M909 1076h0M910 1074h0M913 1076h0M914 1076h0M924 1074h0M924 1075h0M925 1074h0M925 1074h0M925 1074h0M927 1074h0M928 1075h0M929 1074h0M933 1074h0M933 1074h0M934 1074h0M934 1075h0M937 1075h0M937 1075h0M939 1074h0M939 1075h0M942 1073h0M943 1074h0M944 1074h0M949 1074h0M950 1074h0M1078 1067h0M1083 1067h0M1085 1070h0M1088 1069h0M1097 1066h0M1098 1070h0M1098 1065h0M1100 1066h0M1109 1069h0M1114 1065h0M1122 1068h0M1124 1064h0M1128 1064h0M1145 1064h0M1149 1067h0M1153 1068h0M1154 1063h0M1156 1067h0M1159 1067h0M1165 1067h0M1167 1067h0M1171 1062h0M1172 1067h0M1174 1067h0M1180 1060h0M1181 1066h0M1182 1066h0M1184 1066h0M1186 1061h0M1187 1066h0M1187 1062h0M1188 1066h0M1188 1065h0M1190 1061h0M1192 1066h0M1194 1061h0M1196 1066h0M1198 1061h0M1199 1065h0M1201 1065h0M1203 1061h0M1203 1060h0M1205 1066h0M1207 1061h0M1209 1065h0M1209 1065h0M1209 1061h0M1211 1065h0M1211 1060h0M1211 1060h0M1211 1059h0M1212 1065h0M1233 1061h0M1234 1061h0M1239 1061h0M1242 1061h0"/>
<path stroke="#0000ad" stroke-width="8.0" d="M284 903h0M285 903h0M286 905h0M286 901h0M289 905h0M289 905h0M290 904h0M291 904h0M293 904h0M293 903h0M293 899h0M295 903h0M295 903h0M294 899h0M304 902h0M303 901h0M305 901h0M306 894h0M307 892h0M309 893h0M312 899h0M312 891h0M315 898h0M318 899h0M319 897h0M320 898h0M320 897h0M321 897h0M321 896h0M322 897h0M325 897h0M329 896h0M326 886h0M331 882h0M332 883h0M334 881h0M342 892h0M340 879h0M346 892h0M342 879h0M351 890h0M353 873h0M367 884h0M368 882h0M360 869h0M371 881h0M365 867h0M366 864h0M368 864h0M368 865h0M378 876h0M373 861h0M381 874h0M385 871h0M379 859h0M388 869h0M381 857h0M385 854h0M389 852h0M392 852h0M394 851h0M398 848h0M403 859h0M408 860h0M410 859h0M412 857h0M407 845h0M410 843h0M416 856h0M412 842h0M413 843h0M421 853h0M422 839h0M424 838h0M429 836h0M435 847h0M434 835h0M440 846h0M441 845h0M445 843h0M446 842h0M446 841h0M446 842h0M446 842h0M442 832h0M448 842h0M448 842h0M446 832h0M450 841h0M452 839h0M449 830h0M454 839h0M455 837h0M453 829h0M457 836h0M458 837h0M460 836h0M460 833h0M462 833h0M462 825h0M462 825h0M465 831h0M464 825h0M467 830h0M468 829h0M467 824h0M469 828h0M469 828h0M470 828h0M468 822h0M469 823h0M472 827h0M470 822h0M470 822h0M514 802h0M515 802h0M518 808h0M516 801h0M517 800h0M521 808h0M522 807h0M519 799h0M519 799h0M519 799h0M525 806h0M521 798h0M527 806h0M523 796h0M523 796h0M524 796h0M528 805h0M537 802h0M534 791h0M535 790h0M537 789h0M537 785h0M712 716h0M713 703h0M720 712h0M720 712h0M719 703h0M724 710h0M722 701h0M723 701h0M725 709h0M725 699h0M726 700h0M729 707h0M835 653h0M843 650h0M845 647h0M848 649h0M848 648h0M848 645h0M848 646h0M851 644h0M855 644h0M860 642h0M861 641h0M862 642h0M867 640h0M866 637h0M869 640h0M869 639h0M869 637h0M871 637h0M872 635h0M874 635h0M876 634h0M878 635h0M880 633h0M880 633h0M881 632h0M881 631h0M883 632h0M883 630h0M885 631h0M885 631h0M885 630h0M886 630h0M887 627h0M889 628h0M889 625h0M890 626h0M892 624h0M896 622h0M901 619h0M904 619h0M903 618h0M904 619h0M905 618h0M905 617h0M906 618h0M911 616h0M913 617h0M912 615h0M913 613h0M914 612h0M917 612h0M918 612h0M918 610h0M920 610h0M921 610h0M921 610h0M922 610h0M923 609h0M929 607h0M1098 522h0M1098 521h0M1100 522h0M1103 527h0M1105 528h0M1107 526h0M1103 517h0M1103 517h0M1104 516h0M1104 516h0M1104 516h0M1110 525h0M1111 525h0M1112 525h0M1109 514h0M1109 512h0M1110 512h0M1111 512h0M1119 524h0M1119 523h0M1112 510h0M1122 520h0M1116 508h0M1129 519h0M1119 502h0M1121 505h0M1121 500h0M1131 517h0M1121 500h0M1124 501h0M1124 501h0M1135 518h0M1138 514h0M1138 513h0M1139 511h0M1142 512h0M1143 510h0M1130 490h0M1145 509h0M1134 489h0M1149 508h0M1153 506h0M1140 484h0M1156 503h0M1161 503h0M1161 501h0M1147 481h0M1162 499h0M1164 496h0M1167 495h0M1155 476h0M1155 474h0M1175 494h0M1176 495h0M1174 491h0M1160 471h0M1174 487h0M1176 489h0M1178 487h0M1178 486h0M1169 470h0M1169 469h0M1180 483h0M1181 480h0M1184 480h0M1173 465h0M1186 480h0M1185 477h0M1187 477h0M1178 463h0M1179 463h0M1179 463h0M1177 460h0M1189 476h0M1180 463h0M1188 474h0M1179 461h0M1188 473h0M1190 470h0M1191 471h0M1193 470h0M1193 469h0M1185 459h0M1187 458h0M1195 468h0M1195 467h0M1196 467h0"/>
<path stroke="#0000ad" stroke-width="8.8" d="M515 221h0M515 219h0M516 218h0M517 218h0M518 219h0M519 219h0M519 219h0M521 220h0M521 218h0M524 220h0M524 219h0M526 217h0M527 218h0M527 218h0M528 219h0M529 218h0M530 219h0M531 218h0M533 218h0M533 215h0M535 219h0M537 217h0M537 219h0M540 219h0M543 217h0M544 218h0M544 218h0M545 219h0M547 221h0M550 220h0M551 221h0M551 221h0M550 223h0M551 222h0M552 224h0M553 223h0M554 223h0M555 222h0M556 224h0M556 224h0M557 227h0M557 226h0M558 225h0M559 223h0M556 227h0M556 230h0M557 230h0M561 219h0M557 232h0M557 232h0M561 220h0M562 220h0M559 231h0M562 220h0M560 230h0M563 222h0M560 231h0M564 218h0M560 233h0M562 231h0M567 219h0M567 222h0M564 235h0M570 219h0M570 219h0M573 218h0M568 236h0M574 217h0M569 234h0M575 217h0M569 238h0M673 246h0M677 246h0M677 248h0M679 250h0M680 249h0M672 274h0M687 271h0M689 269h0M691 256h0M692 257h0M694 257h0M695 258h0M703 269h0M706 264h0M706 265h0M707 264h0M710 266h0M711 266h0M711 267h0M710 271h0M714 268h0M712 272h0M717 271h0M717 274h0M717 274h0M718 274h0M720 276h0M721 276h0M722 274h0M721 276h0M723 275h0M724 274h0M723 276h0M724 275h0M725 276h0M726 277h0"/>
<path stroke="#0000bf" stroke-width="7.2" d="M983 657h0M983 657h0M1228 555h0M1228 555h0M1229 554h0M1232 548h0M1253 544h0M1254 541h0M1255 542h0M1256 543h0M1255 538h0M1256 539h0M1257 541h0M1257 540h0M1256 538h0M1258 542h0M1259 542h0M1261 535h0M1262 537h0M1263 536h0M1265 538h0M1264 534h0M1266 538h0M1264 534h0"/>
<path stroke="#0000bf" stroke-width="7.6" d="M285 932h0M287 933h0M288 933h0M289 930h0M290 930h0M296 930h0M295 927h0M297 929h0M297 929h0M298 928h0M302 927h0M301 924h0M308 923h0M314 918h0M321 913h0M323 918h0M324 913h0M326 912h0M333 913h0M333 913h0M340 910h0M338 906h0M339 905h0M343 909h0M342 903h0M346 902h0M347 901h0M348 901h0M352 904h0M351 899h0M358 901h0M362 900h0M362 900h0M361 894h0M364 899h0M366 898h0M369 891h0M377 887h0M379 885h0M380 884h0M386 889h0M389 882h0M390 881h0M392 881h0M395 885h0M397 885h0M395 879h0M396 879h0M399 884h0M405 876h0M408 880h0M411 874h0M416 877h0M415 872h0M430 870h0M430 866h0M437 864h0M439 863h0M440 862h0M442 862h0M445 861h0M447 863h0M446 860h0M449 862h0M451 862h0M450 858h0M451 859h0M452 861h0M452 858h0M452 857h0M455 860h0M456 859h0M457 856h0M459 858h0M460 855h0M462 856h0M462 855h0M463 857h0M464 854h0M714 748h0M725 742h0M800 702h0M801 704h0M800 701h0M801 702h0M802 703h0M805 703h0M805 702h0M810 700h0M809 697h0M814 698h0M815 699h0M814 695h0M815 694h0M817 692h0M821 696h0M821 691h0M821 691h0M821 690h0M830 693h0M833 692h0M842 687h0M844 686h0M844 679h0M847 686h0M848 677h0M854 682h0M857 681h0M860 678h0M863 670h0M867 668h0M868 668h0M877 673h0M873 664h0M874 664h0M875 663h0M880 670h0M881 669h0M881 669h0M883 668h0M888 659h0M892 656h0M896 662h0M895 656h0M901 660h0M904 659h0M906 658h0M909 656h0M911 648h0M913 646h0M919 651h0M921 643h0M935 644h0M934 637h0M934 638h0M936 637h0M936 635h0M942 640h0M942 639h0M948 636h0M950 636h0M953 635h0M953 635h0M950 630h0M951 631h0M955 632h0M953 629h0M954 628h0M956 633h0M958 629h0M959 629h0M961 630h0M961 627h0M961 626h0M964 627h0M966 626h0M1079 571h0M1084 568h0M1086 565h0M1092 572h0M1093 571h0M1093 570h0M1091 564h0M1096 570h0M1094 562h0M1094 561h0M1098 559h0M1101 557h0M1105 565h0M1105 565h0M1106 566h0M1109 564h0M1115 562h0M1118 560h0M1122 559h0M1121 548h0M1129 557h0M1130 558h0M1126 546h0M1132 555h0M1140 551h0M1143 538h0M1143 537h0M1147 535h0M1153 544h0M1154 544h0M1151 534h0M1153 534h0M1164 540h0M1169 539h0M1169 526h0M1170 525h0M1170 525h0M1182 533h0M1182 532h0M1178 521h0M1179 522h0M1179 521h0M1187 530h0M1188 519h0M1195 526h0M1199 525h0M1201 524h0M1197 513h0M1203 524h0M1203 523h0M1205 522h0M1206 523h0M1206 510h0M1206 509h0M1209 510h0M1230 504h0M1233 503h0M285 1066h0M287 1069h0M288 1067h0M289 1068h0M291 1068h0M292 1066h0M294 1069h0M294 1069h0M295 1069h0M299 1066h0M300 1066h0M300 1065h0M301 1070h0M302 1065h0M308 1068h0M309 1069h0M310 1069h0M311 1064h0M313 1069h0M313 1069h0M325 1063h0M325 1069h0M327 1068h0M333 1068h0M338 1064h0M355 1068h0M357 1063h0M358 1068h0M361 1068h0M363 1062h0M371 1067h0M372 1062h0M391 1061h0M391 1061h0M392 1061h0M392 1061h0M402 1061h0M405 1066h0M406 1065h0M420 1066h0M427 1060h0M431 1059h0M431 1060h0M433 1065h0M435 1064h0M437 1060h0M439 1060h0M449 1060h0M452 1059h0M457 1063h0M458 1059h0M459 1063h0M459 1060h0M460 1063h0M464 1063h0M465 1060h0M466 1063h0M467 1062h0M468 1063h0M468 1061h0M469 1060h0M469 1062h0M472 1062h0M472 1063h0M510 1060h0M512 1060h0M513 1059h0M514 1058h0M515 1058h0M516 1060h0M520 1057h0M522 1060h0M522 1060h0M522 1058h0M526 1060h0M527 1060h0M527 1057h0M528 1060h0M532 1057h0M540 1057h0M543 1057h0M544 1060h0M545 1061h0M686 1059h0M687 1053h0M687 1058h0M689 1054h0M696 1058h0M696 1055h0M697 1058h0M702 1057h0M706 1058h0M711 1054h0M712 1057h0M714 1058h0M716 1055h0M716 1055h0M719 1057h0M727 1055h0M728 1055h0M729 1056h0M729 1056h0M831 1055h0M832 1055h0M833 1055h0M834 1055h0M835 1054h0M835 1055h0M835 1055h0M835 1055h0M839 1055h0M840 1055h0M841 1056h0M841 1055h0M842 1054h0M842 1055h0M843 1054h0M846 1054h0M846 1054h0M847 1053h0M850 1055h0M854 1055h0M857 1055h0M859 1055h0M861 1054h0M863 1054h0M864 1054h0M864 1054h0M864 1053h0M868 1055h0M869 1053h0M872 1054h0M873 1053h0M874 1054h0M874 1054h0M877 1053h0M878 1053h0M879 1054h0M882 1054h0M884 1053h0M885 1054h0M885 1054h0M892 1053h0M895 1052h0M897 1052h0M898 1052h0M898 1052h0M900 1053h0M902 1053h0M902 1053h0M904 1053h0M906 1052h0M907 1052h0M908 1052h0M909 1053h0M910 1052h0M910 1052h0M913 1053h0M914 1052h0M915 1052h0M916 1051h0M919 1052h0M920 1052h0M921 1052h0M922 1051h0M923 1052h0M925 1051h0M926 1052h0M927 1052h0M928 1052h0M1078 1045h0M1082 1042h0M1082 1046h0M1083 1042h0M1084 1042h0M1084 1045h0M1084 1045h0M1085 1042h0M1086 1045h0M1086 1045h0M1087 1042h0M1089 1046h0M1089 1045h0M1091 1042h0M1101 1040h0M1102 1040h0M1104 1045h0M1105 1045h0M1114 1046h0M1125 1039h0M1126 1039h0M1127 1046h0M1129 1039h0M1135 1039h0M1138 1046h0M1141 1039h0M1142 1046h0M1142 1045h0M1144 1037h0M1151 1047h0M1151 1047h0M1158 1037h0M1159 1038h0M1160 1045h0M1160 1037h0M1168 1045h0M1170 1045h0M1172 1044h0M1175 1038h0M1175 1038h0M1176 1038h0M1182 1038h0M1183 1038h0M1185 1037h0M1188 1043h0M1191 1037h0M1195 1043h0M1199 1037h0M1201 1037h0M1201 1042h0M1202 1037h0M1202 1037h0M1205 1038h0M1205 1037h0M1209 1038h0M1211 1042h0M1211 1042h0M1211 1038h0M287 1084h0M287 1083h0M293 1082h0M296 1082h0M297 1084h0M300 1084h0M302 1085h0M305 1085h0M306 1081h0M306 1081h0M313 1081h0M314 1085h0M317 1085h0M317 1084h0M318 1084h0M323 1084h0M341 1084h0M345 1084h0M348 1084h0M349 1080h0M355 1084h0M356 1084h0M361 1084h0M363 1084h0M373 1084h0M386 1079h0M387 1080h0M392 1080h0M393 1080h0M393 1080h0M395 1084h0M397 1084h0M400 1080h0M404 1084h0M408 1084h0M416 1084h0M425 1083h0M429 1079h0M430 1080h0M431 1080h0M431 1080h0M435 1080h0M435 1079h0M435 1080h0M442 1079h0M442 1080h0M443 1079h0M447 1083h0M447 1080h0M452 1083h0M453 1079h0M454 1083h0M456 1079h0M457 1082h0M457 1083h0M459 1080h0M460 1083h0M462 1082h0M464 1080h0M466 1080h0M466 1080h0M467 1081h0M470 1080h0M470 1082h0M470 1080h0M471 1082h0M472 1081h0M472 1080h0M511 1083h0M513 1083h0M513 1083h0M515 1083h0M515 1083h0M516 1082h0M516 1082h0M517 1083h0M518 1083h0M518 1083h0M519 1084h0M521 1084h0M522 1081h0M526 1081h0M527 1083h0M528 1082h0M704 1079h0M705 1079h0M707 1080h0M710 1080h0M719 1079h0M720 1081h0M722 1081h0M723 1081h0M725 1081h0M726 1081h0M726 1081h0M727 1080h0M727 1080h0M727 1080h0M728 1080h0M728 1081h0M834 1077h0M836 1077h0M837 1077h0M839 1077h0M846 1077h0M847 1077h0M847 1077h0M850 1076h0M851 1077h0M859 1077h0M860 1077h0M863 1076h0M865 1076h0M865 1075h0M866 1076h0M867 1076h0M868 1077h0M868 1077h0M869 1076h0M870 1076h0M873 1077h0M875 1076h0M877 1076h0M878 1076h0M881 1075h0M881 1076h0M883 1076h0M884 1075h0M887 1075h0M887 1075h0M888 1075h0M888 1075h0M889 1075h0M890 1075h0M891 1075h0M891 1075h0M892 1076h0M892 1076h0M893 1075h0M893 1075h0M893 1075h0M894 1075h0M895 1076h0M898 1076h0M900 1076h0M902 1075h0M902 1075h0M903 1075h0M904 1075h0M904 1075h0M905 1075h0M905 1075h0M907 1075h0M907 1075h0M911 1075h0M911 1075h0M911 1075h0M911 1075h0M914 1075h0M914 1075h0M917 1075h0M920 1075h0M922 1074h0M923 1075h0M925 1075h0M925 1075h0M930 1074h0M931 1074h0M1078 1067h0M1078 1067h0M1079 1067h0M1080 1067h0M1080 1069h0M1081 1067h0M1082 1067h0M1083 1066h0M1087 1069h0M1089 1066h0M1094 1066h0M1097 1066h0M1104 1069h0M1104 1068h0M1108 1068h0M1111 1065h0M1118 1065h0M1129 1064h0M1131 1064h0M1140 1068h0M1141 1064h0M1142 1067h0M1142 1063h0M1143 1067h0M1144 1067h0M1147 1068h0M1149 1063h0M1152 1063h0M1165 1062h0M1165 1062h0M1172 1062h0M1175 1066h0M1176 1062h0M1177 1066h0M1181 1062h0M1183 1066h0M1185 1062h0M1188 1066h0M1190 1061h0M1197 1062h0M1198 1061h0M1203 1065h0M1206 1062h0M1209 1061h0M1210 1061h0M1211 1061h0M1212 1064h0"/>
<path stroke="#0000bf" stroke-width="8.0" d="M286 903h0M287 903h0M288 903h0M289 902h0M289 901h0M290 901h0M290 903h0M290 902h0M290 902h0M292 903h0M291 901h0M291 901h0M292 901h0M292 901h0M294 903h0M293 900h0M294 903h0M295 902h0M294 899h0M296 899h0M298 901h0M297 898h0M299 901h0M300 897h0M301 897h0M302 900h0M301 896h0M303 901h0M304 900h0M305 895h0M308 894h0M309 893h0M310 892h0M311 893h0M314 898h0M314 898h0M314 891h0M319 888h0M325 896h0M323 886h0M327 894h0M328 884h0M333 893h0M332 884h0M331 883h0M334 883h0M336 882h0M340 880h0M349 875h0M355 873h0M367 883h0M367 881h0M361 870h0M367 881h0M367 881h0M369 879h0M371 878h0M373 879h0M366 867h0M373 877h0M367 866h0M376 875h0M372 863h0M378 859h0M385 870h0M378 858h0M387 854h0M392 852h0M394 851h0M395 851h0M401 860h0M402 860h0M398 850h0M404 862h0M404 848h0M406 846h0M409 845h0M414 856h0M410 845h0M411 844h0M416 843h0M421 841h0M427 838h0M429 838h0M429 837h0M434 848h0M432 836h0M441 845h0M441 844h0M445 841h0M443 834h0M446 841h0M443 832h0M444 833h0M445 833h0M449 840h0M448 831h0M452 837h0M452 837h0M450 831h0M456 836h0M457 834h0M457 829h0M456 828h0M457 828h0M461 832h0M459 828h0M463 831h0M463 830h0M462 826h0M464 829h0M463 826h0M464 826h0M467 829h0M465 825h0M466 825h0M467 827h0M467 825h0M468 825h0M469 827h0M469 825h0M470 826h0M469 825h0M469 824h0M470 825h0M471 825h0M471 825h0M472 823h0M516 804h0M516 804h0M518 807h0M517 804h0M518 805h0M518 805h0M517 802h0M518 802h0M520 806h0M517 801h0M518 801h0M523 805h0M521 800h0M522 799h0M525 804h0M525 804h0M530 803h0M531 803h0M531 801h0M529 794h0M533 800h0M535 802h0M535 801h0M536 801h0M534 792h0M536 790h0M537 791h0M538 789h0M538 788h0M710 717h0M711 716h0M711 716h0M712 715h0M710 705h0M711 704h0M715 713h0M717 713h0M717 713h0M714 704h0M717 711h0M720 705h0M719 703h0M723 707h0M722 704h0M722 703h0M723 704h0M724 707h0M723 703h0M726 702h0M727 706h0M727 704h0M727 701h0M1099 524h0M1102 526h0M1101 524h0M1104 524h0M1102 520h0M1102 520h0M1103 520h0M1103 521h0M1106 524h0M1104 519h0M1105 519h0M1105 519h0M1108 523h0M1109 524h0M1106 518h0M1107 517h0M1112 523h0M1112 522h0M1114 522h0M1115 523h0M1114 522h0M1115 521h0M1116 523h0M1112 513h0M1115 512h0M1121 520h0M1116 508h0M1116 508h0M1126 519h0M1128 517h0M1122 505h0M1129 518h0M1123 501h0M1133 515h0M1126 501h0M1137 515h0M1138 514h0M1128 498h0M1128 497h0M1139 512h0M1129 497h0M1139 510h0M1140 511h0M1142 513h0M1142 511h0M1131 494h0M1142 508h0M1144 510h0M1144 509h0M1146 508h0M1146 506h0M1150 507h0M1150 506h0M1142 487h0M1141 485h0M1157 504h0M1158 499h0M1159 499h0M1147 483h0M1148 481h0M1152 480h0M1164 495h0M1172 492h0M1171 487h0M1162 473h0M1161 471h0M1162 471h0M1174 486h0M1165 472h0M1175 485h0M1164 470h0M1178 485h0M1177 484h0M1180 484h0M1170 471h0M1169 468h0M1180 482h0M1179 480h0M1180 479h0M1172 469h0M1180 478h0M1174 469h0M1183 478h0M1175 467h0M1184 475h0M1179 465h0M1185 473h0M1180 465h0M1187 473h0M1180 463h0M1181 465h0M1188 473h0M1181 463h0M1189 467h0M1191 470h0M1190 467h0M1186 462h0M1187 463h0M1190 466h0M1187 460h0M1189 463h0M1188 462h0M1192 465h0M1188 460h0M1190 462h0M1193 466h0M1194 466h0M1194 466h0"/>
<path stroke="#0000bf" stroke-width="8.8" d="M556 226h0M558 222h0M558 225h0M558 227h0M560 223h0M561 224h0M561 226h0M562 223h0M560 229h0M562 227h0M562 227h0M563 228h0M565 223h0M563 228h0M564 224h0M564 230h0M567 225h0M566 233h0M570 222h0M567 234h0M571 223h0M571 225h0M573 226h0M576 223h0M579 219h0M576 239h0M669 246h0M670 245h0M670 248h0M670 270h0M677 249h0M671 270h0M678 249h0M672 269h0M680 252h0M680 252h0M681 268h0M690 268h0M691 270h0M695 258h0M699 259h0M700 260h0M703 262h0M701 268h0M706 264h0M707 263h0M705 269h0M708 266h0M707 271h0M708 270h0M710 267h0M710 267h0M711 267h0M712 268h0M712 271h0M713 273h0M714 272h0M716 271h0M716 271h0M717 272h0M719 273h0M720 273h0M720 273h0M720 274h0M721 274h0M722 275h0M723 275h0M724 276h0M724 276h0"/>
<path stroke="#0000d1" stroke-width="7.2" d="M1224 552h0M1227 554h0M1227 551h0M1230 553h0M1229 550h0M1232 551h0M1232 550h0M1232 550h0M1233 550h0M1233 551h0M1234 550h0M1237 552h0M1238 550h0M1237 546h0M1239 548h0M1239 547h0"/>
<path stroke="#0000d1" stroke-width="7.6" d="M285 933h0M285 933h0M287 932h0M287 932h0M288 932h0M289 931h0M292 930h0M292 930h0M293 930h0M294 929h0M295 929h0M295 928h0M296 928h0M296 927h0M297 928h0M297 927h0M297 927h0M298 927h0M299 926h0M301 925h0M302 924h0M302 924h0M303 925h0M303 923h0M307 924h0M313 922h0M315 917h0M317 920h0M317 917h0M320 919h0M323 918h0M322 914h0M327 915h0M330 915h0M335 908h0M339 910h0M339 906h0M354 903h0M357 896h0M358 896h0M368 891h0M370 890h0M387 883h0M392 886h0M391 881h0M395 879h0M405 881h0M406 881h0M404 876h0M404 876h0M406 881h0M408 881h0M408 875h0M412 873h0M415 872h0M418 875h0M418 876h0M416 871h0M419 875h0M423 873h0M427 867h0M429 871h0M429 867h0M436 864h0M437 867h0M438 867h0M438 867h0M445 864h0M445 861h0M449 862h0M449 862h0M449 862h0M455 859h0M456 858h0M460 857h0M460 857h0M460 856h0M460 856h0M463 856h0M465 855h0M510 832h0M509 831h0M509 830h0M513 837h0M510 830h0M511 831h0M515 837h0M515 836h0M517 837h0M517 836h0M515 829h0M518 828h0M518 827h0M519 827h0M520 827h0M715 747h0M712 739h0M716 745h0M716 746h0M713 738h0M713 738h0M713 737h0M717 745h0M717 746h0M718 745h0M718 744h0M715 737h0M716 737h0M717 737h0M717 736h0M717 737h0M720 736h0M721 737h0M720 734h0M724 741h0M726 741h0M723 734h0M728 741h0M728 739h0M726 733h0M726 733h0M728 733h0M813 697h0M815 695h0M821 695h0M821 692h0M822 693h0M823 694h0M826 689h0M827 688h0M828 687h0M830 691h0M830 687h0M834 689h0M836 689h0M836 683h0M840 681h0M844 680h0M850 677h0M850 677h0M854 681h0M858 680h0M861 672h0M860 672h0M860 671h0M863 676h0M864 677h0M861 671h0M865 676h0M868 669h0M871 673h0M874 671h0M883 667h0M886 666h0M886 661h0M890 664h0M894 663h0M906 651h0M921 649h0M922 649h0M926 642h0M927 642h0M930 640h0M931 640h0M936 641h0M938 642h0M936 638h0M938 640h0M938 637h0M941 639h0M943 637h0M944 635h0M949 634h0M950 633h0M1079 575h0M1078 571h0M1081 574h0M1082 574h0M1082 574h0M1080 570h0M1081 570h0M1082 569h0M1085 574h0M1084 569h0M1086 572h0M1086 568h0M1088 572h0M1087 568h0M1087 566h0M1091 571h0M1094 569h0M1096 568h0M1093 563h0M1097 569h0M1096 561h0M1100 568h0M1100 567h0M1100 567h0M1103 566h0M1100 560h0M1108 565h0M1107 556h0M1108 556h0M1113 562h0M1113 562h0M1110 554h0M1111 553h0M1119 560h0M1122 559h0M1123 559h0M1121 548h0M1122 549h0M1126 546h0M1135 552h0M1139 551h0M1148 537h0M1158 543h0M1157 542h0M1162 530h0M1168 539h0M1164 530h0M1171 525h0M1177 525h0M1181 533h0M1182 531h0M1185 530h0M1182 522h0M1182 522h0M1182 520h0M1187 529h0M1188 529h0M1189 529h0M1189 528h0M1190 528h0M1190 517h0M1195 526h0M1196 525h0M1194 516h0M1198 523h0M1196 516h0M1198 516h0M1203 522h0M1200 512h0M1205 522h0M1210 519h0M1210 516h0M1210 511h0M1211 510h0M1212 511h0M1214 514h0M291 1068h0M294 1067h0M295 1068h0M295 1066h0M295 1066h0M295 1067h0M297 1068h0M298 1069h0M298 1068h0M298 1066h0M299 1069h0M300 1068h0M301 1066h0M301 1065h0M301 1066h0M302 1066h0M302 1066h0M305 1068h0M308 1068h0M314 1065h0M318 1064h0M319 1064h0M319 1065h0M320 1065h0M321 1068h0M324 1064h0M332 1068h0M353 1068h0M353 1063h0M355 1063h0M358 1063h0M359 1067h0M365 1063h0M373 1062h0M373 1062h0M374 1062h0M377 1062h0M379 1062h0M381 1067h0M384 1066h0M386 1061h0M389 1062h0M391 1066h0M392 1066h0M394 1061h0M401 1066h0M406 1061h0M421 1065h0M421 1061h0M431 1060h0M432 1060h0M433 1064h0M433 1060h0M439 1060h0M442 1060h0M444 1060h0M448 1060h0M449 1063h0M451 1063h0M452 1061h0M452 1061h0M453 1060h0M454 1060h0M454 1061h0M455 1061h0M460 1062h0M460 1062h0M461 1061h0M461 1062h0M462 1061h0M517 1059h0M518 1059h0M520 1058h0M521 1058h0M522 1058h0M524 1060h0M532 1058h0M537 1059h0M543 1057h0M546 1060h0M547 1060h0M685 1059h0M685 1058h0M686 1055h0M697 1055h0M698 1055h0M701 1055h0M705 1055h0M705 1055h0M705 1057h0M708 1057h0M710 1057h0M714 1057h0M715 1055h0M716 1055h0M722 1055h0M722 1056h0M722 1055h0M722 1056h0M724 1056h0M726 1056h0M726 1056h0M1078 1044h0M1078 1044h0M1080 1044h0M1082 1043h0M1083 1043h0M1085 1044h0M1090 1044h0M1093 1044h0M1095 1042h0M1095 1045h0M1099 1045h0M1102 1041h0M1102 1041h0M1102 1044h0M1104 1045h0M1108 1044h0M1109 1045h0M1111 1045h0M1113 1041h0M1117 1041h0M1123 1046h0M1133 1039h0M1133 1045h0M1142 1046h0M1142 1039h0M1147 1039h0M1150 1039h0M1158 1045h0M1159 1045h0M1171 1038h0M1172 1038h0M1173 1038h0M1185 1038h0M1188 1038h0M1190 1037h0M1197 1038h0M1197 1042h0M1197 1042h0M1201 1038h0M1202 1039h0M1202 1041h0M1202 1041h0M1204 1039h0M1205 1041h0M1209 1039h0M1210 1039h0M1211 1038h0M1212 1040h0M1213 1039h0M291 1083h0M294 1083h0M296 1083h0M297 1084h0M298 1082h0M298 1082h0M299 1084h0M299 1082h0M300 1082h0M300 1084h0M302 1082h0M302 1083h0M305 1084h0M308 1081h0M308 1084h0M309 1084h0M314 1081h0M314 1084h0M316 1081h0M323 1081h0M330 1081h0M336 1081h0M337 1084h0M340 1084h0M347 1084h0M351 1084h0M353 1084h0M362 1080h0M370 1084h0M371 1084h0M374 1084h0M383 1080h0M383 1084h0M387 1080h0M391 1080h0M401 1083h0M402 1084h0M403 1080h0M403 1083h0M403 1083h0M410 1084h0M414 1080h0M415 1083h0M424 1083h0M425 1080h0M426 1083h0M429 1083h0M437 1083h0M437 1080h0M438 1080h0M447 1080h0M448 1083h0M450 1080h0M450 1082h0M450 1080h0M452 1080h0M453 1080h0M453 1081h0M458 1080h0M460 1081h0M460 1082h0M462 1081h0M463 1082h0M466 1081h0M516 1082h0M517 1082h0M518 1083h0M520 1082h0M520 1083h0M521 1082h0M524 1082h0M525 1083h0M527 1083h0M528 1083h0M528 1082h0M530 1084h0M703 1080h0M709 1081h0M711 1082h0M715 1080h0M716 1081h0M716 1080h0M717 1081h0M717 1080h0M719 1080h0M722 1080h0M723 1080h0M723 1081h0M1079 1068h0M1080 1068h0M1086 1068h0M1086 1068h0M1088 1067h0M1088 1067h0M1089 1067h0M1089 1069h0M1090 1067h0M1091 1069h0M1092 1068h0M1092 1067h0M1093 1069h0M1094 1067h0M1095 1068h0M1097 1068h0M1098 1068h0M1099 1066h0M1100 1066h0M1100 1068h0M1101 1068h0M1102 1066h0M1102 1068h0M1103 1066h0M1106 1066h0M1107 1066h0M1108 1069h0M1108 1068h0M1111 1065h0M1116 1068h0M1118 1068h0M1123 1068h0M1130 1064h0M1133 1068h0M1146 1064h0M1158 1064h0M1159 1067h0M1166 1062h0M1170 1066h0M1174 1062h0M1177 1066h0M1177 1062h0M1178 1066h0M1178 1066h0M1182 1062h0M1184 1066h0M1189 1062h0M1191 1062h0M1192 1065h0M1195 1062h0M1195 1065h0M1200 1064h0M1202 1065h0M1203 1062h0M1205 1064h0M1207 1063h0M1210 1061h0"/>
<path stroke="#0000d1" stroke-width="8.0" d="M293 901h0M294 901h0M295 900h0M296 900h0M299 899h0M300 900h0M301 898h0M304 899h0M304 899h0M303 897h0M306 899h0M306 899h0M307 899h0M306 895h0M308 899h0M309 898h0M311 897h0M312 892h0M314 897h0M315 897h0M316 897h0M319 897h0M319 896h0M318 890h0M321 889h0M324 895h0M322 888h0M328 896h0M328 894h0M328 886h0M333 894h0M332 884h0M332 884h0M335 892h0M335 893h0M336 893h0M336 893h0M340 892h0M337 882h0M341 891h0M340 881h0M342 880h0M347 890h0M347 878h0M358 885h0M359 885h0M359 885h0M356 874h0M357 874h0M366 881h0M363 869h0M362 867h0M371 878h0M367 869h0M366 868h0M393 866h0M395 865h0M394 864h0M395 865h0M391 853h0M398 861h0M403 859h0M407 859h0M402 847h0M403 848h0M416 855h0M417 853h0M413 845h0M417 843h0M424 850h0M424 841h0M430 848h0M427 839h0M433 846h0M431 838h0M435 846h0M431 838h0M433 838h0M438 836h0M441 842h0M443 841h0M441 835h0M446 840h0M445 832h0M450 839h0M450 832h0M453 836h0M454 836h0M454 835h0M454 835h0M455 835h0M455 833h0M455 830h0M457 830h0M458 832h0M459 832h0M460 831h0M461 831h0M463 829h0M464 828h0M464 829h0M464 827h0M464 828h0M465 828h0M521 803h0M521 801h0M521 801h0M522 802h0M522 801h0M524 804h0M522 800h0M523 801h0M523 801h0M523 800h0M525 800h0M526 801h0M526 801h0M525 799h0M526 799h0M527 801h0M528 803h0M526 799h0M526 797h0M528 800h0M528 797h0M530 801h0M529 796h0M532 794h0M533 794h0M536 799h0M534 793h0M534 793h0M534 793h0M538 798h0M539 800h0M539 797h0M538 791h0M539 790h0M540 788h0M540 788h0M540 788h0M708 718h0M709 714h0M710 707h0M708 703h0M709 703h0M712 712h0M711 708h0M712 708h0M713 711h0M713 707h0M714 708h0M715 708h0M718 708h0M719 709h0M718 707h0M719 708h0M719 707h0M720 709h0M719 706h0M720 708h0M720 708h0M721 705h0M723 707h0M723 707h0M725 706h0M725 705h0M1103 524h0M1103 523h0M1105 523h0M1106 522h0M1105 520h0M1106 521h0M1107 521h0M1107 519h0M1109 519h0M1111 521h0M1111 519h0M1112 521h0M1113 520h0M1111 516h0M1111 516h0M1111 515h0M1114 520h0M1113 518h0M1114 520h0M1114 519h0M1114 513h0M1118 518h0M1115 513h0M1116 511h0M1116 512h0M1118 510h0M1118 509h0M1121 506h0M1127 517h0M1121 504h0M1122 506h0M1124 504h0M1132 516h0M1132 514h0M1126 502h0M1135 512h0M1129 500h0M1144 510h0M1146 508h0M1139 491h0M1152 505h0M1151 504h0M1151 503h0M1143 489h0M1144 489h0M1155 501h0M1156 501h0M1156 498h0M1156 498h0M1157 499h0M1158 500h0M1148 484h0M1149 483h0M1160 497h0M1151 484h0M1153 481h0M1165 495h0M1155 480h0M1168 492h0M1169 490h0M1160 476h0M1162 478h0M1161 474h0M1163 475h0M1164 476h0M1174 485h0M1168 475h0M1175 482h0M1169 472h0M1176 480h0M1170 472h0M1178 480h0M1179 480h0M1179 478h0M1173 469h0M1178 476h0M1174 469h0M1182 476h0M1177 469h0M1180 473h0M1182 475h0M1179 469h0M1182 472h0M1183 473h0M1184 472h0M1185 471h0M1186 470h0M1186 469h0M1186 469h0M1186 468h0M1186 465h0M1185 465h0M1187 466h0M1187 464h0M1188 465h0M1189 464h0"/>
<path stroke="#0000d1" stroke-width="8.8" d="M565 229h0M566 229h0M568 226h0M569 225h0M570 227h0M570 227h0M570 230h0M571 230h0M571 230h0M572 230h0M572 230h0M573 231h0M573 233h0M574 233h0M577 226h0M575 233h0M578 224h0M576 234h0M580 222h0M579 226h0M581 219h0M580 223h0M580 224h0M582 220h0M581 224h0M580 235h0M580 243h0M582 242h0M582 244h0M666 244h0M667 244h0M667 264h0M668 266h0M668 267h0M669 269h0M680 254h0M678 270h0M683 255h0M682 268h0M683 268h0M686 269h0M689 268h0M692 259h0M693 266h0M695 259h0M696 260h0M699 266h0M702 262h0M702 263h0M701 267h0M705 268h0M705 268h0M706 268h0M709 267h0M711 268h0M710 270h0M710 269h0M712 269h0M711 271h0M712 271h0M713 270h0M713 270h0M714 270h0M715 271h0M714 272h0M716 272h0M717 272h0"/>
<path stroke="#0000e3" stroke-width="7.2" d="M487 874h0M486 873h0M486 872h0M488 875h0M490 875h0M489 873h0M492 875h0M492 873h0M493 875h0M493 873h0M494 873h0M493 872h0M494 869h0M496 873h0M497 873h0M499 871h0M499 869h0M499 867h0M500 867h0M502 869h0"/>
<path stroke="#0000e3" stroke-width="7.6" d="M295 928h0M299 927h0M299 927h0M300 926h0M304 925h0M309 923h0M311 922h0M315 920h0M317 919h0M320 918h0M324 913h0M324 913h0M326 912h0M331 913h0M337 910h0M342 909h0M343 907h0M347 906h0M354 899h0M355 899h0M360 900h0M360 901h0M358 896h0M367 892h0M371 895h0M372 890h0M374 889h0M381 890h0M389 887h0M399 883h0M411 877h0M427 868h0M431 867h0M435 865h0M437 865h0M438 864h0M442 863h0M443 862h0M445 863h0M445 862h0M447 862h0M447 861h0M448 862h0M449 861h0M453 859h0M455 859h0M455 858h0M456 858h0M511 835h0M510 833h0M511 833h0M512 834h0M514 834h0M513 832h0M514 833h0M514 834h0M515 835h0M515 834h0M514 832h0M515 833h0M515 832h0M517 832h0M516 829h0M520 833h0M521 834h0M519 831h0M520 831h0M520 829h0M521 829h0M522 832h0M520 827h0M522 828h0M522 826h0M711 747h0M711 747h0M711 745h0M710 739h0M710 738h0M711 741h0M711 740h0M712 741h0M712 741h0M715 745h0M717 744h0M718 739h0M720 741h0M718 738h0M720 742h0M719 739h0M721 742h0M720 738h0M721 739h0M720 737h0M722 742h0M720 737h0M721 739h0M721 738h0M722 741h0M721 738h0M722 739h0M722 739h0M721 737h0M723 737h0M724 736h0M726 738h0M726 735h0M728 735h0M728 734h0M832 689h0M832 689h0M833 689h0M834 688h0M834 685h0M838 687h0M837 684h0M838 684h0M839 683h0M841 683h0M843 682h0M843 681h0M846 683h0M847 683h0M848 683h0M851 678h0M858 674h0M859 673h0M861 676h0M866 671h0M868 670h0M869 673h0M870 672h0M870 668h0M873 671h0M872 668h0M872 667h0M875 671h0M882 664h0M884 662h0M890 663h0M891 659h0M892 658h0M894 658h0M895 656h0M896 656h0M900 658h0M905 657h0M906 656h0M906 656h0M911 649h0M913 652h0M914 652h0M915 651h0M915 647h0M916 647h0M919 649h0M920 645h0M922 648h0M939 637h0M1081 573h0M1081 572h0M1082 573h0M1083 572h0M1083 572h0M1083 571h0M1084 571h0M1085 569h0M1087 570h0M1089 567h0M1092 569h0M1092 568h0M1092 567h0M1093 567h0M1092 566h0M1093 565h0M1095 568h0M1094 564h0M1097 566h0M1098 561h0M1098 561h0M1100 562h0M1100 561h0M1102 560h0M1107 556h0M1110 561h0M1112 560h0M1110 555h0M1111 555h0M1111 555h0M1113 554h0M1115 552h0M1120 559h0M1117 551h0M1120 557h0M1119 551h0M1120 550h0M1124 547h0M1128 556h0M1125 548h0M1124 546h0M1132 554h0M1128 546h0M1131 545h0M1132 545h0M1136 542h0M1137 543h0M1143 548h0M1140 541h0M1148 538h0M1157 533h0M1161 539h0M1162 540h0M1162 531h0M1171 535h0M1175 534h0M1173 527h0M1187 528h0M1188 527h0M1189 526h0M1192 520h0M1194 524h0M1193 518h0M1197 522h0M1197 521h0M1198 522h0M1199 520h0M1200 520h0M1200 517h0M1201 519h0M1202 520h0M1202 519h0M1202 519h0M1208 515h0M1209 514h0M1212 514h0M302 1067h0M303 1067h0M303 1066h0M307 1066h0M308 1066h0M310 1067h0M311 1066h0M312 1067h0M312 1068h0M315 1067h0M316 1068h0M325 1064h0M326 1065h0M327 1067h0M329 1064h0M332 1065h0M336 1064h0M343 1064h0M344 1064h0M345 1067h0M346 1063h0M351 1063h0M357 1064h0M360 1062h0M365 1063h0M370 1063h0M372 1066h0M376 1066h0M388 1062h0M395 1062h0M396 1065h0M398 1062h0M401 1065h0M401 1062h0M401 1066h0M404 1065h0M406 1066h0M409 1065h0M413 1061h0M419 1061h0M423 1065h0M425 1061h0M427 1061h0M428 1065h0M429 1061h0M430 1061h0M431 1061h0M438 1061h0M439 1063h0M439 1064h0M440 1063h0M441 1063h0M442 1061h0M443 1063h0M445 1063h0M446 1063h0M446 1063h0M448 1061h0M449 1061h0M449 1061h0M452 1062h0M453 1062h0M453 1062h0M457 1062h0M527 1058h0M528 1058h0M529 1059h0M530 1059h0M530 1059h0M531 1058h0M532 1058h0M532 1059h0M532 1059h0M533 1058h0M533 1059h0M535 1058h0M536 1059h0M538 1059h0M539 1058h0M544 1059h0M545 1058h0M547 1059h0M548 1060h0M549 1061h0M686 1058h0M697 1055h0M697 1057h0M699 1057h0M700 1057h0M701 1056h0M701 1057h0M705 1055h0M705 1055h0M707 1056h0M708 1056h0M710 1056h0M1097 1042h0M1098 1043h0M1099 1044h0M1101 1042h0M1101 1042h0M1102 1044h0M1102 1042h0M1102 1042h0M1103 1044h0M1103 1042h0M1104 1044h0M1105 1042h0M1105 1044h0M1105 1044h0M1106 1042h0M1106 1042h0M1107 1041h0M1109 1044h0M1113 1041h0M1118 1044h0M1120 1041h0M1126 1045h0M1126 1040h0M1127 1040h0M1127 1045h0M1130 1040h0M1131 1040h0M1131 1041h0M1133 1041h0M1135 1040h0M1143 1040h0M1147 1039h0M1152 1039h0M1153 1039h0M1156 1039h0M1160 1039h0M1162 1044h0M1169 1044h0M1171 1043h0M1180 1039h0M1181 1040h0M1183 1039h0M1185 1039h0M1187 1043h0M1187 1040h0M1189 1039h0M1189 1042h0M1189 1039h0M1191 1041h0M1193 1040h0M1193 1039h0M1195 1041h0M1195 1040h0M1198 1041h0M1198 1041h0M1202 1040h0M304 1083h0M307 1083h0M310 1083h0M312 1083h0M316 1083h0M318 1082h0M318 1082h0M320 1084h0M321 1082h0M322 1081h0M324 1084h0M328 1081h0M333 1084h0M337 1084h0M340 1081h0M345 1081h0M347 1080h0M353 1081h0M355 1081h0M373 1084h0M377 1083h0M379 1083h0M382 1084h0M382 1083h0M390 1083h0M391 1080h0M395 1081h0M406 1080h0M408 1080h0M408 1080h0M409 1080h0M412 1080h0M419 1083h0M421 1083h0M424 1080h0M424 1080h0M427 1083h0M429 1080h0M429 1083h0M437 1080h0M444 1080h0M446 1080h0M448 1080h0M449 1082h0M451 1081h0M524 1082h0M531 1083h0M701 1083h0M702 1082h0M702 1082h0M703 1081h0M703 1080h0M704 1080h0M705 1081h0M705 1080h0M1086 1068h0M1087 1068h0M1088 1068h0M1088 1068h0M1090 1068h0M1091 1067h0M1093 1068h0M1094 1068h0M1094 1067h0M1100 1066h0M1102 1067h0M1104 1068h0M1105 1068h0M1109 1068h0M1112 1068h0M1112 1068h0M1126 1068h0M1133 1065h0M1137 1067h0M1141 1064h0M1147 1067h0M1157 1067h0M1160 1066h0M1164 1063h0M1176 1062h0M1177 1063h0M1183 1065h0M1193 1063h0M1193 1063h0M1194 1062h0M1196 1063h0M1198 1063h0M1201 1063h0M1203 1063h0"/>
<path stroke="#0000e3" stroke-width="8.0" d="M302 898h0M305 899h0M305 898h0M307 896h0M308 897h0M308 897h0M308 896h0M308 895h0M311 894h0M316 896h0M317 896h0M317 895h0M320 895h0M321 895h0M319 890h0M320 890h0M322 895h0M323 889h0M324 888h0M324 887h0M325 888h0M328 893h0M332 893h0M335 891h0M335 892h0M340 891h0M340 882h0M346 880h0M347 880h0M349 879h0M352 887h0M354 886h0M357 887h0M351 877h0M359 882h0M360 882h0M362 883h0M359 873h0M364 881h0M362 871h0M373 877h0M368 868h0M375 864h0M383 870h0M380 862h0M380 861h0M393 864h0M394 864h0M397 862h0M398 862h0M400 859h0M401 859h0M404 858h0M405 857h0M407 857h0M406 847h0M417 853h0M416 852h0M418 851h0M417 844h0M420 850h0M422 852h0M420 842h0M426 849h0M430 847h0M431 847h0M435 844h0M432 837h0M437 843h0M437 843h0M439 836h0M441 842h0M441 842h0M440 837h0M440 836h0M444 840h0M446 839h0M447 838h0M447 835h0M448 838h0M449 837h0M448 834h0M449 835h0M450 836h0M451 833h0M529 799h0M529 799h0M530 797h0M531 797h0M532 798h0M532 797h0M533 797h0M533 795h0M535 794h0M537 797h0M536 793h0M539 797h0M539 792h0M541 796h0M541 795h0M540 790h0M541 791h0M540 790h0M541 786h0M706 719h0M709 713h0M705 703h0M707 708h0M709 713h0M706 703h0M708 709h0M708 708h0M708 708h0M710 712h0M713 710h0M713 709h0M716 708h0M1114 517h0M1117 516h0M1117 516h0M1116 513h0M1118 512h0M1121 516h0M1119 513h0M1119 512h0M1124 515h0M1122 510h0M1125 514h0M1126 514h0M1126 514h0M1128 516h0M1125 508h0M1124 506h0M1127 504h0M1134 511h0M1129 504h0M1129 502h0M1130 501h0M1131 500h0M1132 498h0M1133 499h0M1135 496h0M1143 506h0M1143 506h0M1137 496h0M1136 494h0M1145 504h0M1147 506h0M1139 493h0M1150 504h0M1151 502h0M1142 490h0M1144 490h0M1144 488h0M1154 499h0M1155 497h0M1157 497h0M1158 499h0M1151 484h0M1159 495h0M1155 483h0M1156 479h0M1158 481h0M1159 480h0M1159 480h0M1167 488h0M1162 478h0M1167 484h0M1164 478h0M1169 484h0M1164 477h0M1171 485h0M1171 482h0M1167 476h0M1167 476h0M1171 481h0M1172 481h0M1167 474h0M1173 482h0M1173 480h0M1169 474h0M1174 478h0M1174 478h0M1171 474h0M1176 478h0M1174 474h0M1177 475h0M1179 473h0M1178 472h0M1180 472h0"/>
<path stroke="#0000e3" stroke-width="8.8" d="M574 231h0M575 230h0M575 231h0M576 230h0M576 229h0M576 232h0M577 233h0M578 229h0M579 230h0M578 233h0M582 225h0M579 233h0M581 228h0M581 228h0M581 231h0M580 234h0M580 234h0M583 227h0M584 224h0M583 226h0M583 228h0M581 234h0M583 230h0M585 222h0M582 235h0M585 223h0M582 236h0M582 235h0M582 236h0M582 240h0M664 244h0M662 268h0M668 251h0M668 252h0M671 253h0M667 265h0M669 264h0M674 254h0M675 254h0M676 253h0M673 266h0M679 254h0M679 255h0M675 266h0M679 255h0M678 267h0M680 255h0M682 267h0M683 267h0M683 267h0M685 266h0M687 256h0M686 266h0M687 257h0M690 265h0M693 265h0M694 261h0M694 260h0M695 261h0M701 263h0M702 263h0M702 264h0M702 264h0M703 267h0M704 267h0M705 267h0M706 267h0M708 267h0M708 269h0M709 268h0"/>
<path stroke="#0000f5" stroke-width="7.6" d="M312 921h0M314 919h0M315 919h0M321 917h0M323 916h0M326 913h0M332 912h0M332 910h0M333 912h0M334 911h0M337 910h0M340 909h0M342 908h0M346 903h0M350 904h0M354 902h0M354 902h0M358 901h0M358 897h0M359 897h0M360 899h0M362 899h0M362 895h0M364 894h0M367 897h0M368 892h0M369 895h0M371 895h0M374 890h0M374 890h0M375 892h0M378 892h0M385 885h0M402 882h0M402 881h0M406 879h0M405 877h0M408 879h0M408 879h0M411 877h0M417 875h0M418 872h0M421 873h0M426 869h0M428 870h0M430 867h0M431 869h0M437 866h0M440 864h0M443 863h0M522 832h0M523 831h0M524 825h0M711 746h0M711 746h0M708 739h0M710 744h0M710 740h0M711 743h0M712 743h0M713 743h0M714 743h0M714 743h0M715 743h0M715 742h0M716 741h0M716 740h0M718 741h0M840 684h0M842 683h0M843 682h0M845 683h0M849 681h0M850 681h0M853 679h0M858 677h0M858 677h0M861 675h0M863 674h0M872 670h0M880 666h0M888 662h0M900 657h0M901 657h0M901 655h0M907 653h0M908 653h0M910 653h0M911 652h0M911 651h0M915 649h0M915 650h0M920 648h0M920 647h0M922 647h0M922 645h0M923 646h0M926 645h0M1093 567h0M1094 566h0M1095 565h0M1096 566h0M1098 564h0M1098 564h0M1102 565h0M1101 562h0M1105 563h0M1107 561h0M1107 559h0M1109 558h0M1110 560h0M1110 557h0M1116 558h0M1117 558h0M1115 554h0M1118 552h0M1121 556h0M1126 548h0M1129 553h0M1131 553h0M1130 546h0M1133 552h0M1134 551h0M1132 545h0M1138 549h0M1140 548h0M1137 543h0M1141 548h0M1142 548h0M1148 545h0M1152 544h0M1151 537h0M1153 536h0M1155 535h0M1157 534h0M1159 534h0M1160 533h0M1161 533h0M1161 532h0M1164 537h0M1164 537h0M1163 532h0M1166 537h0M1166 529h0M1168 531h0M1171 534h0M1170 529h0M1171 527h0M1174 532h0M1174 528h0M1178 526h0M1182 530h0M1183 528h0M1183 524h0M1185 526h0M1186 525h0M1186 526h0M1186 525h0M1187 524h0M1192 524h0M1194 521h0M1196 521h0M313 1066h0M314 1066h0M317 1066h0M317 1066h0M318 1066h0M318 1067h0M322 1066h0M326 1065h0M328 1065h0M332 1068h0M332 1067h0M332 1067h0M339 1064h0M339 1067h0M341 1067h0M343 1067h0M354 1066h0M355 1064h0M355 1064h0M356 1064h0M356 1067h0M359 1066h0M360 1064h0M361 1063h0M361 1063h0M362 1066h0M364 1066h0M367 1063h0M369 1063h0M378 1066h0M384 1065h0M387 1063h0M388 1065h0M395 1065h0M398 1065h0M401 1062h0M403 1065h0M420 1064h0M423 1064h0M432 1061h0M432 1062h0M436 1063h0M436 1062h0M438 1063h0M439 1062h0M440 1062h0M440 1062h0M539 1058h0M542 1059h0M543 1058h0M547 1059h0M547 1059h0M547 1058h0M548 1059h0M548 1059h0M548 1059h0M549 1059h0M682 1058h0M682 1054h0M683 1058h0M683 1058h0M684 1055h0M685 1055h0M686 1055h0M687 1056h0M687 1057h0M689 1057h0M690 1057h0M691 1056h0M691 1056h0M691 1055h0M693 1056h0M696 1056h0M1107 1043h0M1109 1043h0M1110 1042h0M1112 1044h0M1112 1043h0M1112 1044h0M1113 1044h0M1114 1043h0M1115 1044h0M1117 1044h0M1117 1044h0M1118 1041h0M1123 1044h0M1123 1041h0M1124 1041h0M1126 1041h0M1127 1044h0M1128 1044h0M1131 1041h0M1134 1040h0M1141 1044h0M1143 1044h0M1143 1040h0M1143 1041h0M1144 1040h0M1147 1040h0M1149 1044h0M1149 1044h0M1151 1044h0M1152 1040h0M1153 1045h0M1153 1045h0M1154 1044h0M1156 1039h0M1157 1044h0M1158 1040h0M1159 1044h0M1159 1039h0M1162 1040h0M1168 1043h0M1174 1040h0M1174 1042h0M1175 1040h0M1175 1040h0M1176 1040h0M1177 1042h0M1179 1042h0M1179 1042h0M1179 1041h0M1181 1040h0M1181 1042h0M1182 1040h0M1182 1040h0M1182 1040h0M1184 1041h0M1185 1040h0M1187 1041h0M1187 1040h0M1187 1040h0M315 1083h0M318 1082h0M319 1083h0M320 1083h0M321 1082h0M328 1082h0M332 1082h0M334 1083h0M338 1083h0M338 1081h0M339 1083h0M342 1081h0M347 1083h0M347 1083h0M353 1083h0M357 1081h0M360 1081h0M363 1083h0M368 1081h0M372 1083h0M374 1081h0M375 1083h0M376 1081h0M380 1083h0M380 1081h0M381 1081h0M384 1083h0M393 1083h0M398 1083h0M412 1081h0M413 1083h0M413 1081h0M414 1080h0M416 1081h0M427 1082h0M428 1083h0M431 1082h0M433 1081h0M434 1081h0M437 1081h0M438 1082h0M443 1081h0M533 1082h0M533 1083h0M700 1080h0M700 1080h0M701 1082h0M701 1081h0M701 1082h0M702 1081h0M703 1081h0M1101 1068h0M1103 1067h0M1105 1067h0M1105 1067h0M1105 1067h0M1106 1068h0M1109 1066h0M1111 1068h0M1111 1066h0M1113 1067h0M1115 1066h0M1115 1066h0M1116 1068h0M1136 1065h0M1137 1065h0M1137 1065h0M1140 1064h0M1142 1067h0M1142 1064h0M1144 1065h0M1145 1064h0M1147 1067h0M1152 1066h0M1157 1064h0M1163 1066h0M1163 1064h0M1165 1063h0M1167 1066h0M1172 1063h0M1175 1065h0M1176 1063h0M1177 1065h0M1180 1064h0M1182 1065h0M1182 1063h0M1182 1063h0M1187 1064h0M1189 1063h0M1191 1063h0M1191 1064h0M1191 1064h0M1193 1063h0M1193 1064h0"/>
<path stroke="#0000f5" stroke-width="8.0" d="M312 895h0M315 895h0M316 895h0M317 895h0M317 893h0M319 894h0M318 893h0M318 893h0M319 894h0M321 893h0M321 891h0M322 893h0M323 890h0M324 889h0M326 892h0M330 892h0M331 892h0M331 891h0M330 887h0M333 892h0M338 884h0M340 889h0M342 888h0M343 889h0M341 883h0M345 888h0M345 881h0M349 880h0M352 887h0M352 886h0M351 880h0M353 885h0M356 885h0M353 878h0M359 882h0M362 881h0M362 880h0M359 875h0M364 879h0M364 871h0M369 876h0M366 870h0M368 869h0M369 869h0M374 874h0M371 868h0M375 872h0M372 867h0M379 863h0M383 868h0M380 862h0M384 867h0M385 866h0M389 865h0M391 865h0M387 859h0M388 858h0M392 863h0M390 856h0M394 854h0M400 859h0M401 858h0M402 857h0M403 858h0M402 850h0M405 855h0M407 855h0M408 855h0M410 847h0M411 846h0M412 847h0M416 851h0M416 845h0M417 845h0M420 851h0M421 849h0M422 849h0M421 843h0M425 848h0M426 848h0M428 848h0M427 841h0M428 841h0M431 845h0M429 840h0M435 842h0M435 838h0M439 840h0M440 841h0M439 839h0M440 839h0M439 838h0M440 839h0M441 840h0M441 840h0M440 837h0M441 839h0M442 837h0M443 838h0M444 837h0M446 837h0M542 797h0M542 798h0M542 795h0M542 787h0M543 786h0M544 784h0M705 718h0M706 715h0M706 714h0M706 712h0M707 713h0M705 707h0M706 708h0M1125 509h0M1126 508h0M1128 511h0M1128 508h0M1129 506h0M1131 509h0M1130 508h0M1132 509h0M1131 507h0M1134 507h0M1132 504h0M1133 503h0M1136 507h0M1135 500h0M1143 506h0M1137 498h0M1143 505h0M1144 504h0M1145 504h0M1141 495h0M1147 502h0M1148 502h0M1147 501h0M1143 492h0M1144 491h0M1151 500h0M1151 498h0M1153 502h0M1147 488h0M1154 496h0M1155 495h0M1156 495h0M1159 492h0M1159 491h0M1160 492h0M1162 491h0M1159 483h0M1163 488h0M1159 482h0M1163 487h0M1163 486h0M1164 486h0M1162 480h0M1163 481h0M1164 482h0M1164 481h0M1167 483h0M1165 481h0M1166 479h0M1167 479h0M1169 480h0M1169 480h0M1170 477h0"/>
<path stroke="#0000f5" stroke-width="8.8" d="M584 227h0M583 233h0M585 225h0M584 230h0M587 222h0M584 231h0M583 235h0M585 230h0M587 225h0M584 234h0M588 221h0M585 234h0M585 234h0M585 240h0M586 238h0M588 247h0M661 242h0M662 243h0M662 243h0M662 246h0M662 262h0M659 270h0M662 262h0M661 268h0M660 270h0M663 263h0M662 266h0M667 261h0M669 263h0M670 261h0M672 262h0M676 255h0M676 256h0M673 264h0M676 257h0M679 256h0M678 265h0M680 266h0M680 265h0M683 258h0M684 258h0M685 259h0M686 265h0M693 265h0M694 264h0M695 262h0M695 264h0M696 263h0M696 264h0M697 264h0M700 264h0M701 264h0"/>
<path stroke="#0000ff" stroke-width="7.6" d="M324 915h0M325 914h0M326 913h0M327 913h0M327 913h0M329 913h0M329 913h0M330 912h0M332 912h0M332 910h0M333 911h0M337 908h0M338 909h0M338 909h0M338 908h0M342 907h0M342 907h0M342 906h0M345 906h0M346 904h0M349 902h0M351 901h0M353 902h0M356 901h0M356 901h0M355 899h0M356 901h0M358 900h0M361 898h0M361 896h0M363 896h0M368 893h0M370 894h0M370 894h0M370 892h0M373 893h0M378 890h0M382 888h0M385 886h0M391 884h0M396 883h0M398 882h0M399 881h0M399 881h0M403 880h0M403 878h0M404 879h0M405 879h0M405 878h0M407 879h0M407 877h0M408 878h0M409 877h0M410 875h0M414 876h0M415 875h0M415 874h0M421 872h0M423 871h0M424 871h0M425 870h0M427 870h0M431 868h0M431 868h0M524 827h0M707 749h0M709 747h0M707 740h0M709 745h0M1109 559h0M1110 559h0M1111 558h0M1112 558h0M1114 559h0M1114 557h0M1114 558h0M1114 555h0M1118 556h0M1118 554h0M1122 552h0M1125 550h0M1126 553h0M1127 552h0M1126 549h0M1131 551h0M1132 550h0M1132 550h0M1133 551h0M1138 549h0M1136 545h0M1139 547h0M1144 542h0M1150 542h0M1152 538h0M1154 537h0M1161 538h0M1161 538h0M1161 537h0M1163 534h0M1166 536h0M1165 533h0M1166 533h0M1171 533h0M1171 533h0M1174 531h0M1174 532h0M1174 529h0M1175 529h0M1176 531h0M1176 528h0M1176 528h0M330 1066h0M332 1065h0M333 1065h0M341 1066h0M342 1065h0M342 1066h0M344 1065h0M345 1066h0M346 1065h0M346 1067h0M349 1066h0M349 1066h0M355 1064h0M359 1066h0M362 1065h0M363 1066h0M364 1064h0M365 1065h0M365 1065h0M367 1066h0M368 1064h0M370 1065h0M376 1065h0M382 1065h0M382 1063h0M383 1063h0M384 1063h0M386 1065h0M388 1065h0M389 1063h0M390 1063h0M391 1065h0M394 1063h0M401 1062h0M405 1064h0M411 1064h0M413 1064h0M416 1062h0M420 1064h0M423 1061h0M425 1062h0M425 1062h0M428 1062h0M430 1063h0M431 1063h0M433 1062h0M548 1058h0M548 1058h0M550 1057h0M550 1057h0M551 1061h0M683 1055h0M683 1056h0M686 1057h0M687 1056h0M687 1056h0M692 1056h0M1119 1043h0M1120 1043h0M1120 1043h0M1121 1042h0M1121 1043h0M1123 1043h0M1124 1042h0M1124 1043h0M1125 1042h0M1128 1044h0M1130 1043h0M1133 1043h0M1133 1044h0M1133 1041h0M1136 1041h0M1138 1044h0M1144 1043h0M1144 1044h0M1145 1041h0M1146 1043h0M1146 1043h0M1149 1040h0M1149 1043h0M1150 1043h0M1153 1041h0M1153 1041h0M1154 1043h0M1154 1041h0M1156 1043h0M1157 1044h0M1157 1040h0M1159 1043h0M1159 1043h0M1163 1041h0M1163 1041h0M1163 1040h0M1164 1043h0M1167 1040h0M1167 1040h0M1169 1041h0M1170 1041h0M1173 1041h0M1173 1042h0M1174 1041h0M1178 1041h0M328 1083h0M329 1082h0M330 1083h0M330 1082h0M330 1083h0M331 1082h0M331 1082h0M332 1083h0M332 1083h0M333 1083h0M335 1082h0M336 1082h0M336 1082h0M338 1083h0M338 1083h0M339 1082h0M345 1083h0M353 1083h0M359 1082h0M361 1081h0M363 1083h0M365 1082h0M367 1083h0M367 1083h0M369 1081h0M371 1083h0M372 1083h0M379 1082h0M380 1081h0M381 1081h0M382 1082h0M383 1082h0M385 1081h0M391 1082h0M399 1082h0M399 1083h0M399 1081h0M402 1082h0M402 1081h0M405 1083h0M411 1081h0M414 1082h0M416 1081h0M417 1081h0M417 1081h0M418 1081h0M422 1081h0M427 1081h0M534 1084h0M535 1084h0M697 1083h0M698 1079h0M698 1083h0M1109 1067h0M1111 1067h0M1114 1067h0M1115 1067h0M1117 1066h0M1119 1067h0M1119 1066h0M1122 1066h0M1122 1067h0M1123 1067h0M1124 1066h0M1125 1067h0M1131 1067h0M1132 1067h0M1132 1065h0M1134 1067h0M1136 1065h0M1137 1065h0M1140 1065h0M1143 1065h0M1144 1066h0M1149 1065h0M1156 1066h0M1159 1064h0M1162 1065h0M1168 1065h0M1168 1064h0M1168 1064h0M1168 1064h0M1172 1064h0M1178 1064h0M1180 1064h0M1180 1064h0M1180 1064h0M1180 1064h0"/>
<path stroke="#0000ff" stroke-width="8.0" d="M321 892h0M321 893h0M325 890h0M326 891h0M327 890h0M327 889h0M328 891h0M327 889h0M328 891h0M329 890h0M330 888h0M334 891h0M335 889h0M336 890h0M335 886h0M337 889h0M337 889h0M338 888h0M339 887h0M340 888h0M340 887h0M343 887h0M345 883h0M346 883h0M348 882h0M348 881h0M349 882h0M348 881h0M351 885h0M352 884h0M353 885h0M353 884h0M356 883h0M357 882h0M357 882h0M360 881h0M361 880h0M363 879h0M360 874h0M365 873h0M365 871h0M367 872h0M371 868h0M372 869h0M373 869h0M373 869h0M378 869h0M378 865h0M380 867h0M381 867h0M384 862h0M385 860h0M386 861h0M389 863h0M387 859h0M390 862h0M392 862h0M393 860h0M392 858h0M395 860h0M393 857h0M396 859h0M396 855h0M396 855h0M397 855h0M400 858h0M400 857h0M399 853h0M400 852h0M403 852h0M403 851h0M406 851h0M408 855h0M409 854h0M409 852h0M410 852h0M411 853h0M412 849h0M413 851h0M414 851h0M417 850h0M415 846h0M417 847h0M420 849h0M421 849h0M420 848h0M421 844h0M423 847h0M424 847h0M423 843h0M425 842h0M426 843h0M425 842h0M428 845h0M429 843h0M429 843h0M432 843h0M434 842h0M435 840h0M436 840h0M544 800h0M543 798h0M542 794h0M543 791h0M543 786h0M701 722h0M702 720h0M702 719h0M705 713h0M703 707h0M1136 506h0M1135 501h0M1135 502h0M1136 502h0M1137 503h0M1136 499h0M1139 500h0M1139 498h0M1141 501h0M1139 497h0M1142 501h0M1143 496h0M1146 500h0M1144 495h0M1145 495h0M1145 494h0M1148 498h0M1145 494h0M1149 499h0M1145 493h0M1151 498h0M1147 491h0M1152 495h0M1149 490h0M1151 490h0M1154 493h0M1151 488h0M1155 491h0M1153 487h0M1153 486h0M1155 489h0M1159 488h0M1160 488h0M1161 487h0M1163 485h0"/>
<path stroke="#0000ff" stroke-width="8.8" d="M586 230h0M590 222h0M588 229h0M588 231h0M591 223h0M587 237h0M590 244h0M590 245h0M590 245h0M592 245h0M593 248h0M657 241h0M660 242h0M660 244h0M660 249h0M661 252h0M661 254h0M662 252h0M662 253h0M659 262h0M661 258h0M660 260h0M661 259h0M664 253h0M659 268h0M662 260h0M661 263h0M662 259h0M672 256h0M672 261h0M672 261h0M676 260h0M677 262h0M678 264h0M679 264h0M681 263h0M683 261h0M683 261h0M684 261h0M685 260h0M685 262h0M686 260h0M691 262h0M691 263h0M693 263h0M694 263h0"/>
<path stroke="#0008ff" stroke-width="7.6" d="M327 913h0M332 911h0M337 909h0M340 907h0M340 907h0M345 905h0M349 902h0M354 901h0M355 900h0M360 898h0M360 898h0M361 897h0M364 897h0M366 896h0M380 888h0M382 887h0M383 887h0M383 887h0M385 887h0M391 885h0M393 883h0M394 883h0M398 881h0M399 881h0M404 879h0M405 879h0M406 878h0M406 878h0M406 878h0M409 877h0M415 874h0M417 873h0M417 873h0M421 872h0M526 831h0M545 824h0M545 815h0M691 758h0M691 757h0M694 755h0M693 753h0M692 753h0M696 757h0M695 755h0M697 755h0M695 747h0M697 745h0M699 744h0M701 743h0M705 741h0M706 743h0M707 744h0M1123 554h0M1124 553h0M1126 551h0M1128 551h0M1129 550h0M1129 549h0M1136 546h0M1138 546h0M1144 543h0M1146 542h0M1150 541h0M1151 540h0M1157 537h0M1159 537h0M1159 537h0M1164 535h0M1168 532h0M348 1065h0M348 1065h0M350 1065h0M352 1066h0M358 1065h0M358 1065h0M367 1064h0M374 1065h0M387 1064h0M389 1064h0M391 1064h0M393 1063h0M394 1063h0M399 1063h0M403 1064h0M405 1064h0M409 1063h0M414 1063h0M415 1063h0M417 1063h0M420 1062h0M421 1063h0M422 1063h0M550 1059h0M551 1058h0M551 1057h0M552 1060h0M680 1054h0M680 1055h0M681 1056h0M682 1056h0M1132 1042h0M1132 1042h0M1133 1042h0M1140 1042h0M1142 1043h0M1145 1042h0M1147 1042h0M1149 1042h0M1150 1042h0M1163 1042h0M332 1082h0M337 1083h0M338 1083h0M338 1082h0M339 1082h0M344 1082h0M348 1082h0M353 1082h0M356 1082h0M357 1082h0M361 1082h0M365 1082h0M366 1082h0M368 1082h0M368 1082h0M372 1082h0M374 1082h0M379 1082h0M386 1082h0M389 1082h0M397 1082h0M406 1082h0M414 1082h0M415 1081h0M418 1081h0M420 1081h0M424 1082h0M683 1080h0M696 1083h0M697 1083h0M698 1080h0M1119 1067h0M1124 1066h0M1125 1066h0M1127 1066h0M1130 1066h0M1132 1067h0M1134 1066h0M1135 1066h0M1137 1066h0M1138 1066h0M1140 1066h0M1141 1066h0M1143 1066h0M1144 1066h0M1145 1065h0M1145 1065h0M1147 1065h0M1150 1066h0M1154 1064h0M1157 1064h0M1158 1065h0M1159 1065h0M1160 1065h0M1162 1065h0M1168 1064h0M1171 1065h0"/>
<path stroke="#0008ff" stroke-width="8.0" d="M333 888h0M333 889h0M334 889h0M335 888h0M343 886h0M350 883h0M363 877h0M365 875h0M367 874h0M368 872h0M370 872h0M373 869h0M376 868h0M377 868h0M381 866h0M381 866h0M382 865h0M383 864h0M384 864h0M384 864h0M386 864h0M386 862h0M387 863h0M388 861h0M389 861h0M393 857h0M393 857h0M394 858h0M394 858h0M394 858h0M396 856h0M397 857h0M396 856h0M399 856h0M399 855h0M402 855h0M402 855h0M403 853h0M403 853h0M404 852h0M406 853h0M409 852h0M408 851h0M409 850h0M412 851h0M411 850h0M414 849h0M416 849h0M416 848h0M416 849h0M416 847h0M418 848h0M424 844h0M544 798h0M543 796h0M545 799h0M544 789h0M691 708h0M692 710h0M698 723h0M700 722h0M702 717h0M703 716h0M704 715h0M703 712h0M703 708h0M1142 498h0M1143 500h0M1144 497h0M1146 496h0M1147 496h0M1147 494h0M1150 495h0M1149 492h0M1152 493h0"/>
<path stroke="#0008ff" stroke-width="8.8" d="M588 232h0M590 232h0M592 225h0M588 238h0M591 242h0M592 244h0M593 248h0M594 248h0M594 249h0M653 236h0M657 243h0M659 247h0M659 253h0M654 266h0M656 264h0M657 260h0M657 262h0M655 267h0"/>
<path stroke="#0018ff" stroke-width="7.6" d="M526 832h0M527 831h0M526 828h0M526 828h0M528 822h0M545 823h0M542 815h0M691 756h0M692 749h0M693 753h0M694 752h0M694 753h0M693 751h0M695 752h0M694 752h0M695 748h0M698 754h0M696 748h0M703 744h0M705 748h0M706 748h0M705 744h0M705 744h0M552 1058h0M552 1058h0M577 1055h0M578 1060h0M580 1055h0M680 1057h0M536 1083h0M537 1081h0M686 1083h0M692 1079h0M693 1080h0M694 1084h0M694 1080h0M696 1083h0M697 1082h0M698 1080h0M698 1081h0"/>
<path stroke="#0018ff" stroke-width="8.0" d="M544 796h0M546 799h0M544 795h0M547 798h0M545 791h0M545 788h0M546 784h0M547 783h0M547 782h0M690 725h0M691 724h0M692 724h0M697 723h0M698 722h0M698 721h0M695 708h0M700 718h0M701 715h0M702 717h0M702 716h0M702 713h0M701 710h0M702 710h0"/>
<path stroke="#0018ff" stroke-width="8.8" d="M590 233h0M592 229h0M592 230h0M590 235h0M593 227h0M592 232h0M592 234h0M592 240h0M592 240h0M593 240h0M595 248h0M651 233h0M650 235h0M654 242h0M655 245h0M656 244h0M651 265h0M652 263h0M654 260h0M654 265h0M656 259h0M655 261h0M657 258h0"/>
<path stroke="#0028ff" stroke-width="7.6" d="M527 826h0M527 826h0M530 832h0M542 826h0M543 824h0M542 816h0M546 822h0M690 749h0M691 751h0M695 750h0M696 751h0M696 748h0M697 750h0M701 751h0M699 746h0M702 746h0M702 745h0M703 745h0M554 1056h0M579 1059h0M580 1056h0M581 1059h0M655 1059h0M675 1053h0M676 1054h0M677 1055h0M678 1055h0M679 1057h0M537 1082h0M537 1083h0M540 1081h0M680 1084h0M681 1083h0M683 1082h0M684 1082h0M692 1083h0M692 1080h0M693 1082h0M694 1080h0M694 1079h0M695 1080h0"/>
<path stroke="#0028ff" stroke-width="8.0" d="M546 796h0M546 796h0M547 783h0M692 720h0M692 719h0M693 721h0M693 718h0M693 719h0M692 716h0M694 720h0M693 713h0M694 714h0M693 712h0M696 720h0M694 713h0M698 720h0M699 718h0M699 718h0M699 718h0M700 718h0M698 712h0M700 713h0M700 713h0M701 714h0"/>
<path stroke="#0028ff" stroke-width="8.8" d="M594 229h0M592 236h0M594 234h0M596 229h0M593 239h0M597 248h0M648 234h0M650 234h0M653 243h0M653 244h0M649 260h0M649 265h0M650 265h0M653 256h0M655 252h0M653 258h0"/>
<path stroke="#0038ff" stroke-width="7.6" d="M538 817h0M542 824h0M540 816h0M543 822h0M544 820h0M544 818h0M687 750h0M687 749h0M697 749h0M698 751h0M699 750h0M702 749h0M702 749h0M702 748h0M556 1060h0M576 1056h0M581 1056h0M582 1060h0M653 1059h0M675 1059h0M679 1057h0M538 1082h0M542 1085h0M560 1082h0M561 1082h0M679 1084h0M680 1081h0M681 1082h0M685 1082h0M685 1082h0M686 1081h0M686 1081h0M686 1082h0M688 1082h0M690 1080h0M694 1081h0M695 1082h0"/>
<path stroke="#0038ff" stroke-width="8.0" d="M547 796h0M546 794h0M546 792h0M689 725h0M690 718h0M688 711h0M688 710h0M689 711h0M695 717h0M695 716h0M696 718h0M696 717h0M697 716h0M698 716h0M697 715h0M697 712h0M698 715h0M699 715h0"/>
<path stroke="#0038ff" stroke-width="8.8" d="M596 232h0M597 230h0M600 226h0M597 241h0M602 224h0M597 247h0M598 244h0M598 246h0M646 231h0M646 232h0M648 238h0M652 244h0M652 249h0M652 251h0M650 260h0M653 252h0"/>
<path stroke="#0048ff" stroke-width="7.6" d="M530 823h0M537 817h0M541 824h0M543 820h0M546 820h0M547 820h0M567 815h0M687 750h0M688 751h0M690 754h0M689 753h0M689 752h0M576 1057h0M581 1057h0M581 1057h0M582 1059h0M651 1055h0M653 1059h0M655 1056h0M655 1055h0M656 1058h0M656 1058h0M658 1055h0M673 1059h0M673 1055h0M676 1056h0M677 1057h0M539 1084h0M541 1081h0M557 1081h0M677 1084h0M688 1082h0M693 1081h0"/>
<path stroke="#0048ff" stroke-width="8.0" d="M550 796h0M547 787h0M549 782h0M550 782h0M562 791h0M562 791h0M689 723h0M689 719h0M689 717h0M688 712h0M688 713h0M688 713h0M689 715h0M688 712h0"/>
<path stroke="#0048ff" stroke-width="8.8" d="M599 233h0M601 229h0M604 226h0M604 227h0M647 238h0M648 240h0M649 242h0M650 248h0M647 260h0M648 259h0M649 257h0M647 263h0M649 257h0M651 253h0M651 255h0"/>
<path stroke="#0058ff" stroke-width="7.6" d="M531 829h0M531 825h0M531 824h0M534 829h0M535 820h0M539 818h0M540 819h0M548 822h0M548 822h0M548 820h0M548 819h0M548 820h0M566 815h0M567 814h0M676 765h0M673 757h0M675 756h0M683 752h0M688 755h0M687 752h0M572 1061h0M572 1060h0M573 1056h0M574 1060h0M575 1060h0M576 1057h0M581 1058h0M582 1057h0M582 1057h0M582 1059h0M582 1057h0M583 1057h0M583 1056h0M584 1056h0M618 1058h0M619 1056h0M620 1055h0M620 1056h0M621 1060h0M653 1058h0M654 1056h0M675 1057h0M676 1056h0M676 1057h0M540 1082h0M541 1082h0M542 1084h0M555 1085h0M556 1086h0M557 1082h0M559 1083h0M560 1084h0M560 1083h0"/>
<path stroke="#0058ff" stroke-width="8.0" d="M548 788h0M548 788h0M549 783h0M684 730h0M683 730h0M687 724h0M688 723h0M688 721h0"/>
<path stroke="#0058ff" stroke-width="8.8" d="M600 231h0M600 236h0M601 233h0M603 229h0M603 231h0M601 244h0M604 230h0M601 246h0M602 245h0M602 244h0M603 249h0M640 261h0M647 243h0M648 252h0"/>
<path stroke="#0068ff" stroke-width="7.6" d="M534 828h0M533 823h0M536 827h0M535 821h0M538 820h0M550 821h0M549 814h0M568 806h0M673 764h0M674 764h0M676 765h0M674 758h0M674 756h0M682 752h0M684 751h0M687 757h0M562 1056h0M572 1056h0M573 1057h0M574 1059h0M574 1057h0M575 1059h0M583 1059h0M584 1057h0M585 1056h0M587 1055h0M615 1059h0M615 1056h0M617 1056h0M617 1058h0M618 1058h0M619 1056h0M651 1059h0M653 1058h0M654 1057h0M657 1057h0M660 1055h0M661 1055h0M661 1059h0M664 1054h0M674 1058h0M674 1056h0M544 1085h0M548 1085h0M550 1081h0M553 1085h0M558 1085h0M561 1084h0M676 1080h0M676 1084h0M679 1082h0"/>
<path stroke="#0068ff" stroke-width="8.0" d="M550 795h0M551 795h0M549 790h0M551 795h0M549 786h0M558 792h0M560 792h0M561 790h0M561 791h0M559 775h0M562 776h0M676 733h0M678 732h0M675 715h0M675 714h0M685 724h0M686 724h0M686 723h0M684 712h0M684 712h0M685 712h0"/>
<path stroke="#0068ff" stroke-width="8.8" d="M602 231h0M602 233h0M601 239h0M601 239h0M604 231h0M603 240h0M603 243h0M608 229h0M608 230h0M607 248h0M612 228h0M608 251h0M610 254h0M641 236h0M643 240h0M637 262h0M646 245h0M640 259h0M646 246h0M645 252h0M646 253h0M646 252h0M646 254h0M647 253h0M647 254h0"/>
<path stroke="#0078ff" stroke-width="7.6" d="M532 825h0M533 825h0M534 823h0M534 824h0M536 822h0M537 824h0M537 825h0M537 823h0M539 821h0M549 820h0M549 819h0M549 820h0M549 820h0M549 818h0M552 821h0M566 807h0M566 807h0M567 809h0M568 810h0M566 806h0M568 808h0M671 758h0M674 758h0M679 763h0M676 757h0M676 756h0M681 753h0M681 752h0M686 756h0M685 752h0M559 1059h0M560 1057h0M565 1056h0M568 1060h0M570 1060h0M573 1059h0M585 1060h0M617 1057h0M619 1058h0M620 1056h0M622 1059h0M651 1056h0M651 1055h0M652 1056h0M653 1057h0M660 1055h0M663 1059h0M664 1058h0M664 1058h0M669 1054h0M674 1057h0M546 1082h0M549 1082h0M552 1081h0M556 1082h0M677 1083h0M677 1083h0"/>
<path stroke="#0078ff" stroke-width="8.0" d="M550 791h0M549 790h0M550 790h0M549 787h0M550 786h0M551 783h0M552 783h0M553 782h0M553 781h0M559 792h0M553 780h0M554 780h0M556 778h0M561 776h0M563 777h0M680 729h0M674 712h0M683 728h0M680 713h0M686 726h0M686 716h0"/>
<path stroke="#0078ff" stroke-width="8.8" d="M604 232h0M604 240h0M607 230h0M604 243h0M605 244h0M610 232h0M607 247h0M613 229h0M615 225h0M612 253h0M624 258h0M636 230h0M641 239h0M645 247h0"/>
<path stroke="#0087ff" stroke-width="7.6" d="M549 818h0M549 818h0M552 821h0M551 812h0M552 812h0M552 811h0M553 810h0M565 814h0M569 811h0M571 813h0M669 758h0M673 762h0M675 762h0M676 763h0M677 763h0M676 757h0M676 757h0M679 753h0M682 754h0M684 752h0M563 1057h0M572 1059h0M584 1058h0M586 1059h0M588 1055h0M613 1056h0M614 1059h0M615 1058h0M616 1057h0M616 1058h0M620 1057h0M622 1059h0M623 1059h0M651 1055h0M660 1057h0M660 1058h0M668 1058h0M672 1056h0M543 1083h0M546 1084h0M548 1085h0M553 1082h0M553 1085h0M557 1083h0M563 1085h0M672 1080h0M674 1080h0"/>
<path stroke="#0087ff" stroke-width="8.0" d="M551 785h0M552 784h0M556 793h0M553 783h0M554 781h0M556 780h0M560 788h0M561 787h0M557 778h0M562 785h0M563 787h0M562 784h0M560 780h0M560 779h0M561 780h0M564 773h0M673 732h0M677 729h0M678 716h0M682 727h0M684 726h0M685 722h0M686 721h0M684 715h0"/>
<path stroke="#0087ff" stroke-width="8.8" d="M606 234h0M606 237h0M607 235h0M607 234h0M608 234h0M606 245h0M608 245h0M609 247h0M609 250h0M610 249h0M611 251h0M613 250h0M613 251h0M626 229h0M620 255h0M627 229h0M627 232h0M623 255h0M628 260h0M636 236h0M637 234h0M630 260h0M632 259h0M638 238h0M639 236h0M639 240h0M635 262h0M638 255h0M638 258h0M642 245h0M641 251h0M641 252h0M642 249h0"/>
<path stroke="#0097ff" stroke-width="7.6" d="M550 818h0M551 820h0M551 820h0M550 816h0M556 809h0M562 808h0M562 805h0M565 807h0M569 810h0M668 769h0M669 758h0M672 762h0M672 760h0M678 761h0M679 761h0M680 761h0M679 754h0M683 754h0M684 754h0M562 1059h0M563 1060h0M566 1057h0M566 1060h0M570 1059h0M589 1055h0M614 1058h0M624 1055h0M626 1060h0M626 1055h0M644 1059h0M647 1055h0M647 1055h0M648 1055h0M648 1058h0M649 1059h0M649 1059h0M649 1058h0M662 1058h0M664 1055h0M666 1055h0M666 1055h0M670 1055h0M545 1082h0M545 1083h0M545 1084h0M546 1082h0M546 1082h0M551 1084h0M553 1082h0M554 1084h0M554 1083h0M554 1083h0M564 1084h0M566 1082h0M671 1084h0M675 1083h0"/>
<path stroke="#0097ff" stroke-width="8.0" d="M551 788h0M552 785h0M552 784h0M557 792h0M553 783h0M557 791h0M554 783h0M554 782h0M558 789h0M559 788h0M558 781h0M560 782h0M561 783h0M563 784h0M563 781h0M563 781h0M563 777h0M672 737h0M673 735h0M674 732h0M677 727h0M677 725h0M676 721h0M677 721h0M679 726h0M680 727h0M681 727h0M682 724h0M682 725h0M681 715h0M683 723h0M682 717h0M684 720h0M682 715h0"/>
<path stroke="#0097ff" stroke-width="8.8" d="M609 237h0M609 237h0M608 240h0M610 234h0M614 232h0M611 248h0M621 230h0M622 230h0M621 232h0M618 251h0M625 231h0M621 252h0M634 237h0M629 257h0M630 257h0M636 238h0M634 255h0M638 239h0M638 241h0M635 257h0M636 256h0M640 242h0M637 255h0M637 254h0"/>
<path stroke="#00a7ff" stroke-width="7.6" d="M556 820h0M555 810h0M565 808h0M570 810h0M572 812h0M571 804h0M572 802h0M652 766h0M652 766h0M652 766h0M669 767h0M670 765h0M669 758h0M678 761h0M679 760h0M678 757h0M682 759h0M681 757h0M683 757h0M567 1059h0M568 1057h0M569 1058h0M587 1057h0M587 1059h0M589 1056h0M589 1060h0M612 1059h0M622 1058h0M623 1057h0M623 1056h0M623 1058h0M623 1056h0M625 1055h0M628 1055h0M629 1059h0M645 1059h0M649 1056h0M649 1056h0M662 1056h0M663 1057h0M667 1058h0M667 1056h0M546 1083h0M547 1083h0M550 1083h0M552 1084h0M564 1083h0M565 1084h0M565 1083h0M656 1084h0M676 1082h0"/>
<path stroke="#00a7ff" stroke-width="8.0" d="M554 790h0M553 785h0M554 785h0M556 789h0M557 790h0M559 787h0M559 786h0M559 785h0M558 783h0M558 783h0M559 783h0M559 782h0M564 785h0M564 786h0M567 790h0M564 782h0M671 736h0M674 731h0M674 731h0M675 722h0M677 722h0M678 723h0M677 721h0M680 723h0M682 725h0M682 720h0M683 721h0M682 718h0"/>
<path stroke="#00a7ff" stroke-width="8.8" d="M610 240h0M611 236h0M610 242h0M611 238h0M612 238h0M612 240h0M613 235h0M615 233h0M617 232h0M614 249h0M618 234h0M616 249h0M617 248h0M618 253h0M620 253h0M625 232h0M622 253h0M622 254h0M629 236h0M629 254h0M634 240h0M635 239h0M635 241h0M633 257h0M637 243h0M636 249h0M638 249h0"/>
<path stroke="#00b7ff" stroke-width="7.6" d="M560 817h0M561 816h0M562 817h0M562 815h0M560 809h0M563 815h0M562 815h0M563 814h0M565 811h0M565 811h0M565 810h0M570 809h0M571 811h0M570 806h0M572 802h0M652 767h0M653 766h0M653 766h0M653 764h0M655 763h0M667 768h0M666 760h0M671 762h0M671 762h0M566 1058h0M587 1058h0M587 1058h0M588 1057h0M589 1059h0M592 1060h0M606 1055h0M610 1060h0M610 1059h0M612 1056h0M613 1058h0M625 1059h0M640 1054h0M641 1055h0M644 1059h0M645 1055h0M648 1056h0M648 1058h0M648 1058h0M665 1057h0M549 1083h0M549 1083h0M551 1083h0M660 1081h0M662 1084h0M664 1080h0M666 1079h0M667 1085h0M670 1084h0M674 1081h0"/>
<path stroke="#00b7ff" stroke-width="8.0" d="M557 787h0M567 789h0M564 784h0M565 776h0M660 740h0M660 721h0M671 735h0M674 729h0M672 715h0M681 721h0"/>
<path stroke="#00b7ff" stroke-width="8.8" d="M614 238h0M615 237h0M614 243h0M614 247h0M615 246h0M616 244h0M616 246h0M616 247h0M617 248h0M620 237h0M622 231h0M618 249h0M622 236h0M619 249h0M621 249h0M621 249h0M621 251h0M627 237h0M630 238h0M632 242h0M632 242h0M634 242h0M634 242h0M634 242h0M635 244h0M635 247h0"/>
<path stroke="#00c7ff" stroke-width="7.6" d="M553 818h0M554 812h0M564 812h0M563 809h0M563 809h0M572 810h0M572 811h0M573 812h0M651 776h0M652 768h0M653 765h0M655 764h0M668 768h0M666 760h0M670 763h0M593 1056h0M595 1060h0M604 1060h0M607 1056h0M631 1055h0M642 1055h0M643 1059h0M647 1056h0M653 1081h0M653 1081h0M654 1081h0M655 1082h0M656 1082h0M664 1080h0M664 1080h0M671 1081h0M673 1081h0M674 1082h0"/>
<path stroke="#00c7ff" stroke-width="8.0" d="M565 780h0M565 778h0M569 770h0M659 740h0M672 732h0M671 717h0M670 713h0"/>
<path stroke="#00c7ff" stroke-width="8.8" d="M616 243h0M616 244h0M617 241h0M618 241h0M620 237h0M619 243h0M620 238h0M621 239h0M621 239h0M620 246h0M620 249h0M623 238h0M624 245h0M627 239h0M627 241h0M626 247h0M626 249h0M628 242h0M629 241h0M630 244h0M629 247h0M631 245h0M630 250h0M631 247h0"/>
<path stroke="#00d7ff" stroke-width="7.6" d="M553 815h0M555 819h0M555 818h0M561 815h0M560 809h0M563 812h0M654 773h0M653 766h0M654 766h0M666 769h0M663 761h0M665 760h0M669 764h0M667 760h0M669 762h0M592 1056h0M594 1060h0M596 1061h0M599 1060h0M600 1056h0M605 1056h0M606 1059h0M609 1056h0M625 1057h0M629 1059h0M632 1055h0M632 1059h0M635 1059h0M637 1055h0M638 1055h0M642 1059h0M571 1081h0M654 1084h0M655 1082h0M655 1083h0M659 1083h0M660 1084h0M663 1080h0"/>
<path stroke="#00d7ff" stroke-width="8.0" d="M568 787h0M565 781h0M568 769h0M583 762h0M661 739h0M665 738h0M659 721h0M668 736h0M668 736h0M671 734h0M673 720h0M673 719h0"/>
<path stroke="#00d7ff" stroke-width="8.8" d="M624 241h0M624 244h0M626 243h0"/>
<path stroke="#01e7f5" stroke-width="7.6" d="M554 814h0M557 817h0M559 810h0M561 811h0M562 810h0M572 806h0M574 801h0M652 773h0M653 768h0M657 773h0M658 762h0M667 761h0M592 1057h0M597 1055h0M602 1060h0M603 1056h0M605 1059h0M609 1058h0M627 1057h0M627 1058h0M636 1059h0M567 1084h0M568 1085h0M570 1086h0M589 1082h0M668 1084h0M669 1083h0M672 1082h0"/>
<path stroke="#01e7f5" stroke-width="8.0" d="M583 778h0M584 763h0M660 724h0M671 732h0M673 722h0M673 721h0M671 716h0M672 718h0"/>
<path stroke="#0ef7e9" stroke-width="7.6" d="M557 813h0M560 814h0M560 815h0M559 811h0M560 812h0M560 812h0M572 808h0M593 794h0M651 774h0M649 767h0M652 773h0M653 772h0M654 773h0M654 767h0M659 772h0M665 761h0M592 1058h0M593 1058h0M597 1059h0M598 1056h0M598 1056h0M600 1060h0M606 1056h0M608 1058h0M628 1057h0M628 1057h0M633 1055h0M634 1055h0M636 1059h0M638 1059h0M641 1055h0M642 1058h0M643 1058h0M643 1057h0M643 1058h0M592 1086h0M654 1083h0M663 1083h0M666 1084h0M667 1081h0M668 1083h0M670 1083h0M670 1082h0"/>
<path stroke="#0ef7e9" stroke-width="8.0" d="M568 786h0M567 784h0M570 785h0M570 786h0M568 774h0M569 770h0M570 770h0M582 778h0M586 777h0M585 757h0M663 739h0M662 734h0M657 720h0M663 721h0M664 721h0M666 718h0M669 720h0M669 717h0M672 723h0"/>
<path stroke="#1bffdc" stroke-width="7.6" d="M557 815h0M558 813h0M573 807h0M575 810h0M573 804h0M575 801h0M593 802h0M594 793h0M594 793h0M653 770h0M655 772h0M654 769h0M655 767h0M655 766h0M656 765h0M659 763h0M662 762h0M663 762h0M667 764h0M595 1059h0M598 1059h0M602 1059h0M602 1059h0M604 1056h0M607 1057h0M629 1058h0M632 1056h0M632 1056h0M638 1058h0M641 1056h0M641 1056h0M642 1056h0M589 1082h0M594 1082h0M594 1082h0M662 1082h0M667 1083h0M668 1081h0M669 1082h0M669 1083h0M670 1083h0"/>
<path stroke="#1bffdc" stroke-width="8.0" d="M567 782h0M569 773h0M584 762h0M584 762h0M640 752h0M657 740h0M661 735h0M661 735h0M660 732h0M660 731h0M659 725h0M667 735h0M671 722h0"/>
<path stroke="#28ffcf" stroke-width="7.6" d="M573 805h0M595 792h0M650 769h0M654 771h0M654 770h0M655 770h0M660 771h0M660 763h0M663 770h0M665 762h0M666 764h0M598 1058h0M599 1056h0M604 1057h0M605 1057h0M632 1058h0M633 1058h0M638 1055h0M639 1056h0M641 1058h0M574 1086h0M591 1085h0M666 1082h0M666 1082h0"/>
<path stroke="#28ffcf" stroke-width="8.0" d="M568 781h0M568 777h0M573 784h0M568 775h0M576 786h0M569 773h0M583 774h0M587 777h0M587 776h0M582 763h0M583 763h0M640 732h0M659 731h0M659 729h0M659 728h0M661 731h0M657 722h0M661 726h0M665 732h0M664 724h0M669 720h0"/>
<path stroke="#35ffc2" stroke-width="7.6" d="M591 794h0M625 788h0M648 777h0M648 769h0M650 770h0M656 770h0M660 763h0M664 768h0M664 767h0M665 766h0M597 1058h0M600 1058h0M602 1057h0M602 1058h0M602 1058h0M603 1058h0M634 1056h0M638 1058h0M638 1057h0M570 1084h0M571 1083h0M573 1085h0M584 1086h0M590 1085h0M591 1084h0M591 1085h0M591 1085h0M652 1082h0"/>
<path stroke="#35ffc2" stroke-width="8.0" d="M569 781h0M571 770h0M572 769h0M577 762h0M641 751h0M641 750h0M656 741h0M658 738h0M659 732h0M658 728h0M664 734h0M667 733h0M668 731h0M670 730h0M667 722h0"/>
<path stroke="#42ffb5" stroke-width="7.6" d="M574 806h0M576 808h0M574 805h0M577 801h0M577 800h0M590 804h0M593 799h0M593 795h0M593 795h0M594 795h0M596 800h0M622 789h0M646 769h0M657 770h0M660 769h0M659 765h0M662 764h0M570 1083h0M578 1082h0M581 1086h0M583 1082h0M584 1082h0M590 1085h0"/>
<path stroke="#42ffb5" stroke-width="8.0" d="M573 783h0M571 772h0M571 770h0M574 768h0M582 771h0M586 776h0M585 774h0M587 776h0M585 766h0M638 752h0M637 729h0M656 741h0M658 727h0M663 731h0M663 730h0M665 733h0M664 730h0M666 733h0M664 727h0M665 725h0M668 730h0M669 724h0"/>
<path stroke="#4effa8" stroke-width="7.6" d="M575 804h0M582 808h0M593 800h0M590 793h0M593 797h0M593 796h0M597 792h0M649 773h0M649 772h0M657 768h0M659 768h0M658 767h0M659 766h0M660 767h0M571 1083h0M577 1086h0M582 1082h0M589 1083h0M589 1084h0M589 1084h0M595 1087h0M625 1086h0M626 1086h0M646 1085h0M648 1081h0"/>
<path stroke="#4effa8" stroke-width="8.0" d="M571 781h0M570 779h0M573 782h0M570 777h0M571 774h0M577 780h0M574 769h0M580 777h0M581 773h0M582 771h0M582 771h0M582 769h0M585 771h0M612 741h0M654 725h0M655 724h0M658 731h0M655 725h0M664 729h0M666 731h0M666 728h0M666 727h0M665 726h0M666 724h0M668 727h0M668 726h0M668 726h0M667 725h0"/>
<path stroke="#5bff9c" stroke-width="7.6" d="M575 806h0M587 805h0M591 802h0M591 801h0M592 799h0M593 798h0M599 799h0M622 790h0M626 787h0M625 779h0M625 779h0M627 777h0M644 779h0M645 769h0M648 774h0M573 1085h0M575 1085h0M581 1086h0M584 1086h0"/>
<path stroke="#5bff9c" stroke-width="8.0" d="M574 781h0M573 779h0M572 776h0M577 780h0M578 778h0M578 778h0M574 770h0M580 773h0M580 772h0M581 772h0M578 767h0M588 777h0M586 773h0M585 771h0M589 775h0M641 748h0M642 748h0M642 748h0M636 730h0M640 735h0M641 733h0M647 745h0M644 729h0M653 743h0M656 737h0M656 737h0M657 732h0"/>
<path stroke="#68ff8f" stroke-width="7.6" d="M576 807h0M583 808h0M580 799h0M582 797h0M583 798h0M597 799h0M625 779h0M642 781h0M573 1084h0M579 1085h0M581 1082h0M584 1086h0M587 1084h0M588 1084h0M594 1084h0M594 1083h0M594 1083h0M623 1086h0M650 1083h0"/>
<path stroke="#68ff8f" stroke-width="8.0" d="M574 779h0M573 775h0M573 775h0M573 775h0M573 774h0M579 774h0M577 770h0M580 770h0M587 775h0M585 771h0M591 777h0M612 744h0M638 749h0M642 746h0M637 732h0M647 750h0M651 743h0M655 727h0"/>
<path stroke="#75ff82" stroke-width="7.6" d="M577 806h0M578 807h0M578 807h0M577 804h0M578 802h0M580 807h0M589 803h0M588 795h0M591 800h0M590 796h0M599 799h0M599 800h0M619 792h0M620 790h0M622 780h0M647 774h0M573 1083h0M574 1084h0M575 1085h0M578 1082h0M585 1085h0M585 1085h0M586 1083h0M586 1085h0M599 1087h0M622 1086h0M625 1082h0M647 1084h0"/>
<path stroke="#75ff82" stroke-width="8.0" d="M574 775h0M575 776h0M576 776h0M576 777h0M575 774h0M575 773h0M577 774h0M577 772h0M588 774h0M590 775h0M586 767h0M592 756h0M609 764h0M614 761h0M609 747h0M640 742h0M642 744h0M656 730h0"/>
<path stroke="#82ff75" stroke-width="7.6" d="M577 805h0M580 807h0M586 804h0M584 798h0M588 796h0M591 798h0M597 798h0M596 795h0M596 795h0M598 798h0M602 798h0M624 784h0M625 784h0M625 783h0M627 786h0M631 775h0M643 780h0M575 1084h0M575 1084h0M578 1085h0M584 1085h0M584 1085h0M595 1084h0M596 1086h0M601 1082h0M624 1083h0M625 1085h0M628 1082h0M629 1081h0M645 1081h0"/>
<path stroke="#82ff75" stroke-width="8.0" d="M587 770h0M590 774h0M611 762h0M615 765h0M611 747h0M634 754h0M638 745h0M634 732h0M637 734h0M642 745h0M645 745h0M648 746h0M654 738h0"/>
<path stroke="#8fff68" stroke-width="7.6" d="M583 805h0M587 804h0M586 798h0M603 797h0M626 785h0M626 782h0M626 781h0M630 777h0M641 771h0M646 776h0M646 775h0M645 771h0M645 771h0M576 1084h0M577 1085h0M580 1083h0M581 1085h0M583 1085h0M584 1084h0M599 1086h0M606 1082h0M621 1082h0M629 1081h0M633 1086h0M635 1081h0"/>
<path stroke="#8fff68" stroke-width="8.0" d="M590 757h0M605 768h0M606 768h0M610 762h0M613 763h0M607 750h0M638 739h0M641 736h0M647 745h0M646 728h0M646 727h0"/>
<path stroke="#9cff5b" stroke-width="7.6" d="M580 801h0M586 804h0M585 798h0M586 798h0M588 802h0M589 802h0M588 797h0M589 799h0M597 797h0M620 790h0M620 789h0M626 784h0M627 785h0M631 775h0M632 774h0M637 784h0M639 772h0M644 778h0M646 775h0M646 774h0M577 1084h0M577 1083h0M578 1084h0M581 1083h0M581 1084h0M582 1084h0M582 1083h0M583 1085h0M598 1086h0M604 1087h0M623 1083h0M629 1082h0M636 1086h0M637 1081h0M644 1081h0"/>
<path stroke="#9cff5b" stroke-width="8.0" d="M588 770h0M588 769h0M590 773h0M588 768h0M588 768h0M591 771h0M597 772h0M591 755h0M593 753h0M596 752h0M605 748h0M606 747h0M616 761h0M638 741h0M643 743h0M644 746h0M642 737h0M647 744h0M648 744h0M649 728h0M654 731h0"/>
<path stroke="#a8ff4e" stroke-width="7.6" d="M579 805h0M581 806h0M582 801h0M587 798h0M601 798h0M622 785h0M623 784h0M628 784h0M630 777h0M632 775h0M636 773h0M645 772h0M580 1084h0M613 1083h0M616 1086h0M617 1087h0M636 1085h0M644 1084h0"/>
<path stroke="#a8ff4e" stroke-width="8.0" d="M588 768h0M589 761h0M598 772h0M597 748h0M612 760h0M609 750h0M615 760h0M612 749h0M612 748h0M615 745h0M631 755h0M636 748h0M644 743h0M645 745h0M651 741h0M654 734h0M653 731h0M653 730h0"/>
<path stroke="#b5ff42" stroke-width="7.6" d="M581 803h0M582 805h0M584 804h0M602 797h0M604 797h0M620 783h0M621 783h0M622 784h0M627 782h0M628 785h0M639 780h0M643 777h0M597 1085h0M599 1086h0M599 1086h0M600 1086h0M601 1086h0M605 1082h0M619 1082h0M620 1085h0M626 1084h0M627 1083h0M643 1082h0M646 1083h0"/>
<path stroke="#b5ff42" stroke-width="8.0" d="M591 771h0M593 771h0M592 757h0M609 762h0M605 748h0M606 748h0M611 757h0M615 761h0M611 751h0M617 761h0M612 750h0M613 747h0M630 758h0M634 751h0M631 737h0M630 733h0M634 735h0M643 739h0M646 744h0"/>
<path stroke="#c2ff35" stroke-width="7.6" d="M583 804h0M582 802h0M582 802h0M584 803h0M586 801h0M586 802h0M599 795h0M599 793h0M603 789h0M608 786h0M614 793h0M612 784h0M628 781h0M631 776h0M644 777h0M643 773h0M600 1086h0M602 1086h0M602 1086h0M616 1083h0M617 1082h0M619 1083h0M621 1083h0M627 1084h0M627 1083h0M636 1081h0"/>
<path stroke="#c2ff35" stroke-width="8.0" d="M594 772h0M598 770h0M602 768h0M603 748h0M606 751h0M606 750h0M610 755h0M609 750h0M619 762h0M618 743h0M620 738h0M621 737h0M628 735h0M645 740h0M645 741h0M647 743h0M649 740h0M646 732h0M651 738h0M650 731h0"/>
<path stroke="#cfff28" stroke-width="7.6" d="M585 802h0M610 785h0M618 790h0M629 783h0M628 782h0M630 783h0M637 781h0M635 775h0M640 779h0M641 779h0M640 773h0M642 777h0M600 1084h0M601 1083h0M602 1086h0M603 1086h0M614 1082h0M616 1086h0M620 1085h0M628 1084h0M641 1085h0"/>
<path stroke="#cfff28" stroke-width="8.0" d="M590 767h0M595 772h0M592 761h0M599 769h0M596 754h0M606 764h0M607 766h0M600 750h0M610 756h0M608 753h0M608 752h0M610 753h0M614 757h0M613 752h0M620 759h0M617 743h0M645 736h0M648 739h0M646 734h0M651 733h0"/>
<path stroke="#dcff1b" stroke-width="7.6" d="M600 795h0M606 795h0M605 788h0M629 781h0M630 779h0M637 774h0M642 773h0M643 775h0M610 1086h0M613 1086h0M620 1083h0M628 1083h0M632 1085h0M638 1085h0"/>
<path stroke="#dcff1b" stroke-width="8.0" d="M592 768h0M593 770h0M592 761h0M601 752h0M607 761h0M608 759h0M609 757h0M609 756h0M614 756h0M619 762h0M624 758h0M626 759h0M632 750h0M627 736h0M634 748h0M648 734h0M649 736h0"/>
<path stroke="#e9ff0e" stroke-width="7.6" d="M602 796h0M601 792h0M608 786h0M612 785h0M618 789h0M617 784h0M629 781h0M630 779h0M635 781h0M633 776h0M603 1083h0M619 1084h0M629 1083h0M632 1085h0M632 1082h0"/>
<path stroke="#e9ff0e" stroke-width="8.0" d="M599 769h0M602 768h0M600 752h0M600 751h0M605 754h0M607 753h0M607 753h0M614 757h0M618 759h0M618 743h0M629 755h0M632 752h0M626 738h0M632 750h0M629 738h0"/>
<path stroke="#f5f701" stroke-width="7.6" d="M611 792h0M609 786h0M612 785h0M613 785h0M617 788h0M618 784h0M631 781h0M631 779h0M633 782h0M635 781h0M640 778h0M642 775h0M605 1085h0M607 1083h0M611 1082h0M612 1086h0M635 1082h0"/>
<path stroke="#f5f701" stroke-width="8.0" d="M593 767h0M592 765h0M593 765h0M596 769h0M598 768h0M606 760h0M608 757h0M614 754h0M616 757h0M629 754h0M633 745h0M632 739h0"/>
<path stroke="#ffe800" stroke-width="7.6" d="M607 795h0M632 779h0M632 779h0M637 775h0M638 775h0M640 777h0M640 777h0M604 1085h0M632 1084h0M633 1083h0M633 1084h0M633 1083h0M641 1083h0"/>
<path stroke="#ffe800" stroke-width="8.0" d="M595 758h0M595 758h0M597 757h0M606 754h0M617 757h0M619 759h0M617 747h0M625 755h0M632 740h0"/>
<path stroke="#ffda00" stroke-width="7.6" d="M603 792h0M603 791h0M604 791h0M605 794h0M606 789h0M610 794h0M615 791h0M616 789h0M617 788h0M616 785h0M617 786h0M635 780h0M638 776h0M639 776h0M604 1084h0M613 1085h0M614 1085h0M616 1084h0M632 1083h0M632 1083h0M632 1083h0M633 1084h0M635 1084h0M635 1083h0M636 1084h0"/>
<path stroke="#ffda00" stroke-width="8.0" d="M595 762h0M602 764h0M602 764h0M602 755h0M618 758h0M617 756h0M615 751h0M622 756h0M623 756h0M624 755h0M622 742h0M632 747h0M631 740h0"/>
<path stroke="#ffcb00" stroke-width="7.6" d="M614 790h0M615 789h0M614 786h0M634 779h0M636 778h0M637 778h0M637 778h0M637 776h0M606 1085h0M614 1084h0M614 1084h0M614 1084h0M635 1083h0M636 1083h0"/>
<path stroke="#ffcb00" stroke-width="8.0" d="M598 767h0M597 764h0M598 765h0M601 764h0M600 756h0M603 761h0M604 760h0M602 755h0M602 755h0M602 754h0M604 757h0M617 753h0M625 741h0M625 740h0M631 747h0M631 741h0"/>
<path stroke="#ffbc00" stroke-width="7.6" d="M615 788h0M615 787h0M607 1085h0M608 1085h0M608 1084h0M608 1084h0M609 1085h0M609 1085h0M609 1085h0M613 1085h0"/>
<path stroke="#ffbc00" stroke-width="8.0" d="M599 764h0M601 762h0M599 758h0M601 762h0M601 757h0M602 759h0M603 760h0"/>
<path stroke="#ffad00" stroke-width="7.6" d="M608 793h0M609 788h0M614 789h0M613 789h0M610 1084h0M611 1084h0"/>
<path stroke="#ffad00" stroke-width="8.0" d="M618 751h0M621 755h0M620 746h0M630 745h0"/>
<path stroke="#ff9e00" stroke-width="7.6" d="M608 790h0M608 790h0M608 790h0M609 791h0M611 791h0"/>
<path stroke="#ff9e00" stroke-width="8.0" d="M620 753h0M627 750h0M624 742h0M629 743h0"/>
<path stroke="#ff9000" stroke-width="8.0" d="M622 752h0"/>
<path stroke="#ff8100" stroke-width="8.0" d="M622 751h0M623 751h0M624 749h0M625 750h0M625 748h0M625 747h0"/>
</g></g>
<g clip-path="url(#clipa)">
<path d="M163.1 542.4H188.5M175.8 535.4V549.4" stroke="#000" stroke-width="2.6" fill="none"/>
<path d="M199.0 541.0H224.4M211.7 534.0V548.0" stroke="#000" stroke-width="2.6" fill="none"/>
<path d="M275.8 530.4H301.2M288.5 523.4V537.4" stroke="#000" stroke-width="2.6" fill="none"/>
<path d="M290.5 537.1H315.9M303.2 530.1V544.1" stroke="#000" stroke-width="2.6" fill="none"/>
<path d="M298.3 535.3H323.7M311.0 528.3V542.3" stroke="#000" stroke-width="2.6" fill="none"/>
<path d="M305.7 541.7H331.1M318.4 534.7V548.7" stroke="#000" stroke-width="2.6" fill="none"/>
<path d="M329.0 538.9H354.4M341.7 531.9V545.9" stroke="#000" stroke-width="2.6" fill="none"/>
<path d="M397.4 535.0H422.8M410.1 528.0V542.0" stroke="#000" stroke-width="2.6" fill="none"/>
<path d="M563.4 536.2H588.8M576.1 529.2V543.2" stroke="#000" stroke-width="2.6" fill="none"/>
<path d="M578.2 533.9H603.6M590.9 526.9V540.9" stroke="#000" stroke-width="2.6" fill="none"/>
<path d="M163.1 533.4H188.5M175.8 522.9V543.9" stroke="#000" stroke-width="2.6" fill="none"/>
<path d="M199.0 530.5H224.4M211.7 520.0V541.0" stroke="#000" stroke-width="2.6" fill="none"/>
<path d="M275.8 521.9H301.2M288.5 511.4V532.4" stroke="#000" stroke-width="2.6" fill="none"/>
<path d="M290.0 522.6H315.4M302.7 512.1V533.1" stroke="#000" stroke-width="2.6" fill="none"/>
<path d="M290.9 530.4H316.3M303.6 519.9V540.9" stroke="#000" stroke-width="2.6" fill="none"/>
<path d="M297.9 525.4H323.3M310.6 514.9V535.9" stroke="#000" stroke-width="2.6" fill="none"/>
<path d="M307.5 524.0H332.9M320.2 513.5V534.5" stroke="#000" stroke-width="2.6" fill="none"/>
<path d="M305.7 533.9H331.1M318.4 523.4V544.4" stroke="#000" stroke-width="2.6" fill="none"/>
<path d="M329.0 527.9H354.4M341.7 517.4V538.4" stroke="#000" stroke-width="2.6" fill="none"/>
<path d="M397.4 523.3H422.8M410.1 512.8V533.8" stroke="#000" stroke-width="2.6" fill="none"/>
<path d="M563.4 512.3H588.8M576.1 501.8V522.8" stroke="#000" stroke-width="2.6" fill="none"/>
<path d="M578.2 511.2H603.6M590.9 500.7V521.7" stroke="#000" stroke-width="2.6" fill="none"/>
<circle cx="175.8" cy="542.4" r="5.4" fill="#ff00ff" stroke="#000" stroke-width="2"/>
<circle cx="211.7" cy="541.0" r="5.4" fill="#ff00ff" stroke="#000" stroke-width="2"/>
<circle cx="288.5" cy="530.4" r="5.4" fill="#ff00ff" stroke="#000" stroke-width="2"/>
<circle cx="303.2" cy="537.1" r="5.4" fill="#ff00ff" stroke="#000" stroke-width="2"/>
<circle cx="311.0" cy="535.3" r="5.4" fill="#ff00ff" stroke="#000" stroke-width="2"/>
<circle cx="318.4" cy="541.7" r="5.4" fill="#ff00ff" stroke="#000" stroke-width="2"/>
<circle cx="341.7" cy="538.9" r="5.4" fill="#ff00ff" stroke="#000" stroke-width="2"/>
<circle cx="410.1" cy="535.0" r="5.4" fill="#ff00ff" stroke="#000" stroke-width="2"/>
<circle cx="576.1" cy="536.2" r="5.4" fill="#ff00ff" stroke="#000" stroke-width="2"/>
<circle cx="590.9" cy="533.9" r="5.4" fill="#ff00ff" stroke="#000" stroke-width="2"/>
<circle cx="175.8" cy="533.4" r="5.4" fill="#90ee90" stroke="#000" stroke-width="2"/>
<circle cx="211.7" cy="530.5" r="5.4" fill="#90ee90" stroke="#000" stroke-width="2"/>
<circle cx="288.5" cy="521.9" r="5.4" fill="#90ee90" stroke="#000" stroke-width="2"/>
<circle cx="302.7" cy="522.6" r="5.4" fill="#90ee90" stroke="#000" stroke-width="2"/>
<circle cx="303.6" cy="530.4" r="5.4" fill="#90ee90" stroke="#000" stroke-width="2"/>
<circle cx="310.6" cy="525.4" r="5.4" fill="#90ee90" stroke="#000" stroke-width="2"/>
<circle cx="320.2" cy="524.0" r="5.4" fill="#90ee90" stroke="#000" stroke-width="2"/>
<circle cx="318.4" cy="533.9" r="5.4" fill="#90ee90" stroke="#000" stroke-width="2"/>
<circle cx="341.7" cy="527.9" r="5.4" fill="#90ee90" stroke="#000" stroke-width="2"/>
<circle cx="410.1" cy="523.3" r="5.4" fill="#90ee90" stroke="#000" stroke-width="2"/>
<circle cx="576.1" cy="512.3" r="5.4" fill="#90ee90" stroke="#000" stroke-width="2"/>
<circle cx="590.9" cy="511.2" r="5.4" fill="#90ee90" stroke="#000" stroke-width="2"/>
<path d="M163.4 467.8H188.8M176.1 464.8V470.8" stroke="#000" stroke-width="2.6" fill="none"/>
<path d="M198.8 452.3H224.2M211.5 449.3V455.3" stroke="#000" stroke-width="2.6" fill="none"/>
<path d="M275.6 420.1H301.0M288.3 417.1V423.1" stroke="#000" stroke-width="2.6" fill="none"/>
<path d="M290.4 414.3H315.8M303.1 411.3V417.3" stroke="#000" stroke-width="2.6" fill="none"/>
<path d="M296.3 411.1H321.7M309.0 408.1V414.1" stroke="#000" stroke-width="2.6" fill="none"/>
<path d="M305.8 406.8H331.2M318.5 403.8V409.8" stroke="#000" stroke-width="2.6" fill="none"/>
<path d="M328.6 396.2H354.0M341.3 393.2V399.2" stroke="#000" stroke-width="2.6" fill="none"/>
<path d="M397.4 364.9H422.8M410.1 361.9V367.9" stroke="#000" stroke-width="2.6" fill="none"/>
<path d="M563.4 293.2H588.8M576.1 290.2V296.2" stroke="#000" stroke-width="2.6" fill="none"/>
<path d="M578.7 285.8H604.1M591.4 282.8V288.8" stroke="#000" stroke-width="2.6" fill="none"/>
<path d="M176.1 462.9L181.8 473.6L170.4 473.6Z" fill="#808080" stroke="#000" stroke-width="2" stroke-linejoin="miter"/>
<path d="M211.5 447.4L217.2 458.1L205.8 458.1Z" fill="#808080" stroke="#000" stroke-width="2" stroke-linejoin="miter"/>
<path d="M288.3 415.2L294.0 425.9L282.6 425.9Z" fill="#808080" stroke="#000" stroke-width="2" stroke-linejoin="miter"/>
<path d="M303.1 409.4L308.8 420.1L297.4 420.1Z" fill="#808080" stroke="#000" stroke-width="2" stroke-linejoin="miter"/>
<path d="M309.0 406.2L314.7 416.9L303.3 416.9Z" fill="#808080" stroke="#000" stroke-width="2" stroke-linejoin="miter"/>
<path d="M318.5 401.9L324.2 412.6L312.8 412.6Z" fill="#808080" stroke="#000" stroke-width="2" stroke-linejoin="miter"/>
<path d="M341.3 391.3L347.0 402.0L335.6 402.0Z" fill="#808080" stroke="#000" stroke-width="2" stroke-linejoin="miter"/>
<path d="M410.1 360.0L415.8 370.7L404.4 370.7Z" fill="#808080" stroke="#000" stroke-width="2" stroke-linejoin="miter"/>
<path d="M576.1 288.3L581.8 299.0L570.4 299.0Z" fill="#808080" stroke="#000" stroke-width="2" stroke-linejoin="miter"/>
<path d="M591.4 280.9L597.1 291.6L585.7 291.6Z" fill="#808080" stroke="#000" stroke-width="2" stroke-linejoin="miter"/>
<path d="M163.4 451.5H188.8M176.1 441.5V461.5" stroke="#000" stroke-width="2.6" fill="none"/>
<path d="M198.8 439.1H224.2M211.5 429.1V449.1" stroke="#000" stroke-width="2.6" fill="none"/>
<path d="M275.6 403.6H301.0M288.3 393.6V413.6" stroke="#000" stroke-width="2.6" fill="none"/>
<path d="M289.9 399.4H315.3M302.6 389.4V409.4" stroke="#000" stroke-width="2.6" fill="none"/>
<path d="M297.9 392.0H323.3M310.6 382.0V402.0" stroke="#000" stroke-width="2.6" fill="none"/>
<path d="M306.3 390.9H331.7M319.0 380.9V400.9" stroke="#000" stroke-width="2.6" fill="none"/>
<path d="M328.6 377.7H354.0M341.3 367.7V387.7" stroke="#000" stroke-width="2.6" fill="none"/>
<path d="M397.4 344.1H422.8M410.1 334.1V354.1" stroke="#000" stroke-width="2.6" fill="none"/>
<path d="M563.4 260.3H588.8M576.1 250.3V270.3" stroke="#000" stroke-width="2.6" fill="none"/>
<path d="M578.7 261.4H604.1M591.4 251.4V271.4" stroke="#000" stroke-width="2.6" fill="none"/>
<path d="M176.1 446.6L181.8 457.3L170.4 457.3Z" fill="#ff00ff" stroke="#000" stroke-width="2" stroke-linejoin="miter"/>
<path d="M211.5 434.2L217.2 444.9L205.8 444.9Z" fill="#ff00ff" stroke="#000" stroke-width="2" stroke-linejoin="miter"/>
<path d="M288.3 398.7L294.0 409.4L282.6 409.4Z" fill="#ff00ff" stroke="#000" stroke-width="2" stroke-linejoin="miter"/>
<path d="M302.6 394.5L308.3 405.2L296.9 405.2Z" fill="#ff00ff" stroke="#000" stroke-width="2" stroke-linejoin="miter"/>
<path d="M310.6 387.1L316.3 397.8L304.9 397.8Z" fill="#ff00ff" stroke="#000" stroke-width="2" stroke-linejoin="miter"/>
<path d="M319.0 386.0L324.7 396.7L313.3 396.7Z" fill="#ff00ff" stroke="#000" stroke-width="2" stroke-linejoin="miter"/>
<path d="M341.3 372.8L347.0 383.5L335.6 383.5Z" fill="#ff00ff" stroke="#000" stroke-width="2" stroke-linejoin="miter"/>
<path d="M410.1 339.2L415.8 349.9L404.4 349.9Z" fill="#ff00ff" stroke="#000" stroke-width="2" stroke-linejoin="miter"/>
<path d="M576.1 255.4L581.8 266.1L570.4 266.1Z" fill="#ff00ff" stroke="#000" stroke-width="2" stroke-linejoin="miter"/>
<path d="M591.4 256.5L597.1 267.2L585.7 267.2Z" fill="#ff00ff" stroke="#000" stroke-width="2" stroke-linejoin="miter"/>
<path d="M163.4 440.6H188.8M176.1 430.6V450.6" stroke="#000" stroke-width="2.6" fill="none"/>
<path d="M198.8 427.1H224.2M211.5 417.1V437.1" stroke="#000" stroke-width="2.6" fill="none"/>
<path d="M275.6 387.7H301.0M288.3 377.7V397.7" stroke="#000" stroke-width="2.6" fill="none"/>
<path d="M290.4 387.7H315.8M303.1 377.7V397.7" stroke="#000" stroke-width="2.6" fill="none"/>
<path d="M289.9 378.7H315.3M302.6 368.7V388.7" stroke="#000" stroke-width="2.6" fill="none"/>
<path d="M296.3 383.5H321.7M309.0 373.5V393.5" stroke="#000" stroke-width="2.6" fill="none"/>
<path d="M305.8 385.1H331.2M318.5 375.1V395.1" stroke="#000" stroke-width="2.6" fill="none"/>
<path d="M307.4 376.6H332.8M320.1 366.6V386.6" stroke="#000" stroke-width="2.6" fill="none"/>
<path d="M328.6 364.4H354.0M341.3 354.4V374.4" stroke="#000" stroke-width="2.6" fill="none"/>
<path d="M397.4 323.9H422.8M410.1 313.9V333.9" stroke="#000" stroke-width="2.6" fill="none"/>
<path d="M578.7 241.2H604.1M591.4 231.2V251.2" stroke="#000" stroke-width="2.6" fill="none"/>
<path d="M176.1 435.7L181.8 446.4L170.4 446.4Z" fill="#90ee90" stroke="#000" stroke-width="2" stroke-linejoin="miter"/>
<path d="M211.5 422.2L217.2 432.9L205.8 432.9Z" fill="#90ee90" stroke="#000" stroke-width="2" stroke-linejoin="miter"/>
<path d="M288.3 382.8L294.0 393.5L282.6 393.5Z" fill="#90ee90" stroke="#000" stroke-width="2" stroke-linejoin="miter"/>
<path d="M303.1 382.8L308.8 393.5L297.4 393.5Z" fill="#90ee90" stroke="#000" stroke-width="2" stroke-linejoin="miter"/>
<path d="M302.6 373.8L308.3 384.5L296.9 384.5Z" fill="#90ee90" stroke="#000" stroke-width="2" stroke-linejoin="miter"/>
<path d="M309.0 378.6L314.7 389.3L303.3 389.3Z" fill="#90ee90" stroke="#000" stroke-width="2" stroke-linejoin="miter"/>
<path d="M318.5 380.2L324.2 390.9L312.8 390.9Z" fill="#90ee90" stroke="#000" stroke-width="2" stroke-linejoin="miter"/>
<path d="M320.1 371.7L325.8 382.4L314.4 382.4Z" fill="#90ee90" stroke="#000" stroke-width="2" stroke-linejoin="miter"/>
<path d="M341.3 359.5L347.0 370.2L335.6 370.2Z" fill="#90ee90" stroke="#000" stroke-width="2" stroke-linejoin="miter"/>
<path d="M410.1 319.0L415.8 329.7L404.4 329.7Z" fill="#90ee90" stroke="#000" stroke-width="2" stroke-linejoin="miter"/>
<path d="M591.4 236.3L597.1 247.0L585.7 247.0Z" fill="#90ee90" stroke="#000" stroke-width="2" stroke-linejoin="miter"/>
<path d="M307.5 89.5H332.9M320.2 78.9V100.1" stroke="#000" stroke-width="2.6" fill="none"/>
<path d="M328.7 91.2H354.1M341.4 80.6V101.8" stroke="#000" stroke-width="2.6" fill="none"/>
<path d="M289.7 111.3H315.1M302.4 100.7V121.9" stroke="#000" stroke-width="2.6" fill="none"/>
<path d="M304.5 125.5H329.9M317.2 114.9V136.1" stroke="#000" stroke-width="2.6" fill="none"/>
<path d="M290.1 134.0H315.5M302.8 123.4V144.6" stroke="#000" stroke-width="2.6" fill="none"/>
<path d="M294.3 149.9H319.7M307.0 139.3V160.5" stroke="#000" stroke-width="2.6" fill="none"/>
<path d="M275.9 158.4H301.3M288.6 147.8V169.0" stroke="#000" stroke-width="2.6" fill="none"/>
<path d="M373.4 165.8H398.8M386.1 155.2V176.4" stroke="#000" stroke-width="2.6" fill="none"/>
<path d="M397.1 186.0H422.5M409.8 175.4V196.6" stroke="#000" stroke-width="2.6" fill="none"/>
<path d="M578.7 161.6H604.1M591.4 151.0V172.2" stroke="#000" stroke-width="2.6" fill="none"/>
<path d="M320.2 84.6L325.9 95.3L314.5 95.3Z" fill="#8b0000" stroke="#000" stroke-width="2" stroke-linejoin="miter"/>
<path d="M341.4 86.3L347.1 97.0L335.7 97.0Z" fill="#8b0000" stroke="#000" stroke-width="2" stroke-linejoin="miter"/>
<path d="M302.4 106.4L308.1 117.1L296.7 117.1Z" fill="#8b0000" stroke="#000" stroke-width="2" stroke-linejoin="miter"/>
<path d="M317.2 120.6L322.9 131.3L311.5 131.3Z" fill="#8b0000" stroke="#000" stroke-width="2" stroke-linejoin="miter"/>
<path d="M302.8 129.1L308.5 139.8L297.1 139.8Z" fill="#8b0000" stroke="#000" stroke-width="2" stroke-linejoin="miter"/>
<path d="M307.0 145.0L312.7 155.7L301.3 155.7Z" fill="#8b0000" stroke="#000" stroke-width="2" stroke-linejoin="miter"/>
<path d="M288.6 153.5L294.3 164.2L282.9 164.2Z" fill="#8b0000" stroke="#000" stroke-width="2" stroke-linejoin="miter"/>
<path d="M386.1 160.9L391.8 171.6L380.4 171.6Z" fill="#8b0000" stroke="#000" stroke-width="2" stroke-linejoin="miter"/>
<path d="M409.8 181.1L415.5 191.8L404.1 191.8Z" fill="#8b0000" stroke="#000" stroke-width="2" stroke-linejoin="miter"/>
<path d="M591.4 156.7L597.1 167.4L585.7 167.4Z" fill="#8b0000" stroke="#000" stroke-width="2" stroke-linejoin="miter"/>
</g>
<path d="M152.7 100.7H171.7M162.2 91.4V110.0" stroke="#000" stroke-width="2.6" fill="none"/>
<circle cx="162.2" cy="100.7" r="5.4" fill="#ff00ff" stroke="#000" stroke-width="2"/>
<text x="184.1" y="111.9" font-size="29.5">PP</text>
<path d="M152.7 128.3H171.7M162.2 119.0V137.6" stroke="#000" stroke-width="2.6" fill="none"/>
<circle cx="162.2" cy="128.3" r="5.4" fill="#90ee90" stroke="#000" stroke-width="2"/>
<text x="184.1" y="139.5" font-size="29.5">PPP</text>
<path d="M152.7 155.8H171.7M162.2 146.5V165.1" stroke="#000" stroke-width="2.6" fill="none"/>
<path d="M162.2 150.9L167.9 161.6L156.5 161.6Z" fill="#808080" stroke="#000" stroke-width="2" stroke-linejoin="miter"/>
<text x="184.1" y="167.0" font-size="29.5">S</text>
<path d="M152.7 183.4H171.7M162.2 174.1V192.7" stroke="#000" stroke-width="2.6" fill="none"/>
<path d="M162.2 178.5L167.9 189.2L156.5 189.2Z" fill="#ff00ff" stroke="#000" stroke-width="2" stroke-linejoin="miter"/>
<text x="184.1" y="194.6" font-size="29.5">SS</text>
<path d="M152.7 210.9H171.7M162.2 201.6V220.2" stroke="#000" stroke-width="2.6" fill="none"/>
<path d="M162.2 206.0L167.9 216.7L156.5 216.7Z" fill="#90ee90" stroke="#000" stroke-width="2" stroke-linejoin="miter"/>
<text x="184.1" y="222.1" font-size="29.5">SSS</text>
<path d="M152.7 238.1H171.7M162.2 228.8V247.4" stroke="#000" stroke-width="2.6" fill="none"/>
<path d="M162.2 233.2L167.9 243.9L156.5 243.9Z" fill="#8b0000" stroke="#000" stroke-width="2" stroke-linejoin="miter"/>
<text x="184.1" y="249.3" font-size="29.5">ScS</text>
<linearGradient id="gb4" gradientUnits="userSpaceOnUse" x1="857.0" y1="481.8" x2="1184.2" y2="339.4"><stop offset="0.000" stop-color="#00009b"/><stop offset="0.008" stop-color="#0000ad"/><stop offset="0.025" stop-color="#0000ad"/><stop offset="0.033" stop-color="#0000bf"/><stop offset="0.058" stop-color="#0000bf"/><stop offset="0.067" stop-color="#0000d1"/><stop offset="0.367" stop-color="#0000d1"/><stop offset="0.375" stop-color="#0018ff"/><stop offset="0.383" stop-color="#0078ff"/><stop offset="0.392" stop-color="#00d7ff"/><stop offset="0.400" stop-color="#1bffdc"/><stop offset="0.408" stop-color="#01e7f5"/><stop offset="0.417" stop-color="#00a7ff"/><stop offset="0.425" stop-color="#4effa8"/><stop offset="0.433" stop-color="#9cff5b"/><stop offset="0.442" stop-color="#9cff5b"/><stop offset="0.450" stop-color="#42ffb5"/><stop offset="0.458" stop-color="#82ff75"/><stop offset="0.467" stop-color="#dcff1b"/><stop offset="0.475" stop-color="#f5f701"/><stop offset="0.483" stop-color="#c2ff35"/><stop offset="0.492" stop-color="#5bff9c"/><stop offset="0.500" stop-color="#c2ff35"/><stop offset="0.508" stop-color="#ffcb00"/><stop offset="0.517" stop-color="#ffbc00"/><stop offset="0.525" stop-color="#dcff1b"/><stop offset="0.533" stop-color="#5bff9c"/><stop offset="0.542" stop-color="#5bff9c"/><stop offset="0.550" stop-color="#e9ff0e"/><stop offset="0.558" stop-color="#ffad00"/><stop offset="0.567" stop-color="#ffe800"/><stop offset="0.575" stop-color="#75ff82"/><stop offset="0.583" stop-color="#0ef7e9"/><stop offset="0.592" stop-color="#28ffcf"/><stop offset="0.600" stop-color="#00c7ff"/><stop offset="0.608" stop-color="#0048ff"/><stop offset="0.617" stop-color="#0048ff"/><stop offset="0.625" stop-color="#0028ff"/><stop offset="0.633" stop-color="#0000e3"/><stop offset="0.642" stop-color="#0000d1"/><stop offset="0.933" stop-color="#0000d1"/><stop offset="0.942" stop-color="#0000bf"/><stop offset="0.967" stop-color="#0000bf"/><stop offset="0.975" stop-color="#0000ad"/><stop offset="0.992" stop-color="#0000ad"/><stop offset="1.000" stop-color="#00009b"/></linearGradient>
<path d="M857.0 481.8L1184.2 339.4" fill="none" stroke="url(#gb4)" stroke-width="3.9" stroke-linecap="round" clip-path="url(#clipb)"/>
<linearGradient id="gb5" gradientUnits="userSpaceOnUse" x1="1262.0" y1="303.8" x2="1359.4" y2="262.6"><stop offset="0.000" stop-color="#00009b"/><stop offset="0.008" stop-color="#0000ad"/><stop offset="0.100" stop-color="#0000ad"/><stop offset="0.108" stop-color="#0000bf"/><stop offset="0.200" stop-color="#0000bf"/><stop offset="0.208" stop-color="#0000d1"/><stop offset="0.792" stop-color="#0000d1"/><stop offset="0.800" stop-color="#0000bf"/><stop offset="0.892" stop-color="#0000bf"/><stop offset="0.900" stop-color="#0000ad"/><stop offset="0.992" stop-color="#0000ad"/><stop offset="1.000" stop-color="#00009b"/></linearGradient>
<path d="M1262.0 303.8L1359.4 262.6" fill="none" stroke="url(#gb5)" stroke-width="3.9" stroke-linecap="round" clip-path="url(#clipb)"/>
<g clip-path="url(#clipb)"><g transform="scale(0.5)" fill="none" stroke-linecap="round">
<path stroke="#000089" stroke-width="7.6" d="M2228 1055h0M2228 1056h0M2228 1056h0M2230 1062h0M2230 1056h0M2230 1057h0M2232 1062h0M2233 1055h0M2234 1055h0M2234 1062h0M2235 1061h0M2235 1056h0M2235 1055h0M2236 1062h0M2238 1062h0M2239 1061h0M2239 1061h0M2240 1061h0M2240 1062h0M2241 1061h0M2249 1061h0M2250 1061h0M2256 1054h0M2256 1062h0M2262 1055h0M2264 1054h0M2272 1055h0M2273 1055h0M2280 1054h0M2282 1054h0M2285 1060h0M2287 1055h0M2289 1061h0M2290 1060h0M2291 1061h0M2298 1061h0M2299 1054h0M2299 1060h0M2300 1062h0M2301 1054h0M2303 1054h0M2308 1060h0M2309 1054h0M2312 1060h0M2313 1062h0M2313 1054h0M2315 1053h0M2319 1061h0M2319 1053h0M2321 1054h0M2323 1061h0M2324 1054h0M2324 1053h0M2326 1061h0M2331 1061h0M2335 1054h0M2336 1060h0M2336 1054h0M2337 1054h0M2340 1053h0M2341 1060h0M2344 1053h0M2347 1060h0M2347 1061h0M2348 1060h0M2348 1060h0M2354 1059h0M2354 1054h0M2356 1059h0M2357 1059h0M2358 1054h0M2358 1054h0M2359 1059h0M2359 1052h0M2361 1053h0M2361 1054h0M2361 1060h0M2361 1059h0M2362 1058h0M2362 1060h0M2365 1058h0M2365 1054h0M2366 1058h0M2367 1059h0M2227 1082h0M2228 1078h0M2229 1080h0M2231 1080h0M2231 1079h0M2231 1083h0M2231 1083h0M2231 1078h0M2233 1079h0M2236 1079h0M2237 1083h0M2237 1079h0M2237 1078h0M2238 1083h0M2239 1078h0M2240 1078h0M2242 1078h0M2243 1084h0M2246 1083h0M2246 1083h0M2248 1079h0M2249 1083h0M2250 1083h0M2250 1083h0M2253 1077h0M2258 1078h0M2258 1078h0M2260 1083h0M2260 1078h0M2262 1083h0M2264 1078h0M2267 1084h0M2268 1078h0M2269 1078h0M2270 1083h0M2271 1078h0M2272 1078h0M2273 1077h0M2275 1078h0M2275 1083h0M2278 1083h0M2278 1077h0M2279 1083h0M2281 1082h0M2282 1078h0M2283 1077h0M2287 1083h0M2288 1083h0M2289 1077h0M2291 1082h0M2293 1083h0M2293 1077h0M2295 1077h0M2299 1082h0M2300 1077h0M2301 1083h0M2302 1077h0M2315 1077h0M2320 1082h0M2323 1077h0M2328 1076h0M2331 1082h0M2332 1082h0M2338 1075h0M2338 1076h0M2342 1076h0M2344 1081h0M2344 1081h0M2348 1076h0M2349 1082h0M2350 1082h0M2350 1081h0M2351 1076h0M2354 1081h0M2355 1077h0M2360 1081h0M2361 1076h0M2361 1080h0M2361 1080h0M2361 1081h0M2362 1081h0M2362 1081h0M2363 1077h0M2364 1081h0M2366 1081h0"/>
<path stroke="#000089" stroke-width="8.0" d="M2197 284h0M2199 282h0M2197 284h0M2204 278h0M2199 282h0M2198 284h0M2200 282h0M2205 278h0M2203 280h0M2204 279h0M2200 283h0M2231 285h0M2230 287h0M2231 284h0M2229 292h0M2230 290h0M2233 282h0M2232 289h0M2233 286h0M2232 291h0M2234 291h0M2235 289h0M2234 294h0M2237 283h0M2235 293h0M2233 300h0M2235 294h0M2235 294h0M2239 280h0M2238 285h0M2236 292h0M2237 289h0M2237 289h0M2235 296h0M2236 293h0M2236 295h0M2237 294h0M2241 279h0M2239 284h0M2239 288h0M2238 290h0M2240 283h0M2242 282h0M2237 300h0M2241 284h0M2238 297h0M2241 285h0M2240 290h0M2242 284h0M2242 285h0M2239 298h0M2242 285h0M2240 295h0M2242 287h0M2241 294h0M2240 298h0M2242 294h0M2245 282h0M2244 287h0M2243 291h0M2243 292h0M2242 295h0M2241 299h0M2244 290h0M2243 294h0M2245 286h0M2246 282h0M2247 285h0M2245 293h0M2247 288h0M2243 300h0M2247 286h0M2245 298h0M2247 292h0M2246 293h0M2245 299h0M2248 288h0M2250 284h0M2249 287h0M2250 287h0M2251 284h0M2251 282h0M2249 292h0M2251 283h0M2247 297h0M2251 284h0M2248 296h0M2248 298h0M2248 299h0M2251 289h0M2252 286h0M2248 298h0M2249 297h0M2248 302h0M2251 290h0M2249 300h0M2249 299h0M2252 290h0M2252 292h0M2254 283h0M2250 298h0M2249 302h0M2252 291h0M2251 295h0M2249 301h0M2250 301h0M2254 287h0M2252 293h0M2254 288h0M2251 301h0M2255 291h0M2255 292h0M2253 301h0M2255 295h0M2257 285h0M2256 292h0M2258 285h0M2255 298h0M2257 290h0M2254 303h0M2255 300h0M2255 302h0M2258 291h0M2257 295h0M2257 297h0M2260 289h0M2258 296h0M2257 300h0M2257 299h0M2257 299h0M2262 288h0M2257 306h0M2258 302h0M2262 291h0M2262 291h0M2261 295h0M2264 285h0M2262 293h0M2261 297h0M2262 296h0M2264 287h0M2261 301h0M2263 295h0M2263 295h0M2261 303h0M2264 291h0M2261 305h0M2263 300h0M2265 291h0M2266 287h0M2262 304h0M2264 295h0M2266 288h0M2266 293h0M2268 288h0M2267 291h0M2265 300h0M2263 307h0M2267 293h0M2263 307h0M2268 292h0M2265 308h0M2271 290h0M2267 305h0M2269 295h0M2272 288h0M2271 293h0M2267 309h0M2272 293h0M2273 292h0M2275 288h0M2269 308h0M2274 293h0M2270 305h0M2270 309h0M2275 292h0M2273 304h0M2272 309h0M2273 308h0M2278 289h0M2277 294h0M2277 295h0M2279 289h0M2278 296h0M2275 306h0M2277 308h0M2282 293h0M2281 296h0M2282 295h0M2283 293h0M2278 311h0M2279 310h0M2280 310h0M2284 298h0M2282 308h0M2286 292h0M2287 293h0M2287 293h0M2288 291h0M2288 292h0M2284 308h0M2284 309h0M2284 308h0M2288 295h0M2285 309h0M2288 296h0M2284 315h0M2284 316h0M2286 310h0M2290 296h0M2290 295h0M2291 291h0M2292 291h0M2291 297h0M2291 297h0M2291 297h0M2293 294h0M2289 310h0M2288 315h0M2289 312h0M2290 310h0M2295 293h0M2295 298h0M2292 310h0M2293 310h0M2292 315h0M2293 311h0M2298 298h0M2294 318h0M2302 292h0M2300 299h0M2295 317h0M2298 312h0M2302 296h0M2305 292h0M2304 298h0M2299 318h0M2300 315h0M2301 312h0M2301 314h0M2301 316h0M2301 315h0M2306 299h0M2308 295h0M2304 314h0M2304 314h0M2305 315h0M2304 317h0M2310 297h0M2304 321h0M2305 318h0M2306 318h0M2307 314h0M2307 315h0M2311 303h0M2312 300h0M2307 319h0M2313 298h0M2314 296h0M2309 314h0M2309 318h0M2308 321h0M2309 320h0M2309 321h0M2308 325h0M2310 317h0M2311 317h0M2310 320h0M2311 318h0M2312 316h0M2317 299h0M2316 301h0M2318 296h0M2313 316h0M2313 320h0M2313 321h0M2319 301h0M2315 316h0M2313 324h0M2320 298h0M2316 321h0M2321 304h0M2318 316h0M2319 317h0M2323 303h0M2324 302h0M2323 305h0M2323 305h0M2319 326h0M2324 305h0M2322 317h0M2325 307h0M2327 300h0M2327 301h0M2326 306h0M2324 317h0M2322 325h0M2327 307h0M2327 308h0M2325 316h0M2329 305h0M2326 317h0M2330 304h0M2326 325h0M2332 299h0M2331 304h0M2332 301h0M2330 308h0M2328 318h0M2328 318h0M2331 311h0M2328 327h0M2330 319h0M2334 304h0M2334 307h0M2330 325h0M2332 317h0M2334 312h0M2331 325h0M2332 323h0M2337 303h0M2332 324h0M2332 326h0M2337 308h0M2338 308h0M2338 307h0M2336 317h0M2335 320h0M2338 311h0M2339 305h0M2336 322h0M2337 319h0M2342 299h0M2340 309h0M2335 327h0M2342 302h0M2339 314h0M2337 324h0M2339 314h0M2339 316h0M2339 315h0M2342 305h0M2336 327h0M2341 311h0M2341 308h0M2339 319h0M2342 310h0M2340 319h0M2339 322h0M2341 315h0M2344 305h0M2343 310h0M2345 304h0M2339 327h0M2342 317h0M2342 317h0M2345 306h0M2343 315h0M2345 304h0M2341 326h0M2344 316h0M2346 311h0M2341 328h0M2347 311h0M2345 317h0M2346 317h0M2346 315h0M2349 309h0M2347 318h0M2346 320h0M2348 313h0M2347 318h0M2351 306h0M2345 324h0M2351 309h0M2351 308h0M2349 315h0M2352 308h0M2347 324h0M2348 322h0M2350 319h0M2349 325h0M2352 317h0M2350 323h0M2352 319h0M2355 310h0M2350 327h0M2352 321h0M2351 323h0M2355 316h0M2351 329h0M2356 314h0M2354 319h0M2354 320h0M2357 314h0M2353 327h0M2352 332h0M2353 330h0M2359 313h0M2356 322h0M2356 324h0M2359 316h0M2359 314h0M2354 331h0M2358 320h0M2355 329h0M2359 319h0M2357 326h0M2359 319h0M2357 326h0M2359 322h0M2357 328h0M2361 316h0M2361 317h0M2362 317h0M2361 320h0M2363 313h0M2361 319h0M2360 324h0M2359 327h0M2361 322h0M2359 328h0M2362 322h0M2360 328h0M2364 317h0M2360 330h0M2362 325h0M2363 322h0M2362 326h0M2362 326h0M2364 323h0M2363 325h0M2366 317h0M2365 320h0M2364 325h0M2364 327h0M2364 328h0M2365 324h0M2365 324h0M2365 325h0M2364 329h0M2367 321h0M2367 320h0M2365 327h0M2365 328h0M2367 322h0M2388 327h0M2389 318h0M2390 325h0M2390 321h0M2391 318h0M2391 322h0M2392 315h0M2391 325h0M2391 330h0M2394 317h0M2395 316h0M2395 326h0M2398 317h0M2398 318h0M2401 326h0M2403 321h0M2404 321h0M2405 320h0M2407 319h0M2407 328h0M2408 327h0M2410 319h0M2411 324h0M2548 341h0M2548 340h0M2548 334h0M2548 339h0M2549 339h0M2549 348h0M2549 338h0M2549 336h0M2548 333h0M2549 336h0M2549 332h0M2550 337h0M2549 333h0M2550 338h0M2551 344h0M2551 346h0M2551 342h0M2552 346h0M2551 341h0M2552 341h0M2552 341h0M2552 341h0M2552 348h0M2552 340h0M2552 344h0M2552 332h0M2553 343h0M2552 335h0M2553 343h0M2553 342h0M2554 348h0M2553 331h0M2553 339h0M2553 334h0M2553 334h0M2554 346h0M2554 341h0M2555 344h0M2555 343h0M2555 346h0M2554 333h0M2555 344h0M2556 349h0M2556 347h0M2556 341h0M2556 333h0M2556 337h0M2556 332h0M2556 333h0M2556 337h0M2557 348h0M2556 333h0M2557 340h0M2557 334h0M2557 338h0M2557 340h0M2557 333h0M2557 333h0M2559 348h0M2559 348h0M2559 343h0M2558 334h0M2558 338h0M2559 349h0M2559 349h0M2559 342h0M2560 345h0M2559 340h0M2559 341h0M2559 331h0M2559 337h0M2560 349h0M2560 343h0M2560 333h0M2560 330h0M2561 331h0M2562 345h0M2561 333h0M2561 331h0M2562 334h0M2562 330h0M2562 335h0M2563 337h0M2564 349h0M2563 328h0M2564 338h0M2564 345h0M2564 342h0M2565 348h0M2564 329h0M2565 339h0M2565 333h0M2565 332h0M2566 346h0M2565 339h0M2565 330h0M2565 329h0M2565 328h0M2565 329h0M2566 342h0M2567 346h0M2567 350h0M2566 333h0M2567 349h0M2568 344h0M2568 342h0M2567 330h0M2568 337h0M2568 337h0M2569 347h0M2568 330h0M2569 339h0M2569 341h0M2568 326h0M2569 340h0M2569 344h0M2570 350h0M2570 349h0M2570 334h0M2570 343h0M2571 349h0M2570 332h0M2571 343h0M2571 347h0M2571 351h0M2571 346h0M2570 333h0M2571 335h0M2572 345h0M2572 340h0M2572 349h0M2572 346h0M2572 341h0M2572 346h0M2572 343h0M2572 331h0M2572 333h0M2571 324h0M2572 329h0M2573 345h0M2573 343h0M2574 349h0M2574 346h0M2574 336h0M2574 347h0M2573 327h0M2575 350h0M2574 329h0M2576 346h0M2576 348h0M2575 330h0M2576 349h0M2576 347h0M2575 324h0M2575 329h0M2575 325h0M2576 333h0M2575 328h0M2575 329h0M2577 348h0M2576 345h0M2576 344h0M2576 330h0M2577 347h0M2576 335h0M2576 332h0M2576 332h0M2576 324h0M2577 343h0M2577 334h0M2576 326h0M2578 346h0M2578 350h0M2578 350h0M2578 342h0M2578 335h0M2577 326h0M2577 324h0M2579 345h0M2578 332h0M2578 324h0M2579 329h0M2580 347h0M2580 341h0M2581 352h0M2580 332h0M2580 345h0M2580 329h0M2581 327h0M2581 344h0M2581 348h0M2583 326h0M2582 350h0M2583 349h0M2583 351h0M2583 347h0M2583 349h0M2584 325h0M2584 350h0M2584 348h0M2584 345h0M2585 324h0M2585 330h0M2584 349h0M2584 352h0M2584 347h0M2585 332h0M2586 324h0M2586 349h0M2586 348h0M2586 354h0M2587 323h0M2586 347h0M2587 350h0M2587 345h0M2588 328h0M2588 329h0M2588 331h0M2588 349h0M2588 352h0M2588 350h0M2590 330h0M2590 322h0M2589 352h0M2590 329h0M2590 346h0M2589 349h0M2590 357h0M2591 348h0M2592 326h0M2592 329h0M2592 324h0M2592 349h0M2592 351h0M2593 326h0M2593 350h0M2594 329h0M2594 350h0M2595 327h0M2595 332h0M2596 324h0M2595 350h0M2595 352h0M2596 348h0M2596 330h0M2596 346h0M2597 345h0M2597 330h0M2598 324h0M2597 351h0M2598 346h0M2598 327h0M2598 350h0M2598 351h0M2599 330h0M2599 332h0M2600 344h0M2599 355h0M2600 347h0M2601 352h0M2601 353h0M2602 329h0M2602 347h0M2602 358h0M2603 345h0M2604 326h0M2604 332h0M2604 332h0M2603 349h0M2604 330h0M2604 325h0M2605 325h0M2605 333h0M2606 324h0M2606 330h0M2605 345h0M2605 348h0M2606 329h0M2606 328h0M2606 346h0M2606 348h0M2606 345h0M2606 347h0M2607 343h0M2607 346h0M2607 327h0M2608 333h0M2608 329h0M2607 351h0M2608 346h0M2608 349h0M2608 344h0M2608 346h0M2609 330h0M2609 346h0M2609 332h0M2609 344h0M2609 346h0M2610 328h0M2609 356h0M2611 333h0M2609 344h0M2608 347h0M2608 351h0M2609 345h0M2607 354h0M2613 331h0M2610 343h0M2611 343h0M2610 348h0M2614 332h0M2614 331h0M2609 354h0M2616 326h0M2616 325h0M2611 348h0M2612 347h0M2613 343h0M2616 330h0M2613 346h0M2613 344h0M2612 349h0M2613 345h0M2613 348h0M2612 352h0M2612 350h0M2613 348h0M2613 348h0M2614 345h0M2615 344h0M2613 351h0M2617 334h0M2619 326h0M2618 333h0M2617 337h0M2618 333h0M2618 335h0M2616 344h0M2618 336h0M2619 333h0M2617 342h0M2619 332h0M2615 348h0M2619 332h0M2618 340h0M2620 333h0M2615 354h0M2616 348h0M2621 328h0M2619 339h0M2622 329h0M2619 338h0M2617 351h0M2621 333h0M2620 342h0M2620 341h0M2619 345h0M2619 348h0M2622 337h0M2620 346h0M2619 349h0M2624 329h0M2619 352h0M2619 351h0M2619 350h0M2621 346h0M2624 332h0M2623 337h0M2620 350h0M2621 344h0M2625 331h0M2623 339h0M2622 346h0M2626 330h0M2620 355h0M2626 332h0M2622 350h0M2623 347h0M2625 341h0M2626 337h0M2624 346h0M2623 354h0M2626 340h0M2627 337h0M2623 353h0M2628 332h0M2623 355h0M2627 340h0M2626 344h0M2628 337h0M2627 343h0M2627 342h0M2627 344h0M2626 346h0M2626 346h0M2627 345h0M2626 352h0M2628 343h0M2628 342h0M2631 331h0M2630 337h0M2630 336h0M2629 343h0M2630 343h0M2631 338h0M2633 331h0M2630 344h0M2633 332h0M2633 333h0M2630 346h0M2628 355h0M2631 343h0M2632 337h0M2630 347h0M2633 334h0M2629 351h0M2631 343h0M2630 350h0M2634 335h0M2630 352h0M2631 352h0M2632 345h0M2630 356h0M2634 336h0M2633 343h0M2633 344h0M2633 342h0M2635 337h0M2635 336h0M2635 337h0M2633 346h0M2635 339h0M2633 350h0M2635 342h0M2634 346h0M2632 352h0M2636 340h0M2634 348h0M2633 353h0M2635 344h0M2637 336h0M2635 348h0M2635 347h0M2637 341h0M2669 343h0M2672 344h0M2673 347h0M2673 353h0M2674 348h0M2676 347h0M2677 353h0M2677 350h0M2677 352h0M2683 353h0M2684 351h0M2686 351h0M2686 349h0M2687 347h0M2688 347h0M2691 351h0M2693 350h0M2695 347h0M2696 349h0M2697 345h0M2696 354h0M2697 349h0M2697 348h0M1712 893h0M1724 885h0M1730 883h0M1741 876h0M1747 873h0M1755 888h0M1749 872h0M1764 885h0M1771 882h0M1769 859h0M1782 873h0M1778 853h0M1806 862h0M1808 863h0M1808 861h0M1812 860h0M1816 856h0M1821 858h0M1828 852h0M1833 850h0M1835 849h0M1839 847h0M1840 845h0M1842 824h0M1851 841h0M1844 819h0M1855 835h0M1855 817h0M1869 829h0M1871 829h0M1865 812h0M1873 826h0M1873 808h0M1874 808h0M1881 821h0M1881 822h0M1888 803h0M1909 806h0M1913 796h0M1914 794h0M1919 803h0M1920 802h0M1923 800h0M1921 794h0M1925 800h0M1937 786h0M1941 795h0M1942 793h0M2227 672h0M2225 666h0M2224 663h0M2228 671h0M2228 672h0M2226 666h0M2229 673h0M2226 665h0M2226 663h0M2226 664h0M2230 671h0M2227 663h0M2228 664h0M2233 672h0M2230 664h0M2230 664h0M2233 670h0M2232 662h0M2236 672h0M2235 670h0M2232 661h0M2234 661h0M2239 670h0M2239 669h0M2242 671h0M2238 659h0M2239 660h0M2238 657h0M2239 657h0M2241 656h0M2242 656h0M2246 667h0M2242 656h0M2246 655h0M2254 663h0M2249 651h0M2253 653h0M2259 649h0M2265 646h0M2272 656h0M2272 657h0M2266 644h0M2273 655h0M2274 656h0M2270 642h0M2277 657h0M2272 642h0M2272 641h0M2275 640h0M2277 639h0M2285 653h0M2279 638h0M2286 651h0M2289 651h0M2287 633h0M2295 649h0M2299 647h0M2296 632h0M2296 631h0M2298 631h0M2301 630h0M2310 623h0M2317 639h0M2314 626h0M2313 623h0M2325 635h0M2323 620h0M2329 634h0M2326 621h0M2331 633h0M2331 632h0M2328 619h0M2329 618h0M2337 630h0M2333 617h0M2333 617h0M2333 616h0M2337 616h0M2337 615h0M2343 628h0M2342 626h0M2347 627h0M2342 613h0M2342 612h0M2351 624h0M2351 624h0M2354 624h0M2358 623h0M2352 610h0M2353 611h0M2357 621h0M2357 620h0M2353 608h0M2354 610h0M2355 608h0M2360 608h0M2360 608h0M2365 617h0M2362 606h0M2363 607h0M2367 614h0M2364 604h0M2364 605h0M2365 606h0M2369 616h0M2370 617h0M2389 592h0M2390 593h0M2393 591h0M2397 596h0M2399 588h0M2403 596h0M2402 587h0M2406 596h0M2408 595h0M2665 462h0M2667 462h0M2672 466h0M2672 460h0M2675 457h0M2681 455h0M2686 452h0M2696 456h0M2699 455h0"/>
<path stroke="#000089" stroke-width="8.8" d="M1959 201h0M1960 200h0M1961 201h0M1961 202h0M1958 215h0M1962 202h0M1963 199h0M1959 216h0M1960 217h0M1965 220h0M1966 219h0M1970 201h0M1966 219h0M1967 220h0M1972 199h0M1968 219h0M1972 202h0M1972 203h0M1972 222h0M1977 199h0M1973 223h0M1978 203h0M1979 201h0M1979 203h0M1980 203h0M1981 198h0M1982 198h0M1978 223h0M1982 203h0M1983 204h0M1984 202h0M1979 221h0M1986 204h0M1981 221h0M1983 227h0M1989 205h0M1990 205h0M1985 227h0M1994 203h0M1994 203h0M1994 208h0M1989 226h0M1988 230h0M1996 209h0M1992 228h0M1992 227h0M1999 206h0M1992 230h0M1994 225h0M1999 212h0M1995 228h0M2001 207h0M1995 231h0M1996 231h0M2003 209h0M1998 227h0M2005 208h0M2006 204h0M2004 209h0M2004 211h0M2007 205h0M2006 210h0M2139 270h0M2156 273h0M2162 266h0"/>
<path stroke="#00009b" stroke-width="7.6" d="M1712 924h0M1724 930h0M1722 920h0M1728 917h0M1736 914h0M1737 912h0M1741 922h0M1745 920h0M1750 907h0M1756 916h0M1754 905h0M1761 901h0M1767 899h0M1778 905h0M1775 895h0M1786 901h0M1792 887h0M1792 886h0M1798 884h0M1808 893h0M1809 879h0M1815 875h0M1817 876h0M1824 884h0M1822 875h0M1828 882h0M1835 879h0M1833 867h0M1833 867h0M1836 867h0M1839 865h0M1839 864h0M1848 862h0M1861 867h0M1889 850h0M1891 846h0M1892 844h0M1892 844h0M1892 843h0M1896 848h0M1901 845h0M1903 837h0M1906 842h0M1909 840h0M1908 837h0M1910 840h0M1911 842h0M1910 840h0M1908 834h0M1923 834h0M1926 834h0M1924 829h0M1927 834h0M1927 835h0M1925 829h0M1929 833h0M1930 834h0M1931 826h0M1933 831h0M1934 826h0M1935 830h0M1934 826h0M1936 825h0M1937 825h0M1937 824h0M1939 827h0M1939 825h0M1942 828h0M1941 822h0M1943 822h0M2198 717h0M2198 715h0M2198 717h0M2198 716h0M2198 715h0M2197 713h0M2225 703h0M2229 701h0M2237 698h0M2237 697h0M2241 704h0M2241 696h0M2244 695h0M2252 699h0M2251 691h0M2255 698h0M2255 689h0M2267 692h0M2265 684h0M2268 683h0M2274 680h0M2301 668h0M2309 674h0M2313 672h0M2320 668h0M2321 659h0M2330 665h0M2343 647h0M2350 656h0M2359 652h0M2358 642h0M2363 649h0M2361 641h0M2370 647h0M2370 646h0M2389 631h0M2393 634h0M2393 628h0M2392 628h0M2397 634h0M2396 627h0M2397 627h0M2400 632h0M2400 631h0M2398 626h0M2399 625h0M2402 631h0M2400 626h0M2401 626h0M2402 626h0M2406 628h0M2407 629h0M2405 621h0M2407 624h0M2411 626h0M2491 584h0M2494 590h0M2496 589h0M2497 589h0M2495 584h0M2497 583h0M2498 584h0M2499 583h0M2502 586h0M2504 581h0M2504 581h0M2507 584h0M2511 583h0M2511 582h0M2512 582h0M2512 581h0M2513 580h0M2515 579h0M2514 576h0M1720 1056h0M1722 1062h0M1722 1062h0M1723 1063h0M1725 1056h0M1730 1062h0M1731 1055h0M1733 1056h0M1735 1063h0M1739 1062h0M1741 1056h0M1744 1056h0M1746 1063h0M1749 1055h0M1749 1063h0M1755 1055h0M1758 1063h0M1759 1063h0M1761 1056h0M1768 1055h0M1772 1055h0M1775 1055h0M1777 1064h0M1782 1055h0M1783 1054h0M1786 1056h0M1795 1062h0M1796 1054h0M1810 1056h0M1819 1063h0M1828 1056h0M1829 1055h0M1832 1055h0M1838 1056h0M1841 1056h0M1845 1062h0M1848 1056h0M1854 1063h0M1855 1062h0M1856 1054h0M1857 1062h0M1859 1054h0M1865 1055h0M1868 1063h0M1869 1063h0M1873 1056h0M1875 1055h0M1876 1057h0M1876 1056h0M1878 1062h0M1893 1063h0M1895 1058h0M1901 1058h0M1939 1057h0M1946 1057h0M1946 1057h0M1956 1065h0M2116 1063h0M2117 1063h0M2118 1063h0M2120 1063h0M2127 1063h0M2128 1056h0M2130 1063h0M2132 1062h0M2133 1057h0M2134 1056h0M2143 1056h0M2149 1056h0M2152 1062h0M2156 1055h0M2159 1056h0M2160 1062h0M2160 1056h0M2164 1062h0M2166 1062h0M2166 1062h0M2197 1058h0M2198 1059h0M2198 1058h0M2199 1057h0M2201 1060h0M2201 1060h0M2203 1060h0M2203 1057h0M2206 1059h0M2206 1058h0M2207 1060h0M2207 1058h0M2207 1058h0M2207 1059h0M2227 1058h0M2227 1059h0M2227 1060h0M2229 1057h0M2229 1057h0M2234 1060h0M2235 1060h0M2235 1057h0M2236 1059h0M2237 1060h0M2238 1057h0M2238 1061h0M2238 1059h0M2240 1061h0M2240 1056h0M2242 1059h0M2242 1058h0M2242 1056h0M2242 1060h0M2243 1056h0M2244 1056h0M2245 1057h0M2246 1056h0M2247 1060h0M2249 1056h0M2250 1056h0M2250 1060h0M2251 1061h0M2252 1056h0M2254 1056h0M2255 1056h0M2257 1060h0M2257 1056h0M2258 1056h0M2259 1055h0M2259 1056h0M2259 1055h0M2260 1060h0M2262 1061h0M2262 1055h0M2270 1060h0M2272 1060h0M2273 1061h0M2276 1061h0M2278 1060h0M2288 1060h0M2292 1055h0M2299 1060h0M2304 1055h0M2304 1055h0M2306 1054h0M2311 1054h0M2316 1060h0M2318 1060h0M2330 1054h0M2331 1059h0M2331 1060h0M2333 1059h0M2334 1054h0M2338 1059h0M2339 1058h0M2341 1059h0M2341 1055h0M2341 1059h0M2345 1059h0M2345 1055h0M2348 1059h0M2348 1059h0M2350 1054h0M2351 1059h0M2354 1057h0M2354 1054h0M2355 1058h0M2355 1058h0M2355 1054h0M2356 1056h0M2356 1058h0M2356 1056h0M2357 1055h0M2357 1057h0M2358 1057h0M2358 1058h0M2361 1058h0M2361 1056h0M2362 1054h0M2363 1054h0M2366 1056h0M2366 1056h0M2367 1058h0M2367 1057h0M2367 1057h0M2368 1057h0M2390 1056h0M2391 1055h0M2391 1055h0M2392 1055h0M2393 1054h0M2393 1055h0M2394 1055h0M2395 1055h0M2395 1055h0M2396 1054h0M2396 1057h0M2397 1055h0M2397 1055h0M2401 1055h0M2403 1055h0M2403 1055h0M2404 1055h0M2405 1056h0M2406 1054h0M2407 1057h0M2408 1057h0M2409 1055h0M2410 1056h0M2410 1056h0M2496 1047h0M2498 1047h0M2499 1052h0M2507 1051h0M2513 1045h0M2516 1051h0M2516 1045h0M2525 1050h0M2525 1044h0M2528 1044h0M2546 1041h0M2547 1041h0M2551 1039h0M2563 1039h0M2578 1047h0M2594 1036h0M2610 1046h0M2611 1045h0M2623 1044h0M2624 1044h0M2626 1032h0M2632 1042h0M2632 1044h0M2641 1031h0M2648 1030h0M2653 1031h0M2663 1029h0M2663 1031h0M2664 1039h0M2674 1037h0M2677 1038h0M2680 1029h0M2686 1028h0M2691 1028h0M2703 1027h0M2704 1035h0M2704 1034h0M2706 1027h0M2714 1026h0M2715 1032h0M2717 1025h0M1711 1084h0M1713 1084h0M1716 1085h0M1724 1085h0M1727 1085h0M1731 1085h0M1737 1080h0M1737 1080h0M1739 1085h0M1743 1080h0M1743 1085h0M1748 1084h0M1756 1085h0M1757 1080h0M1780 1085h0M1783 1085h0M1793 1085h0M1801 1080h0M1804 1085h0M1810 1084h0M1812 1085h0M1817 1084h0M1817 1084h0M1821 1080h0M1822 1085h0M1824 1085h0M1825 1080h0M1830 1080h0M1848 1080h0M1877 1085h0M1886 1085h0M1893 1080h0M1897 1084h0M1916 1080h0M1917 1085h0M1922 1085h0M1930 1085h0M1935 1080h0M1940 1080h0M2140 1080h0M2143 1080h0M2146 1080h0M2152 1085h0M2158 1080h0M2162 1081h0M2162 1081h0M2197 1081h0M2198 1082h0M2200 1080h0M2201 1082h0M2201 1081h0M2202 1080h0M2202 1080h0M2202 1081h0M2203 1082h0M2204 1080h0M2205 1082h0M2206 1082h0M2206 1082h0M2207 1081h0M2227 1082h0M2227 1082h0M2227 1082h0M2227 1082h0M2229 1081h0M2231 1082h0M2231 1081h0M2232 1081h0M2233 1081h0M2235 1080h0M2236 1080h0M2236 1079h0M2236 1080h0M2238 1080h0M2241 1082h0M2241 1079h0M2241 1079h0M2241 1081h0M2241 1079h0M2241 1079h0M2244 1079h0M2251 1082h0M2252 1079h0M2254 1082h0M2257 1083h0M2257 1082h0M2267 1083h0M2268 1078h0M2269 1079h0M2272 1078h0M2274 1078h0M2275 1082h0M2277 1082h0M2278 1082h0M2280 1083h0M2281 1082h0M2287 1078h0M2288 1077h0M2290 1082h0M2291 1082h0M2295 1077h0M2295 1082h0M2296 1082h0M2297 1078h0M2297 1082h0M2304 1077h0M2309 1077h0M2311 1077h0M2319 1077h0M2325 1077h0M2328 1076h0M2329 1081h0M2330 1081h0M2331 1077h0M2333 1077h0M2335 1077h0M2336 1081h0M2338 1080h0M2340 1081h0M2341 1081h0M2342 1081h0M2343 1077h0M2344 1080h0M2346 1078h0M2347 1080h0M2348 1077h0M2348 1077h0M2348 1078h0M2348 1080h0M2351 1078h0M2351 1078h0M2352 1077h0M2352 1081h0M2354 1080h0M2354 1077h0M2356 1077h0M2356 1079h0M2356 1080h0M2356 1077h0M2357 1079h0M2359 1079h0M2359 1079h0M2359 1078h0M2360 1079h0M2360 1077h0M2362 1078h0M2362 1077h0M2363 1078h0M2364 1077h0M2364 1079h0M2365 1079h0M2368 1078h0M2390 1078h0M2391 1078h0M2391 1076h0M2392 1078h0M2392 1077h0M2399 1076h0M2400 1077h0M2400 1076h0M2401 1077h0M2402 1079h0M2402 1078h0M2403 1077h0M2404 1078h0M2404 1077h0M2406 1076h0M2406 1078h0M2408 1077h0M2408 1077h0M2410 1077h0M2410 1077h0M2411 1077h0M2411 1078h0M2411 1077h0M2411 1076h0M2493 1074h0M2494 1070h0M2495 1071h0M2503 1069h0M2504 1070h0M2507 1069h0M2510 1069h0M2514 1069h0M2515 1073h0M2515 1068h0M2521 1068h0M2522 1068h0M2530 1067h0M2537 1072h0M2557 1065h0M2568 1070h0M2572 1070h0M2584 1061h0M2585 1063h0M2592 1062h0M2603 1066h0M2605 1066h0M2614 1066h0M2622 1065h0M2626 1058h0M2628 1065h0M2633 1064h0M2635 1064h0M2641 1057h0M2644 1063h0M2653 1061h0M2658 1055h0M2666 1054h0M2668 1054h0M2671 1053h0M2680 1053h0M2688 1058h0M2702 1051h0M2703 1052h0M2709 1055h0M2711 1050h0M2713 1051h0M2715 1050h0"/>
<path stroke="#00009b" stroke-width="8.0" d="M2201 280h0M2265 297h0M2267 295h0M2267 298h0M2268 298h0M2268 297h0M2268 300h0M2272 298h0M2272 300h0M2272 300h0M2273 302h0M2277 302h0M2280 302h0M2281 302h0M2281 304h0M2282 305h0M2284 301h0M2284 302h0M2285 300h0M2283 305h0M2285 298h0M2285 300h0M2284 306h0M2287 300h0M2287 303h0M2287 306h0M2287 305h0M2289 300h0M2288 302h0M2289 302h0M2288 308h0M2290 300h0M2290 304h0M2291 308h0M2294 299h0M2292 307h0M2292 306h0M2294 306h0M2294 307h0M2295 307h0M2296 302h0M2297 301h0M2297 304h0M2297 304h0M2297 305h0M2296 307h0M2298 304h0M2298 308h0M2301 311h0M2301 311h0M2304 306h0M2305 304h0M2304 306h0M2303 310h0M2305 308h0M2306 306h0M2306 310h0M2308 304h0M2310 308h0M2309 314h0M2311 314h0M2312 311h0M2311 315h0M2314 305h0M2314 305h0M2314 308h0M2317 306h0M2317 307h0M2317 311h0M2318 310h0M2320 307h0M2319 311h0M2319 313h0M2320 312h0M2320 313h0M2321 310h0M2320 312h0M2325 312h0M2327 310h0M2327 314h0M2328 313h0M2329 312h0M2328 313h0M2329 311h0M2330 313h0M2330 314h0M2398 325h0M2398 322h0M2399 323h0M2400 322h0M2400 322h0M2402 323h0M2407 323h0M2570 338h0M2573 340h0M2573 338h0M2574 338h0M2574 339h0M2574 335h0M2578 338h0M2579 342h0M2579 336h0M2579 333h0M2580 338h0M2580 336h0M2581 338h0M2582 338h0M2583 339h0M2584 334h0M2584 336h0M2586 337h0M2586 342h0M2586 338h0M2587 337h0M2587 338h0M2588 342h0M2588 342h0M2589 340h0M2589 336h0M2589 340h0M2590 343h0M2590 345h0M2591 337h0M2591 336h0M2591 343h0M2592 334h0M2592 339h0M2593 331h0M2593 336h0M2594 343h0M2594 342h0M2595 335h0M2595 344h0M2595 337h0M2596 333h0M2596 343h0M2596 344h0M2596 343h0M2597 343h0M2597 339h0M2598 335h0M2598 337h0M2599 340h0M2600 331h0M2600 335h0M2600 337h0M2600 336h0M2601 341h0M2601 342h0M2602 335h0M2602 332h0M2602 342h0M2603 337h0M2602 343h0M2603 344h0M2604 336h0M2604 341h0M2605 337h0M2605 338h0M2607 342h0M2608 337h0M2608 339h0M2609 341h0M2609 342h0M2609 341h0M2610 340h0M2612 340h0M2612 338h0M2613 339h0M2683 349h0M1717 903h0M1715 892h0M1720 899h0M1716 891h0M1723 900h0M1723 900h0M1718 889h0M1719 891h0M1726 899h0M1721 888h0M1727 897h0M1722 887h0M1731 897h0M1736 894h0M1734 879h0M1737 879h0M1737 877h0M1744 891h0M1738 878h0M1747 890h0M1749 890h0M1753 887h0M1756 887h0M1751 870h0M1750 868h0M1761 885h0M1752 866h0M1753 866h0M1765 882h0M1765 880h0M1764 861h0M1765 863h0M1776 878h0M1769 859h0M1780 875h0M1781 875h0M1784 873h0M1784 873h0M1782 853h0M1792 871h0M1784 852h0M1786 853h0M1786 852h0M1792 848h0M1796 845h0M1807 863h0M1799 844h0M1804 839h0M1806 842h0M1810 839h0M1810 838h0M1822 857h0M1821 855h0M1811 835h0M1813 833h0M1827 852h0M1821 836h0M1832 850h0M1838 825h0M1847 842h0M1848 841h0M1849 841h0M1843 824h0M1852 838h0M1854 836h0M1848 822h0M1856 836h0M1856 835h0M1856 834h0M1852 819h0M1854 817h0M1863 832h0M1856 817h0M1856 817h0M1865 832h0M1865 831h0M1859 815h0M1866 827h0M1865 815h0M1865 813h0M1873 826h0M1874 823h0M1870 814h0M1878 825h0M1871 810h0M1872 810h0M1874 812h0M1880 821h0M1875 809h0M1882 821h0M1888 807h0M1891 811h0M1891 807h0M1892 808h0M1894 810h0M1893 805h0M1893 803h0M1896 807h0M1895 805h0M1899 810h0M1897 805h0M1900 806h0M1901 806h0M1905 805h0M1906 799h0M1906 799h0M1910 802h0M1911 802h0M1912 804h0M1912 802h0M1913 799h0M1915 800h0M1914 796h0M1918 799h0M1917 797h0M1919 800h0M1919 799h0M1918 797h0M1920 795h0M1921 797h0M1922 797h0M1934 792h0M1934 791h0M1938 793h0M1937 788h0M1939 790h0M1939 789h0M1940 790h0M1941 787h0M1944 790h0M1943 787h0M1945 787h0M1946 791h0M1945 786h0M1946 788h0M1947 785h0M1950 789h0M1950 788h0M2148 696h0M2152 708h0M2149 696h0M2153 694h0M2154 692h0M2155 693h0M2157 691h0M2162 704h0M2163 702h0M2160 693h0M2160 692h0M2165 702h0M2166 702h0M2167 702h0M2202 677h0M2202 680h0M2202 677h0M2202 680h0M2202 677h0M2202 678h0M2226 669h0M2227 669h0M2228 669h0M2227 667h0M2228 667h0M2227 665h0M2230 666h0M2230 667h0M2231 668h0M2233 670h0M2232 667h0M2232 666h0M2232 665h0M2234 668h0M2234 665h0M2233 665h0M2237 668h0M2236 665h0M2237 667h0M2238 666h0M2239 667h0M2238 663h0M2238 665h0M2238 661h0M2240 665h0M2240 665h0M2239 661h0M2242 666h0M2242 665h0M2241 661h0M2241 659h0M2244 664h0M2242 660h0M2243 660h0M2246 664h0M2244 658h0M2248 665h0M2246 656h0M2246 656h0M2248 656h0M2249 656h0M2252 663h0M2252 663h0M2251 655h0M2254 662h0M2252 655h0M2253 653h0M2256 660h0M2263 660h0M2259 649h0M2261 649h0M2266 658h0M2270 656h0M2271 645h0M2272 643h0M2275 643h0M2277 642h0M2285 650h0M2282 640h0M2286 649h0M2282 639h0M2286 648h0M2288 649h0M2285 639h0M2292 648h0M2288 636h0M2301 644h0M2301 643h0M2303 645h0M2306 646h0M2309 641h0M2304 629h0M2309 641h0M2305 629h0M2307 630h0M2307 629h0M2308 627h0M2315 639h0M2317 638h0M2314 625h0M2314 624h0M2320 635h0M2322 635h0M2321 624h0M2325 634h0M2321 621h0M2327 633h0M2329 631h0M2326 622h0M2327 621h0M2328 621h0M2334 629h0M2330 619h0M2334 628h0M2338 628h0M2334 618h0M2341 626h0M2339 618h0M2342 625h0M2339 617h0M2341 618h0M2343 623h0M2340 616h0M2342 616h0M2348 623h0M2350 622h0M2348 614h0M2351 621h0M2350 614h0M2350 614h0M2353 621h0M2354 619h0M2355 618h0M2354 614h0M2354 614h0M2354 613h0M2353 611h0M2358 618h0M2358 617h0M2359 614h0M2358 612h0M2360 615h0M2360 614h0M2360 614h0M2361 615h0M2361 612h0M2362 614h0M2363 615h0M2362 611h0M2362 611h0M2364 613h0M2363 608h0M2364 611h0M2365 611h0M2364 609h0M2368 613h0M2368 613h0M2367 610h0M2368 611h0M2388 594h0M2388 596h0M2389 595h0M2390 598h0M2390 598h0M2390 593h0M2390 593h0M2396 591h0M2401 594h0M2404 594h0M2404 589h0M2408 590h0M2408 589h0M2410 592h0M2409 588h0M2545 522h0M2551 532h0M2554 532h0M2555 532h0M2558 530h0M2552 518h0M2553 516h0M2556 515h0M2565 527h0M2557 512h0M2558 512h0M2569 527h0M2570 527h0M2564 511h0M2572 525h0M2574 526h0M2563 507h0M2574 504h0M2594 490h0M2593 486h0M2597 485h0M2610 505h0M2612 506h0M2605 481h0M2617 500h0M2621 502h0M2612 477h0M2614 477h0M2627 498h0M2613 475h0M2629 495h0M2628 493h0M2629 491h0M2621 474h0M2632 491h0M2622 473h0M2634 489h0M2626 473h0M2637 489h0M2636 487h0M2630 471h0M2632 471h0M2639 484h0M2634 469h0M2635 469h0M2637 467h0M2645 479h0M2639 466h0M2669 462h0M2670 460h0M2673 464h0M2672 461h0M2673 464h0M2673 460h0M2673 460h0M2675 463h0M2680 459h0M2679 457h0M2682 461h0M2685 459h0M2683 455h0M2686 456h0M2689 455h0M2689 455h0M2688 453h0M2690 452h0M2693 454h0M2694 454h0M2695 450h0"/>
<path stroke="#00009b" stroke-width="8.8" d="M1960 201h0M1958 212h0M1958 212h0M1961 201h0M1961 204h0M1960 207h0M1961 204h0M1962 203h0M1962 203h0M1960 214h0M1960 215h0M1963 207h0M1961 212h0M1963 206h0M1961 217h0M1964 203h0M1964 205h0M1966 205h0M1964 215h0M1967 203h0M1966 206h0M1967 205h0M1968 204h0M1966 217h0M1969 205h0M1968 208h0M1967 215h0M1969 207h0M1970 207h0M1968 217h0M1969 215h0M1972 204h0M1969 217h0M1972 207h0M1972 207h0M1973 206h0M1972 209h0M1971 216h0M1971 221h0M1975 208h0M1976 205h0M1976 205h0M1977 205h0M1976 208h0M1975 220h0M1977 209h0M1975 219h0M1979 207h0M1977 220h0M1977 218h0M1983 205h0M1980 217h0M1979 221h0M1979 220h0M1984 210h0M1980 225h0M1986 205h0M1986 206h0M1982 220h0M1982 222h0M1989 206h0M1985 221h0M1986 222h0M1987 220h0M1991 211h0M1988 221h0M1991 211h0M1991 211h0M1989 222h0M1989 223h0M1992 220h0M1992 221h0M1993 223h0M1994 222h0M1997 213h0M1994 225h0M1997 214h0M1997 215h0M1999 210h0M1998 212h0M1996 223h0M1999 215h0M1999 215h0M1997 222h0M2000 215h0M2001 215h0M2002 214h0M2000 222h0M1999 228h0M2003 214h0M2005 211h0M2003 216h0M2004 213h0M2003 224h0M2107 241h0M2108 241h0M2111 247h0M2110 248h0M2111 247h0M2121 248h0M2119 266h0M2122 267h0M2126 252h0M2129 252h0M2130 270h0M2135 255h0M2135 256h0M2134 270h0M2135 272h0M2136 270h0M2137 272h0M2138 271h0M2141 271h0M2141 271h0M2146 260h0M2145 271h0M2148 271h0M2150 273h0M2153 262h0M2152 273h0M2156 263h0M2154 274h0M2155 273h0M2158 264h0M2157 272h0M2158 272h0M2160 265h0M2158 273h0M2160 273h0M2162 266h0"/>
<path stroke="#0000ad" stroke-width="7.6" d="M1715 925h0M1718 931h0M1721 929h0M1722 928h0M1728 927h0M1725 920h0M1729 927h0M1730 926h0M1732 924h0M1733 916h0M1737 923h0M1740 923h0M1739 913h0M1749 917h0M1748 908h0M1752 916h0M1753 917h0M1751 906h0M1755 906h0M1765 910h0M1766 910h0M1762 901h0M1776 906h0M1772 897h0M1778 905h0M1776 896h0M1777 895h0M1789 890h0M1804 881h0M1808 879h0M1812 879h0M1816 887h0M1816 886h0M1817 888h0M1816 876h0M1821 885h0M1840 864h0M1843 864h0M1849 873h0M1849 873h0M1848 861h0M1854 870h0M1859 866h0M1855 858h0M1857 857h0M1861 856h0M1866 863h0M1867 864h0M1867 854h0M1871 860h0M1873 861h0M1870 852h0M1874 860h0M1875 860h0M1875 859h0M1876 858h0M1876 858h0M1874 851h0M1893 846h0M1901 842h0M1901 841h0M1902 842h0M1904 840h0M1904 840h0M1906 840h0M1906 840h0M1907 839h0M1934 830h0M1933 827h0M1935 827h0M2137 739h0M2145 745h0M2146 745h0M2142 735h0M2146 733h0M2154 742h0M2150 733h0M2151 732h0M2153 732h0M2156 730h0M2157 731h0M2165 738h0M2166 737h0M2227 708h0M2226 705h0M2228 704h0M2230 702h0M2235 704h0M2236 704h0M2234 701h0M2245 702h0M2247 701h0M2248 700h0M2246 694h0M2247 693h0M2249 692h0M2252 697h0M2253 698h0M2252 692h0M2255 690h0M2255 690h0M2260 694h0M2266 685h0M2276 680h0M2279 679h0M2281 679h0M2281 677h0M2282 677h0M2287 676h0M2289 674h0M2293 679h0M2298 678h0M2296 671h0M2299 677h0M2301 678h0M2301 676h0M2303 676h0M2300 668h0M2300 668h0M2304 676h0M2303 667h0M2304 666h0M2309 674h0M2310 673h0M2308 665h0M2314 672h0M2314 670h0M2318 661h0M2317 660h0M2328 664h0M2333 662h0M2330 654h0M2335 661h0M2341 659h0M2341 658h0M2339 651h0M2343 657h0M2348 654h0M2346 649h0M2351 654h0M2351 646h0M2353 646h0M2356 650h0M2359 649h0M2358 644h0M2359 642h0M2362 648h0M2360 643h0M2363 648h0M2361 642h0M2367 641h0M2369 644h0M2398 629h0M2398 629h0M2405 626h0M2406 625h0M2500 585h0M2505 582h0M2505 583h0M2507 581h0M2507 581h0M2524 570h0M2529 568h0M2579 558h0M2582 557h0M2582 540h0M2589 553h0M2595 531h0M2608 542h0M2602 530h0M2623 533h0M2629 530h0M2632 527h0M2632 526h0M2628 514h0M2641 523h0M2663 510h0M2666 507h0M2680 498h0M2676 490h0M2686 486h0M2700 478h0M2708 484h0M2708 483h0M2710 482h0M2707 474h0M2718 477h0M2720 476h0M1719 1057h0M1721 1062h0M1722 1056h0M1723 1062h0M1724 1062h0M1724 1063h0M1724 1056h0M1727 1061h0M1728 1061h0M1729 1062h0M1736 1056h0M1738 1062h0M1740 1056h0M1742 1056h0M1743 1062h0M1745 1055h0M1746 1062h0M1751 1062h0M1754 1056h0M1756 1062h0M1760 1055h0M1762 1055h0M1766 1062h0M1766 1056h0M1767 1055h0M1769 1063h0M1772 1056h0M1772 1056h0M1776 1062h0M1787 1063h0M1789 1062h0M1794 1056h0M1795 1062h0M1804 1062h0M1804 1056h0M1810 1055h0M1814 1062h0M1815 1062h0M1817 1063h0M1829 1063h0M1833 1056h0M1835 1062h0M1835 1055h0M1837 1055h0M1841 1055h0M1844 1056h0M1847 1062h0M1848 1062h0M1849 1062h0M1850 1062h0M1853 1062h0M1859 1056h0M1863 1056h0M1865 1062h0M1867 1062h0M1869 1056h0M1870 1061h0M1870 1056h0M1871 1062h0M1873 1056h0M1876 1056h0M1894 1059h0M1894 1064h0M1894 1058h0M1894 1059h0M1899 1063h0M1902 1063h0M1904 1064h0M1905 1058h0M1907 1058h0M1909 1059h0M1915 1063h0M1923 1063h0M1939 1063h0M1945 1064h0M1949 1063h0M1952 1057h0M1956 1057h0M1957 1057h0M2112 1056h0M2113 1057h0M2118 1062h0M2126 1057h0M2131 1062h0M2135 1062h0M2142 1062h0M2148 1056h0M2148 1056h0M2153 1055h0M2154 1061h0M2157 1057h0M2157 1056h0M2162 1056h0M2163 1057h0M2164 1061h0M2164 1057h0M2248 1058h0M2248 1058h0M2248 1058h0M2250 1059h0M2250 1057h0M2251 1059h0M2253 1057h0M2254 1059h0M2254 1059h0M2256 1060h0M2256 1057h0M2257 1058h0M2258 1060h0M2258 1058h0M2258 1057h0M2259 1059h0M2259 1059h0M2260 1059h0M2262 1059h0M2263 1057h0M2263 1056h0M2265 1059h0M2266 1056h0M2266 1057h0M2267 1059h0M2268 1056h0M2268 1059h0M2269 1056h0M2273 1059h0M2275 1056h0M2277 1059h0M2278 1060h0M2278 1060h0M2279 1059h0M2280 1059h0M2281 1060h0M2281 1060h0M2284 1059h0M2285 1055h0M2287 1056h0M2289 1059h0M2291 1060h0M2295 1059h0M2296 1059h0M2297 1060h0M2297 1059h0M2301 1060h0M2303 1059h0M2307 1056h0M2309 1060h0M2313 1059h0M2315 1058h0M2319 1055h0M2321 1059h0M2321 1059h0M2321 1059h0M2325 1056h0M2325 1059h0M2326 1055h0M2326 1055h0M2326 1059h0M2327 1056h0M2328 1059h0M2329 1056h0M2329 1058h0M2330 1059h0M2330 1056h0M2331 1056h0M2332 1058h0M2335 1056h0M2335 1058h0M2336 1056h0M2336 1058h0M2337 1055h0M2337 1058h0M2338 1057h0M2339 1056h0M2341 1056h0M2341 1057h0M2342 1057h0M2343 1058h0M2343 1058h0M2344 1057h0M2344 1056h0M2345 1057h0M2345 1056h0M2345 1056h0M2345 1058h0M2348 1056h0M2349 1056h0M2352 1057h0M2353 1056h0M2354 1057h0M2493 1051h0M2497 1048h0M2497 1051h0M2500 1051h0M2505 1051h0M2506 1051h0M2509 1046h0M2510 1050h0M2515 1045h0M2517 1045h0M2523 1044h0M2527 1050h0M2530 1050h0M2537 1042h0M2539 1049h0M2542 1049h0M2545 1041h0M2545 1041h0M2550 1049h0M2558 1047h0M2571 1047h0M2571 1038h0M2574 1038h0M2574 1039h0M2578 1047h0M2585 1038h0M2595 1045h0M2605 1044h0M2604 1034h0M2614 1033h0M2620 1044h0M2623 1044h0M2633 1042h0M2633 1042h0M2633 1033h0M2639 1043h0M2647 1040h0M2655 1039h0M2655 1031h0M2660 1039h0M2662 1030h0M2666 1030h0M2683 1029h0M2684 1029h0M2684 1028h0M2685 1036h0M2686 1035h0M2687 1029h0M2697 1027h0M2700 1034h0M2703 1027h0M2704 1028h0M2708 1032h0M2709 1027h0M2712 1032h0M2712 1032h0M2713 1027h0M2714 1027h0M2717 1027h0M1711 1084h0M1712 1081h0M1713 1084h0M1724 1081h0M1724 1084h0M1725 1084h0M1726 1081h0M1731 1084h0M1733 1084h0M1733 1081h0M1735 1084h0M1737 1081h0M1740 1080h0M1747 1085h0M1750 1084h0M1750 1085h0M1771 1085h0M1777 1085h0M1786 1084h0M1801 1084h0M1801 1080h0M1805 1080h0M1807 1080h0M1810 1084h0M1814 1080h0M1818 1085h0M1821 1084h0M1822 1084h0M1822 1080h0M1827 1081h0M1834 1084h0M1848 1080h0M1857 1084h0M1864 1084h0M1869 1084h0M1873 1081h0M1882 1084h0M1890 1081h0M1891 1080h0M1893 1080h0M1906 1084h0M1907 1084h0M1914 1081h0M1920 1085h0M1922 1080h0M1925 1085h0M1938 1085h0M1940 1084h0M1941 1085h0M1943 1085h0M1947 1080h0M2133 1081h0M2134 1080h0M2136 1084h0M2143 1085h0M2143 1080h0M2153 1081h0M2153 1084h0M2155 1081h0M2160 1084h0M2161 1085h0M2162 1084h0M2163 1081h0M2165 1084h0M2166 1081h0M1713 1093h0M1713 1093h0M2241 1081h0M2243 1081h0M2246 1081h0M2250 1081h0M2250 1080h0M2254 1080h0M2255 1082h0M2256 1080h0M2256 1081h0M2258 1079h0M2258 1082h0M2259 1080h0M2259 1081h0M2260 1081h0M2261 1081h0M2268 1079h0M2269 1081h0M2269 1079h0M2271 1079h0M2273 1081h0M2274 1079h0M2275 1079h0M2275 1079h0M2276 1082h0M2278 1079h0M2278 1082h0M2280 1081h0M2281 1081h0M2281 1078h0M2283 1081h0M2284 1082h0M2285 1082h0M2289 1082h0M2291 1078h0M2292 1078h0M2293 1082h0M2294 1081h0M2301 1082h0M2302 1078h0M2303 1081h0M2307 1081h0M2309 1078h0M2309 1078h0M2311 1081h0M2313 1077h0M2320 1078h0M2322 1081h0M2324 1077h0M2324 1078h0M2326 1078h0M2327 1080h0M2327 1078h0M2331 1078h0M2332 1080h0M2334 1080h0M2334 1078h0M2336 1078h0M2336 1078h0M2338 1079h0M2338 1079h0M2339 1079h0M2340 1079h0M2342 1079h0M2347 1078h0M2348 1079h0M2348 1079h0M2350 1079h0M2492 1071h0M2492 1071h0M2492 1071h0M2493 1071h0M2502 1073h0M2504 1070h0M2507 1070h0M2508 1069h0M2510 1073h0M2511 1073h0M2512 1069h0M2517 1072h0M2518 1073h0M2520 1068h0M2521 1072h0M2522 1068h0M2530 1068h0M2536 1072h0M2540 1067h0M2550 1070h0M2551 1065h0M2566 1070h0M2566 1070h0M2568 1070h0M2581 1069h0M2595 1068h0M2600 1067h0M2603 1060h0M2605 1060h0M2610 1065h0M2616 1060h0M2618 1065h0M2620 1058h0M2622 1065h0M2626 1065h0M2629 1058h0M2648 1062h0M2654 1062h0M2655 1062h0M2660 1061h0M2660 1055h0M2672 1054h0M2673 1054h0M2675 1059h0M2676 1054h0M2678 1059h0M2678 1053h0M2678 1053h0M2683 1058h0M2690 1057h0M2693 1057h0M2697 1052h0M2697 1056h0M2703 1052h0M2703 1052h0M2707 1051h0M2709 1055h0M2708 1051h0M2712 1051h0M2716 1054h0M2718 1050h0"/>
<path stroke="#0000ad" stroke-width="8.0" d="M1714 896h0M1714 896h0M1716 901h0M1714 896h0M1716 900h0M1717 900h0M1715 894h0M1718 900h0M1719 900h0M1716 891h0M1720 899h0M1717 893h0M1721 899h0M1723 897h0M1723 889h0M1724 888h0M1730 895h0M1726 886h0M1727 887h0M1733 893h0M1736 895h0M1731 883h0M1733 882h0M1741 892h0M1737 881h0M1747 890h0M1741 877h0M1741 876h0M1748 887h0M1746 874h0M1757 886h0M1755 868h0M1768 882h0M1760 866h0M1768 879h0M1770 879h0M1765 865h0M1773 881h0M1775 875h0M1771 862h0M1780 875h0M1776 858h0M1780 855h0M1791 869h0M1793 868h0M1794 867h0M1793 845h0M1806 860h0M1802 843h0M1808 838h0M1810 840h0M1819 854h0M1813 839h0M1814 838h0M1823 853h0M1814 837h0M1817 836h0M1826 853h0M1835 847h0M1831 829h0M1834 828h0M1850 837h0M1854 836h0M1855 834h0M1855 821h0M1860 830h0M1861 830h0M1859 818h0M1860 817h0M1860 818h0M1866 829h0M1863 816h0M1867 816h0M1872 823h0M1873 822h0M1875 822h0M1876 821h0M1875 820h0M1873 812h0M1875 811h0M1879 819h0M1876 810h0M1877 811h0M1880 817h0M1880 816h0M2147 710h0M2147 708h0M2148 708h0M2151 696h0M2151 694h0M2157 705h0M2157 694h0M2156 693h0M2157 694h0M2159 693h0M2160 694h0M2163 701h0M2163 701h0M2161 693h0M2161 692h0M2164 701h0M2164 693h0M2166 699h0M2242 662h0M2242 662h0M2245 661h0M2246 663h0M2246 659h0M2249 660h0M2250 658h0M2252 661h0M2251 657h0M2251 657h0M2253 657h0M2253 657h0M2255 659h0M2254 654h0M2256 658h0M2256 656h0M2256 654h0M2261 659h0M2260 658h0M2263 656h0M2261 650h0M2265 657h0M2266 656h0M2266 655h0M2269 653h0M2275 652h0M2275 653h0M2275 652h0M2273 646h0M2277 653h0M2278 652h0M2275 646h0M2277 651h0M2275 645h0M2279 651h0M2277 644h0M2277 644h0M2281 651h0M2282 651h0M2282 650h0M2280 641h0M2283 648h0M2280 642h0M2282 641h0M2286 650h0M2287 648h0M2284 641h0M2284 639h0M2285 640h0M2293 645h0M2291 638h0M2294 645h0M2296 644h0M2292 635h0M2298 632h0M2302 641h0M2300 633h0M2303 642h0M2301 634h0M2304 640h0M2304 640h0M2306 642h0M2307 640h0M2305 633h0M2306 631h0M2308 632h0M2310 638h0M2308 630h0M2312 639h0M2310 630h0M2311 629h0M2315 637h0M2313 628h0M2315 628h0M2317 628h0M2321 636h0M2323 624h0M2328 631h0M2326 624h0M2331 623h0M2334 627h0M2331 620h0M2337 626h0M2337 622h0M2339 625h0M2338 622h0M2338 622h0M2340 623h0M2341 622h0M2340 620h0M2341 621h0M2342 620h0M2343 622h0M2343 623h0M2344 623h0M2342 618h0M2344 621h0M2344 619h0M2345 620h0M2346 620h0M2347 621h0M2346 618h0M2346 618h0M2351 617h0M2544 525h0M2547 521h0M2552 519h0M2558 528h0M2560 529h0M2560 528h0M2556 519h0M2563 528h0M2564 526h0M2571 524h0M2565 510h0M2568 506h0M2571 504h0M2572 502h0M2585 520h0M2586 515h0M2578 497h0M2580 498h0M2592 517h0M2582 499h0M2593 514h0M2594 512h0M2590 492h0M2601 510h0M2592 489h0M2591 488h0M2603 507h0M2594 488h0M2608 507h0M2609 503h0M2601 486h0M2609 480h0M2622 496h0M2612 479h0M2627 494h0M2629 494h0M2619 476h0M2622 477h0M2631 490h0M2631 488h0M2631 488h0M2625 473h0M2635 487h0M2628 472h0M2629 472h0M2630 472h0M2630 472h0M2630 472h0M2629 470h0M2630 470h0M2640 484h0M2635 471h0M2636 471h0M2635 469h0M2643 480h0M2637 468h0M2644 478h0M2645 480h0M2645 479h0M2641 470h0M2641 469h0M2642 469h0M2641 467h0"/>
<path stroke="#0000ad" stroke-width="8.8" d="M1956 209h0M1958 210h0M1960 209h0M1962 210h0M1962 208h0M1963 209h0M1964 211h0M1965 209h0M1968 211h0M1970 209h0M1970 209h0M1972 211h0M1974 209h0M1974 213h0M1975 211h0M1976 214h0M1977 212h0M1977 214h0M1978 216h0M1980 214h0M1981 211h0M1980 216h0M1983 214h0M1984 216h0M1986 213h0M1986 214h0M1988 212h0M1987 215h0M1991 213h0M1990 216h0M1994 215h0M1996 215h0M1997 217h0M1998 216h0M1998 220h0M1999 220h0M1999 219h0M1999 221h0M2000 221h0M2002 217h0M2002 218h0M2001 221h0M2003 218h0M2003 222h0M1999 223h0M2000 224h0M1999 227h0M2001 232h0M2101 238h0M2103 245h0M2106 245h0M2108 246h0M2103 263h0M2104 269h0M2113 247h0M2118 247h0M2118 265h0M2127 267h0M2135 255h0M2135 257h0M2136 258h0M2141 260h0M2142 262h0M2140 270h0M2144 258h0M2146 260h0M2144 270h0M2145 269h0M2144 271h0M2147 269h0M2150 263h0M2148 270h0M2150 264h0M2151 263h0M2151 271h0M2153 271h0M2155 264h0M2156 265h0M2157 265h0M2157 272h0M2160 271h0M2161 267h0M2161 267h0M2162 267h0M2162 269h0"/>
<path stroke="#0000bf" stroke-width="7.2" d="M2390 669h0M2389 667h0M2389 666h0M2389 665h0M2390 665h0M2391 664h0M2391 664h0M2393 666h0M2393 664h0M2393 662h0M2395 666h0M2397 666h0M2396 662h0M2398 660h0M2399 662h0M2400 659h0M2401 663h0M2400 659h0M2403 663h0M2401 659h0M2404 657h0M2406 661h0M2407 660h0M2405 657h0M2406 659h0M2407 661h0M2407 661h0M2408 658h0M2408 657h0M2408 658h0M2492 623h0M2493 622h0M2494 618h0M2496 621h0M2496 620h0M2495 618h0M2497 621h0M2497 621h0M2496 618h0M2496 619h0M2496 616h0M2498 619h0M2501 615h0M2503 618h0M2502 614h0M2502 615h0M2503 613h0M2504 612h0M2505 615h0M2507 614h0M2507 612h0M2507 612h0M2508 610h0M2509 612h0M2510 613h0M2510 612h0M2512 614h0M2512 612h0M2512 610h0M2513 613h0"/>
<path stroke="#0000bf" stroke-width="7.6" d="M1715 930h0M1716 929h0M1716 930h0M1719 929h0M1720 926h0M1720 923h0M1727 926h0M1726 921h0M1726 921h0M1726 921h0M1729 924h0M1730 919h0M1735 916h0M1738 921h0M1741 920h0M1757 904h0M1770 899h0M1771 899h0M1775 906h0M1775 897h0M1780 903h0M1784 901h0M1785 900h0M1789 899h0M1785 892h0M1797 895h0M1796 886h0M1799 885h0M1805 893h0M1801 884h0M1807 881h0M1816 886h0M1816 886h0M1820 884h0M1822 884h0M1823 883h0M1825 872h0M1833 880h0M1834 877h0M1836 877h0M1839 875h0M1838 867h0M1842 865h0M1846 873h0M1847 872h0M1845 865h0M1846 865h0M1847 863h0M1853 861h0M1858 866h0M1859 858h0M1862 864h0M1860 857h0M1864 863h0M1863 857h0M1867 863h0M1867 855h0M1871 861h0M1869 856h0M1868 854h0M1872 853h0M1872 854h0M1878 856h0M1877 853h0M1879 856h0M1878 853h0M1953 816h0M1954 815h0M2136 751h0M2136 739h0M2140 746h0M2139 738h0M2147 745h0M2153 742h0M2152 733h0M2156 741h0M2156 732h0M2157 730h0M2161 737h0M2158 731h0M2164 736h0M2163 730h0M2166 735h0M2163 728h0M2226 707h0M2227 705h0M2230 705h0M2234 705h0M2234 704h0M2235 703h0M2235 703h0M2235 701h0M2236 703h0M2236 702h0M2236 701h0M2237 702h0M2238 702h0M2238 701h0M2240 701h0M2239 699h0M2240 701h0M2242 700h0M2243 701h0M2243 700h0M2243 700h0M2244 697h0M2244 696h0M2247 699h0M2249 698h0M2248 694h0M2257 695h0M2257 695h0M2259 688h0M2261 689h0M2267 691h0M2278 686h0M2284 684h0M2286 683h0M2295 678h0M2297 671h0M2299 669h0M2300 670h0M2301 669h0M2301 668h0M2312 671h0M2312 665h0M2314 670h0M2315 669h0M2313 663h0M2315 663h0M2319 668h0M2320 667h0M2324 659h0M2332 662h0M2336 659h0M2338 652h0M2338 653h0M2340 652h0M2343 651h0M2345 655h0M2343 650h0M2344 650h0M2345 650h0M2348 653h0M2347 650h0M2351 652h0M2353 646h0M2360 648h0M2359 645h0M2360 646h0M2361 645h0M2362 647h0M2363 643h0M2364 644h0M2364 644h0M2366 644h0M2523 572h0M2524 571h0M2528 575h0M2529 576h0M2532 575h0M2535 574h0M2534 566h0M2541 571h0M2538 564h0M2543 570h0M2545 570h0M2552 569h0M2555 567h0M2565 550h0M2575 559h0M2592 551h0M2593 550h0M2587 539h0M2588 539h0M2598 533h0M2598 533h0M2603 530h0M2611 539h0M2605 527h0M2613 539h0M2610 527h0M2629 528h0M2631 529h0M2628 516h0M2632 515h0M2647 505h0M2659 512h0M2658 500h0M2665 497h0M2671 504h0M2675 502h0M2692 492h0M2688 485h0M2690 483h0M2694 490h0M2690 483h0M2695 491h0M2699 487h0M2697 478h0M2702 486h0M2704 486h0M2708 482h0M2709 482h0M2707 475h0M2709 474h0M2714 480h0M2715 479h0M2715 470h0M2716 469h0M1719 1059h0M1722 1060h0M1723 1058h0M1724 1058h0M1725 1057h0M1725 1061h0M1726 1058h0M1727 1061h0M1728 1057h0M1728 1058h0M1730 1061h0M1731 1057h0M1733 1057h0M1737 1056h0M1738 1055h0M1740 1061h0M1741 1057h0M1741 1061h0M1743 1056h0M1743 1061h0M1744 1057h0M1744 1056h0M1745 1062h0M1747 1056h0M1747 1063h0M1747 1057h0M1749 1062h0M1753 1057h0M1755 1062h0M1756 1057h0M1761 1056h0M1763 1056h0M1765 1062h0M1765 1062h0M1766 1063h0M1770 1062h0M1774 1062h0M1779 1056h0M1781 1055h0M1788 1056h0M1789 1062h0M1795 1062h0M1798 1062h0M1808 1056h0M1811 1056h0M1812 1056h0M1812 1056h0M1822 1056h0M1825 1062h0M1829 1062h0M1832 1056h0M1847 1057h0M1848 1061h0M1850 1062h0M1850 1056h0M1857 1061h0M1861 1062h0M1864 1057h0M1864 1061h0M1865 1061h0M1866 1056h0M1869 1061h0M1872 1060h0M1873 1061h0M1873 1058h0M1873 1061h0M1874 1061h0M1874 1061h0M1877 1060h0M1878 1060h0M1890 1061h0M1892 1063h0M1893 1060h0M1893 1061h0M1893 1063h0M1893 1059h0M1894 1059h0M1896 1062h0M1896 1062h0M1898 1060h0M1901 1059h0M1902 1062h0M1902 1062h0M1904 1063h0M1907 1059h0M1914 1063h0M1916 1063h0M1917 1059h0M1918 1063h0M1919 1063h0M1920 1063h0M1934 1058h0M1935 1063h0M1943 1058h0M1946 1063h0M1954 1063h0M1957 1063h0M2110 1056h0M2111 1062h0M2119 1057h0M2122 1062h0M2123 1062h0M2126 1062h0M2128 1062h0M2130 1057h0M2139 1061h0M2140 1062h0M2141 1057h0M2141 1057h0M2149 1057h0M2149 1061h0M2152 1057h0M2155 1062h0M2160 1061h0M2163 1058h0M2164 1060h0M2166 1060h0M2166 1058h0M2261 1058h0M2266 1058h0M2269 1058h0M2273 1057h0M2274 1058h0M2275 1059h0M2278 1057h0M2280 1058h0M2280 1057h0M2281 1059h0M2281 1058h0M2282 1059h0M2282 1058h0M2283 1057h0M2284 1057h0M2285 1057h0M2285 1057h0M2286 1057h0M2287 1056h0M2287 1058h0M2287 1059h0M2288 1057h0M2290 1058h0M2291 1057h0M2293 1059h0M2295 1058h0M2296 1058h0M2297 1056h0M2298 1057h0M2298 1056h0M2298 1057h0M2299 1057h0M2300 1057h0M2300 1057h0M2301 1057h0M2307 1057h0M2308 1056h0M2310 1059h0M2313 1058h0M2316 1058h0M2317 1056h0M2318 1058h0M2318 1058h0M2318 1057h0M2318 1058h0M2320 1056h0M2320 1058h0M2322 1058h0M2323 1057h0M2324 1057h0M2332 1057h0M2303 1033h0M2303 1033h0M2318 1030h0M2318 1030h0M2492 1050h0M2495 1049h0M2497 1051h0M2497 1050h0M2500 1048h0M2501 1048h0M2502 1050h0M2503 1047h0M2503 1047h0M2506 1051h0M2507 1046h0M2510 1046h0M2514 1046h0M2516 1045h0M2518 1050h0M2518 1050h0M2518 1045h0M2518 1045h0M2527 1044h0M2529 1050h0M2534 1043h0M2534 1044h0M2536 1049h0M2547 1049h0M2546 1041h0M2549 1040h0M2558 1042h0M2574 1047h0M2574 1047h0M2579 1046h0M2583 1046h0M2586 1046h0M2592 1035h0M2607 1035h0M2611 1044h0M2621 1034h0M2622 1042h0M2623 1044h0M2624 1035h0M2628 1034h0M2638 1043h0M2665 1039h0M2670 1031h0M2671 1031h0M2673 1038h0M2676 1037h0M2677 1037h0M2687 1035h0M2694 1035h0M2696 1029h0M2701 1034h0M2705 1028h0M2706 1032h0M2707 1028h0M2709 1028h0M2709 1032h0M2709 1028h0M2710 1032h0M2711 1028h0M2714 1028h0M2715 1031h0M2716 1028h0M2717 1028h0M2717 1028h0M1713 1082h0M1714 1084h0M1714 1083h0M1716 1082h0M1718 1081h0M1720 1081h0M1720 1084h0M1723 1081h0M1723 1081h0M1727 1084h0M1730 1084h0M1732 1084h0M1734 1081h0M1734 1084h0M1734 1081h0M1735 1084h0M1738 1081h0M1738 1084h0M1743 1084h0M1750 1081h0M1751 1080h0M1758 1084h0M1762 1084h0M1778 1084h0M1785 1081h0M1786 1080h0M1788 1084h0M1797 1084h0M1818 1084h0M1824 1084h0M1829 1084h0M1830 1080h0M1833 1084h0M1838 1084h0M1841 1084h0M1846 1081h0M1847 1081h0M1855 1080h0M1879 1080h0M1890 1084h0M1891 1080h0M1903 1081h0M1924 1085h0M1928 1081h0M2131 1081h0M2131 1084h0M2140 1081h0M2141 1081h0M2143 1084h0M2148 1084h0M2150 1081h0M2154 1081h0M2156 1083h0M2157 1081h0M2158 1084h0M2163 1081h0M2164 1081h0M2164 1083h0M2166 1082h0M2166 1083h0M2264 1081h0M2268 1080h0M2269 1081h0M2270 1080h0M2270 1081h0M2270 1080h0M2270 1080h0M2271 1081h0M2276 1080h0M2278 1080h0M2278 1081h0M2280 1081h0M2280 1080h0M2281 1079h0M2281 1080h0M2281 1079h0M2282 1081h0M2282 1079h0M2282 1080h0M2282 1080h0M2283 1079h0M2284 1079h0M2289 1079h0M2290 1081h0M2290 1080h0M2292 1080h0M2292 1079h0M2296 1080h0M2299 1080h0M2300 1079h0M2300 1081h0M2301 1081h0M2302 1079h0M2303 1080h0M2308 1079h0M2308 1081h0M2308 1080h0M2308 1081h0M2313 1078h0M2315 1080h0M2318 1080h0M2319 1079h0M2320 1080h0M2322 1079h0M2323 1079h0M2324 1079h0M2324 1079h0M2325 1079h0M2325 1079h0M2325 1078h0M2326 1080h0M2327 1079h0M2328 1080h0M2328 1079h0M2331 1079h0M2331 1079h0M2492 1073h0M2493 1072h0M2493 1072h0M2494 1072h0M2494 1072h0M2495 1071h0M2496 1073h0M2498 1073h0M2501 1073h0M2503 1073h0M2503 1073h0M2505 1070h0M2509 1070h0M2509 1070h0M2510 1072h0M2513 1069h0M2517 1072h0M2519 1072h0M2519 1069h0M2522 1072h0M2523 1072h0M2529 1071h0M2529 1068h0M2533 1068h0M2535 1071h0M2536 1067h0M2543 1071h0M2551 1066h0M2557 1065h0M2559 1065h0M2561 1069h0M2566 1069h0M2568 1069h0M2572 1069h0M2573 1069h0M2575 1064h0M2580 1063h0M2599 1067h0M2603 1067h0M2605 1067h0M2607 1061h0M2609 1060h0M2615 1065h0M2616 1060h0M2625 1059h0M2627 1064h0M2632 1063h0M2634 1063h0M2641 1063h0M2643 1058h0M2649 1057h0M2650 1056h0M2651 1061h0M2657 1056h0M2681 1058h0M2687 1057h0M2692 1053h0M2697 1052h0M2705 1052h0M2705 1055h0M2705 1055h0M2707 1054h0M2710 1051h0M2711 1052h0M2712 1052h0M2712 1054h0M2714 1053h0M2715 1052h0M2716 1053h0M2716 1052h0M2717 1052h0M2717 1051h0M2718 1051h0M2718 1052h0"/>
<path stroke="#0000bf" stroke-width="8.0" d="M1715 899h0M1716 898h0M1716 895h0M1717 896h0M1718 898h0M1718 896h0M1718 897h0M1719 896h0M1718 893h0M1720 894h0M1722 892h0M1725 896h0M1725 889h0M1727 887h0M1728 885h0M1730 886h0M1730 886h0M1735 893h0M1736 892h0M1732 883h0M1739 892h0M1738 879h0M1744 889h0M1745 889h0M1747 887h0M1744 876h0M1751 885h0M1753 887h0M1752 885h0M1747 874h0M1752 871h0M1767 879h0M1778 874h0M1770 859h0M1775 856h0M1789 870h0M1783 856h0M1788 850h0M1793 851h0M1808 857h0M1804 843h0M1805 842h0M1813 857h0M1813 856h0M1806 841h0M1816 855h0M1817 853h0M1818 853h0M1820 854h0M1821 853h0M1814 836h0M1826 851h0M1819 835h0M1820 836h0M1827 849h0M1827 849h0M1827 849h0M1825 835h0M1834 845h0M1835 844h0M1837 845h0M1831 831h0M1842 842h0M1837 828h0M1845 839h0M1846 837h0M1847 837h0M1853 835h0M1854 834h0M1849 821h0M1854 821h0M1861 818h0M1867 826h0M1869 824h0M1866 818h0M1870 823h0M1870 823h0M1868 817h0M1868 817h0M1874 819h0M1874 817h0M1874 815h0M1875 816h0M1875 814h0M1876 815h0M1878 816h0M1879 815h0M2142 711h0M2144 712h0M2144 710h0M2144 711h0M2144 710h0M2144 710h0M2147 707h0M2145 698h0M2145 698h0M2149 705h0M2150 706h0M2149 697h0M2150 698h0M2152 705h0M2153 704h0M2150 697h0M2151 696h0M2153 697h0M2155 697h0M2155 695h0M2158 701h0M2158 702h0M2156 696h0M2158 701h0M2158 700h0M2159 702h0M2157 695h0M2161 701h0M2160 696h0M2162 698h0M2163 699h0M2161 695h0M2162 696h0M2163 694h0M2166 698h0M2166 697h0M2259 655h0M2259 655h0M2263 654h0M2263 652h0M2264 654h0M2264 654h0M2264 652h0M2265 652h0M2266 653h0M2267 654h0M2270 653h0M2271 653h0M2270 650h0M2271 649h0M2272 647h0M2273 648h0M2274 649h0M2275 648h0M2276 650h0M2275 647h0M2278 649h0M2278 649h0M2278 648h0M2278 646h0M2280 647h0M2280 647h0M2280 647h0M2281 648h0M2280 645h0M2284 648h0M2283 643h0M2285 644h0M2287 642h0M2289 644h0M2289 643h0M2290 644h0M2289 640h0M2295 644h0M2293 639h0M2295 641h0M2295 640h0M2297 642h0M2296 638h0M2296 637h0M2303 634h0M2304 634h0M2305 634h0M2306 635h0M2306 634h0M2308 637h0M2311 636h0M2310 634h0M2311 631h0M2312 634h0M2313 632h0M2318 629h0M2318 630h0M2318 628h0M2320 632h0M2321 628h0M2324 630h0M2325 632h0M2326 630h0M2326 629h0M2327 629h0M2327 628h0M2328 624h0M2329 625h0M2332 626h0M2334 624h0M2337 623h0M2548 530h0M2548 531h0M2548 529h0M2549 530h0M2547 526h0M2549 525h0M2549 526h0M2548 524h0M2549 526h0M2549 526h0M2549 524h0M2551 523h0M2555 529h0M2550 521h0M2554 527h0M2556 527h0M2557 527h0M2557 527h0M2557 527h0M2559 527h0M2560 526h0M2556 515h0M2558 517h0M2561 513h0M2567 524h0M2570 521h0M2567 511h0M2567 509h0M2568 510h0M2575 522h0M2577 521h0M2577 520h0M2579 519h0M2571 505h0M2579 519h0M2574 506h0M2582 521h0M2574 504h0M2584 518h0M2575 501h0M2590 516h0M2583 496h0M2594 510h0M2587 497h0M2597 513h0M2599 510h0M2591 490h0M2602 507h0M2594 492h0M2604 507h0M2594 491h0M2606 505h0M2603 487h0M2602 486h0M2612 501h0M2613 501h0M2613 500h0M2609 485h0M2618 498h0M2611 483h0M2610 482h0M2620 497h0M2611 482h0M2616 480h0M2626 492h0M2626 491h0M2628 490h0M2621 478h0M2622 477h0M2631 488h0M2627 476h0M2633 485h0M2635 484h0M2636 483h0M2636 481h0M2632 474h0M2639 481h0M2638 479h0M2639 479h0M2639 478h0M2641 480h0M2641 479h0M2639 472h0M2638 472h0M2642 477h0M2641 476h0M2641 475h0M2642 477h0M2642 476h0M2644 477h0M2644 471h0M2645 473h0"/>
<path stroke="#0000bf" stroke-width="8.8" d="M2003 209h0M2004 212h0M2001 220h0M2003 216h0M2004 219h0M2003 220h0M2002 226h0M2002 227h0M2003 225h0M2004 224h0M2004 225h0M2003 232h0M2005 229h0M2006 232h0M2006 236h0M2097 240h0M2098 243h0M2100 244h0M2099 264h0M2099 262h0M2100 263h0M2104 260h0M2106 263h0M2111 247h0M2113 250h0M2113 264h0M2115 265h0M2121 252h0M2122 266h0M2125 268h0M2129 267h0M2131 267h0M2138 260h0M2136 269h0M2139 260h0M2141 259h0M2142 260h0M2142 260h0M2142 260h0M2144 268h0M2144 270h0M2147 269h0M2149 264h0M2149 262h0M2148 269h0M2148 270h0M2148 269h0M2149 269h0M2149 269h0M2151 265h0M2153 265h0M2152 269h0M2152 269h0M2153 265h0M2152 270h0M2153 269h0M2154 267h0M2154 270h0M2155 267h0M2156 270h0M2156 270h0M2157 269h0M2157 270h0M2159 269h0M2159 269h0M2160 271h0M2162 270h0M2162 270h0"/>
<path stroke="#0000d1" stroke-width="7.6" d="M1724 924h0M1726 925h0M1728 923h0M1728 922h0M1728 921h0M1731 923h0M1733 922h0M1734 922h0M1737 921h0M1739 920h0M1739 919h0M1738 916h0M1738 915h0M1741 918h0M1741 913h0M1744 912h0M1749 915h0M1752 914h0M1752 915h0M1752 914h0M1757 912h0M1758 905h0M1758 905h0M1761 911h0M1763 909h0M1766 908h0M1767 901h0M1770 900h0M1774 904h0M1779 903h0M1789 899h0M1789 898h0M1787 892h0M1788 891h0M1791 896h0M1792 889h0M1802 892h0M1802 892h0M1801 886h0M1804 884h0M1807 890h0M1807 883h0M1812 887h0M1810 881h0M1814 879h0M1815 878h0M1822 882h0M1819 876h0M1825 882h0M1822 875h0M1823 874h0M1827 872h0M1836 876h0M1843 873h0M1844 873h0M1845 872h0M1846 864h0M1847 864h0M1848 864h0M1850 869h0M1848 863h0M1849 863h0M1853 868h0M1853 862h0M1856 866h0M1857 866h0M1858 864h0M1862 862h0M1862 862h0M1866 860h0M1866 859h0M1867 859h0M1952 821h0M1952 821h0M1953 821h0M1953 820h0M1953 820h0M1953 819h0M2134 749h0M2138 747h0M2137 740h0M2141 739h0M2141 738h0M2142 737h0M2143 739h0M2143 739h0M2146 744h0M2144 737h0M2145 738h0M2148 742h0M2149 741h0M2148 736h0M2150 735h0M2149 735h0M2152 740h0M2151 735h0M2153 740h0M2154 740h0M2155 739h0M2154 739h0M2155 739h0M2156 739h0M2156 734h0M2157 737h0M2159 737h0M2159 736h0M2158 732h0M2160 735h0M2159 732h0M2161 735h0M2161 731h0M2163 735h0M2164 734h0M2165 735h0M2163 731h0M2164 732h0M2164 731h0M2166 734h0M2241 700h0M2246 698h0M2247 697h0M2247 697h0M2248 697h0M2248 698h0M2250 697h0M2251 696h0M2251 696h0M2251 695h0M2251 694h0M2252 695h0M2255 695h0M2255 691h0M2257 694h0M2258 694h0M2262 688h0M2269 684h0M2271 684h0M2274 687h0M2275 686h0M2276 686h0M2276 687h0M2280 685h0M2284 683h0M2283 678h0M2285 677h0M2287 681h0M2288 681h0M2289 675h0M2293 678h0M2299 676h0M2299 676h0M2308 673h0M2309 671h0M2313 669h0M2311 666h0M2315 668h0M2314 664h0M2319 662h0M2319 662h0M2326 664h0M2328 663h0M2328 663h0M2328 657h0M2333 660h0M2334 656h0M2335 655h0M2336 654h0M2337 655h0M2340 657h0M2339 654h0M2341 654h0M2342 655h0M2343 654h0M2345 652h0M2345 653h0M2346 653h0M2350 651h0M2524 573h0M2530 574h0M2531 573h0M2530 569h0M2531 569h0M2533 573h0M2534 573h0M2535 567h0M2539 565h0M2539 564h0M2541 563h0M2545 568h0M2542 562h0M2546 560h0M2546 560h0M2548 560h0M2549 559h0M2557 565h0M2560 564h0M2568 561h0M2570 560h0M2569 549h0M2583 554h0M2579 544h0M2582 544h0M2590 537h0M2601 531h0M2614 525h0M2625 530h0M2638 523h0M2635 513h0M2641 510h0M2643 509h0M2655 513h0M2656 513h0M2656 511h0M2659 511h0M2659 510h0M2660 500h0M2668 505h0M2677 501h0M2681 497h0M2678 490h0M2684 487h0M2690 493h0M2691 492h0M2691 483h0M2694 481h0M2698 480h0M2704 484h0M2701 479h0M2706 477h0M2709 481h0M2707 476h0M2708 476h0M2710 475h0M2713 473h0M2715 477h0M2719 474h0M1724 1059h0M1724 1059h0M1726 1059h0M1727 1058h0M1732 1058h0M1733 1058h0M1735 1060h0M1737 1061h0M1739 1060h0M1747 1058h0M1747 1061h0M1753 1057h0M1754 1061h0M1762 1057h0M1772 1057h0M1777 1056h0M1782 1056h0M1785 1061h0M1785 1056h0M1785 1057h0M1786 1056h0M1790 1062h0M1792 1061h0M1801 1057h0M1806 1061h0M1808 1056h0M1808 1062h0M1809 1061h0M1819 1057h0M1820 1062h0M1821 1061h0M1826 1056h0M1828 1060h0M1835 1061h0M1843 1057h0M1843 1061h0M1848 1057h0M1853 1057h0M1856 1061h0M1856 1060h0M1862 1060h0M1863 1058h0M1867 1058h0M1868 1059h0M1868 1060h0M1870 1059h0M1874 1059h0M1894 1061h0M1899 1062h0M1901 1062h0M1901 1061h0M1901 1060h0M1902 1061h0M1903 1061h0M1903 1062h0M1903 1060h0M1904 1062h0M1905 1061h0M1906 1060h0M1909 1062h0M1910 1063h0M1911 1060h0M1916 1063h0M1923 1058h0M1924 1063h0M1925 1062h0M1928 1063h0M1928 1059h0M1930 1062h0M1936 1064h0M1938 1063h0M1944 1058h0M1948 1058h0M1952 1063h0M1952 1063h0M1957 1063h0M1959 1059h0M2112 1062h0M2113 1058h0M2115 1062h0M2122 1061h0M2123 1058h0M2125 1057h0M2128 1058h0M2136 1061h0M2145 1058h0M2147 1060h0M2148 1060h0M2158 1058h0M2160 1058h0M2161 1060h0M2162 1059h0M2164 1059h0M2495 1049h0M2496 1049h0M2497 1050h0M2498 1049h0M2500 1050h0M2501 1048h0M2504 1050h0M2510 1047h0M2512 1047h0M2514 1046h0M2515 1047h0M2517 1050h0M2518 1050h0M2520 1046h0M2524 1045h0M2530 1044h0M2533 1048h0M2536 1048h0M2544 1048h0M2544 1049h0M2548 1042h0M2548 1042h0M2552 1048h0M2553 1048h0M2557 1041h0M2558 1047h0M2569 1047h0M2571 1046h0M2572 1039h0M2573 1039h0M2577 1039h0M2581 1038h0M2582 1046h0M2582 1038h0M2585 1045h0M2592 1038h0M2597 1037h0M2608 1044h0M2614 1043h0M2614 1043h0M2615 1043h0M2616 1044h0M2629 1042h0M2630 1034h0M2632 1041h0M2638 1042h0M2638 1033h0M2643 1033h0M2649 1033h0M2652 1040h0M2652 1040h0M2663 1037h0M2664 1039h0M2664 1038h0M2673 1030h0M2673 1030h0M2689 1035h0M2690 1030h0M2693 1030h0M2700 1032h0M2700 1029h0M2700 1029h0M2702 1032h0M2702 1029h0M2708 1030h0M2709 1029h0M2712 1030h0M2712 1030h0M2713 1030h0M2714 1030h0M2714 1029h0M2717 1029h0M2718 1029h0M2718 1029h0M1714 1083h0M1716 1083h0M1719 1083h0M1719 1083h0M1721 1082h0M1722 1082h0M1722 1083h0M1723 1082h0M1726 1083h0M1726 1082h0M1727 1084h0M1728 1083h0M1730 1081h0M1732 1082h0M1736 1084h0M1741 1081h0M1742 1084h0M1742 1081h0M1744 1081h0M1746 1084h0M1749 1081h0M1750 1081h0M1756 1081h0M1759 1084h0M1775 1084h0M1779 1084h0M1780 1081h0M1787 1084h0M1791 1084h0M1793 1081h0M1794 1081h0M1795 1081h0M1801 1081h0M1803 1081h0M1803 1081h0M1805 1080h0M1809 1084h0M1813 1084h0M1816 1084h0M1818 1081h0M1818 1084h0M1823 1084h0M1826 1080h0M1826 1081h0M1830 1081h0M1832 1084h0M1837 1084h0M1841 1081h0M1847 1080h0M1850 1081h0M1868 1081h0M1869 1081h0M1874 1084h0M1875 1081h0M1876 1084h0M1878 1084h0M1886 1084h0M1891 1081h0M1907 1084h0M1909 1080h0M1910 1084h0M1913 1084h0M1914 1084h0M1920 1084h0M1921 1081h0M1924 1084h0M1924 1081h0M1932 1081h0M1935 1081h0M1942 1084h0M1942 1081h0M1942 1084h0M1945 1084h0M1946 1084h0M1946 1081h0M1949 1081h0M1950 1084h0M2132 1081h0M2142 1081h0M2142 1082h0M2143 1084h0M2144 1083h0M2146 1083h0M2146 1082h0M2148 1082h0M2151 1082h0M2152 1082h0M2154 1083h0M2157 1082h0M2158 1082h0M2501 1071h0M2502 1071h0M2507 1071h0M2507 1072h0M2508 1072h0M2511 1070h0M2514 1072h0M2516 1070h0M2516 1069h0M2516 1070h0M2518 1071h0M2519 1072h0M2523 1069h0M2525 1069h0M2531 1071h0M2533 1068h0M2535 1067h0M2544 1067h0M2544 1066h0M2544 1067h0M2551 1070h0M2551 1070h0M2556 1069h0M2564 1069h0M2567 1065h0M2573 1065h0M2576 1065h0M2583 1064h0M2591 1063h0M2602 1062h0M2605 1061h0M2608 1061h0M2608 1061h0M2610 1065h0M2622 1060h0M2624 1059h0M2628 1064h0M2631 1059h0M2633 1058h0M2633 1063h0M2642 1062h0M2644 1057h0M2647 1062h0M2651 1057h0M2652 1061h0M2660 1056h0M2665 1059h0M2666 1055h0M2669 1055h0M2679 1054h0M2687 1057h0M2688 1056h0M2695 1055h0M2697 1055h0M2698 1053h0M2698 1053h0M2698 1053h0M2703 1053h0M2704 1054h0M2704 1054h0M2705 1054h0M2707 1053h0M2708 1052h0M2708 1052h0M2710 1052h0M2711 1052h0M2712 1053h0"/>
<path stroke="#0000d1" stroke-width="8.0" d="M1723 894h0M1723 894h0M1724 891h0M1728 892h0M1726 889h0M1728 891h0M1729 892h0M1728 889h0M1728 888h0M1729 889h0M1732 892h0M1732 887h0M1732 885h0M1735 884h0M1735 884h0M1736 883h0M1736 882h0M1737 883h0M1737 882h0M1739 882h0M1745 887h0M1745 886h0M1743 878h0M1748 887h0M1748 885h0M1750 885h0M1751 885h0M1757 881h0M1763 882h0M1758 869h0M1765 879h0M1767 878h0M1769 879h0M1769 877h0M1765 864h0M1775 874h0M1770 863h0M1775 860h0M1780 857h0M1784 856h0M1807 859h0M1801 847h0M1809 858h0M1809 857h0M1813 854h0M1815 854h0M1816 854h0M1811 840h0M1818 854h0M1824 852h0M1824 848h0M1831 847h0M1826 833h0M1829 832h0M1836 844h0M1834 830h0M1836 829h0M1845 840h0M1842 826h0M1844 826h0M1846 826h0M1851 834h0M1851 834h0M1847 825h0M1853 833h0M1853 833h0M1850 824h0M1849 823h0M1854 832h0M1851 824h0M1851 823h0M1853 824h0M1852 823h0M1856 831h0M1856 830h0M1856 829h0M1857 830h0M1855 823h0M1855 822h0M1856 822h0M1860 827h0M1859 821h0M1861 820h0M1863 821h0M1865 824h0M1865 823h0M1865 818h0M1868 819h0M1868 819h0M1868 818h0M1870 819h0M1870 819h0M1870 818h0M1871 819h0M1955 784h0M1954 783h0M1955 783h0M2141 709h0M2142 711h0M2143 710h0M2143 709h0M2143 700h0M2147 705h0M2147 705h0M2146 699h0M2147 699h0M2149 700h0M2149 700h0M2150 703h0M2149 699h0M2151 704h0M2150 700h0M2151 702h0M2151 703h0M2152 702h0M2152 703h0M2152 699h0M2152 701h0M2152 699h0M2152 698h0M2153 701h0M2155 701h0M2155 702h0M2154 698h0M2155 699h0M2155 699h0M2156 699h0M2157 699h0M2162 697h0M2551 526h0M2553 526h0M2554 525h0M2554 525h0M2553 523h0M2555 525h0M2554 522h0M2554 522h0M2557 524h0M2556 522h0M2556 522h0M2557 523h0M2556 522h0M2557 522h0M2557 520h0M2558 518h0M2565 522h0M2563 514h0M2567 521h0M2566 513h0M2566 513h0M2572 520h0M2573 520h0M2572 520h0M2569 512h0M2573 520h0M2570 509h0M2575 519h0M2576 519h0M2570 508h0M2578 521h0M2577 516h0M2572 506h0M2581 517h0M2582 518h0M2581 517h0M2581 501h0M2589 514h0M2590 514h0M2582 499h0M2583 499h0M2584 500h0M2585 497h0M2595 510h0M2599 508h0M2600 508h0M2594 493h0M2603 506h0M2595 492h0M2605 505h0M2598 488h0M2611 500h0M2605 486h0M2614 497h0M2617 498h0M2613 483h0M2623 491h0M2624 490h0M2626 488h0M2629 487h0M2630 486h0M2629 485h0M2629 483h0M2630 485h0M2631 485h0M2631 484h0M2628 479h0M2632 482h0M2632 482h0M2631 478h0M2633 481h0M2634 482h0M2632 478h0M2633 477h0M2635 476h0M2636 478h0M2636 475h0M2637 474h0M2638 476h0M2640 474h0"/>
<path stroke="#0000d1" stroke-width="8.8" d="M2006 216h0M2006 215h0M2007 214h0M2009 209h0M2009 210h0M2006 218h0M2008 215h0M2005 223h0M2010 212h0M2008 228h0M2007 234h0M2008 232h0M2009 231h0M2008 235h0M2008 235h0M2009 235h0M2009 234h0M2010 236h0M2011 239h0M2093 234h0M2094 239h0M2094 240h0M2095 240h0M2096 240h0M2093 262h0M2093 263h0M2094 266h0M2095 262h0M2100 245h0M2095 263h0M2098 259h0M2104 248h0M2105 248h0M2102 261h0M2107 262h0M2108 262h0M2113 250h0M2110 262h0M2110 263h0M2114 251h0M2111 263h0M2112 262h0M2118 252h0M2117 263h0M2118 264h0M2123 254h0M2124 267h0M2127 255h0M2128 257h0M2126 266h0M2129 257h0M2128 264h0M2128 267h0M2132 267h0M2133 266h0M2135 259h0M2138 260h0M2140 261h0M2139 267h0M2141 267h0M2143 266h0M2143 267h0M2145 264h0M2146 264h0M2146 267h0M2147 265h0M2147 267h0M2148 265h0M2149 267h0M2152 267h0M2152 267h0M2153 268h0"/>
<path stroke="#0000e3" stroke-width="7.6" d="M1733 920h0M1737 918h0M1740 917h0M1739 916h0M1741 917h0M1742 918h0M1743 917h0M1750 914h0M1753 913h0M1754 907h0M1757 912h0M1756 906h0M1757 906h0M1757 906h0M1760 911h0M1764 908h0M1766 902h0M1774 905h0M1775 898h0M1779 902h0M1777 897h0M1787 898h0M1789 891h0M1794 895h0M1798 893h0M1803 891h0M1802 886h0M1806 884h0M1809 887h0M1813 880h0M1819 883h0M1819 878h0M1823 882h0M1823 881h0M1832 877h0M1831 872h0M1832 871h0M1835 875h0M1839 869h0M1843 867h0M1848 866h0M1854 865h0M1853 865h0M1858 864h0M1859 863h0M1859 861h0M1860 861h0M1955 823h0M1954 820h0M1954 818h0M1955 815h0M1956 814h0M2134 741h0M2134 742h0M2137 746h0M2138 746h0M2140 741h0M2143 744h0M2141 740h0M2144 743h0M2144 743h0M2144 742h0M2144 739h0M2145 739h0M2145 738h0M2146 738h0M2148 741h0M2148 741h0M2149 740h0M2150 741h0M2149 740h0M2148 737h0M2149 738h0M2152 739h0M2153 738h0M2153 737h0M2156 737h0M2158 735h0M2257 693h0M2258 692h0M2258 693h0M2259 692h0M2261 690h0M2264 691h0M2264 690h0M2264 688h0M2265 688h0M2267 686h0M2268 689h0M2268 686h0M2272 684h0M2273 684h0M2273 683h0M2276 685h0M2277 685h0M2279 684h0M2279 684h0M2281 680h0M2285 679h0M2289 679h0M2294 674h0M2297 673h0M2297 672h0M2299 672h0M2300 671h0M2303 670h0M2303 670h0M2305 669h0M2310 670h0M2314 664h0M2317 664h0M2320 662h0M2323 661h0M2325 663h0M2325 661h0M2327 660h0M2328 662h0M2330 660h0M2331 658h0M2331 658h0M2332 659h0M2332 659h0M2332 658h0M2333 657h0M2338 655h0M2528 573h0M2529 571h0M2530 572h0M2533 569h0M2532 568h0M2537 567h0M2538 566h0M2538 566h0M2539 565h0M2539 565h0M2542 564h0M2542 564h0M2543 564h0M2544 567h0M2573 558h0M2571 548h0M2574 548h0M2579 556h0M2578 547h0M2580 544h0M2582 544h0M2592 547h0M2595 549h0M2597 546h0M2595 535h0M2600 544h0M2597 535h0M2614 525h0M2624 531h0M2628 527h0M2626 519h0M2631 526h0M2631 525h0M2628 519h0M2629 517h0M2630 517h0M2633 523h0M2631 518h0M2634 522h0M2644 509h0M2647 508h0M2650 504h0M2657 510h0M2662 509h0M2659 502h0M2662 500h0M2664 498h0M2668 505h0M2667 496h0M2671 495h0M2671 494h0M2697 481h0M2700 485h0M2701 484h0M2702 479h0M2706 481h0M2705 477h0M2708 479h0M2707 476h0M2710 477h0M2712 476h0M2713 477h0M2712 475h0M2713 477h0M2714 475h0M2714 474h0M2715 474h0M2715 474h0M2717 473h0M1735 1059h0M1738 1059h0M1741 1059h0M1743 1059h0M1743 1058h0M1745 1058h0M1747 1060h0M1747 1059h0M1747 1058h0M1748 1060h0M1754 1061h0M1756 1060h0M1761 1062h0M1768 1057h0M1769 1057h0M1781 1061h0M1782 1057h0M1783 1057h0M1792 1062h0M1794 1061h0M1796 1056h0M1797 1061h0M1804 1061h0M1809 1061h0M1812 1061h0M1813 1061h0M1816 1057h0M1817 1057h0M1817 1061h0M1820 1057h0M1820 1061h0M1824 1061h0M1833 1061h0M1836 1060h0M1846 1057h0M1850 1058h0M1852 1058h0M1854 1060h0M1855 1059h0M1855 1058h0M1855 1058h0M1855 1060h0M1859 1058h0M1860 1058h0M1904 1061h0M1908 1060h0M1911 1062h0M1913 1060h0M1913 1060h0M1913 1061h0M1916 1061h0M1916 1060h0M1920 1062h0M1921 1062h0M1923 1062h0M1923 1062h0M1924 1062h0M1927 1062h0M1928 1062h0M1929 1059h0M1930 1063h0M1931 1059h0M1934 1059h0M1939 1063h0M1939 1062h0M1940 1062h0M1943 1059h0M1955 1062h0M1960 1059h0M1962 1058h0M1963 1057h0M2107 1062h0M2107 1062h0M2109 1062h0M2118 1061h0M2123 1061h0M2124 1058h0M2125 1061h0M2128 1058h0M2128 1061h0M2131 1060h0M2131 1060h0M2132 1060h0M2134 1061h0M2136 1060h0M2137 1060h0M2137 1058h0M2137 1060h0M2138 1059h0M2140 1058h0M2140 1060h0M2141 1058h0M2148 1058h0M2504 1049h0M2508 1049h0M2509 1048h0M2510 1049h0M2511 1049h0M2512 1049h0M2513 1047h0M2513 1049h0M2515 1049h0M2515 1047h0M2516 1049h0M2518 1047h0M2518 1047h0M2520 1049h0M2528 1045h0M2529 1048h0M2530 1044h0M2536 1044h0M2545 1048h0M2563 1040h0M2565 1040h0M2567 1040h0M2570 1046h0M2577 1039h0M2581 1039h0M2582 1045h0M2583 1044h0M2587 1044h0M2590 1038h0M2594 1044h0M2601 1038h0M2602 1037h0M2602 1037h0M2606 1043h0M2607 1036h0M2610 1043h0M2617 1035h0M2619 1036h0M2620 1035h0M2622 1041h0M2623 1035h0M2630 1042h0M2631 1034h0M2637 1040h0M2639 1041h0M2642 1040h0M2642 1040h0M2647 1033h0M2648 1039h0M2655 1033h0M2656 1032h0M2665 1037h0M2665 1037h0M2670 1031h0M2672 1036h0M2677 1036h0M2678 1030h0M2684 1030h0M2686 1030h0M2692 1030h0M2693 1032h0M2695 1032h0M2697 1032h0M2699 1030h0M2702 1030h0M2707 1030h0M1728 1083h0M1732 1082h0M1736 1083h0M1738 1082h0M1740 1083h0M1740 1083h0M1741 1082h0M1749 1084h0M1749 1083h0M1750 1081h0M1758 1084h0M1763 1084h0M1767 1081h0M1768 1081h0M1780 1081h0M1781 1081h0M1782 1081h0M1783 1081h0M1790 1084h0M1790 1084h0M1793 1084h0M1794 1084h0M1794 1084h0M1795 1081h0M1797 1081h0M1798 1084h0M1802 1084h0M1803 1083h0M1804 1081h0M1812 1081h0M1816 1081h0M1820 1081h0M1821 1084h0M1822 1081h0M1823 1084h0M1824 1081h0M1834 1081h0M1835 1081h0M1836 1084h0M1838 1081h0M1838 1084h0M1841 1081h0M1843 1084h0M1847 1084h0M1850 1084h0M1860 1081h0M1861 1084h0M1870 1084h0M1871 1084h0M1879 1081h0M1884 1084h0M1886 1084h0M1889 1081h0M1891 1081h0M1900 1081h0M1903 1084h0M1908 1081h0M1916 1081h0M1922 1084h0M1925 1081h0M1942 1084h0M1943 1084h0M1945 1084h0M1952 1081h0M1952 1084h0M2128 1080h0M2128 1081h0M2130 1084h0M2134 1083h0M2136 1083h0M2137 1081h0M2137 1083h0M2139 1083h0M2140 1082h0M2143 1083h0M2144 1082h0M2148 1082h0M2149 1082h0M2150 1082h0M2151 1082h0M2507 1071h0M2511 1071h0M2513 1071h0M2513 1071h0M2516 1071h0M2519 1069h0M2523 1071h0M2523 1069h0M2530 1071h0M2536 1070h0M2536 1071h0M2537 1071h0M2538 1070h0M2539 1068h0M2544 1071h0M2544 1070h0M2567 1065h0M2568 1065h0M2571 1065h0M2583 1068h0M2602 1062h0M2603 1062h0M2604 1065h0M2606 1061h0M2609 1061h0M2612 1061h0M2620 1064h0M2628 1060h0M2630 1063h0M2630 1063h0M2640 1058h0M2642 1058h0M2647 1057h0M2655 1057h0M2656 1060h0M2656 1056h0M2659 1056h0M2669 1059h0M2670 1056h0M2673 1058h0M2676 1058h0M2676 1055h0M2680 1057h0M2683 1055h0M2683 1055h0M2684 1054h0M2684 1057h0M2685 1054h0M2690 1054h0M2691 1054h0M2693 1053h0M2693 1055h0M2695 1055h0M2696 1054h0M2702 1053h0"/>
<path stroke="#0000e3" stroke-width="8.0" d="M1729 891h0M1730 889h0M1730 890h0M1732 889h0M1732 888h0M1733 888h0M1734 889h0M1734 888h0M1737 887h0M1740 887h0M1740 887h0M1741 882h0M1746 886h0M1743 879h0M1745 879h0M1746 879h0M1747 879h0M1746 877h0M1746 877h0M1747 877h0M1748 877h0M1751 883h0M1752 881h0M1750 874h0M1753 874h0M1753 873h0M1758 881h0M1759 880h0M1755 872h0M1764 879h0M1761 869h0M1768 875h0M1765 868h0M1772 875h0M1768 865h0M1773 862h0M1775 862h0M1785 869h0M1781 858h0M1787 868h0M1790 864h0M1792 864h0M1788 855h0M1790 854h0M1795 863h0M1801 861h0M1801 848h0M1806 856h0M1807 857h0M1808 856h0M1805 846h0M1810 854h0M1806 845h0M1807 846h0M1807 844h0M1808 845h0M1812 841h0M1817 840h0M1824 849h0M1819 839h0M1827 846h0M1828 846h0M1831 845h0M1828 833h0M1829 833h0M1834 831h0M1840 840h0M1842 839h0M1842 839h0M1843 838h0M1840 830h0M1841 830h0M1845 838h0M1841 830h0M1841 828h0M1843 828h0M1844 827h0M1844 828h0M1845 829h0M1848 835h0M1849 834h0M1849 835h0M1852 831h0M1851 826h0M1853 824h0M1853 824h0M1856 825h0M1856 824h0M1859 826h0M1858 825h0M1861 824h0M1863 823h0M1955 783h0M2141 709h0M2144 705h0M2145 703h0M2145 702h0M2146 701h0M2148 702h0M2152 701h0M2560 521h0M2560 521h0M2560 520h0M2561 521h0M2561 521h0M2561 520h0M2563 521h0M2563 520h0M2562 518h0M2563 517h0M2565 518h0M2565 517h0M2565 517h0M2566 515h0M2568 520h0M2567 518h0M2569 519h0M2569 519h0M2568 517h0M2568 515h0M2568 513h0M2571 519h0M2573 517h0M2572 510h0M2577 517h0M2577 517h0M2574 510h0M2580 515h0M2580 516h0M2581 515h0M2582 514h0M2578 506h0M2583 514h0M2579 505h0M2584 512h0M2590 513h0M2585 500h0M2591 509h0M2587 497h0M2589 497h0M2590 498h0M2596 507h0M2590 496h0M2598 505h0M2599 507h0M2592 495h0M2599 506h0M2596 494h0M2598 491h0M2610 497h0M2606 488h0M2607 488h0M2613 496h0M2611 487h0M2618 493h0M2619 493h0M2614 484h0M2620 490h0M2617 483h0M2622 491h0M2620 483h0M2623 488h0M2623 488h0M2620 483h0M2622 482h0M2625 485h0M2626 484h0M2625 483h0M2625 481h0M2627 485h0M2626 481h0M2630 483h0M2630 480h0M2631 480h0"/>
<path stroke="#0000e3" stroke-width="8.8" d="M2011 212h0M2009 220h0M2011 215h0M2013 211h0M2009 221h0M2011 216h0M2011 220h0M2011 221h0M2014 210h0M2011 224h0M2009 229h0M2010 227h0M2011 233h0M2011 233h0M2012 236h0M2012 236h0M2013 235h0M2089 236h0M2090 237h0M2093 246h0M2094 246h0M2096 246h0M2092 261h0M2093 259h0M2097 246h0M2098 247h0M2099 246h0M2102 246h0M2106 258h0M2106 260h0M2109 251h0M2110 251h0M2108 261h0M2115 252h0M2116 252h0M2116 253h0M2117 253h0M2122 255h0M2122 264h0M2123 264h0M2125 256h0M2128 257h0M2128 257h0M2126 264h0M2126 265h0M2126 266h0M2129 257h0M2130 258h0M2133 264h0M2135 262h0M2136 264h0M2136 265h0M2137 264h0M2137 265h0M2138 265h0M2139 263h0M2139 265h0M2139 264h0M2139 266h0M2139 266h0M2140 264h0M2141 265h0M2143 264h0"/>
<path stroke="#0000f5" stroke-width="7.6" d="M1743 916h0M1749 912h0M1750 911h0M1754 912h0M1753 910h0M1754 911h0M1761 909h0M1768 902h0M1771 905h0M1771 904h0M1774 904h0M1774 903h0M1773 900h0M1777 901h0M1778 901h0M1779 900h0M1779 896h0M1784 899h0M1783 895h0M1783 894h0M1786 898h0M1788 893h0M1789 893h0M1790 892h0M1792 891h0M1792 891h0M1794 890h0M1796 893h0M1794 890h0M1797 889h0M1800 891h0M1800 887h0M1802 890h0M1802 887h0M1802 886h0M1806 885h0M1813 882h0M1816 880h0M1818 882h0M1818 879h0M1820 882h0M1822 876h0M1828 879h0M1826 874h0M1830 878h0M1828 874h0M1831 876h0M1832 872h0M1839 870h0M1840 869h0M1840 869h0M1841 871h0M1842 870h0M1842 868h0M1843 868h0M1844 868h0M1846 868h0M1847 868h0M1848 868h0M1848 867h0M1851 866h0M1955 823h0M1956 822h0M1956 816h0M2131 752h0M2132 750h0M2133 746h0M2132 741h0M2133 743h0M2134 744h0M2138 744h0M2140 743h0M2142 743h0M2143 742h0M2144 740h0M2267 688h0M2267 688h0M2282 680h0M2284 681h0M2285 680h0M2289 678h0M2292 676h0M2297 674h0M2298 674h0M2300 673h0M2301 672h0M2302 671h0M2303 672h0M2306 670h0M2306 670h0M2307 670h0M2308 669h0M2310 668h0M2311 667h0M2314 667h0M2315 667h0M2315 666h0M2320 663h0M2326 661h0M2537 569h0M2541 565h0M2543 565h0M2546 566h0M2549 566h0M2551 560h0M2557 563h0M2557 563h0M2561 555h0M2566 552h0M2567 552h0M2573 558h0M2571 549h0M2580 546h0M2585 542h0M2586 542h0M2593 548h0M2593 537h0M2599 544h0M2603 541h0M2605 540h0M2609 538h0M2607 530h0M2615 535h0M2615 535h0M2617 533h0M2617 533h0M2623 529h0M2622 522h0M2634 523h0M2633 516h0M2638 521h0M2634 514h0M2636 514h0M2640 511h0M2642 511h0M2655 504h0M2658 502h0M2663 499h0M2666 505h0M2665 499h0M2672 501h0M2673 501h0M2675 492h0M2680 491h0M2683 495h0M2685 495h0M2686 493h0M2687 488h0M2687 487h0M2688 487h0M2691 490h0M2695 484h0M2698 485h0M2698 485h0M2697 483h0M2702 482h0M2702 482h0M2703 482h0M2704 481h0M2705 481h0M2705 479h0M2709 478h0M1745 1059h0M1748 1059h0M1749 1059h0M1749 1059h0M1750 1059h0M1753 1059h0M1756 1059h0M1757 1060h0M1772 1058h0M1774 1060h0M1797 1057h0M1799 1058h0M1803 1058h0M1804 1058h0M1816 1061h0M1818 1058h0M1819 1060h0M1826 1061h0M1827 1058h0M1828 1058h0M1829 1058h0M1831 1058h0M1832 1057h0M1832 1057h0M1833 1058h0M1838 1060h0M1840 1059h0M1841 1059h0M1847 1060h0M1849 1058h0M1916 1061h0M1917 1061h0M1920 1060h0M1921 1060h0M1923 1061h0M1925 1062h0M1926 1061h0M1929 1062h0M1934 1060h0M1935 1060h0M1935 1062h0M1935 1062h0M1937 1059h0M1941 1062h0M1951 1059h0M1952 1062h0M1962 1059h0M2107 1061h0M2107 1062h0M2112 1061h0M2113 1061h0M2116 1058h0M2124 1061h0M2125 1058h0M2126 1058h0M2126 1060h0M2127 1060h0M2130 1060h0M2131 1059h0M2131 1060h0M2132 1059h0M2132 1060h0M2134 1059h0M2134 1060h0M2134 1060h0M2135 1059h0M2136 1059h0M2140 1059h0M2515 1048h0M2517 1048h0M2517 1048h0M2518 1048h0M2519 1048h0M2520 1048h0M2520 1047h0M2522 1047h0M2526 1046h0M2527 1047h0M2528 1045h0M2537 1048h0M2538 1044h0M2548 1043h0M2548 1046h0M2549 1047h0M2557 1042h0M2561 1042h0M2565 1046h0M2565 1041h0M2565 1041h0M2576 1045h0M2577 1040h0M2578 1045h0M2584 1044h0M2585 1039h0M2587 1044h0M2589 1039h0M2593 1043h0M2601 1043h0M2603 1043h0M2605 1038h0M2607 1037h0M2611 1042h0M2613 1037h0M2615 1035h0M2618 1036h0M2618 1037h0M2627 1035h0M2630 1041h0M2631 1040h0M2634 1040h0M2636 1035h0M2644 1039h0M2644 1034h0M2647 1039h0M2653 1033h0M2658 1037h0M2661 1037h0M2661 1032h0M2662 1037h0M2663 1036h0M2665 1036h0M2673 1035h0M2673 1035h0M2674 1032h0M2677 1031h0M2678 1032h0M2679 1034h0M2687 1033h0M2688 1032h0M2690 1031h0M1740 1082h0M1743 1083h0M1749 1082h0M1752 1082h0M1754 1083h0M1759 1081h0M1767 1081h0M1783 1082h0M1786 1084h0M1786 1084h0M1795 1082h0M1804 1083h0M1805 1081h0M1812 1083h0M1818 1084h0M1819 1083h0M1821 1083h0M1824 1081h0M1831 1084h0M1833 1083h0M1835 1081h0M1853 1084h0M1854 1081h0M1854 1082h0M1858 1081h0M1860 1084h0M1861 1081h0M1862 1083h0M1864 1081h0M1865 1081h0M1867 1083h0M1871 1082h0M1877 1083h0M1877 1082h0M1882 1083h0M1883 1081h0M1884 1084h0M1892 1084h0M1897 1081h0M1897 1083h0M1899 1083h0M1902 1083h0M1913 1083h0M1915 1083h0M1917 1084h0M1918 1083h0M1924 1083h0M1925 1083h0M1929 1083h0M1935 1083h0M1936 1081h0M1944 1082h0M1946 1083h0M1951 1083h0M1951 1083h0M2125 1080h0M2126 1084h0M2128 1082h0M2131 1083h0M2134 1082h0M2134 1082h0M2134 1082h0M2138 1082h0M2138 1083h0M2522 1070h0M2523 1070h0M2525 1070h0M2525 1070h0M2525 1070h0M2528 1069h0M2530 1069h0M2531 1070h0M2532 1070h0M2535 1069h0M2539 1070h0M2540 1068h0M2546 1070h0M2550 1069h0M2554 1067h0M2563 1068h0M2563 1069h0M2564 1068h0M2565 1066h0M2567 1066h0M2575 1065h0M2581 1064h0M2581 1067h0M2584 1064h0M2592 1063h0M2598 1065h0M2599 1065h0M2603 1065h0M2603 1062h0M2607 1065h0M2607 1062h0M2616 1064h0M2618 1064h0M2618 1064h0M2619 1064h0M2622 1063h0M2628 1063h0M2629 1060h0M2640 1061h0M2644 1058h0M2645 1061h0M2647 1061h0M2649 1061h0M2654 1057h0M2656 1059h0M2657 1057h0M2662 1056h0M2665 1056h0M2670 1056h0M2671 1056h0M2672 1058h0M2672 1056h0M2672 1058h0M2675 1058h0M2676 1057h0M2680 1055h0M2683 1056h0M2683 1055h0M2683 1055h0M2684 1055h0M2684 1055h0M2686 1055h0"/>
<path stroke="#0000f5" stroke-width="8.0" d="M1743 883h0M1745 880h0M1746 883h0M1747 884h0M1746 882h0M1747 882h0M1747 881h0M1750 883h0M1750 883h0M1748 879h0M1748 878h0M1752 881h0M1750 878h0M1752 881h0M1750 877h0M1750 876h0M1752 877h0M1756 880h0M1754 876h0M1759 879h0M1761 878h0M1761 871h0M1765 867h0M1767 867h0M1775 874h0M1775 870h0M1776 870h0M1773 865h0M1778 871h0M1775 863h0M1779 869h0M1779 869h0M1776 862h0M1777 861h0M1781 868h0M1779 861h0M1783 867h0M1784 866h0M1781 860h0M1782 858h0M1786 866h0M1782 858h0M1783 858h0M1788 865h0M1786 858h0M1791 863h0M1794 861h0M1794 861h0M1792 854h0M1795 861h0M1795 851h0M1796 851h0M1799 851h0M1802 857h0M1804 856h0M1803 849h0M1808 855h0M1808 854h0M1809 855h0M1805 847h0M1808 847h0M1813 851h0M1815 842h0M1815 841h0M1816 840h0M1819 841h0M1821 838h0M1822 837h0M1827 844h0M1832 843h0M1831 834h0M1835 840h0M1834 834h0M1838 839h0M1839 832h0M1840 830h0M1842 831h0M1845 833h0M1847 828h0M1849 830h0M1850 832h0M1850 830h0M1851 829h0M1852 828h0M2140 708h0M2140 702h0M2141 706h0M2139 699h0M2140 701h0M2574 514h0M2575 515h0M2576 510h0M2579 514h0M2577 509h0M2578 508h0M2578 507h0M2579 506h0M2579 506h0M2586 512h0M2586 511h0M2581 503h0M2582 502h0M2583 503h0M2590 508h0M2591 508h0M2589 500h0M2595 507h0M2592 498h0M2597 506h0M2597 506h0M2602 503h0M2598 493h0M2599 492h0M2606 499h0M2603 492h0M2608 500h0M2607 497h0M2608 497h0M2610 497h0M2607 491h0M2611 494h0M2609 490h0M2610 490h0M2613 492h0M2614 494h0M2612 489h0M2615 492h0M2613 488h0M2616 492h0M2615 489h0M2616 490h0M2614 487h0M2617 491h0M2617 491h0M2618 489h0M2618 487h0M2619 488h0M2620 488h0M2621 487h0"/>
<path stroke="#0000f5" stroke-width="8.8" d="M2012 219h0M2016 207h0M2013 216h0M2014 215h0M2014 214h0M2015 212h0M2015 215h0M2016 212h0M2012 224h0M2016 212h0M2013 224h0M2012 230h0M2012 230h0M2013 225h0M2013 230h0M2013 228h0M2014 236h0M2014 237h0M2017 238h0M2087 234h0M2088 236h0M2089 240h0M2092 245h0M2092 245h0M2088 261h0M2090 254h0M2089 261h0M2094 246h0M2090 259h0M2095 257h0M2098 247h0M2098 247h0M2096 255h0M2098 249h0M2099 249h0M2100 250h0M2099 256h0M2099 257h0M2101 257h0M2101 257h0M2103 259h0M2106 252h0M2107 251h0M2105 258h0M2108 252h0M2106 258h0M2109 252h0M2110 253h0M2110 253h0M2110 259h0M2111 259h0M2115 254h0M2116 254h0M2115 260h0M2116 261h0M2120 256h0M2119 263h0M2121 257h0M2124 263h0M2125 262h0M2125 262h0M2125 263h0M2127 259h0M2128 259h0M2127 263h0M2128 259h0M2128 264h0M2129 262h0M2130 262h0M2130 262h0M2133 262h0"/>
<path stroke="#0000ff" stroke-width="7.6" d="M1756 909h0M1757 909h0M1758 908h0M1759 907h0M1761 907h0M1762 906h0M1763 907h0M1764 906h0M1772 902h0M1772 903h0M1773 901h0M1775 902h0M1776 901h0M1779 899h0M1785 897h0M1788 896h0M1788 896h0M1788 894h0M1788 894h0M1790 895h0M1793 893h0M1794 893h0M1802 888h0M1803 887h0M1806 886h0M1809 884h0M1813 882h0M1816 882h0M1820 880h0M1821 881h0M1821 880h0M1821 881h0M1822 879h0M1825 876h0M1829 876h0M1830 876h0M1830 877h0M1832 875h0M1832 874h0M1833 874h0M1833 873h0M1837 873h0M1959 824h0M1957 815h0M2130 752h0M2132 742h0M2134 745h0M2548 564h0M2550 562h0M2551 564h0M2552 561h0M2553 561h0M2556 561h0M2557 561h0M2556 558h0M2557 558h0M2559 561h0M2558 558h0M2559 557h0M2560 560h0M2563 560h0M2569 553h0M2569 551h0M2576 548h0M2578 554h0M2579 554h0M2580 553h0M2582 553h0M2582 545h0M2587 549h0M2592 546h0M2590 541h0M2594 538h0M2595 539h0M2600 534h0M2607 531h0M2612 536h0M2614 528h0M2616 526h0M2619 531h0M2619 530h0M2623 523h0M2635 523h0M2633 516h0M2634 516h0M2638 521h0M2637 514h0M2640 513h0M2650 508h0M2652 506h0M2657 509h0M2658 508h0M2661 507h0M2664 506h0M2664 500h0M2668 498h0M2673 500h0M2674 495h0M2677 498h0M2676 493h0M2677 493h0M2679 492h0M2679 492h0M2683 494h0M2683 491h0M2685 492h0M2686 489h0M2691 488h0M2693 487h0M2693 485h0M2694 485h0M2696 484h0M2696 484h0M2698 484h0M1760 1059h0M1762 1058h0M1764 1059h0M1764 1059h0M1766 1059h0M1771 1060h0M1780 1060h0M1781 1060h0M1784 1060h0M1784 1058h0M1788 1060h0M1790 1058h0M1791 1058h0M1792 1058h0M1792 1058h0M1793 1058h0M1795 1060h0M1797 1058h0M1799 1060h0M1799 1060h0M1802 1060h0M1803 1060h0M1806 1058h0M1811 1059h0M1811 1060h0M1816 1060h0M1816 1058h0M1819 1060h0M1819 1060h0M1822 1058h0M1828 1058h0M1829 1058h0M1831 1058h0M1833 1059h0M1834 1059h0M1835 1059h0M1926 1061h0M1932 1061h0M1938 1062h0M1938 1060h0M1939 1060h0M1940 1061h0M1940 1060h0M1942 1061h0M1945 1061h0M1948 1062h0M1948 1060h0M1955 1061h0M1957 1061h0M1961 1061h0M1963 1059h0M1994 1063h0M1994 1064h0M1995 1062h0M1995 1058h0M1996 1062h0M1997 1057h0M1998 1063h0M2105 1062h0M2105 1057h0M2106 1058h0M2108 1060h0M2109 1059h0M2115 1059h0M2117 1059h0M2117 1060h0M2118 1058h0M2121 1060h0M2121 1059h0M2121 1060h0M2121 1059h0M2122 1060h0M2122 1059h0M2123 1060h0M2525 1047h0M2531 1045h0M2532 1047h0M2536 1045h0M2537 1047h0M2545 1047h0M2546 1046h0M2551 1044h0M2556 1046h0M2558 1043h0M2567 1041h0M2572 1044h0M2573 1044h0M2577 1040h0M2577 1044h0M2578 1044h0M2578 1040h0M2579 1041h0M2586 1043h0M2587 1040h0M2587 1040h0M2588 1039h0M2598 1042h0M2599 1039h0M2601 1042h0M2602 1038h0M2605 1038h0M2606 1042h0M2607 1039h0M2607 1038h0M2608 1041h0M2618 1037h0M2624 1040h0M2626 1037h0M2631 1039h0M2631 1039h0M2631 1036h0M2634 1040h0M2635 1039h0M2639 1035h0M2642 1035h0M2644 1034h0M2649 1035h0M2657 1037h0M2660 1033h0M2661 1037h0M2664 1036h0M2668 1033h0M2670 1036h0M2681 1032h0M2682 1032h0M2683 1032h0M2684 1033h0M1749 1082h0M1753 1083h0M1754 1082h0M1755 1082h0M1755 1082h0M1757 1083h0M1757 1083h0M1759 1083h0M1763 1083h0M1766 1083h0M1774 1083h0M1775 1083h0M1777 1083h0M1780 1082h0M1780 1083h0M1781 1083h0M1783 1082h0M1784 1082h0M1796 1082h0M1807 1082h0M1809 1083h0M1810 1083h0M1813 1082h0M1814 1082h0M1814 1082h0M1815 1082h0M1817 1083h0M1820 1082h0M1823 1082h0M1826 1083h0M1828 1082h0M1828 1082h0M1829 1082h0M1829 1083h0M1833 1083h0M1834 1082h0M1837 1082h0M1838 1083h0M1840 1083h0M1843 1082h0M1843 1083h0M1845 1082h0M1845 1083h0M1847 1082h0M1852 1082h0M1855 1082h0M1859 1082h0M1863 1083h0M1866 1082h0M1866 1083h0M1869 1082h0M1870 1083h0M1872 1082h0M1875 1083h0M1875 1083h0M1878 1082h0M1881 1083h0M1883 1082h0M1890 1083h0M1897 1082h0M1899 1082h0M1901 1083h0M1902 1082h0M1902 1083h0M1904 1082h0M1906 1082h0M1907 1083h0M1912 1082h0M1912 1082h0M1912 1082h0M1914 1083h0M1919 1083h0M1920 1083h0M1921 1082h0M1923 1082h0M1929 1082h0M1930 1083h0M1931 1083h0M1932 1083h0M1934 1082h0M1935 1082h0M1945 1083h0M1945 1083h0M1947 1082h0M1948 1083h0M1950 1082h0M1950 1082h0M1952 1083h0M1953 1083h0M1955 1084h0M1955 1085h0M2106 1085h0M2108 1084h0M2109 1080h0M2126 1081h0M2126 1083h0M2128 1082h0M2534 1069h0M2537 1070h0M2537 1069h0M2538 1069h0M2538 1068h0M2542 1068h0M2544 1069h0M2544 1068h0M2546 1069h0M2550 1067h0M2550 1069h0M2552 1069h0M2553 1067h0M2557 1067h0M2558 1068h0M2560 1067h0M2563 1068h0M2567 1068h0M2569 1068h0M2569 1065h0M2569 1066h0M2572 1066h0M2575 1066h0M2580 1067h0M2580 1065h0M2583 1066h0M2583 1065h0M2588 1066h0M2591 1066h0M2600 1063h0M2602 1065h0M2607 1064h0M2611 1064h0M2613 1062h0M2614 1062h0M2614 1062h0M2615 1063h0M2617 1061h0M2620 1061h0M2623 1061h0M2624 1063h0M2627 1062h0M2628 1062h0M2630 1060h0M2630 1060h0M2634 1061h0M2638 1061h0M2642 1061h0M2644 1061h0M2644 1060h0M2648 1060h0M2655 1059h0M2661 1057h0M2665 1059h0M2667 1057h0M2672 1056h0M2673 1057h0M2679 1056h0"/>
<path stroke="#0000ff" stroke-width="8.0" d="M1749 880h0M1750 880h0M1750 879h0M1752 878h0M1752 877h0M1753 877h0M1754 879h0M1755 879h0M1754 876h0M1754 876h0M1755 876h0M1757 878h0M1755 875h0M1757 875h0M1759 877h0M1760 877h0M1760 874h0M1762 877h0M1761 872h0M1763 875h0M1764 875h0M1765 875h0M1764 871h0M1768 874h0M1767 870h0M1768 869h0M1769 867h0M1770 868h0M1772 871h0M1773 871h0M1771 868h0M1773 871h0M1776 869h0M1777 869h0M1776 864h0M1778 863h0M1782 867h0M1785 865h0M1782 860h0M1784 860h0M1786 860h0M1791 860h0M1790 858h0M1790 858h0M1793 860h0M1793 859h0M1793 856h0M1793 855h0M1798 854h0M1798 853h0M1799 853h0M1801 851h0M1801 850h0M1802 851h0M1802 851h0M1804 854h0M1806 855h0M1808 854h0M1806 849h0M1806 849h0M1808 849h0M1808 848h0M1809 848h0M1812 847h0M1814 845h0M1815 844h0M1817 848h0M1817 848h0M1819 847h0M1818 844h0M1820 842h0M1823 846h0M1825 845h0M1823 839h0M1824 840h0M1824 839h0M1827 839h0M1833 841h0M1833 840h0M1833 836h0M1836 838h0M1834 834h0M1837 838h0M1835 834h0M1836 834h0M1837 836h0M1838 836h0M1838 835h0M1837 834h0M1840 836h0M1840 835h0M1839 832h0M1840 832h0M1841 834h0M1840 832h0M1842 833h0M1842 833h0M1957 784h0M1958 783h0M2137 700h0M2139 705h0M2139 701h0M2139 701h0M2578 511h0M2578 511h0M2579 510h0M2580 508h0M2581 509h0M2584 510h0M2585 508h0M2584 506h0M2585 508h0M2584 507h0M2585 504h0M2585 504h0M2587 506h0M2586 503h0M2588 506h0M2587 503h0M2589 507h0M2591 508h0M2587 501h0M2591 500h0M2596 497h0M2598 497h0M2601 500h0M2602 501h0M2603 500h0M2602 494h0M2604 495h0M2604 493h0M2609 491h0M2610 491h0M2611 490h0"/>
<path stroke="#0000ff" stroke-width="8.8" d="M2015 219h0M2017 211h0M2017 213h0M2017 214h0M2016 219h0M2016 222h0M2015 225h0M2021 205h0M2014 229h0M2015 229h0M2017 234h0M2016 238h0M2086 236h0M2086 239h0M2089 243h0M2088 246h0M2089 243h0M2085 259h0M2088 249h0M2088 251h0M2085 262h0M2089 249h0M2087 257h0M2086 260h0M2087 260h0M2091 250h0M2088 259h0M2091 249h0M2091 249h0M2093 249h0M2093 252h0M2094 249h0M2094 252h0M2096 254h0M2096 254h0M2097 254h0M2098 251h0M2098 253h0M2102 252h0M2101 255h0M2103 257h0M2106 255h0M2106 256h0M2106 255h0M2107 255h0M2107 256h0M2108 256h0M2110 256h0M2110 258h0M2111 256h0M2112 258h0M2112 257h0M2114 259h0M2115 258h0M2115 259h0M2117 258h0M2117 257h0M2116 260h0M2118 258h0M2118 259h0M2120 261h0M2121 257h0M2122 261h0M2123 261h0M2124 258h0M2124 259h0M2126 260h0"/>
<path stroke="#0008ff" stroke-width="7.6" d="M1958 822h0M1957 820h0M1959 823h0M1958 817h0M1959 813h0M1960 813h0M2130 750h0M2130 750h0M2131 749h0M2131 747h0M2557 560h0M2558 559h0M2558 559h0M2559 558h0M2560 560h0M2559 558h0M2561 558h0M2562 556h0M2566 558h0M2577 550h0M2579 553h0M2579 552h0M2579 547h0M2583 551h0M2583 551h0M2581 546h0M2583 545h0M2585 544h0M2592 542h0M2597 538h0M2602 540h0M2601 536h0M2603 540h0M2603 540h0M2603 539h0M2603 538h0M2605 534h0M2605 533h0M2606 533h0M2608 536h0M2613 534h0M2615 528h0M2617 527h0M2619 530h0M2620 530h0M2618 527h0M2620 529h0M2622 524h0M2623 524h0M2629 520h0M2631 519h0M2634 521h0M2633 518h0M2635 521h0M2635 517h0M2637 519h0M2642 517h0M2642 514h0M2642 513h0M2643 513h0M2645 512h0M2649 513h0M2649 509h0M2651 512h0M2652 511h0M2652 508h0M2655 510h0M2657 509h0M2655 506h0M2658 508h0M2672 496h0M2672 497h0M2673 499h0M2676 494h0M2681 495h0M2681 492h0M2685 490h0M2689 489h0M1774 1059h0M1776 1059h0M1779 1059h0M1780 1059h0M1782 1059h0M1790 1059h0M1790 1059h0M1792 1059h0M1795 1059h0M1796 1059h0M1797 1059h0M1798 1059h0M1798 1059h0M1807 1059h0M1810 1059h0M1811 1059h0M1816 1059h0M1819 1059h0M1820 1059h0M1822 1059h0M1828 1060h0M1829 1059h0M1937 1061h0M1943 1061h0M1946 1060h0M1948 1060h0M1950 1061h0M1953 1060h0M1963 1061h0M1965 1058h0M1966 1058h0M1994 1063h0M1994 1058h0M1995 1060h0M1996 1060h0M1996 1060h0M1999 1057h0M2105 1060h0M2109 1059h0M2115 1059h0M2118 1059h0M2535 1046h0M2539 1046h0M2539 1045h0M2542 1045h0M2543 1045h0M2544 1046h0M2550 1045h0M2550 1044h0M2553 1045h0M2558 1045h0M2560 1045h0M2562 1044h0M2565 1044h0M2568 1044h0M2571 1044h0M2571 1042h0M2572 1042h0M2573 1042h0M2576 1043h0M2576 1041h0M2577 1043h0M2577 1042h0M2578 1043h0M2580 1041h0M2582 1041h0M2585 1041h0M2588 1041h0M2591 1041h0M2592 1042h0M2593 1041h0M2594 1041h0M2595 1041h0M2596 1040h0M2597 1040h0M2599 1039h0M2602 1040h0M2602 1041h0M2606 1040h0M2609 1039h0M2609 1039h0M2610 1039h0M2610 1039h0M2611 1039h0M2612 1040h0M2613 1038h0M2615 1039h0M2616 1040h0M2617 1039h0M2618 1039h0M2621 1040h0M2623 1038h0M2625 1038h0M2627 1039h0M2627 1039h0M2629 1038h0M2630 1039h0M2631 1037h0M2634 1039h0M2637 1036h0M2641 1036h0M2642 1037h0M2642 1038h0M2644 1038h0M2645 1037h0M2650 1035h0M2653 1036h0M2653 1036h0M2654 1035h0M2655 1034h0M2655 1035h0M2658 1034h0M2659 1035h0M2661 1034h0M2662 1036h0M2662 1034h0M2663 1035h0M2663 1034h0M2667 1033h0M2668 1035h0M2671 1034h0M2674 1033h0M1761 1082h0M1762 1082h0M1765 1082h0M1774 1083h0M1781 1082h0M1781 1083h0M1783 1082h0M1797 1083h0M1799 1083h0M1827 1083h0M1831 1083h0M1832 1082h0M1836 1082h0M1836 1082h0M1844 1082h0M1846 1082h0M1850 1082h0M1862 1082h0M1865 1083h0M1873 1082h0M1879 1082h0M1880 1083h0M1888 1083h0M1889 1082h0M1890 1082h0M1892 1083h0M1896 1083h0M1905 1082h0M1907 1083h0M1908 1082h0M1908 1082h0M1910 1082h0M1913 1082h0M1917 1082h0M1925 1082h0M1926 1082h0M1936 1082h0M1941 1082h0M1942 1082h0M1944 1082h0M1952 1082h0M1955 1083h0M1955 1081h0M1955 1084h0M1956 1084h0M2106 1084h0M2107 1082h0M2108 1081h0M2109 1081h0M2110 1084h0M2124 1082h0M2125 1083h0M2541 1069h0M2546 1069h0M2549 1068h0M2549 1068h0M2549 1068h0M2552 1068h0M2553 1068h0M2564 1067h0M2567 1067h0M2570 1067h0M2572 1067h0M2580 1066h0M2580 1066h0M2583 1066h0M2585 1065h0M2588 1066h0M2590 1065h0M2590 1065h0M2591 1065h0M2598 1064h0M2601 1064h0M2605 1063h0M2610 1063h0M2623 1062h0M2631 1061h0M2640 1060h0M2646 1059h0M2649 1059h0M2657 1058h0M2667 1057h0"/>
<path stroke="#0008ff" stroke-width="8.0" d="M1764 874h0M1764 873h0M1769 869h0M1770 869h0M1773 867h0M1774 868h0M1777 866h0M1778 866h0M1781 865h0M1781 863h0M1783 863h0M1783 863h0M1785 862h0M1786 861h0M1787 860h0M1789 860h0M1789 859h0M1791 860h0M1796 857h0M1798 855h0M1798 854h0M1799 855h0M1803 853h0M1804 851h0M1806 852h0M1807 851h0M1809 850h0M1809 848h0M1812 849h0M1816 846h0M1816 846h0M1822 844h0M1827 840h0M1833 839h0M1834 836h0M1958 793h0M1959 793h0M1959 793h0M2125 718h0M2127 718h0M2124 702h0M2125 702h0M2127 701h0M2134 716h0M2130 702h0M2131 700h0M2132 699h0M2137 712h0M2137 711h0M2138 707h0M2138 707h0M2588 505h0M2591 505h0M2591 504h0M2593 503h0M2593 501h0M2595 502h0M2595 502h0M2596 500h0M2599 499h0M2600 497h0M2603 496h0M2604 496h0"/>
<path stroke="#0008ff" stroke-width="8.8" d="M2021 207h0M2019 219h0M2021 214h0M2018 225h0M2017 227h0M2017 229h0M2017 231h0M2018 232h0M2020 241h0M2082 234h0M2084 239h0M2081 263h0M2081 262h0M2087 244h0M2086 246h0M2086 246h0M2087 247h0M2087 247h0M2085 257h0M2087 252h0M2088 247h0M2087 250h0M2088 252h0"/>
<path stroke="#0018ff" stroke-width="7.6" d="M1958 821h0M1958 821h0M1959 818h0M1958 816h0M1959 814h0M2130 749h0M2128 743h0M2130 746h0M2130 747h0M2570 555h0M2570 553h0M2571 554h0M2574 553h0M2578 550h0M2583 549h0M2592 541h0M2599 539h0M2601 538h0M2608 533h0M2608 533h0M2609 532h0M2609 532h0M2610 532h0M2616 531h0M2618 529h0M2622 525h0M2625 525h0M2627 524h0M2629 523h0M2631 521h0M2633 521h0M2633 521h0M2639 518h0M2639 517h0M2643 514h0M2644 513h0M2644 512h0M2645 514h0M2645 513h0M2648 511h0M2653 508h0M2653 507h0M2655 508h0M2659 506h0M2659 506h0M2660 505h0M2662 504h0M2669 500h0M2669 499h0M2672 498h0M2674 497h0M2675 496h0M1965 1060h0M1966 1060h0M1967 1064h0M1992 1057h0M1993 1058h0M1993 1058h0M1994 1059h0M1997 1059h0M1998 1058h0M1998 1058h0M1998 1063h0M2102 1057h0M2103 1056h0M2104 1059h0M1956 1083h0M1957 1081h0M1957 1081h0M1957 1084h0M2105 1085h0M2110 1081h0M2111 1081h0M2123 1084h0M2123 1083h0"/>
<path stroke="#0018ff" stroke-width="8.0" d="M1959 793h0M1959 786h0M1959 784h0M1959 781h0M2123 718h0M2123 716h0M2124 712h0M2124 712h0M2124 710h0M2123 703h0M2128 717h0M2132 714h0M2133 716h0M2129 702h0M2133 713h0M2130 702h0M2130 699h0M2134 711h0M2131 700h0M2136 708h0M2136 705h0"/>
<path stroke="#0018ff" stroke-width="8.8" d="M2020 216h0M2020 219h0M2023 214h0M2024 210h0M2021 219h0M2020 223h0M2022 217h0M2020 232h0M2020 234h0M2023 236h0M2079 231h0M2083 239h0M2085 248h0M2084 255h0M2085 255h0"/>
<path stroke="#0028ff" stroke-width="7.6" d="M1960 821h0M1959 816h0M2114 757h0M2114 748h0M2125 754h0M2129 749h0M1968 1062h0M1990 1063h0M1992 1062h0M1993 1060h0M1999 1058h0M2000 1063h0M2000 1062h0M2000 1063h0M2000 1058h0M2039 1063h0M2042 1056h0M2103 1058h0M1958 1081h0M2103 1084h0M2104 1080h0M2106 1083h0M2110 1081h0M2110 1083h0M2112 1084h0M2115 1080h0M2117 1084h0M2117 1080h0M2120 1081h0M2123 1083h0"/>
<path stroke="#0028ff" stroke-width="8.0" d="M1959 789h0M1960 789h0M1959 785h0M2122 719h0M2122 715h0M2123 713h0M2121 703h0M2128 715h0M2128 714h0M2126 709h0M2126 707h0M2128 714h0M2127 709h0M2129 715h0M2129 713h0M2129 713h0M2127 706h0M2128 706h0M2130 713h0M2131 713h0M2132 712h0M2131 704h0M2132 704h0M2133 704h0"/>
<path stroke="#0028ff" stroke-width="8.8" d="M2022 224h0M2024 218h0M2026 216h0M2021 231h0M2023 234h0M2024 235h0M2025 238h0M2024 241h0M2025 241h0M2025 244h0M2027 241h0M2028 242h0M2076 228h0M2077 233h0M2079 231h0M2080 237h0M2081 238h0M2082 241h0M2082 242h0M2082 245h0M2082 244h0M2082 246h0M2082 248h0M2083 247h0M2081 259h0M2083 252h0"/>
<path stroke="#0038ff" stroke-width="7.6" d="M1963 823h0M1977 816h0M2112 749h0M2114 749h0M2116 748h0M2127 752h0M2127 750h0M2128 748h0M2128 746h0M1968 1060h0M1969 1059h0M1971 1064h0M1972 1057h0M1992 1062h0M1992 1060h0M2000 1058h0M2040 1062h0M2079 1057h0M2079 1057h0M1958 1083h0M2103 1085h0M2104 1081h0M2105 1083h0M2105 1082h0M2111 1083h0M2112 1083h0M2112 1082h0M2113 1081h0M2117 1081h0M2118 1081h0M2118 1081h0M2119 1082h0"/>
<path stroke="#0038ff" stroke-width="8.0" d="M1960 790h0M1960 788h0M1960 788h0M1963 791h0M1960 785h0M1960 785h0M1960 785h0M1960 784h0M1962 779h0M2128 711h0M2128 709h0M2128 708h0M2130 710h0M2131 710h0M2131 709h0M2131 705h0M2131 705h0"/>
<path stroke="#0038ff" stroke-width="8.8" d="M2024 223h0M2023 228h0M2024 223h0M2024 233h0M2024 232h0M2025 236h0M2027 238h0M2028 241h0M2029 245h0M2031 242h0M2029 248h0M2079 241h0M2079 240h0M2080 237h0M2080 240h0M2080 242h0M2080 242h0M2081 242h0M2077 257h0M2080 250h0M2081 248h0M2082 247h0M2080 252h0M2080 251h0M2078 259h0M2081 253h0"/>
<path stroke="#0048ff" stroke-width="7.6" d="M1964 822h0M1962 813h0M1964 809h0M1976 806h0M2113 756h0M2115 756h0M2116 756h0M2121 756h0M2118 747h0M2119 746h0M2122 746h0M2124 744h0M1969 1061h0M1971 1063h0M1971 1057h0M1989 1057h0M1991 1061h0M1991 1060h0M2000 1061h0M2039 1062h0M2040 1061h0M2041 1058h0M2041 1062h0M2044 1057h0M2080 1058h0M2080 1057h0M2081 1058h0M2081 1057h0M2082 1063h0M2098 1063h0M2099 1063h0M2100 1061h0M2101 1058h0M2101 1058h0M2101 1060h0M1963 1085h0M1977 1080h0M1980 1084h0M1980 1084h0M1981 1081h0M2114 1083h0M2115 1081h0M2115 1083h0M2115 1082h0M2115 1083h0M2118 1081h0M2118 1083h0"/>
<path stroke="#0048ff" stroke-width="8.0" d="M1962 790h0M1961 788h0M1961 783h0M1962 783h0M1962 781h0M1962 780h0M1964 779h0M1976 786h0M1977 772h0M2120 719h0M2120 717h0M2121 714h0M2121 713h0M2121 706h0"/>
<path stroke="#0048ff" stroke-width="8.8" d="M2025 223h0M2024 226h0M2027 217h0M2026 223h0M2027 220h0M2025 226h0M2027 221h0M2026 225h0M2027 223h0M2026 227h0M2034 213h0M2032 243h0M2035 244h0M2035 247h0M2035 251h0M2070 230h0M2078 241h0M2073 257h0M2078 244h0M2078 246h0M2074 260h0M2079 247h0M2079 247h0M2076 257h0M2078 253h0"/>
<path stroke="#0058ff" stroke-width="7.6" d="M1962 819h0M1966 810h0M1975 817h0M1979 814h0M1977 808h0M1977 807h0M1979 806h0M1979 806h0M1979 805h0M2113 755h0M2113 755h0M2115 754h0M2115 753h0M2115 751h0M2121 754h0M2122 755h0M2122 747h0M2124 745h0M1970 1062h0M1971 1058h0M2002 1060h0M2038 1061h0M2041 1061h0M2044 1057h0M2075 1063h0M2077 1058h0M2077 1057h0M2078 1058h0M2079 1059h0M2080 1061h0M2081 1059h0M2081 1061h0M2082 1063h0M2098 1057h0M2100 1059h0M1963 1081h0M1963 1080h0M1963 1080h0M1963 1085h0M1964 1084h0M1980 1082h0M1983 1081h0M2104 1083h0M2104 1082h0"/>
<path stroke="#0058ff" stroke-width="8.0" d="M1964 792h0M1964 778h0M1965 778h0M1974 787h0M1976 787h0M1975 785h0M1974 774h0M1979 771h0M2107 710h0M2107 709h0M2118 722h0M2118 720h0M2120 710h0"/>
<path stroke="#0058ff" stroke-width="8.8" d="M2029 220h0M2028 232h0M2029 237h0M2036 246h0M2066 229h0M2071 231h0M2068 260h0M2077 242h0M2071 259h0M2075 248h0M2075 252h0M2077 247h0M2075 252h0M2076 254h0M2076 254h0"/>
<path stroke="#0068ff" stroke-width="7.6" d="M1965 820h0M1966 821h0M1969 810h0M1974 817h0M1976 814h0M1978 810h0M1978 810h0M1979 812h0M1979 806h0M2001 806h0M2000 796h0M2112 751h0M2117 750h0M2121 753h0M2123 752h0M2123 752h0M2122 747h0M2124 751h0M1972 1061h0M1972 1061h0M1980 1064h0M1987 1058h0M1987 1058h0M1988 1061h0M2004 1058h0M2036 1058h0M2043 1060h0M2081 1060h0M2082 1061h0M2084 1062h0M2086 1063h0M2087 1062h0M2096 1063h0M2098 1062h0M2098 1058h0M1962 1081h0M1963 1081h0M1963 1081h0M1964 1084h0M1964 1084h0M1965 1081h0M1972 1080h0M1979 1084h0M1982 1081h0M1982 1084h0M2101 1084h0"/>
<path stroke="#0068ff" stroke-width="8.0" d="M1963 787h0M1963 784h0M1972 789h0M1972 788h0M1970 775h0M1978 785h0M1978 784h0M1980 785h0M1977 777h0M1977 775h0M1980 771h0M2105 727h0M2105 727h0M2110 726h0M2113 723h0M2109 707h0M2117 722h0M2115 708h0M2119 716h0M2116 704h0M2117 706h0M2116 703h0"/>
<path stroke="#0068ff" stroke-width="8.8" d="M2029 224h0M2031 221h0M2031 220h0M2031 223h0M2032 221h0M2031 223h0M2029 229h0M2029 229h0M2034 219h0M2037 214h0M2037 217h0M2036 245h0M2036 244h0M2038 248h0M2038 247h0M2064 226h0M2065 228h0M2063 257h0M2073 240h0M2073 240h0M2074 240h0M2075 242h0M2071 253h0M2074 247h0M2075 244h0M2073 252h0M2075 249h0"/>
<path stroke="#0078ff" stroke-width="7.6" d="M1968 820h0M1966 811h0M1971 818h0M1967 810h0M1968 810h0M1971 817h0M1973 817h0M1970 809h0M1973 809h0M1974 808h0M1976 809h0M1976 809h0M1980 813h0M1979 807h0M1998 807h0M2000 803h0M2109 759h0M2112 754h0M2119 753h0M2119 753h0M2118 751h0M2119 751h0M2119 749h0M2121 752h0M2120 751h0M2121 751h0M2121 750h0M2122 750h0M2122 748h0M1972 1059h0M1976 1063h0M1976 1063h0M1979 1058h0M1983 1063h0M1985 1062h0M1985 1062h0M1986 1058h0M1987 1062h0M2004 1059h0M2009 1056h0M2043 1059h0M2044 1058h0M2044 1058h0M2046 1063h0M2047 1063h0M2048 1057h0M2073 1057h0M2075 1062h0M2076 1060h0M2076 1061h0M2082 1059h0M2083 1058h0M2086 1057h0M2086 1057h0M2087 1062h0M2088 1057h0M2091 1063h0M2096 1061h0M2098 1061h0M1964 1081h0M1967 1084h0M1975 1084h0M1976 1081h0M1977 1083h0M1978 1083h0M1978 1083h0M1984 1085h0"/>
<path stroke="#0078ff" stroke-width="8.0" d="M1964 788h0M1965 789h0M1966 789h0M1964 783h0M1965 779h0M1969 788h0M1966 780h0M1967 779h0M1975 785h0M1979 784h0M1976 776h0M1977 779h0M1978 781h0M1976 775h0M2105 726h0M2106 724h0M2110 724h0M2105 709h0M2112 723h0M2115 721h0M2112 705h0M2116 708h0M2118 711h0"/>
<path stroke="#0078ff" stroke-width="8.8" d="M2032 223h0M2031 231h0M2033 225h0M2033 227h0M2031 231h0M2032 229h0M2034 224h0M2035 219h0M2035 220h0M2034 225h0M2032 237h0M2035 239h0M2035 241h0M2038 246h0M2038 244h0M2042 247h0M2043 248h0M2045 251h0M2058 227h0M2067 232h0M2061 255h0M2071 235h0M2073 241h0M2072 246h0M2071 249h0M2071 251h0M2070 253h0M2073 247h0M2073 246h0"/>
<path stroke="#0087ff" stroke-width="7.6" d="M1965 817h0M1966 819h0M1966 818h0M1966 814h0M1971 817h0M1971 817h0M1970 810h0M1970 810h0M1972 816h0M1974 815h0M1979 810h0M1980 807h0M1981 806h0M1998 807h0M1998 797h0M2002 795h0M2107 760h0M2107 752h0M2111 757h0M2111 755h0M1974 1060h0M1974 1061h0M1977 1063h0M1978 1058h0M1980 1058h0M1983 1058h0M1984 1058h0M1985 1062h0M1987 1060h0M2004 1060h0M2004 1060h0M2034 1062h0M2034 1058h0M2035 1059h0M2036 1060h0M2045 1059h0M2045 1059h0M2071 1063h0M2085 1059h0M2085 1058h0M2091 1062h0M2096 1061h0M2097 1060h0M1968 1084h0M1972 1084h0M1983 1082h0M1984 1081h0M2081 1084h0M2082 1084h0M2099 1080h0M2100 1084h0"/>
<path stroke="#0087ff" stroke-width="8.0" d="M1965 787h0M1967 788h0M1965 782h0M1965 782h0M1966 779h0M1972 786h0M1968 777h0M1972 785h0M1973 785h0M1974 785h0M1971 777h0M1975 782h0M1975 777h0M1979 781h0M1979 776h0M2108 721h0M2107 715h0M2105 710h0M2109 710h0M2114 720h0M2115 709h0M2117 715h0M2117 713h0M2118 713h0M2116 708h0M2117 709h0"/>
<path stroke="#0087ff" stroke-width="8.8" d="M2036 222h0M2034 227h0M2040 217h0M2034 236h0M2041 218h0M2035 235h0M2040 222h0M2036 237h0M2043 245h0M2055 221h0M2045 248h0M2047 247h0M2059 224h0M2059 225h0M2052 249h0M2061 230h0M2062 228h0M2064 227h0M2067 231h0M2068 236h0M2069 237h0M2066 252h0M2070 243h0M2070 244h0M2069 247h0M2069 250h0"/>
<path stroke="#0097ff" stroke-width="7.6" d="M1965 815h0M1968 817h0M1968 818h0M1968 812h0M1969 811h0M1973 815h0M1981 812h0M1982 814h0M1980 808h0M1981 805h0M1996 808h0M1999 798h0M2002 797h0M2092 767h0M2095 765h0M2110 754h0M1977 1059h0M1977 1061h0M1978 1062h0M1980 1058h0M1984 1059h0M1985 1060h0M2005 1060h0M2005 1061h0M2010 1063h0M2033 1058h0M2034 1062h0M2045 1061h0M2046 1058h0M2084 1059h0M2085 1059h0M2086 1060h0M2086 1061h0M2089 1057h0M2091 1062h0M2093 1060h0M2093 1058h0M2095 1061h0M2096 1059h0M1965 1082h0M1966 1084h0M1967 1081h0M1971 1081h0M1972 1083h0M1974 1083h0M1974 1083h0M1984 1081h0M2079 1084h0M2083 1080h0M2097 1080h0M2097 1080h0"/>
<path stroke="#0097ff" stroke-width="8.0" d="M1966 784h0M1968 787h0M1969 778h0M1970 778h0M1974 783h0M1974 782h0M1972 778h0M1972 778h0M1974 780h0M1975 780h0M2002 776h0M2089 735h0M2103 709h0M2103 710h0M2109 720h0M2108 717h0M2108 714h0M2109 714h0M2115 718h0M2116 711h0M2116 711h0"/>
<path stroke="#0097ff" stroke-width="8.8" d="M2035 229h0M2037 224h0M2036 229h0M2037 226h0M2036 231h0M2035 233h0M2037 229h0M2039 224h0M2040 222h0M2037 236h0M2037 235h0M2037 235h0M2042 224h0M2038 239h0M2043 224h0M2039 239h0M2039 239h0M2048 221h0M2054 224h0M2054 225h0M2055 224h0M2051 252h0M2062 229h0M2062 229h0M2062 229h0M2057 251h0M2065 233h0M2059 250h0M2066 235h0M2066 237h0M2068 239h0M2064 249h0M2064 249h0M2067 243h0M2065 249h0M2065 250h0M2069 243h0M2068 246h0M2067 248h0M2067 248h0"/>
<path stroke="#00a7ff" stroke-width="7.6" d="M1967 815h0M1967 814h0M1968 815h0M1969 815h0M1970 815h0M1970 816h0M1972 814h0M1972 813h0M1981 810h0M1981 806h0M1982 806h0M1982 805h0M1997 808h0M2093 768h0M2092 758h0M2096 756h0M2106 752h0M2108 753h0M2109 756h0M2110 755h0M1977 1060h0M1978 1061h0M1979 1059h0M1979 1061h0M1980 1062h0M2009 1062h0M2009 1057h0M2027 1063h0M2033 1061h0M2046 1059h0M2048 1062h0M2048 1058h0M2050 1057h0M2067 1056h0M2070 1057h0M2073 1058h0M2074 1059h0M2074 1059h0M2074 1059h0M2074 1060h0M2086 1060h0M2087 1059h0M2087 1058h0M2088 1059h0M2089 1061h0M2091 1060h0M2093 1059h0M2094 1059h0M1967 1083h0M1967 1083h0M1967 1082h0M1969 1083h0M1969 1081h0M1970 1082h0M1970 1081h0M1971 1083h0M1971 1083h0M1971 1083h0M1973 1082h0M1974 1083h0M1984 1083h0M1984 1083h0M1985 1081h0M2080 1081h0M2083 1080h0"/>
<path stroke="#00a7ff" stroke-width="8.0" d="M1967 782h0M1968 784h0M1968 783h0M1969 785h0M1970 785h0M1968 781h0M1971 783h0M1971 783h0M1971 779h0M1973 782h0M1981 782h0M1981 782h0M1980 774h0M1981 771h0M2106 717h0M2105 714h0M2109 716h0M2110 717h0M2110 718h0M2109 715h0M2112 718h0M2113 719h0M2111 714h0M2113 712h0M2114 714h0"/>
<path stroke="#00a7ff" stroke-width="8.8" d="M2040 230h0M2044 222h0M2041 237h0M2041 238h0M2042 241h0M2044 243h0M2050 226h0M2055 226h0M2056 227h0M2059 230h0M2053 249h0M2056 248h0M2055 251h0M2058 251h0M2060 251h0M2066 240h0M2064 245h0M2065 243h0M2062 251h0"/>
<path stroke="#00b7ff" stroke-width="7.6" d="M1969 814h0M1970 812h0M1981 810h0M1983 812h0M1997 806h0M1999 802h0M2002 801h0M2002 800h0M2004 795h0M2062 770h0M2093 759h0M2106 762h0M2104 752h0M2106 752h0M2008 1059h0M2008 1059h0M2010 1058h0M2024 1064h0M2029 1062h0M2033 1059h0M2048 1059h0M2049 1062h0M2071 1058h0M2072 1061h0M2088 1060h0M1971 1082h0M1986 1081h0M2078 1081h0M2084 1080h0M2084 1084h0M2085 1085h0M2085 1081h0M2086 1080h0M2086 1081h0M2097 1081h0M2098 1083h0M2099 1082h0"/>
<path stroke="#00b7ff" stroke-width="8.0" d="M1969 782h0M1969 782h0M1981 782h0M1981 782h0M1981 774h0M2001 760h0M2091 734h0M2090 715h0M2090 713h0M2102 728h0M2101 709h0M2105 716h0M2104 713h0M2112 716h0"/>
<path stroke="#00b7ff" stroke-width="8.8" d="M2040 231h0M2041 230h0M2041 232h0M2044 229h0M2047 226h0M2043 237h0M2043 238h0M2043 239h0M2050 226h0M2045 241h0M2046 243h0M2053 229h0M2054 228h0M2049 246h0M2056 230h0M2052 246h0M2059 233h0M2055 247h0M2060 236h0M2060 237h0M2057 247h0M2058 246h0M2062 237h0M2059 247h0M2060 244h0M2059 245h0M2060 246h0M2061 242h0M2063 245h0"/>
<path stroke="#00c7ff" stroke-width="7.6" d="M1995 808h0M1996 806h0M1998 800h0M2089 769h0M2089 759h0M2093 764h0M2093 763h0M2098 755h0M2100 754h0M2008 1060h0M2009 1061h0M2011 1062h0M2013 1063h0M2019 1057h0M2020 1056h0M2020 1057h0M2023 1063h0M2024 1057h0M2027 1057h0M2031 1059h0M2054 1057h0M2055 1057h0M2056 1063h0M2068 1057h0M2069 1062h0M2070 1061h0M2070 1058h0M2070 1058h0M2071 1061h0M1986 1083h0M1989 1085h0M1989 1084h0M2086 1084h0M2091 1084h0M2092 1084h0M2094 1081h0M2094 1081h0M2095 1084h0M2095 1081h0M2098 1083h0M2098 1082h0"/>
<path stroke="#00c7ff" stroke-width="8.0" d="M1980 778h0M1981 779h0M2089 731h0M2089 730h0M2099 712h0M2104 719h0M2102 710h0"/>
<path stroke="#00c7ff" stroke-width="8.8" d="M2046 228h0M2046 234h0M2049 229h0M2047 237h0M2048 235h0M2047 237h0M2047 241h0M2048 239h0M2050 233h0M2048 240h0M2053 228h0M2050 238h0M2049 241h0M2053 233h0M2053 233h0M2054 231h0M2052 241h0M2053 240h0M2056 236h0M2057 233h0M2053 244h0M2055 242h0M2055 242h0M2056 242h0M2058 240h0M2058 241h0"/>
<path stroke="#00d7ff" stroke-width="7.6" d="M1982 809h0M1994 808h0M1997 805h0M2003 800h0M2005 803h0M2003 797h0M2028 795h0M2061 771h0M2063 769h0M2092 763h0M2092 761h0M2093 764h0M2102 755h0M2105 759h0M2103 753h0M2104 755h0M2009 1061h0M2010 1061h0M2010 1060h0M2016 1057h0M2016 1063h0M2023 1063h0M2025 1062h0M2029 1062h0M2049 1060h0M2050 1061h0M2051 1061h0M2051 1058h0M2052 1062h0M2054 1057h0M2062 1063h0M2063 1056h0M2066 1057h0M2067 1062h0M2071 1059h0M1987 1081h0M2077 1081h0M2078 1084h0M2083 1082h0M2083 1083h0M2084 1081h0M2091 1084h0M2096 1081h0M2097 1082h0"/>
<path stroke="#00d7ff" stroke-width="8.0" d="M1982 780h0M1982 780h0M1984 783h0M1999 777h0M2004 774h0M2092 731h0M2091 717h0M2099 732h0M2098 711h0"/>
<path stroke="#00d7ff" stroke-width="8.8" d="M2053 237h0M2054 238h0M2055 237h0"/>
<path stroke="#01e7f5" stroke-width="7.6" d="M1995 807h0M1996 800h0M1997 802h0M2004 802h0M2059 772h0M2060 772h0M2090 766h0M2091 765h0M2091 760h0M2094 764h0M2095 759h0M2096 758h0M2103 762h0M2103 761h0M2101 754h0M2102 755h0M2106 755h0M2011 1059h0M2011 1059h0M2012 1059h0M2014 1058h0M2015 1058h0M2029 1061h0M2054 1062h0M2057 1063h0M2059 1057h0M2063 1062h0M2065 1058h0M2069 1061h0M2070 1060h0M1990 1084h0M1992 1080h0M2011 1081h0M2088 1081h0M2089 1084h0M2089 1081h0M2090 1084h0M2094 1081h0M2096 1083h0"/>
<path stroke="#01e7f5" stroke-width="8.0" d="M1983 781h0M1982 778h0M1987 781h0M1988 765h0M1998 776h0M1999 776h0M1999 762h0M1999 761h0M2001 764h0M2085 735h0M2086 734h0M2088 731h0M2091 730h0M2089 724h0M2093 733h0M2099 727h0M2100 728h0M2103 718h0M2102 714h0"/>
<path stroke="#0ef7e9" stroke-width="7.6" d="M1984 809h0M1988 810h0M1987 803h0M1994 807h0M1996 805h0M2004 801h0M2008 804h0M2027 793h0M2026 786h0M2059 772h0M2059 770h0M2089 767h0M2087 760h0M2091 761h0M2095 760h0M2097 763h0M2096 759h0M2097 758h0M2104 756h0M2105 758h0M2105 756h0M2013 1061h0M2013 1062h0M2017 1062h0M2023 1062h0M2023 1062h0M2025 1058h0M2054 1061h0M2064 1058h0M2065 1058h0M2066 1061h0M2067 1061h0M1987 1083h0M2013 1081h0M2076 1081h0M2086 1083h0M2086 1083h0M2088 1081h0M2091 1081h0M2094 1082h0M2095 1082h0"/>
<path stroke="#0ef7e9" stroke-width="8.0" d="M1985 770h0M1996 762h0M2002 769h0M2003 771h0M2001 768h0M2002 767h0M2000 762h0M2002 766h0M2002 764h0M2066 745h0M2089 726h0M2086 717h0M2090 723h0M2097 730h0M2099 730h0M2095 712h0M2095 712h0M2100 714h0"/>
<path stroke="#1bffdc" stroke-width="7.6" d="M1994 799h0M1995 801h0M1995 802h0M2005 796h0M2009 792h0M2028 793h0M2028 784h0M2031 783h0M2098 759h0M2101 757h0M2101 756h0M2103 760h0M2103 760h0M2102 757h0M2104 759h0M2103 756h0M2104 757h0M2018 1058h0M2021 1062h0M2023 1062h0M2023 1058h0M2025 1058h0M2026 1060h0M2027 1060h0M2056 1062h0M2057 1061h0M2058 1058h0M2059 1058h0M2061 1058h0M1988 1082h0M1989 1081h0M2075 1080h0M2077 1081h0M2086 1083h0M2087 1083h0M2088 1083h0M2091 1081h0"/>
<path stroke="#1bffdc" stroke-width="8.0" d="M1986 781h0M1995 776h0M1996 777h0M1998 775h0M1999 774h0M1997 762h0M2001 768h0M2005 758h0M2065 744h0M2066 744h0M2063 726h0M2068 725h0M2087 730h0M2092 717h0M2094 717h0M2095 715h0M2101 716h0"/>
<path stroke="#28ffcf" stroke-width="7.6" d="M1989 809h0M1987 804h0M1992 807h0M1991 801h0M1994 806h0M1993 801h0M1994 805h0M1995 804h0M2007 802h0M2027 789h0M2027 788h0M2063 777h0M2065 778h0M2064 770h0M2086 770h0M2087 769h0M2089 765h0M2088 761h0M2090 764h0M2090 764h0M2090 762h0M2099 760h0M2100 759h0M2101 760h0M2101 759h0M2101 758h0M2101 757h0M2015 1060h0M2016 1060h0M2017 1062h0M2023 1061h0M2055 1060h0M2064 1059h0M1990 1083h0M2003 1080h0M2010 1083h0M2011 1081h0M2012 1084h0M2077 1083h0M2088 1082h0M2089 1083h0"/>
<path stroke="#28ffcf" stroke-width="8.0" d="M1989 780h0M1990 764h0M1997 763h0M2003 768h0M2007 772h0M2033 762h0M2033 739h0M2067 725h0M2087 730h0M2087 723h0M2091 726h0M2093 729h0M2091 724h0M2094 718h0M2095 715h0"/>
<path stroke="#35ffc2" stroke-width="7.6" d="M1987 805h0M1990 802h0M1992 807h0M1993 802h0M1994 803h0M2023 786h0M2026 792h0M2027 789h0M2027 789h0M2029 793h0M2060 779h0M2058 773h0M2064 772h0M2064 771h0M2088 768h0M2089 762h0M2021 1060h0M2021 1060h0M2021 1060h0M2058 1059h0M2059 1059h0M2059 1060h0M2060 1060h0M2061 1060h0M2062 1059h0M2062 1061h0M2063 1060h0M1992 1084h0M2010 1081h0M2010 1083h0M2014 1081h0M2014 1084h0M2015 1080h0M2075 1084h0M2076 1083h0M2076 1082h0"/>
<path stroke="#35ffc2" stroke-width="8.0" d="M1986 779h0M1985 777h0M1985 772h0M1992 779h0M1990 765h0M1996 775h0M1999 772h0M1996 764h0M2007 774h0M2006 770h0M2008 757h0M2033 760h0M2083 737h0M2086 731h0M2087 723h0M2092 726h0M2093 728h0M2092 723h0M2092 724h0M2094 727h0M2095 729h0M2096 728h0M2096 717h0M2096 714h0M2100 721h0"/>
<path stroke="#42ffb5" stroke-width="7.6" d="M1989 808h0M1991 806h0M2022 796h0M2024 796h0M2025 794h0M2026 788h0M2028 789h0M2030 784h0M2031 782h0M2083 770h0M2088 767h0M2088 761h0M2001 1080h0M2009 1081h0M2009 1083h0M2012 1083h0M2014 1081h0M2042 1085h0M2042 1085h0M2046 1084h0M2072 1080h0M2074 1084h0M2075 1083h0"/>
<path stroke="#42ffb5" stroke-width="8.0" d="M1986 778h0M1990 779h0M1990 767h0M1995 777h0M1991 766h0M1991 767h0M1998 770h0M2004 768h0M2006 770h0M2004 765h0M2005 761h0M2006 760h0M2007 757h0M2034 743h0M2062 729h0M2066 730h0M2085 732h0M2094 725h0M2093 722h0M2094 726h0M2094 724h0M2098 725h0M2099 718h0"/>
<path stroke="#4effa8" stroke-width="7.6" d="M1988 806h0M1988 806h0M1989 805h0M1989 804h0M1990 806h0M1991 805h0M2006 797h0M2008 801h0M2028 790h0M2029 791h0M2031 792h0M2029 786h0M2055 783h0M2056 783h0M2059 774h0M2060 775h0M2082 773h0M2084 771h0M2087 762h0M1991 1082h0M1991 1083h0M2012 1083h0M2013 1082h0M2046 1084h0M2046 1084h0M2075 1083h0M2075 1083h0"/>
<path stroke="#4effa8" stroke-width="8.0" d="M1986 776h0M1988 777h0M1986 773h0M1987 771h0M1989 768h0M1994 776h0M1997 765h0M2009 773h0M2033 742h0M2069 744h0M2068 741h0M2065 734h0M2083 735h0M2094 723h0M2096 725h0M2095 723h0M2097 725h0M2096 723h0"/>
<path stroke="#5bff9c" stroke-width="7.6" d="M2014 800h0M2012 790h0M2024 789h0M2054 784h0M2054 772h0M2059 777h0M2059 774h0M2086 768h0M1992 1083h0M1996 1084h0M1997 1084h0M2001 1081h0M2003 1081h0M2007 1081h0M2044 1081h0M2046 1084h0M2046 1082h0M2048 1084h0M2051 1080h0M2072 1085h0M2073 1084h0M2074 1083h0"/>
<path stroke="#5bff9c" stroke-width="8.0" d="M1989 777h0M1992 776h0M1989 769h0M1989 769h0M1994 775h0M2032 744h0M2034 744h0M2073 742h0M2080 737h0M2081 719h0M2085 727h0"/>
<path stroke="#68ff8f" stroke-width="7.6" d="M2018 789h0M2023 794h0M2031 790h0M2054 784h0M2056 781h0M2058 775h0M2068 777h0M2087 765h0M2006 1082h0M2016 1084h0M2017 1081h0M2041 1085h0M2045 1083h0M2047 1081h0M2049 1081h0M2074 1082h0"/>
<path stroke="#68ff8f" stroke-width="8.0" d="M1989 771h0M1991 770h0M1995 773h0M1995 772h0M1996 771h0M1994 768h0M2008 770h0M2006 766h0M2028 765h0M2031 745h0M2063 740h0M2070 726h0M2083 734h0M2084 731h0M2084 730h0M2084 730h0"/>
<path stroke="#75ff82" stroke-width="7.6" d="M2008 799h0M2009 800h0M2008 797h0M2021 796h0M2024 792h0M2033 790h0M2051 785h0M2053 783h0M2056 780h0M2054 774h0M2056 774h0M2057 775h0M2058 776h0M2071 776h0M2073 775h0M2082 772h0M2080 763h0M2085 768h0M2085 763h0M1993 1082h0M1993 1082h0M1994 1082h0M1994 1083h0M1995 1081h0M2004 1081h0M2015 1082h0M2050 1081h0M2069 1080h0M2071 1084h0M2074 1082h0"/>
<path stroke="#75ff82" stroke-width="8.0" d="M1990 774h0M1989 772h0M1992 775h0M1991 772h0M1991 771h0M1992 772h0M1991 770h0M1993 769h0M2014 751h0M2027 765h0M2027 764h0M2035 757h0M2031 745h0M2036 741h0M2060 748h0M2060 747h0M2063 734h0M2068 735h0M2069 728h0M2077 719h0M2078 718h0M2084 730h0M2084 727h0M2084 724h0M2083 721h0"/>
<path stroke="#82ff75" stroke-width="7.6" d="M2009 799h0M2009 795h0M2021 789h0M2023 790h0M2031 787h0M2032 785h0M2033 784h0M2067 774h0M2066 773h0M2070 776h0M2069 768h0M2073 765h0M2080 762h0M1995 1082h0M1997 1084h0M1998 1083h0M2000 1081h0M2002 1083h0M2002 1084h0M2040 1084h0M2045 1083h0M2045 1083h0M2045 1083h0M2045 1083h0M2047 1083h0M2049 1084h0M2049 1081h0M2052 1081h0M2052 1081h0"/>
<path stroke="#82ff75" stroke-width="8.0" d="M2008 768h0M2011 770h0M2012 754h0M2025 765h0M2028 761h0M2030 762h0M2031 759h0M2034 747h0M2037 738h0M2060 745h0M2062 740h0M2063 738h0M2062 734h0M2062 733h0M2063 733h0M2061 731h0M2062 731h0M2069 737h0M2069 736h0M2070 738h0M2071 739h0M2069 729h0M2079 739h0M2082 721h0"/>
<path stroke="#8fff68" stroke-width="7.6" d="M2009 799h0M2010 799h0M2017 799h0M2037 791h0M2037 790h0M2056 778h0M2057 776h0M2069 775h0M2073 774h0M2084 764h0M1997 1082h0M2017 1081h0M2019 1084h0M2036 1085h0M2042 1084h0M2043 1081h0M2050 1084h0M2069 1081h0M2072 1082h0"/>
<path stroke="#8fff68" stroke-width="8.0" d="M2008 763h0M2009 760h0M2018 768h0M2015 750h0M2032 754h0M2030 746h0M2031 749h0M2032 749h0M2037 758h0M2034 750h0M2058 728h0M2070 739h0M2071 741h0M2070 737h0M2070 738h0M2069 735h0M2072 739h0M2080 721h0M2083 728h0"/>
<path stroke="#9cff5b" stroke-width="7.6" d="M2022 792h0M2022 790h0M2023 791h0M2034 784h0M2042 789h0M2044 789h0M2051 784h0M2056 776h0M2068 774h0M2069 775h0M2072 766h0M2078 764h0M2084 767h0M2084 765h0M1998 1083h0M1999 1082h0M2019 1084h0M2049 1082h0M2065 1085h0"/>
<path stroke="#9cff5b" stroke-width="8.0" d="M2015 769h0M2018 769h0M2024 765h0M2031 749h0M2031 749h0M2040 758h0M2073 740h0M2079 735h0M2081 731h0M2082 727h0M2080 722h0M2082 724h0"/>
<path stroke="#a8ff4e" stroke-width="7.6" d="M2010 797h0M2011 796h0M2013 798h0M2022 793h0M2022 792h0M2022 792h0M2022 791h0M2033 788h0M2035 789h0M2046 776h0M2050 784h0M2053 782h0M2051 776h0M2054 781h0M2053 776h0M2071 768h0M2081 770h0M2079 764h0M2084 767h0M2017 1082h0M2020 1081h0M2027 1085h0M2027 1085h0M2031 1080h0M2032 1080h0M2034 1085h0M2036 1085h0M2041 1084h0M2043 1083h0M2050 1083h0M2051 1084h0M2056 1081h0M2066 1080h0M2068 1084h0"/>
<path stroke="#a8ff4e" stroke-width="8.0" d="M2010 760h0M2017 767h0M2020 765h0M2030 751h0M2031 750h0M2036 755h0M2060 743h0M2056 729h0M2061 738h0M2058 731h0M2072 728h0M2079 734h0M2081 732h0M2081 730h0M2082 728h0M2080 723h0"/>
<path stroke="#b5ff42" stroke-width="7.6" d="M2011 796h0M2018 796h0M2038 781h0M2045 777h0M2047 777h0M2055 777h0M2055 777h0M2055 778h0M2069 771h0M2071 769h0M2076 774h0M2076 773h0M2079 771h0M2079 771h0M2082 764h0M2021 1084h0M2034 1084h0M2036 1084h0M2041 1084h0M2042 1083h0M2042 1083h0M2050 1082h0M2050 1083h0M2052 1081h0M2069 1083h0"/>
<path stroke="#b5ff42" stroke-width="8.0" d="M2013 754h0M2014 754h0M2027 763h0M2026 761h0M2028 749h0M2029 749h0M2028 747h0M2041 737h0M2057 749h0M2058 746h0M2058 732h0M2059 732h0M2071 733h0M2072 734h0M2071 729h0M2076 736h0M2076 735h0M2073 727h0M2079 734h0M2080 733h0M2078 722h0M2081 729h0M2081 728h0M2080 724h0"/>
<path stroke="#c2ff35" stroke-width="7.6" d="M2013 794h0M2013 794h0M2019 794h0M2034 786h0M2036 783h0M2042 778h0M2046 777h0M2054 778h0M2074 773h0M2072 769h0M2074 766h0M2080 765h0M2080 765h0M2080 765h0M2081 765h0M2028 1085h0M2035 1084h0M2041 1083h0M2041 1083h0M2065 1080h0"/>
<path stroke="#c2ff35" stroke-width="8.0" d="M2011 766h0M2011 766h0M2012 765h0M2019 767h0M2014 754h0M2015 754h0M2016 752h0M2020 750h0M2028 759h0M2037 754h0M2036 750h0M2038 745h0M2039 740h0M2058 745h0M2058 745h0M2054 732h0M2056 732h0M2060 739h0M2060 738h0M2074 726h0M2075 726h0M2080 730h0"/>
<path stroke="#cfff28" stroke-width="7.6" d="M2014 796h0M2014 793h0M2016 793h0M2017 795h0M2018 794h0M2019 793h0M2035 788h0M2035 785h0M2042 787h0M2052 782h0M2051 777h0M2053 780h0M2070 772h0M2073 768h0M2077 772h0M2075 767h0M2076 766h0M2078 766h0M2079 765h0M2019 1082h0M2022 1084h0M2029 1084h0M2041 1082h0M2052 1082h0M2064 1081h0M2068 1082h0M2068 1083h0M2069 1082h0"/>
<path stroke="#cfff28" stroke-width="8.0" d="M2013 766h0M2016 765h0M2013 757h0M2015 755h0M2020 751h0M2027 760h0M2023 748h0M2028 751h0M2037 754h0M2041 757h0M2037 749h0M2055 749h0M2060 738h0M2060 739h0M2074 734h0M2074 730h0M2073 728h0"/>
<path stroke="#dcff1b" stroke-width="7.6" d="M2016 795h0M2016 795h0M2016 794h0M2036 788h0M2036 788h0M2046 778h0M2072 772h0M2072 770h0M2072 770h0M2072 770h0M2076 772h0M2075 767h0M2075 767h0M2077 767h0M2025 1084h0M2026 1081h0M2039 1083h0M2052 1083h0M2055 1081h0M2057 1081h0M2061 1084h0M2068 1082h0M2068 1082h0"/>
<path stroke="#dcff1b" stroke-width="8.0" d="M2012 763h0M2012 763h0M2014 765h0M2014 756h0M2022 765h0M2024 763h0M2021 750h0M2027 759h0M2025 751h0M2026 750h0M2027 752h0M2050 753h0M2055 748h0M2058 744h0M2075 732h0M2076 730h0M2077 727h0M2077 727h0"/>
<path stroke="#e9ff0e" stroke-width="7.6" d="M2036 786h0M2046 778h0M2047 778h0M2073 770h0M2026 1081h0M2053 1082h0M2054 1083h0M2062 1084h0M2066 1082h0"/>
<path stroke="#e9ff0e" stroke-width="8.0" d="M2014 764h0M2019 751h0M2024 752h0M2039 753h0M2047 753h0M2055 748h0M2051 735h0M2052 735h0M2053 731h0M2058 738h0M2057 735h0"/>
<path stroke="#f5f701" stroke-width="7.6" d="M2037 786h0M2047 785h0M2047 784h0M2048 778h0M2076 770h0M2076 769h0M2054 1082h0M2055 1083h0M2058 1083h0M2059 1083h0M2061 1084h0M2064 1081h0M2066 1083h0"/>
<path stroke="#f5f701" stroke-width="8.0" d="M2014 763h0M2015 763h0M2016 764h0M2019 753h0M2023 753h0M2026 756h0M2038 750h0M2038 746h0M2047 755h0M2044 739h0M2044 737h0M2057 739h0M2058 739h0M2056 735h0"/>
<path stroke="#ffe800" stroke-width="7.6" d="M2038 786h0M2038 787h0M2039 783h0M2043 786h0M2042 781h0M2046 779h0M2049 778h0M2030 1084h0M2055 1082h0M2056 1083h0M2064 1082h0"/>
<path stroke="#ffe800" stroke-width="8.0" d="M2020 763h0M2023 761h0M2023 760h0M2025 758h0M2039 749h0M2039 747h0M2043 754h0M2053 748h0M2053 749h0M2047 737h0M2056 744h0M2052 733h0M2057 741h0"/>
<path stroke="#ffda00" stroke-width="7.6" d="M2040 786h0M2039 783h0M2043 781h0M2046 784h0M2047 779h0M2049 782h0M2048 780h0M2026 1083h0M2031 1081h0M2056 1083h0M2064 1083h0M2064 1082h0"/>
<path stroke="#ffda00" stroke-width="8.0" d="M2016 759h0M2016 759h0M2017 757h0M2020 761h0M2018 757h0M2020 761h0M2022 760h0M2022 758h0M2020 753h0M2021 754h0M2022 754h0M2041 752h0M2045 753h0M2055 743h0M2052 734h0M2055 737h0M2056 739h0"/>
<path stroke="#ffcb00" stroke-width="7.6" d="M2040 785h0M2040 784h0M2042 785h0M2042 782h0M2048 782h0M2025 1083h0M2032 1082h0M2034 1082h0M2059 1082h0M2062 1083h0"/>
<path stroke="#ffcb00" stroke-width="8.0" d="M2017 760h0M2017 759h0M2018 760h0M2019 761h0M2019 759h0M2019 759h0M2019 757h0M2019 756h0M2022 756h0M2040 751h0M2041 745h0M2046 738h0M2054 746h0M2050 736h0M2054 735h0"/>
<path stroke="#ffbc00" stroke-width="7.6" d="M2043 783h0M2043 784h0M2043 782h0M2046 782h0M2046 781h0M2027 1082h0M2031 1082h0M2032 1083h0"/>
<path stroke="#ffbc00" stroke-width="8.0" d="M2053 746h0M2053 746h0M2054 745h0M2050 737h0"/>
<path stroke="#ffad00" stroke-width="8.0" d="M2043 750h0M2051 748h0M2053 744h0M2053 737h0"/>
<path stroke="#ff9e00" stroke-width="8.0" d="M2052 745h0M2050 740h0"/>
<path stroke="#ff9000" stroke-width="8.0" d="M2045 746h0M2046 747h0M2049 747h0M2049 747h0M2047 740h0M2052 741h0"/>
<path stroke="#ff8100" stroke-width="8.0" d="M2050 742h0"/>
</g></g>
<g clip-path="url(#clipb)">
<path d="M874.0 542.3H899.4M886.7 535.3V549.3" stroke="#000" stroke-width="2.6" fill="none"/>
<path d="M910.2 540.9H935.6M922.9 533.9V547.9" stroke="#000" stroke-width="2.6" fill="none"/>
<path d="M987.6 530.3H1013.0M1000.3 523.3V537.3" stroke="#000" stroke-width="2.6" fill="none"/>
<path d="M1002.4 537.0H1027.8M1015.1 530.0V544.0" stroke="#000" stroke-width="2.6" fill="none"/>
<path d="M1010.3 535.2H1035.7M1023.0 528.2V542.2" stroke="#000" stroke-width="2.6" fill="none"/>
<path d="M1017.8 541.6H1043.2M1030.5 534.6V548.6" stroke="#000" stroke-width="2.6" fill="none"/>
<path d="M1041.3 538.8H1066.7M1054.0 531.8V545.8" stroke="#000" stroke-width="2.6" fill="none"/>
<path d="M1110.2 534.9H1135.6M1122.9 527.9V541.9" stroke="#000" stroke-width="2.6" fill="none"/>
<path d="M1277.6 536.1H1303.0M1290.3 529.1V543.1" stroke="#000" stroke-width="2.6" fill="none"/>
<path d="M1292.5 533.8H1317.9M1305.2 526.8V540.8" stroke="#000" stroke-width="2.6" fill="none"/>
<path d="M874.0 533.3H899.4M886.7 522.8V543.8" stroke="#000" stroke-width="2.6" fill="none"/>
<path d="M910.2 530.4H935.6M922.9 519.9V540.9" stroke="#000" stroke-width="2.6" fill="none"/>
<path d="M987.6 521.8H1013.0M1000.3 511.3V532.3" stroke="#000" stroke-width="2.6" fill="none"/>
<path d="M1001.9 522.5H1027.3M1014.6 512.0V533.0" stroke="#000" stroke-width="2.6" fill="none"/>
<path d="M1002.8 530.3H1028.2M1015.5 519.8V540.8" stroke="#000" stroke-width="2.6" fill="none"/>
<path d="M1009.9 525.3H1035.3M1022.6 514.8V535.8" stroke="#000" stroke-width="2.6" fill="none"/>
<path d="M1019.6 523.9H1045.0M1032.3 513.4V534.4" stroke="#000" stroke-width="2.6" fill="none"/>
<path d="M1017.8 533.8H1043.2M1030.5 523.3V544.3" stroke="#000" stroke-width="2.6" fill="none"/>
<path d="M1041.3 527.8H1066.7M1054.0 517.3V538.3" stroke="#000" stroke-width="2.6" fill="none"/>
<path d="M1110.2 523.2H1135.6M1122.9 512.7V533.7" stroke="#000" stroke-width="2.6" fill="none"/>
<path d="M1277.6 512.2H1303.0M1290.3 501.7V522.7" stroke="#000" stroke-width="2.6" fill="none"/>
<path d="M1292.5 511.1H1317.9M1305.2 500.6V521.6" stroke="#000" stroke-width="2.6" fill="none"/>
<circle cx="886.7" cy="542.3" r="5.4" fill="#ff00ff" stroke="#000" stroke-width="2"/>
<circle cx="922.9" cy="540.9" r="5.4" fill="#ff00ff" stroke="#000" stroke-width="2"/>
<circle cx="1000.3" cy="530.3" r="5.4" fill="#ff00ff" stroke="#000" stroke-width="2"/>
<circle cx="1015.1" cy="537.0" r="5.4" fill="#ff00ff" stroke="#000" stroke-width="2"/>
<circle cx="1023.0" cy="535.2" r="5.4" fill="#ff00ff" stroke="#000" stroke-width="2"/>
<circle cx="1030.5" cy="541.6" r="5.4" fill="#ff00ff" stroke="#000" stroke-width="2"/>
<circle cx="1054.0" cy="538.8" r="5.4" fill="#ff00ff" stroke="#000" stroke-width="2"/>
<circle cx="1122.9" cy="534.9" r="5.4" fill="#ff00ff" stroke="#000" stroke-width="2"/>
<circle cx="1290.3" cy="536.1" r="5.4" fill="#ff00ff" stroke="#000" stroke-width="2"/>
<circle cx="1305.2" cy="533.8" r="5.4" fill="#ff00ff" stroke="#000" stroke-width="2"/>
<circle cx="886.7" cy="533.3" r="5.4" fill="#90ee90" stroke="#000" stroke-width="2"/>
<circle cx="922.9" cy="530.4" r="5.4" fill="#90ee90" stroke="#000" stroke-width="2"/>
<circle cx="1000.3" cy="521.8" r="5.4" fill="#90ee90" stroke="#000" stroke-width="2"/>
<circle cx="1014.6" cy="522.5" r="5.4" fill="#90ee90" stroke="#000" stroke-width="2"/>
<circle cx="1015.5" cy="530.3" r="5.4" fill="#90ee90" stroke="#000" stroke-width="2"/>
<circle cx="1022.6" cy="525.3" r="5.4" fill="#90ee90" stroke="#000" stroke-width="2"/>
<circle cx="1032.3" cy="523.9" r="5.4" fill="#90ee90" stroke="#000" stroke-width="2"/>
<circle cx="1030.5" cy="533.8" r="5.4" fill="#90ee90" stroke="#000" stroke-width="2"/>
<circle cx="1054.0" cy="527.8" r="5.4" fill="#90ee90" stroke="#000" stroke-width="2"/>
<circle cx="1122.9" cy="523.2" r="5.4" fill="#90ee90" stroke="#000" stroke-width="2"/>
<circle cx="1290.3" cy="512.2" r="5.4" fill="#90ee90" stroke="#000" stroke-width="2"/>
<circle cx="1305.2" cy="511.1" r="5.4" fill="#90ee90" stroke="#000" stroke-width="2"/>
<path d="M874.3 467.7H899.7M887.0 464.7V470.7" stroke="#000" stroke-width="2.6" fill="none"/>
<path d="M910.0 452.2H935.4M922.7 449.2V455.2" stroke="#000" stroke-width="2.6" fill="none"/>
<path d="M987.4 420.1H1012.8M1000.1 417.1V423.1" stroke="#000" stroke-width="2.6" fill="none"/>
<path d="M1002.3 414.3H1027.7M1015.0 411.3V417.3" stroke="#000" stroke-width="2.6" fill="none"/>
<path d="M1008.3 411.1H1033.7M1021.0 408.1V414.1" stroke="#000" stroke-width="2.6" fill="none"/>
<path d="M1017.9 406.8H1043.3M1030.6 403.8V409.8" stroke="#000" stroke-width="2.6" fill="none"/>
<path d="M1040.9 396.2H1066.3M1053.6 393.2V399.2" stroke="#000" stroke-width="2.6" fill="none"/>
<path d="M1110.2 364.9H1135.6M1122.9 361.9V367.9" stroke="#000" stroke-width="2.6" fill="none"/>
<path d="M1277.6 293.2H1303.0M1290.3 290.2V296.2" stroke="#000" stroke-width="2.6" fill="none"/>
<path d="M1293.0 285.8H1318.4M1305.7 282.8V288.8" stroke="#000" stroke-width="2.6" fill="none"/>
<path d="M887.0 462.8L892.7 473.5L881.3 473.5Z" fill="#808080" stroke="#000" stroke-width="2" stroke-linejoin="miter"/>
<path d="M922.7 447.3L928.4 458.0L917.0 458.0Z" fill="#808080" stroke="#000" stroke-width="2" stroke-linejoin="miter"/>
<path d="M1000.1 415.2L1005.8 425.9L994.4 425.9Z" fill="#808080" stroke="#000" stroke-width="2" stroke-linejoin="miter"/>
<path d="M1015.0 409.4L1020.7 420.1L1009.3 420.1Z" fill="#808080" stroke="#000" stroke-width="2" stroke-linejoin="miter"/>
<path d="M1021.0 406.2L1026.7 416.9L1015.3 416.9Z" fill="#808080" stroke="#000" stroke-width="2" stroke-linejoin="miter"/>
<path d="M1030.6 401.9L1036.3 412.6L1024.9 412.6Z" fill="#808080" stroke="#000" stroke-width="2" stroke-linejoin="miter"/>
<path d="M1053.6 391.3L1059.3 402.0L1047.9 402.0Z" fill="#808080" stroke="#000" stroke-width="2" stroke-linejoin="miter"/>
<path d="M1122.9 360.0L1128.6 370.7L1117.2 370.7Z" fill="#808080" stroke="#000" stroke-width="2" stroke-linejoin="miter"/>
<path d="M1290.3 288.3L1296.0 299.0L1284.6 299.0Z" fill="#808080" stroke="#000" stroke-width="2" stroke-linejoin="miter"/>
<path d="M1305.7 280.9L1311.4 291.6L1300.0 291.6Z" fill="#808080" stroke="#000" stroke-width="2" stroke-linejoin="miter"/>
<path d="M874.3 451.4H899.7M887.0 441.4V461.4" stroke="#000" stroke-width="2.6" fill="none"/>
<path d="M910.0 439.0H935.4M922.7 429.0V449.0" stroke="#000" stroke-width="2.6" fill="none"/>
<path d="M987.4 403.6H1012.8M1000.1 393.6V413.6" stroke="#000" stroke-width="2.6" fill="none"/>
<path d="M1001.8 399.4H1027.2M1014.5 389.4V409.4" stroke="#000" stroke-width="2.6" fill="none"/>
<path d="M1009.9 392.0H1035.3M1022.6 382.0V402.0" stroke="#000" stroke-width="2.6" fill="none"/>
<path d="M1018.4 390.9H1043.8M1031.1 380.9V400.9" stroke="#000" stroke-width="2.6" fill="none"/>
<path d="M1040.9 377.7H1066.3M1053.6 367.7V387.7" stroke="#000" stroke-width="2.6" fill="none"/>
<path d="M1110.2 344.1H1135.6M1122.9 334.1V354.1" stroke="#000" stroke-width="2.6" fill="none"/>
<path d="M1277.6 260.3H1303.0M1290.3 250.3V270.3" stroke="#000" stroke-width="2.6" fill="none"/>
<path d="M1293.0 261.4H1318.4M1305.7 251.4V271.4" stroke="#000" stroke-width="2.6" fill="none"/>
<path d="M887.0 446.5L892.7 457.2L881.3 457.2Z" fill="#ff00ff" stroke="#000" stroke-width="2" stroke-linejoin="miter"/>
<path d="M922.7 434.1L928.4 444.8L917.0 444.8Z" fill="#ff00ff" stroke="#000" stroke-width="2" stroke-linejoin="miter"/>
<path d="M1000.1 398.7L1005.8 409.4L994.4 409.4Z" fill="#ff00ff" stroke="#000" stroke-width="2" stroke-linejoin="miter"/>
<path d="M1014.5 394.5L1020.2 405.2L1008.8 405.2Z" fill="#ff00ff" stroke="#000" stroke-width="2" stroke-linejoin="miter"/>
<path d="M1022.6 387.1L1028.3 397.8L1016.9 397.8Z" fill="#ff00ff" stroke="#000" stroke-width="2" stroke-linejoin="miter"/>
<path d="M1031.1 386.0L1036.8 396.7L1025.4 396.7Z" fill="#ff00ff" stroke="#000" stroke-width="2" stroke-linejoin="miter"/>
<path d="M1053.6 372.8L1059.3 383.5L1047.9 383.5Z" fill="#ff00ff" stroke="#000" stroke-width="2" stroke-linejoin="miter"/>
<path d="M1122.9 339.2L1128.6 349.9L1117.2 349.9Z" fill="#ff00ff" stroke="#000" stroke-width="2" stroke-linejoin="miter"/>
<path d="M1290.3 255.4L1296.0 266.1L1284.6 266.1Z" fill="#ff00ff" stroke="#000" stroke-width="2" stroke-linejoin="miter"/>
<path d="M1305.7 256.5L1311.4 267.2L1300.0 267.2Z" fill="#ff00ff" stroke="#000" stroke-width="2" stroke-linejoin="miter"/>
<path d="M874.3 440.5H899.7M887.0 430.5V450.5" stroke="#000" stroke-width="2.6" fill="none"/>
<path d="M910.0 427.1H935.4M922.7 417.1V437.1" stroke="#000" stroke-width="2.6" fill="none"/>
<path d="M987.4 387.7H1012.8M1000.1 377.7V397.7" stroke="#000" stroke-width="2.6" fill="none"/>
<path d="M1002.3 387.7H1027.7M1015.0 377.7V397.7" stroke="#000" stroke-width="2.6" fill="none"/>
<path d="M1001.8 378.7H1027.2M1014.5 368.7V388.7" stroke="#000" stroke-width="2.6" fill="none"/>
<path d="M1008.3 383.5H1033.7M1021.0 373.5V393.5" stroke="#000" stroke-width="2.6" fill="none"/>
<path d="M1017.9 385.1H1043.3M1030.6 375.1V395.1" stroke="#000" stroke-width="2.6" fill="none"/>
<path d="M1019.5 376.6H1044.9M1032.2 366.6V386.6" stroke="#000" stroke-width="2.6" fill="none"/>
<path d="M1040.9 364.4H1066.3M1053.6 354.4V374.4" stroke="#000" stroke-width="2.6" fill="none"/>
<path d="M1110.2 323.9H1135.6M1122.9 313.9V333.9" stroke="#000" stroke-width="2.6" fill="none"/>
<path d="M1293.0 241.2H1318.4M1305.7 231.2V251.2" stroke="#000" stroke-width="2.6" fill="none"/>
<path d="M887.0 435.6L892.7 446.3L881.3 446.3Z" fill="#90ee90" stroke="#000" stroke-width="2" stroke-linejoin="miter"/>
<path d="M922.7 422.2L928.4 432.9L917.0 432.9Z" fill="#90ee90" stroke="#000" stroke-width="2" stroke-linejoin="miter"/>
<path d="M1000.1 382.8L1005.8 393.5L994.4 393.5Z" fill="#90ee90" stroke="#000" stroke-width="2" stroke-linejoin="miter"/>
<path d="M1015.0 382.8L1020.7 393.5L1009.3 393.5Z" fill="#90ee90" stroke="#000" stroke-width="2" stroke-linejoin="miter"/>
<path d="M1014.5 373.8L1020.2 384.5L1008.8 384.5Z" fill="#90ee90" stroke="#000" stroke-width="2" stroke-linejoin="miter"/>
<path d="M1021.0 378.6L1026.7 389.3L1015.3 389.3Z" fill="#90ee90" stroke="#000" stroke-width="2" stroke-linejoin="miter"/>
<path d="M1030.6 380.2L1036.3 390.9L1024.9 390.9Z" fill="#90ee90" stroke="#000" stroke-width="2" stroke-linejoin="miter"/>
<path d="M1032.2 371.7L1037.9 382.4L1026.5 382.4Z" fill="#90ee90" stroke="#000" stroke-width="2" stroke-linejoin="miter"/>
<path d="M1053.6 359.5L1059.3 370.2L1047.9 370.2Z" fill="#90ee90" stroke="#000" stroke-width="2" stroke-linejoin="miter"/>
<path d="M1122.9 319.0L1128.6 329.7L1117.2 329.7Z" fill="#90ee90" stroke="#000" stroke-width="2" stroke-linejoin="miter"/>
<path d="M1305.7 236.3L1311.4 247.0L1300.0 247.0Z" fill="#90ee90" stroke="#000" stroke-width="2" stroke-linejoin="miter"/>
<path d="M1019.6 89.6H1045.0M1032.3 79.0V100.2" stroke="#000" stroke-width="2.6" fill="none"/>
<path d="M1041.0 91.3H1066.4M1053.7 80.7V101.9" stroke="#000" stroke-width="2.6" fill="none"/>
<path d="M1001.6 111.4H1027.0M1014.3 100.8V122.0" stroke="#000" stroke-width="2.6" fill="none"/>
<path d="M1016.6 125.6H1042.0M1029.3 115.0V136.2" stroke="#000" stroke-width="2.6" fill="none"/>
<path d="M1002.0 134.1H1027.4M1014.7 123.5V144.7" stroke="#000" stroke-width="2.6" fill="none"/>
<path d="M1006.3 150.0H1031.7M1019.0 139.4V160.6" stroke="#000" stroke-width="2.6" fill="none"/>
<path d="M987.7 158.5H1013.1M1000.4 147.9V169.1" stroke="#000" stroke-width="2.6" fill="none"/>
<path d="M1086.0 165.9H1111.4M1098.7 155.3V176.5" stroke="#000" stroke-width="2.6" fill="none"/>
<path d="M1109.9 186.0H1135.3M1122.6 175.4V196.6" stroke="#000" stroke-width="2.6" fill="none"/>
<path d="M1293.0 161.7H1318.4M1305.7 151.1V172.3" stroke="#000" stroke-width="2.6" fill="none"/>
<path d="M1032.3 84.7L1038.0 95.4L1026.6 95.4Z" fill="#8b0000" stroke="#000" stroke-width="2" stroke-linejoin="miter"/>
<path d="M1053.7 86.4L1059.4 97.1L1048.0 97.1Z" fill="#8b0000" stroke="#000" stroke-width="2" stroke-linejoin="miter"/>
<path d="M1014.3 106.5L1020.0 117.2L1008.6 117.2Z" fill="#8b0000" stroke="#000" stroke-width="2" stroke-linejoin="miter"/>
<path d="M1029.3 120.7L1035.0 131.4L1023.6 131.4Z" fill="#8b0000" stroke="#000" stroke-width="2" stroke-linejoin="miter"/>
<path d="M1014.7 129.2L1020.4 139.9L1009.0 139.9Z" fill="#8b0000" stroke="#000" stroke-width="2" stroke-linejoin="miter"/>
<path d="M1019.0 145.1L1024.7 155.8L1013.3 155.8Z" fill="#8b0000" stroke="#000" stroke-width="2" stroke-linejoin="miter"/>
<path d="M1000.4 153.6L1006.1 164.3L994.7 164.3Z" fill="#8b0000" stroke="#000" stroke-width="2" stroke-linejoin="miter"/>
<path d="M1098.7 161.0L1104.4 171.7L1093.0 171.7Z" fill="#8b0000" stroke="#000" stroke-width="2" stroke-linejoin="miter"/>
<path d="M1122.6 181.1L1128.3 191.8L1116.9 191.8Z" fill="#8b0000" stroke="#000" stroke-width="2" stroke-linejoin="miter"/>
<path d="M1305.7 156.8L1311.4 167.5L1300.0 167.5Z" fill="#8b0000" stroke="#000" stroke-width="2" stroke-linejoin="miter"/>
</g>
<path d="M863.4 100.7H882.4M872.9 91.4V110.0" stroke="#000" stroke-width="2.6" fill="none"/>
<circle cx="872.9" cy="100.7" r="5.4" fill="#ff00ff" stroke="#000" stroke-width="2"/>
<text x="894.8" y="111.9" font-size="29.5">PP</text>
<path d="M863.4 128.3H882.4M872.9 119.0V137.6" stroke="#000" stroke-width="2.6" fill="none"/>
<circle cx="872.9" cy="128.3" r="5.4" fill="#90ee90" stroke="#000" stroke-width="2"/>
<text x="894.8" y="139.5" font-size="29.5">PPP</text>
<path d="M863.4 155.8H882.4M872.9 146.5V165.1" stroke="#000" stroke-width="2.6" fill="none"/>
<path d="M872.9 150.9L878.6 161.6L867.2 161.6Z" fill="#808080" stroke="#000" stroke-width="2" stroke-linejoin="miter"/>
<text x="894.8" y="167.0" font-size="29.5">S</text>
<path d="M863.4 183.4H882.4M872.9 174.1V192.7" stroke="#000" stroke-width="2.6" fill="none"/>
<path d="M872.9 178.5L878.6 189.2L867.2 189.2Z" fill="#ff00ff" stroke="#000" stroke-width="2" stroke-linejoin="miter"/>
<text x="894.8" y="194.6" font-size="29.5">SS</text>
<path d="M863.4 210.9H882.4M872.9 201.6V220.2" stroke="#000" stroke-width="2.6" fill="none"/>
<path d="M872.9 206.0L878.6 216.7L867.2 216.7Z" fill="#90ee90" stroke="#000" stroke-width="2" stroke-linejoin="miter"/>
<text x="894.8" y="222.1" font-size="29.5">SSS</text>
<path d="M863.4 238.1H882.4M872.9 228.8V247.4" stroke="#000" stroke-width="2.6" fill="none"/>
<path d="M872.9 233.2L878.6 243.9L867.2 243.9Z" fill="#8b0000" stroke="#000" stroke-width="2" stroke-linejoin="miter"/>
<text x="894.8" y="249.3" font-size="29.5">ScS</text>
<line x1="171.62" y1="552.2" x2="171.62" y2="545.2" stroke="#000" stroke-width="2.4"/>
<line x1="356.12" y1="552.2" x2="356.12" y2="545.2" stroke="#000" stroke-width="2.4"/>
<line x1="540.62" y1="552.2" x2="540.62" y2="545.2" stroke="#000" stroke-width="2.4"/>
<line x1="125.5" y1="470.67" x2="132.5" y2="470.67" stroke="#000" stroke-width="2.4"/>
<line x1="125.5" y1="389.13" x2="132.5" y2="389.13" stroke="#000" stroke-width="2.4"/>
<line x1="125.5" y1="307.60" x2="132.5" y2="307.60" stroke="#000" stroke-width="2.4"/>
<line x1="125.5" y1="226.07" x2="132.5" y2="226.07" stroke="#000" stroke-width="2.4"/>
<line x1="125.5" y1="144.53" x2="132.5" y2="144.53" stroke="#000" stroke-width="2.4"/>
<rect x="125.5" y="63.0" width="553.5" height="489.20000000000005" fill="none" stroke="#000" stroke-width="2.5"/>
<text x="168.12" y="587.40" font-size="29.5" text-anchor="middle">100</text>
<text x="352.62" y="587.40" font-size="29.5" text-anchor="middle">200</text>
<text x="537.12" y="587.40" font-size="29.5" text-anchor="middle">300</text>
<text x="117.20" y="564.20" font-size="29.5" text-anchor="end">0</text>
<text x="117.20" y="482.67" font-size="29.5" text-anchor="end">100</text>
<text x="117.20" y="401.13" font-size="29.5" text-anchor="end">200</text>
<text x="117.20" y="319.60" font-size="29.5" text-anchor="end">300</text>
<text x="117.20" y="238.07" font-size="29.5" text-anchor="end">400</text>
<text x="117.20" y="156.53" font-size="29.5" text-anchor="end">500</text>
<text x="117.20" y="75.00" font-size="29.5" text-anchor="end">600</text>
<line x1="882.50" y1="552.1" x2="882.50" y2="545.1" stroke="#000" stroke-width="2.4"/>
<line x1="1068.50" y1="552.1" x2="1068.50" y2="545.1" stroke="#000" stroke-width="2.4"/>
<line x1="1254.50" y1="552.1" x2="1254.50" y2="545.1" stroke="#000" stroke-width="2.4"/>
<line x1="836.0" y1="470.60" x2="843.0" y2="470.60" stroke="#000" stroke-width="2.4"/>
<line x1="836.0" y1="389.10" x2="843.0" y2="389.10" stroke="#000" stroke-width="2.4"/>
<line x1="836.0" y1="307.60" x2="843.0" y2="307.60" stroke="#000" stroke-width="2.4"/>
<line x1="836.0" y1="226.10" x2="843.0" y2="226.10" stroke="#000" stroke-width="2.4"/>
<line x1="836.0" y1="144.60" x2="843.0" y2="144.60" stroke="#000" stroke-width="2.4"/>
<rect x="836.0" y="63.1" width="558.0" height="489.0" fill="none" stroke="#000" stroke-width="2.5"/>
<text x="879.00" y="587.70" font-size="29.5" text-anchor="middle">100</text>
<text x="1065.00" y="587.70" font-size="29.5" text-anchor="middle">200</text>
<text x="1251.00" y="587.70" font-size="29.5" text-anchor="middle">300</text>
<text x="827.70" y="482.60" font-size="29.5" text-anchor="end">100</text>
<text x="827.70" y="401.10" font-size="29.5" text-anchor="end">200</text>
<text x="827.70" y="319.60" font-size="29.5" text-anchor="end">300</text>
<text x="827.70" y="238.10" font-size="29.5" text-anchor="end">400</text>
<text x="827.70" y="156.60" font-size="29.5" text-anchor="end">500</text>
<text x="827.70" y="75.10" font-size="29.5" text-anchor="end">600</text>
<line x1="263.95" y1="1161.5" x2="263.95" y2="1154.5" stroke="#000" stroke-width="2.4"/>
<line x1="402.30" y1="1161.5" x2="402.30" y2="1154.5" stroke="#000" stroke-width="2.4"/>
<line x1="540.65" y1="1161.5" x2="540.65" y2="1154.5" stroke="#000" stroke-width="2.4"/>
<line x1="125.6" y1="1021.81" x2="132.6" y2="1021.81" stroke="#000" stroke-width="2.4"/>
<line x1="125.6" y1="882.13" x2="132.6" y2="882.13" stroke="#000" stroke-width="2.4"/>
<line x1="125.6" y1="742.44" x2="132.6" y2="742.44" stroke="#000" stroke-width="2.4"/>
<rect x="125.6" y="672.6" width="553.4" height="488.9" fill="none" stroke="#000" stroke-width="2.5"/>
<text x="122.10" y="1201.80" font-size="29.5" text-anchor="middle">730</text>
<text x="260.45" y="1201.80" font-size="29.5" text-anchor="middle">740</text>
<text x="398.80" y="1201.80" font-size="29.5" text-anchor="middle">750</text>
<text x="537.15" y="1201.80" font-size="29.5" text-anchor="middle">760</text>
<text x="675.50" y="1201.80" font-size="29.5" text-anchor="middle">770</text>
<text x="117.30" y="1172.70" font-size="29.5" text-anchor="end">160</text>
<text x="117.30" y="1033.01" font-size="29.5" text-anchor="end">180</text>
<text x="117.30" y="893.33" font-size="29.5" text-anchor="end">200</text>
<text x="117.30" y="753.64" font-size="29.5" text-anchor="end">220</text>
<line x1="975.60" y1="1161.8" x2="975.60" y2="1154.8" stroke="#000" stroke-width="2.4"/>
<line x1="1115.10" y1="1161.8" x2="1115.10" y2="1154.8" stroke="#000" stroke-width="2.4"/>
<line x1="1254.60" y1="1161.8" x2="1254.60" y2="1154.8" stroke="#000" stroke-width="2.4"/>
<line x1="836.1" y1="1022.03" x2="843.1" y2="1022.03" stroke="#000" stroke-width="2.4"/>
<line x1="836.1" y1="882.26" x2="843.1" y2="882.26" stroke="#000" stroke-width="2.4"/>
<line x1="836.1" y1="742.49" x2="843.1" y2="742.49" stroke="#000" stroke-width="2.4"/>
<rect x="836.1" y="672.6" width="557.9999999999999" height="489.19999999999993" fill="none" stroke="#000" stroke-width="2.5"/>
<text x="832.60" y="1201.30" font-size="29.5" text-anchor="middle">730</text>
<text x="972.10" y="1201.30" font-size="29.5" text-anchor="middle">740</text>
<text x="1111.60" y="1201.30" font-size="29.5" text-anchor="middle">750</text>
<text x="1251.10" y="1198.00" font-size="29.5" text-anchor="middle">760</text>
<text x="1390.60" y="1198.00" font-size="29.5" text-anchor="middle">770</text>
<text x="827.80" y="1173.00" font-size="29.5" text-anchor="end">160</text>
<text x="827.80" y="1033.23" font-size="29.5" text-anchor="end">180</text>
<text x="827.80" y="893.46" font-size="29.5" text-anchor="end">200</text>
<text x="827.80" y="753.69" font-size="29.5" text-anchor="end">220</text>
<line x1="310.07" y1="1781.0" x2="310.07" y2="1774.0" stroke="#000" stroke-width="2.4"/>
<line x1="494.53" y1="1781.0" x2="494.53" y2="1774.0" stroke="#000" stroke-width="2.4"/>
<line x1="125.6" y1="1658.75" x2="132.6" y2="1658.75" stroke="#000" stroke-width="2.4"/>
<line x1="125.6" y1="1536.50" x2="132.6" y2="1536.50" stroke="#000" stroke-width="2.4"/>
<line x1="125.6" y1="1414.25" x2="132.6" y2="1414.25" stroke="#000" stroke-width="2.4"/>
<rect x="125.6" y="1292.0" width="553.4" height="489.0" fill="none" stroke="#000" stroke-width="2.5"/>
<text x="122.10" y="1821.30" font-size="29.5" text-anchor="middle">720</text>
<text x="306.57" y="1821.30" font-size="29.5" text-anchor="middle">740</text>
<text x="491.03" y="1821.30" font-size="29.5" text-anchor="middle">760</text>
<text x="675.50" y="1821.30" font-size="29.5" text-anchor="middle">780</text>
<text x="117.30" y="1792.20" font-size="29.5" text-anchor="end">300</text>
<text x="117.30" y="1669.95" font-size="29.5" text-anchor="end">320</text>
<text x="117.30" y="1547.70" font-size="29.5" text-anchor="end">340</text>
<text x="117.30" y="1425.45" font-size="29.5" text-anchor="end">360</text>
<text x="117.30" y="1303.20" font-size="29.5" text-anchor="end">380</text>
<line x1="1022.10" y1="1781.0" x2="1022.10" y2="1774.0" stroke="#000" stroke-width="2.4"/>
<line x1="1208.10" y1="1781.0" x2="1208.10" y2="1774.0" stroke="#000" stroke-width="2.4"/>
<line x1="836.1" y1="1658.75" x2="843.1" y2="1658.75" stroke="#000" stroke-width="2.4"/>
<line x1="836.1" y1="1536.50" x2="843.1" y2="1536.50" stroke="#000" stroke-width="2.4"/>
<line x1="836.1" y1="1414.25" x2="843.1" y2="1414.25" stroke="#000" stroke-width="2.4"/>
<rect x="836.1" y="1292.0" width="557.9999999999999" height="489.0" fill="none" stroke="#000" stroke-width="2.5"/>
<text x="832.60" y="1821.30" font-size="29.5" text-anchor="middle">720</text>
<text x="1018.60" y="1821.30" font-size="29.5" text-anchor="middle">740</text>
<text x="1204.60" y="1821.30" font-size="29.5" text-anchor="middle">760</text>
<text x="1390.60" y="1821.30" font-size="29.5" text-anchor="middle">780</text>
<text x="827.80" y="1792.20" font-size="29.5" text-anchor="end">300</text>
<text x="827.80" y="1669.95" font-size="29.5" text-anchor="end">320</text>
<text x="827.80" y="1547.70" font-size="29.5" text-anchor="end">340</text>
<text x="827.80" y="1425.45" font-size="29.5" text-anchor="end">360</text>
<text x="827.80" y="1303.20" font-size="29.5" text-anchor="end">380</text>
<text x="338.62" y="625.00" font-size="29.5" font-style="italic">t</text>
<text x="348.15" y="635.00" font-size="21">S</text>
<text x="368.32" y="625.00" font-size="29.5">−</text>
<text x="392.22" y="625.00" font-size="29.5" font-style="italic">t</text>
<text x="401.52" y="635.00" font-size="21">P</text>
<text x="423.23" y="625.00" font-size="29.5">(s)</text>
<text x="1052.03" y="625.00" font-size="29.5" font-style="italic">t</text>
<text x="1061.55" y="635.00" font-size="21">S</text>
<text x="1081.73" y="625.00" font-size="29.5">−</text>
<text x="1105.62" y="625.00" font-size="29.5" font-style="italic">t</text>
<text x="1114.92" y="635.00" font-size="21">P</text>
<text x="1136.63" y="625.00" font-size="29.5">(s)</text>
<text x="325.32" y="1243.00" font-size="29.5" font-style="italic">t</text>
<text x="334.75" y="1252.60" font-size="21">SS</text>
<text x="368.52" y="1243.00" font-size="29.5">−</text>
<text x="392.62" y="1243.00" font-size="29.5" font-style="italic">t</text>
<text x="401.42" y="1252.60" font-size="21">PP</text>
<text x="437.33" y="1243.00" font-size="29.5">(s)</text>
<text x="1037.93" y="1243.00" font-size="29.5" font-style="italic">t</text>
<text x="1047.35" y="1252.60" font-size="21">SS</text>
<text x="1081.12" y="1243.00" font-size="29.5">−</text>
<text x="1105.23" y="1243.00" font-size="29.5" font-style="italic">t</text>
<text x="1114.02" y="1252.60" font-size="21">PP</text>
<text x="1149.93" y="1243.00" font-size="29.5">(s)</text>
<text x="325.32" y="1862.50" font-size="29.5" font-style="italic">t</text>
<text x="334.75" y="1872.10" font-size="21">SS</text>
<text x="368.52" y="1862.50" font-size="29.5">−</text>
<text x="392.62" y="1862.50" font-size="29.5" font-style="italic">t</text>
<text x="401.42" y="1872.10" font-size="21">PP</text>
<text x="437.33" y="1862.50" font-size="29.5">(s)</text>
<text x="1037.93" y="1862.50" font-size="29.5" font-style="italic">t</text>
<text x="1047.35" y="1872.10" font-size="21">SS</text>
<text x="1081.12" y="1862.50" font-size="29.5">−</text>
<text x="1105.23" y="1862.50" font-size="29.5" font-style="italic">t</text>
<text x="1114.02" y="1872.10" font-size="21">PP</text>
<text x="1149.93" y="1862.50" font-size="29.5">(s)</text>
<text transform="translate(31.70,446.18) rotate(-90)" font-size="29">Time after P wave (s)</text>
<text transform="translate(742.80,445.68) rotate(-90)" font-size="29">Time after P wave (s)</text>
<text transform="translate(31.60,1000.68) rotate(-90)" font-size="29.5" font-style="italic">t</text>
<text transform="translate(40.90,991.58) rotate(-90)" font-size="21">PP</text>
<text transform="translate(31.60,955.98) rotate(-90)" font-size="29.5">−</text>
<text transform="translate(31.60,931.77) rotate(-90)" font-size="29.5" font-style="italic">t</text>
<text transform="translate(40.90,921.28) rotate(-90)" font-size="21">Pdiff</text>
<text transform="translate(31.60,870.67) rotate(-90)" font-size="29.5">(s)</text>
<text transform="translate(742.80,1024.47) rotate(-90)" font-size="29.5" font-style="italic">t</text>
<text transform="translate(752.50,1015.18) rotate(-90)" font-size="21">PP</text>
<text transform="translate(742.80,981.27) rotate(-90)" font-size="29.5">−</text>
<text transform="translate(742.80,957.48) rotate(-90)" font-size="29.5" font-style="italic">t</text>
<text transform="translate(752.50,947.78) rotate(-90)" font-size="21">PbdiffPcP</text>
<text transform="translate(742.80,846.47) rotate(-90)" font-size="29.5">(s)</text>
<text transform="translate(31.30,1608.27) rotate(-90)" font-size="29.5" font-style="italic">t</text>
<text transform="translate(41.20,1599.35) rotate(-90)" font-size="21">SKS</text>
<text transform="translate(31.30,1558.17) rotate(-90)" font-size="29.5">−</text>
<text transform="translate(31.30,1532.38) rotate(-90)" font-size="29.5" font-style="italic">t</text>
<text transform="translate(41.20,1523.08) rotate(-90)" font-size="21">PP</text>
<text transform="translate(31.30,1487.97) rotate(-90)" font-size="29.5">(s)</text>
<text transform="translate(742.80,1610.67) rotate(-90)" font-size="29.5" font-style="italic">t</text>
<text transform="translate(752.80,1601.85) rotate(-90)" font-size="21">SKS</text>
<text transform="translate(742.80,1554.07) rotate(-90)" font-size="29.5">−</text>
<text transform="translate(742.80,1530.07) rotate(-90)" font-size="29.5" font-style="italic">t</text>
<text transform="translate(752.80,1520.88) rotate(-90)" font-size="21">PP</text>
<text transform="translate(742.80,1485.47) rotate(-90)" font-size="29.5">(s)</text>
<rect x="393.5" y="1900.7" width="656" height="32.8" fill="url(#cbar)" stroke="#000" stroke-width="2.4"/>
<line x1="393.50" y1="1933.5" x2="393.50" y2="1940" stroke="#000" stroke-width="2.4"/>
<text x="392.00" y="1968.7" font-size="29.5" text-anchor="middle">0</text>
<line x1="524.70" y1="1933.5" x2="524.70" y2="1940" stroke="#000" stroke-width="2.4"/>
<text x="523.20" y="1968.7" font-size="29.5" text-anchor="middle">0.2</text>
<line x1="655.90" y1="1933.5" x2="655.90" y2="1940" stroke="#000" stroke-width="2.4"/>
<text x="654.40" y="1968.7" font-size="29.5" text-anchor="middle">0.4</text>
<line x1="787.10" y1="1933.5" x2="787.10" y2="1940" stroke="#000" stroke-width="2.4"/>
<text x="785.60" y="1968.7" font-size="29.5" text-anchor="middle">0.6</text>
<line x1="918.30" y1="1933.5" x2="918.30" y2="1940" stroke="#000" stroke-width="2.4"/>
<text x="916.80" y="1968.7" font-size="29.5" text-anchor="middle">0.8</text>
<line x1="1049.50" y1="1933.5" x2="1049.50" y2="1940" stroke="#000" stroke-width="2.4"/>
<text x="1048.00" y="1968.7" font-size="29.5" text-anchor="middle">1.0</text>
<text x="716.8" y="2008.5" font-size="28.8" text-anchor="middle">PDF</text>
</svg></body></html>
